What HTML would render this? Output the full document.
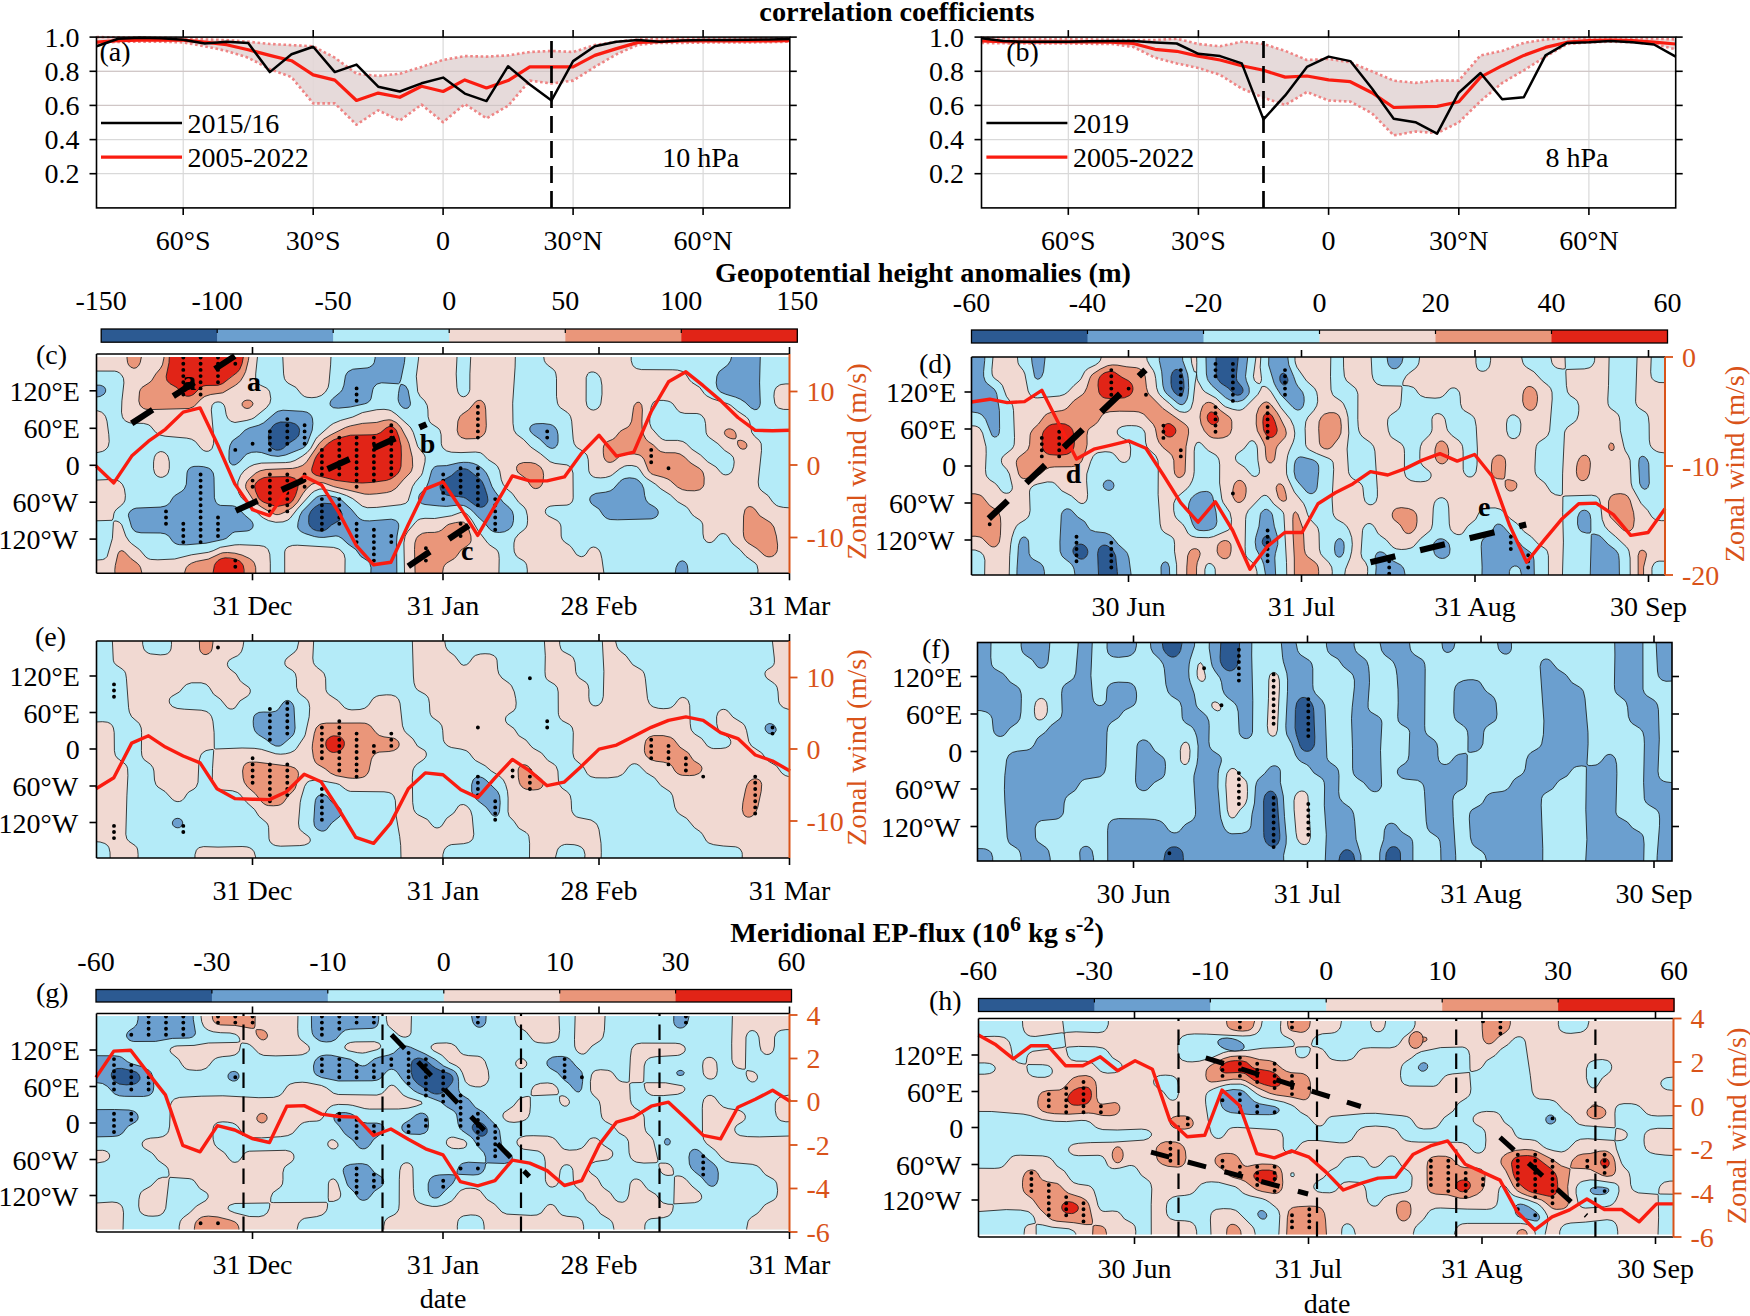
<!DOCTYPE html>
<html><head><meta charset="utf-8"><title>figure</title>
<style>html,body{margin:0;padding:0;background:#fff}svg{display:block}</style></head>
<body>
<svg width="1750" height="1316" viewBox="0 0 1750 1316" font-family="Liberation Serif, serif">
<rect width="1750" height="1316" fill="#fff"/>
<text x="897.0" y="21.3" font-size="28.3" text-anchor="middle" fill="#000" font-weight="bold" >correlation coefficients</text>
<text x="923.0" y="282.2" font-size="28.3" text-anchor="middle" fill="#000" font-weight="bold" >Geopotential height anomalies (m)</text>
<text x="917" y="942.2" font-size="28.3" text-anchor="middle" font-weight="bold">Meridional EP-flux (10<tspan dy="-11" font-size="22">6</tspan><tspan dy="11"> kg s</tspan><tspan dy="-11" font-size="22">-2</tspan><tspan dy="11">)</tspan></text>
<rect x="96.5" y="37.1" width="693.3" height="170.8" fill="#fff"/>
<line x1="96.5" y1="173.7" x2="789.8" y2="173.7" stroke="#d9d9d9" stroke-width="1.2" />
<line x1="96.5" y1="139.6" x2="789.8" y2="139.6" stroke="#d9d9d9" stroke-width="1.2" />
<line x1="96.5" y1="105.4" x2="789.8" y2="105.4" stroke="#d9d9d9" stroke-width="1.2" />
<line x1="96.5" y1="71.3" x2="789.8" y2="71.3" stroke="#d9d9d9" stroke-width="1.2" />
<line x1="183.2" y1="37.1" x2="183.2" y2="207.9" stroke="#d9d9d9" stroke-width="1.2" />
<line x1="313.2" y1="37.1" x2="313.2" y2="207.9" stroke="#d9d9d9" stroke-width="1.2" />
<line x1="443.1" y1="37.1" x2="443.1" y2="207.9" stroke="#d9d9d9" stroke-width="1.2" />
<line x1="573.1" y1="37.1" x2="573.1" y2="207.9" stroke="#d9d9d9" stroke-width="1.2" />
<line x1="703.1" y1="37.1" x2="703.1" y2="207.9" stroke="#d9d9d9" stroke-width="1.2" />
<polygon points="96.5,37.1 118.2,37.4 139.8,37.6 161.5,37.8 183.2,38.3 204.8,39.4 226.5,40.1 248.2,41.7 269.8,44.0 291.5,45.1 313.2,46.3 334.8,57.7 356.5,73.7 378.2,76.0 399.8,73.7 421.5,66.9 443.1,60.0 464.8,56.1 486.5,56.6 508.1,55.4 529.8,52.0 551.5,50.9 573.1,52.0 594.8,45.1 616.5,41.7 638.1,39.4 659.8,38.7 681.5,38.3 703.1,38.3 724.8,38.3 746.5,38.3 768.1,38.3 789.8,38.3 789.8,41.7 768.1,42.2 746.5,42.4 724.8,42.4 703.1,42.6 681.5,42.9 659.8,42.9 638.1,44.7 616.5,54.3 594.8,66.9 573.1,80.6 551.5,83.5 529.8,80.6 508.1,105.7 486.5,118.3 464.8,104.1 443.1,122.2 421.5,104.6 399.8,120.6 378.2,110.3 356.5,124.7 334.8,103.4 313.2,103.4 291.5,77.1 269.8,69.1 248.2,57.7 226.5,50.9 204.8,46.3 183.2,42.4 161.5,41.7 139.8,41.7 118.2,41.9 96.5,42.9" fill="#e3d6d6" fill-opacity="0.9"/>
<line x1="96.5" y1="105.4" x2="789.8" y2="105.4" stroke="#cfc4c4" stroke-width="1.0" />
<line x1="96.5" y1="71.3" x2="789.8" y2="71.3" stroke="#cfc4c4" stroke-width="1.0" />
<polyline points="96.5,37.1 118.2,37.4 139.8,37.6 161.5,37.8 183.2,38.3 204.8,39.4 226.5,40.1 248.2,41.7 269.8,44.0 291.5,45.1 313.2,46.3 334.8,57.7 356.5,73.7 378.2,76.0 399.8,73.7 421.5,66.9 443.1,60.0 464.8,56.1 486.5,56.6 508.1,55.4 529.8,52.0 551.5,50.9 573.1,52.0 594.8,45.1 616.5,41.7 638.1,39.4 659.8,38.7 681.5,38.3 703.1,38.3 724.8,38.3 746.5,38.3 768.1,38.3 789.8,38.3" fill="none" stroke="#ef8585" stroke-width="2.6" stroke-linejoin="round" stroke-dasharray="2.6 2.6"/>
<polyline points="96.5,42.9 118.2,41.9 139.8,41.7 161.5,41.7 183.2,42.4 204.8,46.3 226.5,50.9 248.2,57.7 269.8,69.1 291.5,77.1 313.2,103.4 334.8,103.4 356.5,124.7 378.2,110.3 399.8,120.6 421.5,104.6 443.1,122.2 464.8,104.1 486.5,118.3 508.1,105.7 529.8,80.6 551.5,83.5 573.1,80.6 594.8,66.9 616.5,54.3 638.1,44.7 659.8,42.9 681.5,42.9 703.1,42.6 724.8,42.4 746.5,42.4 768.1,42.2 789.8,41.7" fill="none" stroke="#ef8585" stroke-width="2.6" stroke-linejoin="round" stroke-dasharray="2.6 2.6"/>
<polyline points="96.5,42.2 118.2,40.6 139.8,40.1 161.5,40.1 183.2,40.1 204.8,42.2 226.5,44.7 248.2,49.7 269.8,55.4 291.5,60.7 313.2,74.9 334.8,80.1 356.5,100.5 378.2,93.1 399.8,97.3 421.5,86.3 443.1,91.5 464.8,79.9 486.5,87.9 508.1,80.6 529.8,66.9 551.5,66.9 573.1,66.9 594.8,55.4 616.5,48.6 638.1,42.4 659.8,41.7 681.5,41.0 703.1,40.8 724.8,40.8 746.5,40.8 768.1,40.8 789.8,40.6" fill="none" stroke="#fa1c10" stroke-width="3.2" stroke-linejoin="round" />
<polyline points="96.5,46.3 118.2,38.7 139.8,37.8 161.5,38.3 183.2,39.7 204.8,43.5 226.5,41.7 248.2,43.1 269.8,72.1 291.5,54.3 313.2,46.7 334.8,72.1 356.5,64.6 378.2,86.7 399.8,91.5 421.5,83.3 443.1,77.6 464.8,93.6 486.5,101.1 508.1,66.2 529.8,84.5 551.5,100.5 573.1,61.1 594.8,46.3 616.5,41.7 638.1,40.1 659.8,41.7 681.5,40.6 703.1,40.1 724.8,39.9 746.5,39.7 768.1,39.4 789.8,39.0" fill="none" stroke="#000" stroke-width="2.5" stroke-linejoin="round" />
<line x1="551.5" y1="207.9" x2="551.5" y2="37.1" stroke="#000" stroke-width="2.7" stroke-dasharray="17 8"/>
<rect x="96.5" y="37.1" width="693.3" height="170.8" fill="none" stroke="#000" stroke-width="1.6"/>
<line x1="89.5" y1="173.7" x2="96.5" y2="173.7" stroke="#000" stroke-width="1.6" />
<line x1="789.8" y1="173.7" x2="796.8" y2="173.7" stroke="#000" stroke-width="1.6" />
<text x="79.5" y="183.2" font-size="28" text-anchor="end" fill="#000" >0.2</text>
<line x1="89.5" y1="139.6" x2="96.5" y2="139.6" stroke="#000" stroke-width="1.6" />
<line x1="789.8" y1="139.6" x2="796.8" y2="139.6" stroke="#000" stroke-width="1.6" />
<text x="79.5" y="149.1" font-size="28" text-anchor="end" fill="#000" >0.4</text>
<line x1="89.5" y1="105.4" x2="96.5" y2="105.4" stroke="#000" stroke-width="1.6" />
<line x1="789.8" y1="105.4" x2="796.8" y2="105.4" stroke="#000" stroke-width="1.6" />
<text x="79.5" y="114.9" font-size="28" text-anchor="end" fill="#000" >0.6</text>
<line x1="89.5" y1="71.3" x2="96.5" y2="71.3" stroke="#000" stroke-width="1.6" />
<line x1="789.8" y1="71.3" x2="796.8" y2="71.3" stroke="#000" stroke-width="1.6" />
<text x="79.5" y="80.8" font-size="28" text-anchor="end" fill="#000" >0.8</text>
<line x1="89.5" y1="37.1" x2="96.5" y2="37.1" stroke="#000" stroke-width="1.6" />
<line x1="789.8" y1="37.1" x2="796.8" y2="37.1" stroke="#000" stroke-width="1.6" />
<text x="79.5" y="46.6" font-size="28" text-anchor="end" fill="#000" >1.0</text>
<line x1="183.2" y1="207.9" x2="183.2" y2="214.9" stroke="#000" stroke-width="1.6" />
<line x1="183.2" y1="30.1" x2="183.2" y2="37.1" stroke="#000" stroke-width="1.6" />
<text x="183.2" y="249.9" font-size="28" text-anchor="middle" fill="#000" >60°S</text>
<line x1="313.2" y1="207.9" x2="313.2" y2="214.9" stroke="#000" stroke-width="1.6" />
<line x1="313.2" y1="30.1" x2="313.2" y2="37.1" stroke="#000" stroke-width="1.6" />
<text x="313.2" y="249.9" font-size="28" text-anchor="middle" fill="#000" >30°S</text>
<line x1="443.1" y1="207.9" x2="443.1" y2="214.9" stroke="#000" stroke-width="1.6" />
<line x1="443.1" y1="30.1" x2="443.1" y2="37.1" stroke="#000" stroke-width="1.6" />
<text x="443.1" y="249.9" font-size="28" text-anchor="middle" fill="#000" >0</text>
<line x1="573.1" y1="207.9" x2="573.1" y2="214.9" stroke="#000" stroke-width="1.6" />
<line x1="573.1" y1="30.1" x2="573.1" y2="37.1" stroke="#000" stroke-width="1.6" />
<text x="573.1" y="249.9" font-size="28" text-anchor="middle" fill="#000" >30°N</text>
<line x1="703.1" y1="207.9" x2="703.1" y2="214.9" stroke="#000" stroke-width="1.6" />
<line x1="703.1" y1="30.1" x2="703.1" y2="37.1" stroke="#000" stroke-width="1.6" />
<text x="703.1" y="249.9" font-size="28" text-anchor="middle" fill="#000" >60°N</text>
<line x1="101.0" y1="122.9" x2="182.0" y2="122.9" stroke="#000" stroke-width="2.5" />
<line x1="101.0" y1="157.1" x2="182.0" y2="157.1" stroke="#fa1c10" stroke-width="3.2" />
<text x="187.5" y="132.5" font-size="28" text-anchor="start" fill="#000" >2015/16</text>
<text x="187.5" y="166.5" font-size="28" text-anchor="start" fill="#000" >2005-2022</text>
<text x="99.4" y="61.0" font-size="28" text-anchor="start" fill="#000" >(a)</text>
<text x="662.3" y="166.7" font-size="28" text-anchor="start" fill="#000" >10 hPa</text>
<rect x="981.5" y="37.1" width="694.2" height="170.8" fill="#fff"/>
<line x1="981.5" y1="173.7" x2="1675.7" y2="173.7" stroke="#d9d9d9" stroke-width="1.2" />
<line x1="981.5" y1="139.6" x2="1675.7" y2="139.6" stroke="#d9d9d9" stroke-width="1.2" />
<line x1="981.5" y1="105.4" x2="1675.7" y2="105.4" stroke="#d9d9d9" stroke-width="1.2" />
<line x1="981.5" y1="71.3" x2="1675.7" y2="71.3" stroke="#d9d9d9" stroke-width="1.2" />
<line x1="1068.3" y1="37.1" x2="1068.3" y2="207.9" stroke="#d9d9d9" stroke-width="1.2" />
<line x1="1198.4" y1="37.1" x2="1198.4" y2="207.9" stroke="#d9d9d9" stroke-width="1.2" />
<line x1="1328.6" y1="37.1" x2="1328.6" y2="207.9" stroke="#d9d9d9" stroke-width="1.2" />
<line x1="1458.8" y1="37.1" x2="1458.8" y2="207.9" stroke="#d9d9d9" stroke-width="1.2" />
<line x1="1588.9" y1="37.1" x2="1588.9" y2="207.9" stroke="#d9d9d9" stroke-width="1.2" />
<polygon points="981.5,37.8 1003.2,38.3 1024.9,38.7 1046.6,39.0 1068.3,39.2 1090.0,39.4 1111.7,39.7 1133.4,40.1 1155.0,40.1 1176.7,38.7 1198.4,44.0 1220.1,46.3 1241.8,41.7 1263.5,44.0 1285.2,50.9 1306.9,60.0 1328.6,58.9 1350.3,62.3 1372.0,71.4 1393.7,80.6 1415.4,82.9 1437.1,80.6 1458.8,80.6 1480.5,55.4 1502.2,50.9 1523.8,42.9 1545.5,39.4 1567.2,38.3 1588.9,38.1 1610.6,38.1 1632.3,38.3 1654.0,38.7 1675.7,39.4 1675.7,49.3 1654.0,44.0 1632.3,42.2 1610.6,41.7 1588.9,42.4 1567.2,44.0 1545.5,56.6 1523.8,70.3 1502.2,82.9 1480.5,101.1 1458.8,122.4 1437.1,133.1 1415.4,131.5 1393.7,135.4 1372.0,113.3 1350.3,101.6 1328.6,100.5 1306.9,92.0 1285.2,105.0 1263.5,97.7 1241.8,88.6 1220.1,74.9 1198.4,68.0 1176.7,63.4 1155.0,57.7 1133.4,47.0 1111.7,44.0 1090.0,43.8 1068.3,43.5 1046.6,43.5 1024.9,43.5 1003.2,43.3 981.5,42.9" fill="#e3d6d6" fill-opacity="0.9"/>
<line x1="981.5" y1="105.4" x2="1675.7" y2="105.4" stroke="#cfc4c4" stroke-width="1.0" />
<line x1="981.5" y1="71.3" x2="1675.7" y2="71.3" stroke="#cfc4c4" stroke-width="1.0" />
<polyline points="981.5,37.8 1003.2,38.3 1024.9,38.7 1046.6,39.0 1068.3,39.2 1090.0,39.4 1111.7,39.7 1133.4,40.1 1155.0,40.1 1176.7,38.7 1198.4,44.0 1220.1,46.3 1241.8,41.7 1263.5,44.0 1285.2,50.9 1306.9,60.0 1328.6,58.9 1350.3,62.3 1372.0,71.4 1393.7,80.6 1415.4,82.9 1437.1,80.6 1458.8,80.6 1480.5,55.4 1502.2,50.9 1523.8,42.9 1545.5,39.4 1567.2,38.3 1588.9,38.1 1610.6,38.1 1632.3,38.3 1654.0,38.7 1675.7,39.4" fill="none" stroke="#ef8585" stroke-width="2.6" stroke-linejoin="round" stroke-dasharray="2.6 2.6"/>
<polyline points="981.5,42.9 1003.2,43.3 1024.9,43.5 1046.6,43.5 1068.3,43.5 1090.0,43.8 1111.7,44.0 1133.4,47.0 1155.0,57.7 1176.7,63.4 1198.4,68.0 1220.1,74.9 1241.8,88.6 1263.5,97.7 1285.2,105.0 1306.9,92.0 1328.6,100.5 1350.3,101.6 1372.0,113.3 1393.7,135.4 1415.4,131.5 1437.1,133.1 1458.8,122.4 1480.5,101.1 1502.2,82.9 1523.8,70.3 1545.5,56.6 1567.2,44.0 1588.9,42.4 1610.6,41.7 1632.3,42.2 1654.0,44.0 1675.7,49.3" fill="none" stroke="#ef8585" stroke-width="2.6" stroke-linejoin="round" stroke-dasharray="2.6 2.6"/>
<polyline points="981.5,41.0 1003.2,41.7 1024.9,41.9 1046.6,41.9 1068.3,41.9 1090.0,41.9 1111.7,42.2 1133.4,43.5 1155.0,49.3 1176.7,51.3 1198.4,56.1 1220.1,60.0 1241.8,65.7 1263.5,70.3 1285.2,77.1 1306.9,76.0 1328.6,79.9 1350.3,81.7 1372.0,92.7 1393.7,107.5 1415.4,106.9 1437.1,106.4 1458.8,101.8 1480.5,77.1 1502.2,65.7 1523.8,55.4 1545.5,47.4 1567.2,42.2 1588.9,40.6 1610.6,40.1 1632.3,40.6 1654.0,42.2 1675.7,44.0" fill="none" stroke="#fa1c10" stroke-width="3.2" stroke-linejoin="round" />
<polyline points="981.5,38.3 1003.2,41.0 1024.9,41.7 1046.6,41.7 1068.3,41.7 1090.0,41.3 1111.7,41.0 1133.4,41.0 1155.0,42.4 1176.7,43.5 1198.4,53.8 1220.1,56.1 1241.8,63.4 1263.5,119.4 1285.2,95.4 1306.9,66.9 1328.6,56.6 1350.3,61.1 1372.0,88.6 1393.7,118.7 1415.4,122.2 1437.1,133.6 1458.8,92.7 1480.5,73.0 1502.2,99.3 1523.8,97.3 1545.5,55.4 1567.2,42.9 1588.9,42.2 1610.6,41.0 1632.3,42.2 1654.0,44.5 1675.7,56.6" fill="none" stroke="#000" stroke-width="2.5" stroke-linejoin="round" />
<line x1="1263.5" y1="207.9" x2="1263.5" y2="37.1" stroke="#000" stroke-width="2.7" stroke-dasharray="17 8"/>
<rect x="981.5" y="37.1" width="694.2" height="170.8" fill="none" stroke="#000" stroke-width="1.6"/>
<line x1="974.5" y1="173.7" x2="981.5" y2="173.7" stroke="#000" stroke-width="1.6" />
<line x1="1675.7" y1="173.7" x2="1682.7" y2="173.7" stroke="#000" stroke-width="1.6" />
<text x="964.0" y="183.2" font-size="28" text-anchor="end" fill="#000" >0.2</text>
<line x1="974.5" y1="139.6" x2="981.5" y2="139.6" stroke="#000" stroke-width="1.6" />
<line x1="1675.7" y1="139.6" x2="1682.7" y2="139.6" stroke="#000" stroke-width="1.6" />
<text x="964.0" y="149.1" font-size="28" text-anchor="end" fill="#000" >0.4</text>
<line x1="974.5" y1="105.4" x2="981.5" y2="105.4" stroke="#000" stroke-width="1.6" />
<line x1="1675.7" y1="105.4" x2="1682.7" y2="105.4" stroke="#000" stroke-width="1.6" />
<text x="964.0" y="114.9" font-size="28" text-anchor="end" fill="#000" >0.6</text>
<line x1="974.5" y1="71.3" x2="981.5" y2="71.3" stroke="#000" stroke-width="1.6" />
<line x1="1675.7" y1="71.3" x2="1682.7" y2="71.3" stroke="#000" stroke-width="1.6" />
<text x="964.0" y="80.8" font-size="28" text-anchor="end" fill="#000" >0.8</text>
<line x1="974.5" y1="37.1" x2="981.5" y2="37.1" stroke="#000" stroke-width="1.6" />
<line x1="1675.7" y1="37.1" x2="1682.7" y2="37.1" stroke="#000" stroke-width="1.6" />
<text x="964.0" y="46.6" font-size="28" text-anchor="end" fill="#000" >1.0</text>
<line x1="1068.3" y1="207.9" x2="1068.3" y2="214.9" stroke="#000" stroke-width="1.6" />
<line x1="1068.3" y1="30.1" x2="1068.3" y2="37.1" stroke="#000" stroke-width="1.6" />
<text x="1068.3" y="249.9" font-size="28" text-anchor="middle" fill="#000" >60°S</text>
<line x1="1198.4" y1="207.9" x2="1198.4" y2="214.9" stroke="#000" stroke-width="1.6" />
<line x1="1198.4" y1="30.1" x2="1198.4" y2="37.1" stroke="#000" stroke-width="1.6" />
<text x="1198.4" y="249.9" font-size="28" text-anchor="middle" fill="#000" >30°S</text>
<line x1="1328.6" y1="207.9" x2="1328.6" y2="214.9" stroke="#000" stroke-width="1.6" />
<line x1="1328.6" y1="30.1" x2="1328.6" y2="37.1" stroke="#000" stroke-width="1.6" />
<text x="1328.6" y="249.9" font-size="28" text-anchor="middle" fill="#000" >0</text>
<line x1="1458.8" y1="207.9" x2="1458.8" y2="214.9" stroke="#000" stroke-width="1.6" />
<line x1="1458.8" y1="30.1" x2="1458.8" y2="37.1" stroke="#000" stroke-width="1.6" />
<text x="1458.8" y="249.9" font-size="28" text-anchor="middle" fill="#000" >30°N</text>
<line x1="1588.9" y1="207.9" x2="1588.9" y2="214.9" stroke="#000" stroke-width="1.6" />
<line x1="1588.9" y1="30.1" x2="1588.9" y2="37.1" stroke="#000" stroke-width="1.6" />
<text x="1588.9" y="249.9" font-size="28" text-anchor="middle" fill="#000" >60°N</text>
<line x1="986.4" y1="122.9" x2="1067.4" y2="122.9" stroke="#000" stroke-width="2.5" />
<line x1="986.4" y1="157.1" x2="1067.4" y2="157.1" stroke="#fa1c10" stroke-width="3.2" />
<text x="1072.9" y="132.5" font-size="28" text-anchor="start" fill="#000" >2019</text>
<text x="1072.9" y="166.5" font-size="28" text-anchor="start" fill="#000" >2005-2022</text>
<text x="1006.3" y="61.0" font-size="28" text-anchor="start" fill="#000" >(b)</text>
<text x="1545.5" y="166.7" font-size="28" text-anchor="start" fill="#000" >8 hPa</text>
<rect x="101.2" y="329" width="116.5" height="13.2" fill="#2c5a92"/>
<rect x="217.2" y="329" width="116.5" height="13.2" fill="#6b9fcf"/>
<rect x="333.2" y="329" width="116.5" height="13.2" fill="#b4ebf8"/>
<rect x="449.2" y="329" width="116.5" height="13.2" fill="#f1d9d2"/>
<rect x="565.3" y="329" width="116.5" height="13.2" fill="#ea967a"/>
<rect x="681.3" y="329" width="116.5" height="13.2" fill="#e12417"/>
<rect x="101.2" y="329" width="696.1" height="13.2" fill="none" stroke="#000" stroke-width="1.3"/>
<text x="101.2" y="310.2" font-size="28" text-anchor="middle" fill="#000" >-150</text>
<line x1="217.2" y1="329.0" x2="217.2" y2="333.0" stroke="#000" stroke-width="1.2" />
<text x="217.2" y="310.2" font-size="28" text-anchor="middle" fill="#000" >-100</text>
<line x1="333.2" y1="329.0" x2="333.2" y2="333.0" stroke="#000" stroke-width="1.2" />
<text x="333.2" y="310.2" font-size="28" text-anchor="middle" fill="#000" >-50</text>
<line x1="449.2" y1="329.0" x2="449.2" y2="333.0" stroke="#000" stroke-width="1.2" />
<text x="449.2" y="310.2" font-size="28" text-anchor="middle" fill="#000" >0</text>
<line x1="565.3" y1="329.0" x2="565.3" y2="333.0" stroke="#000" stroke-width="1.2" />
<text x="565.3" y="310.2" font-size="28" text-anchor="middle" fill="#000" >50</text>
<line x1="681.3" y1="329.0" x2="681.3" y2="333.0" stroke="#000" stroke-width="1.2" />
<text x="681.3" y="310.2" font-size="28" text-anchor="middle" fill="#000" >100</text>
<text x="797.3" y="310.2" font-size="28" text-anchor="middle" fill="#000" >150</text>
<rect x="971.5" y="330" width="116.5" height="13.0" fill="#2c5a92"/>
<rect x="1087.5" y="330" width="116.5" height="13.0" fill="#6b9fcf"/>
<rect x="1203.5" y="330" width="116.5" height="13.0" fill="#b4ebf8"/>
<rect x="1319.5" y="330" width="116.5" height="13.0" fill="#f1d9d2"/>
<rect x="1435.5" y="330" width="116.5" height="13.0" fill="#ea967a"/>
<rect x="1551.5" y="330" width="116.5" height="13.0" fill="#e12417"/>
<rect x="971.5" y="330" width="696.0" height="13.0" fill="none" stroke="#000" stroke-width="1.3"/>
<text x="971.5" y="311.7" font-size="28" text-anchor="middle" fill="#000" >-60</text>
<line x1="1087.5" y1="330.0" x2="1087.5" y2="334.0" stroke="#000" stroke-width="1.2" />
<text x="1087.5" y="311.7" font-size="28" text-anchor="middle" fill="#000" >-40</text>
<line x1="1203.5" y1="330.0" x2="1203.5" y2="334.0" stroke="#000" stroke-width="1.2" />
<text x="1203.5" y="311.7" font-size="28" text-anchor="middle" fill="#000" >-20</text>
<line x1="1319.5" y1="330.0" x2="1319.5" y2="334.0" stroke="#000" stroke-width="1.2" />
<text x="1319.5" y="311.7" font-size="28" text-anchor="middle" fill="#000" >0</text>
<line x1="1435.5" y1="330.0" x2="1435.5" y2="334.0" stroke="#000" stroke-width="1.2" />
<text x="1435.5" y="311.7" font-size="28" text-anchor="middle" fill="#000" >20</text>
<line x1="1551.5" y1="330.0" x2="1551.5" y2="334.0" stroke="#000" stroke-width="1.2" />
<text x="1551.5" y="311.7" font-size="28" text-anchor="middle" fill="#000" >40</text>
<text x="1667.5" y="311.7" font-size="28" text-anchor="middle" fill="#000" >60</text>
<rect x="96.0" y="989.5" width="116.4" height="12.5" fill="#2c5a92"/>
<rect x="211.9" y="989.5" width="116.4" height="12.5" fill="#6b9fcf"/>
<rect x="327.8" y="989.5" width="116.4" height="12.5" fill="#b4ebf8"/>
<rect x="443.8" y="989.5" width="116.4" height="12.5" fill="#f1d9d2"/>
<rect x="559.7" y="989.5" width="116.4" height="12.5" fill="#ea967a"/>
<rect x="675.6" y="989.5" width="116.4" height="12.5" fill="#e12417"/>
<rect x="96" y="989.5" width="695.5" height="12.5" fill="none" stroke="#000" stroke-width="1.3"/>
<text x="96.0" y="971.2" font-size="28" text-anchor="middle" fill="#000" >-60</text>
<line x1="211.9" y1="989.5" x2="211.9" y2="993.5" stroke="#000" stroke-width="1.2" />
<text x="211.9" y="971.2" font-size="28" text-anchor="middle" fill="#000" >-30</text>
<line x1="327.8" y1="989.5" x2="327.8" y2="993.5" stroke="#000" stroke-width="1.2" />
<text x="327.8" y="971.2" font-size="28" text-anchor="middle" fill="#000" >-10</text>
<line x1="443.8" y1="989.5" x2="443.8" y2="993.5" stroke="#000" stroke-width="1.2" />
<text x="443.8" y="971.2" font-size="28" text-anchor="middle" fill="#000" >0</text>
<line x1="559.7" y1="989.5" x2="559.7" y2="993.5" stroke="#000" stroke-width="1.2" />
<text x="559.7" y="971.2" font-size="28" text-anchor="middle" fill="#000" >10</text>
<line x1="675.6" y1="989.5" x2="675.6" y2="993.5" stroke="#000" stroke-width="1.2" />
<text x="675.6" y="971.2" font-size="28" text-anchor="middle" fill="#000" >30</text>
<text x="791.5" y="971.2" font-size="28" text-anchor="middle" fill="#000" >60</text>
<rect x="978.5" y="998.5" width="116.4" height="13.0" fill="#2c5a92"/>
<rect x="1094.4" y="998.5" width="116.4" height="13.0" fill="#6b9fcf"/>
<rect x="1210.3" y="998.5" width="116.4" height="13.0" fill="#b4ebf8"/>
<rect x="1326.2" y="998.5" width="116.4" height="13.0" fill="#f1d9d2"/>
<rect x="1442.2" y="998.5" width="116.4" height="13.0" fill="#ea967a"/>
<rect x="1558.1" y="998.5" width="116.4" height="13.0" fill="#e12417"/>
<rect x="978.5" y="998.5" width="695.5" height="13.0" fill="none" stroke="#000" stroke-width="1.3"/>
<text x="978.5" y="979.7" font-size="28" text-anchor="middle" fill="#000" >-60</text>
<line x1="1094.4" y1="998.5" x2="1094.4" y2="1002.5" stroke="#000" stroke-width="1.2" />
<text x="1094.4" y="979.7" font-size="28" text-anchor="middle" fill="#000" >-30</text>
<line x1="1210.3" y1="998.5" x2="1210.3" y2="1002.5" stroke="#000" stroke-width="1.2" />
<text x="1210.3" y="979.7" font-size="28" text-anchor="middle" fill="#000" >-10</text>
<line x1="1326.2" y1="998.5" x2="1326.2" y2="1002.5" stroke="#000" stroke-width="1.2" />
<text x="1326.2" y="979.7" font-size="28" text-anchor="middle" fill="#000" >0</text>
<line x1="1442.2" y1="998.5" x2="1442.2" y2="1002.5" stroke="#000" stroke-width="1.2" />
<text x="1442.2" y="979.7" font-size="28" text-anchor="middle" fill="#000" >10</text>
<line x1="1558.1" y1="998.5" x2="1558.1" y2="1002.5" stroke="#000" stroke-width="1.2" />
<text x="1558.1" y="979.7" font-size="28" text-anchor="middle" fill="#000" >30</text>
<text x="1674.0" y="979.7" font-size="28" text-anchor="middle" fill="#000" >60</text>
<clipPath id="clipc"><rect x="96.5" y="357" width="693.0" height="216.3"/></clipPath>
<rect x="96.5" y="354" width="693.0" height="219.3" fill="#fff"/>
<g clip-path="url(#clipc)">
<rect x="96.5" y="357" width="693.0" height="216.3" fill="#b4ebf8"/>
<path d="M295 423.8l2.6 1.9l1.4 2.3l0.6 2.2l-0.6 4.5l-1.6 2.5l-2.3 2l-6.9 4.5l-4.9 4.6l-2.7 1.4l-2.4 0.5l-2.4-0.1l-3.8-1.8l-2-2.3l-1-2.3l-0.7-6.7l0.7-4.5l0.8-2.3l3.3-4.5l2.7-2.1l4.8-1.6l9.6 0.3zM441.4 482l2.4-2.2l7.6-4.2l4.8-4.2l2.4-1.5l4.9-1.2l2.4 0.3l2.4 0.9l12 9.5l2 2.6l2.1 4.6l2.9 9l0.6 4.5l-0.4 2.2l-2.4 3.4l-2.4 1.3l-2.4 0.3l-4.8-1.8l-9.6-7.1l-2.4-1l-4.9-0.9l-7.2-0.4l-4.8-1.1l-3.1-1.7l-2.1-2.2l-1-2.3l-0.3-2.2l0.3-2.3zM335.9 505.5l4 3.6l2.1 4.5l0.1 2.2l-0.7 2.3l-1.9 2.3l-7.8 4.5l-5.2 4.5l-2.6 1.2l-2.4 0.6l-4.8-0.5l-3.4-1.3l-2.7-2.3l-1.3-2.2l-0.7-2.3l0.2-6.8l2-4.5l3.5-3.8l4.8-3.1l4.8-1.1l7.2 0.4z" fill="#2c5a92" fill-rule="evenodd"/>
<path d="M405.7 344.6l-0.4 9l-0.9 9l-3.5 16.9l-1.3 3.4l-1.1 0.9l-16.9-1l-4.8 1.3l-3.1 3.3l-0.9 2.3l-1.8 9l-1.3 2.2l-2.5 2l-2.4 0.9l-16.8 3.7l-7.3 0.6l-7.2-0.3l-3.2-2.4l-0.3-2.2l0.8-2.3l2.7-3l7.2-6l1.6-2.2l1.6-4.5l1.5-9l1-2.3l1.8-2.3l2.2-1.4l4.8-1.5l12-0.8l2.5-0.8l3.1-2.2l1.4-2.3l0.9-4.5l0.3-13.5zM732.3 344.6l28.3 0l-1 38.3l0.7 20.3l-0.9 3.6l-2.4 2.6l-2.4 0.3l-2.4-1l-7.2-6.5l-4.8-3.1l-4.8-2l-9.8-2.9l-4.7-2l-2.7-2.5l-1.2-2.3l-0.8-4.5l0.7-6.7l2.3-4.6l8.6-6.7l2.7-4.2l1.3-4.8zM83.3 384.8l14.4 0.1l4.8 1.1l2.4 1.8l0.8 1.9l-0.2 2.2l-1.5 2.3l-3.9 2.3l-4.8 0.7l-12 0zM400.9 384.3l2.4 0.5l2.4 1.3l2.4 4.1l2.4 13l-0.4 2.2l-2 2.6l-2.4 0.5l-2.4-0.6l-2.9-2.5l-1.9-3.8l-0.4-2.9l0.4-5.3l1-6zM311.8 416.7l0.7 2.3l0.4 4.5l-0.7 6.7l-5 13.5l-2.6 3.2l-2 1.4l-16.9 6.7l-7.5 1.4l-7.2-0.8l-9.7-3.1l-4.8-0.5l-4.8 0.3l-4.8 1.7l-2.4 2.1l-4.8 5.6l-3.1 2.3l-1.7 0.9l-2.4 0l-2.5-1.9l-1.1-3.5l0.2-9l0.9-5.2l2.5-4.5l7.2-5.3l5.3-5.3l4.3-2.3l9.6-2.7l4.8-2.4l12.1-10.3l2.4-1.3l4.8-1l19.2 1.1l4.8 0.9l3.4 2.3zM295 423.8l-4.8-1.5l-9.6-0.3l-4.8 1.6l-2.7 2.1l-3.3 4.5l-0.8 2.3l-0.7 4.5l0.7 6.7l1 2.3l2 2.3l3.8 1.8l2.4 0.1l2.4-0.5l2.7-1.4l4.9-4.6l6.9-4.5l2.3-2l1.6-2.5l0.6-4.5l-0.6-2.2l-1.4-2.3zM531.2 425.7l2-1.2l2.4-0.7l7.3-0.3l7.2 0.9l2.4 0.9l2.4 1.7l2.1 3.2l1 4.5l0.1 6.8l-0.4 2.2l-1.1 2.3l-1.7 1.6l-2.4 0.8l-2.4-0.4l-3.3-2l-6.9-6.8l-6.3-4.5l-2.4-2.2l-1.3-2.3l-0.1-2.2zM433 468.5l1.6-1.5l2.4-1l9.6-0.4l12-2.8l4.9-0.5l4.8 0.1l4.8 0.9l4.8 2l4.8 3.5l3.6 4.2l2.3 4.5l3.4 9.1l2.7 4.5l8.5 11.2l6 5.2l3.1 3.8l1.2 4.5l0 4.6l-1 4.5l-1.3 2.2l-2.1 2.3l-4.7 2.4l-4.9 0.7l-4.8-0.4l-2.4-1l-2.4-1.7l-5.6-6.8l-6.4-5.8l-5.1-5.5l-2.6-2.2l-4.3-2.7l-2.4-0.9l-4.9-0.5l-12 1.4l-7.2-0.4l-14.4-1.5l-2.5-0.7l-2.4-1.4l-1.2-2.3l-0.3-2.3l0.5-2.2l1.3-2.3l4.6-4.4l1.6-2.3l1.9-4.6l3.1-11.2zM441.4 482l-1 2.3l-0.3 2.3l0.3 2.2l1 2.3l2.1 2.2l3.1 1.7l4.8 1.1l7.2 0.4l4.9 0.9l2.4 1l9.6 7.1l4.8 1.8l2.4-0.3l2.4-1.3l2.4-3.4l0.4-2.2l-0.6-4.5l-2.9-9l-2.1-4.6l-2-2.6l-12-9.5l-2.4-0.9l-2.4-0.3l-4.9 1.2l-2.4 1.5l-4.8 4.2l-7.6 4.2zM253.2 524.9l-0.3 2.2l-1.2 1.8l-2.4 1.5l-2.4 0.6l-12 0.9l-2.4 1l-6.3 5.5l-3.4 1.2l-16.8 3.6l-19.3 1.6l-7.2-0.1l-2.4-0.5l-2.8-1.3l-2-2l-3.4-4.8l-3.8-2.3l-4.8-0.8l-19.3-0.2l-4.8-0.9l-2.4-1.6l-2.2-3.2l-3.2-11.3l0.3-2.2l1.4-2.3l3-2.2l3.1-1l24.1-1l4.8-1l2.4-1.2l2.4-2.4l2.9-4.7l1.9-2.1l7.2-4.5l2.5-2.4l1.9-4.5l0.7-11.3l0.6-2.2l1.5-2.2l2.4-1.5l2.5-0.7l4.9-0.1l4.7 0.4l4.8 1.3l2.4 1.5l2.4 3.5l0.8 4.5l0.4 20.3l1.5 4.5l2.1 2.1l2.4 1l12.1 0.4l2.4 0.6l2.4 1.3l2.4 2l4.8 5.2l6.5 5.5l1.5 2.2zM590 497.8l1.5-2.2l4.3-2.2l9.6-1.2l4.8-1.3l3.2-2.1l6.5-7.3l2.4-1.9l2.4-1.1l4.8-0.7l4.8 0.6l2.4 0.9l2.4 1.8l2.8 3.2l1.9 4.5l0.9 6.8l1.3 4.5l2.7 3.4l5.7 3.3l2.7 2.3l1.1 2.2l0 2.3l-1 2.2l-1.2 1.2l-2.5 1.3l-2.4 0.6l-33.6 0.9l-7.3-0.3l-2.4-0.7l-2.4-1.3l-2.4-2.5l-3.9-5.9l-6.6-4.5l-1.5-1.6l-1.3-2.9zM302.3 511.3l12-12.2l2.4-1.9l4.8-1.8l4.8 0l9.6 1.8l5.7 2.9l9.6 9l6.4 7.7l2.4 2.1l2.4 1.2l2.4 0.6l4.8 0.2l21.7-1.7l2.4 0.4l2.4 1l1.9 2l0.7 2.3l-2 15.7l0.3 45.1l-26.5 0l0.5-18l-1.2-4.5l-2-2.3l-7-4.5l-4.9-6.8l-7.9-5.6l-7.3-6.6l-2.4-1.1l-2.4-0.4l-12 1.5l-7.2-0.5l-9.7-2.5l-5.9-2.8l-2.4-2.2l-1-2.3l-0.1-2.2l2.2-9.1zM335.9 505.5l-4.8-1.8l-7.2-0.4l-4.8 1.1l-4.8 3.1l-3.5 3.8l-2 4.5l-0.2 6.8l0.7 2.3l1.3 2.2l2.7 2.3l3.4 1.3l4.8 0.5l2.4-0.6l2.6-1.2l5.2-4.5l7.8-4.5l1.9-2.3l0.7-2.3l-0.1-2.2l-2.1-4.5zM684.8 561.7l2.4 3.5l0.5 2.5l-0.3 18l-12.6 0l0.5-13.5l1.4-6.8l1.4-2.2l1.9-1.7l2.4-0.7z" fill="#6b9fcf" fill-rule="evenodd"/>
<path d="M83.3 344.6l44.1 0l-0.4 13.5l0.6 4.5l1 2.3l2.1 2.2l3.1 1.2l2.4-0.5l2.4-2.1l1.6-3.1l1.4-6.7l0.8-11.3l22.2 0l-0.7 13.5l-1.5 6.8l-2.1 3.7l-4.5 5.3l-4.2 6.8l-2.6 2.2l-7 4.5l-1.7 2.3l-0.8 2.2l-0.7 9l1.3 4.5l3.3 3l2.4 0.8l4.8 0.4l38.5-1.1l4.9-2l7.5-7.8l4.5-2.8l4.8-1.4l9.6-1l4.8-1.8l13.3-8.8l2.1-2.2l2.8-4.5l2.9-6.8l1.7-6.8l1.4-9l0.6-9l8.2 0l-0.4 9l-2.1 20.3l0 4.5l0.4 2.3l1.3 2.2l3.1 2.3l5.6 2.6l2.3 1.9l1.3 2.2l1.1 6.8l-0.9 4.5l-3.4 4.5l-12.4 10.1l-2.4 1.2l-4.8 1.4l-12 2.1l-4.2-1.3l-3.1-3.1l-1.4-3.6l-1.2-6.8l-0.8-2.3l-1.4-1.8l-2.4-1.4l-2.4-0.3l-2.4 0.4l-1.8 0.9l-1.7 2.2l-0.8 4.5l2.4 27.1l-0.1 6.7l-0.4 2.3l-2.4 3.9l-2.4 1.3l-2.4 0.1l-2.4-0.8l-2.4-1.9l-4.8-6.2l-2.4-2l-2.5-1.2l-4.8-1.1l-21.6-1.9l-4.8-1.1l-4.5-2.6l-5.2-6.3l-2.4-1.6l-4.8-1.2l-12-0.3l-2.4-0.5l-3.1-1.4l-2.4-2.2l-1.1-2.3l-0.9-4.5l0.4-11.3l2-18l-0.4-4.5l-1-2.2l-3.1-3.3l-2.4-1.3l-2.5-0.5l-31.2-0.1zM242.2 403.2l0 2.2l1.9 2.3l2.8 0.8l2.4-0.4l3.2-2.7l0.5-2.2l-1.8-2.3l-1.9-0.7l-2.4-0.1l-2.7 0.8zM282.2 344.6l49.3 0l-0.5 15.8l-2.3 24.6l-1.6 4.7l-3.2 3.8l-2.4 1.9l-4.8 1.8l-7.2 0.4l-4.9-1l-3.2-2.4l-5.5-6.8l-8.1-4.4l-2.3-2.3l-1.1-2.3l-0.8-4.5zM419.3 344.6l38.3 0l-1.4 29.3l0.7 13.5l1 4.5l1.1 2.3l2 1.9l2.5 0.7l2.4-0.8l2-1.8l1.3-2.3l0.6-2.2l0.1-15.8l1.4-29.3l44.3 0l-0.5 22.5l-2.4 36.1l0.3 20.3l1 6.7l2.4 3.9l7.2 5.4l7.2 7.5l9.7 6.7l9.6 8l4.8 1.7l12 1.5l2.6 1.4l2 2.2l1.5 4.5l0.2 24.8l-0.4 2.3l-1 2.2l-2.5 2l-2.4 0.8l-12 0.5l-4.8 0.6l-2.4 1.1l-1.8 1.8l-0.6 2.5l0.6 2l2.1 2.2l9 4.6l2.4 2.2l1.2 2.3l0.4 2.2l0.2 9l0.9 3l2.4 2.9l4.8 3.2l2.3 2.2l4.9 7.2l3.4 1.8l1.5 0.3l2.4-0.6l2.4-2.1l2.6-4.4l2.2-1.9l2.4-0.7l2.4 0.5l2.9 2.1l1.9 3.4l1.3 5.7l2.2 15.7l0.6 11.3l-77.6 0l0.2-15.8l-0.6-4.5l-0.9-2.2l-2-2.3l-5-2.9l-2.4-1.9l-2.1-4.2l-0.4-4.5l0.1-4.5l1.2-4.5l3.6-4.5l5.7-4.5l1.8-2.3l0.9-2.2l0.4-4.5l-0.2-4.6l-1.4-5.9l-2.1-3.1l-5.2-4.5l-6.5-9l-5.5-4.5l-3.6-4.5l-1.8-4.5l-1.6-9l-2.2-4.5l-2.4-2.3l-7-4.5l-5.4-5.4l-2.4-1.4l-4.8-0.7l-14.5 0.6l-9.6-0.4l-4.8-1.3l-3.4-2.6l-1.3-2.3l-0.6-2.3l-0.2-9l-1.2-4.5l-1.9-2.2l-6.8-4.5l-1.8-2.3l-1.3-4.5l-0.2-6.8l-0.7-4.5l-2.5-4.5l-4.6-4.6l-2.4-4.6l-1.4-15.5l2.3-18.1zM481.8 400.9l-1.5-0.6l-2.4 0.2l-2.4 1.3l-7 8.1l-6.7 4.6l-2 2.2l-1.9 4.5l-0.7 9l1.2 4.5l2.6 2.7l4.9 1.5l9.6-0.3l5.4-1.6l2.8-2.3l1.4-2.2l0.7-2.3l0.5-4.5l-0.6-15.8l-0.7-4.5l-1-2.2zM518.8 464l-1.9 2.3l-0.4 2.2l0.5 2.3l1.5 2.2l7.5 5.5l4.8 7.3l2.4 2.2l2.4 0.6l2.4-0.4l2.5-1.5l1.6-2.4l0.9-2.3l0.6-6.7l-0.7-4.5l-2.4-3.9l-4.9-3.2l-4.8-1.1l-7.2-0.1zM543.5 344.6l87.7 0l0 15.8l1.3 4.5l1.8 2.2l2.4 1.5l4.8 1l31.3 0.2l4.8 0.3l4.8 1.3l3.2 2.5l4 6.2l2.4 2.4l7.7 4.9l4.4 6l2.4 2.4l5.6 2.9l16 5.2l2.8 1.5l6.9 5.8l8.2 5.5l2.2 2.3l1.3 2.2l2.3 11.3l2.8 3.8l4.8 4.2l1.8 3.2l0.3 6.8l-3.3 31.5l0.6 4.6l1.1 2.2l2.1 2.3l6.1 4.5l4.8 6.7l3.4 3l2.4 1.1l4.8 1l19.2 1.4l0 76.9l-45.5 0l0.8-15.8l-1-4.5l-1.7-2.2l-9.3-6.8l-6.1-6.8l-6.9-5.6l-2.5-3.1l-2.4-4.3l-2.4-2.3l-2.4-0.8l-2.5 0.4l-2.3 1.5l-4.8 5.6l-2.4 1.4l-2.4 0.2l-2.4-0.8l-2.7-3.4l-0.8-4.5l-0.2-9l-0.8-2.3l-1.6-2.2l-5.9-3.9l-2.5-2.1l-3.5-5.3l-2.1-2.3l-8.8-5.1l-7.2-6.8l-9.6-6.1l-5.1-4.5l-9.4-6.1l-2.8-2.9l-4.4-6.7l-2.4-2l-4.8-1.1l-4.8 0.1l-2.4 0.5l-4.8 2.6l-7.3 5.9l-2.4 1.5l-4.8 1.4l-4.8 0.4l-4.8-0.3l-2.4-0.8l-2.2-1.5l-1.6-2.3l-0.8-2.2l-0.6-11.3l-1.3-4.5l-3.1-3.2l-7.3-4.6l-2.3-3.5l-1-4.5l-1.5-18l-1.1-4.5l-1.3-2.2l-2.3-2.3l-6.7-4.5l-1.8-2.3l-1-2.2l-1-6.8l0-18l-0.6-4.5l-0.8-2.3l-1.7-2.2l-6-4.5l-2-2.3l-1.1-2.2l-0.7-4.5zM591 372l-2.4 1l-0.9 0.9l-1.5 3.7l-0.1 23.3l0.8 4.5l1.3 2.3l2.8 1.9l2.4 0.5l2.4-0.6l2.4-1.5l1.8-2.6l0.9-2.2l1.1-9l-0.1-9l-1.2-6.8l-2.5-3.8l-2.4-1.8l-2.4-0.8zM636.7 402.5l-2.4 2.8l-0.8 2.4l-1.9 13.5l-2.1 4.3l-2.4 2.1l-4.8 2.4l-2.4 1.7l-4.9 6l-2.4 1.7l-5 2.1l-2.8 2.2l-1.1 2.3l-0.4 2.3l0 4.5l0.6 4.5l1.5 3l2.4 1.8l2.4 0.3l2.4-0.6l2.4-1.5l4.9-4.3l4.8-1.9l9.6-0.2l4.8 1l2.4 1.4l2.4 2.8l4.6 11.7l2.6 2.8l2.4 1.1l9.7 2.6l4.8 1.8l2.4 1.6l7.2 6.4l4.8 2.5l4.8 1l7.3 0.2l4.8-0.9l1.8-1.1l2-2.2l0.9-2.3l0.2-6.8l-1-4.5l-1.3-2.2l-2.3-2.3l-7.6-4.7l-2.7-2l-4.5-4.6l-4.8-3.2l-4.8-1.2l-9.6-0.1l-4.8-1.1l-2.4-1.7l-4.9-4.8l-5.2-3.6l-2.4-2.3l-2.3-4.5l-1.5-6.7l-0.2-6.8l0.5-11.3l-0.6-4.5l-1.4-2.2l-1.3-1zM653.5 402.2l-1.8 3.2l-0.7 2.3l-1.3 11.3l0.1 4.5l1.6 4.5l8 9l2.9 2.2l3.3 1.2l12 0l5.3 1.1l3.4 2.2l5.7 5.6l8.6 5.7l7.1 6.8l8.4 5.2l4.8 5.6l2.4 1.8l2.4 0.5l2.4-0.4l2.5-1.5l1.6-2.2l1.5-4.5l0.5-4.5l-0.9-4.5l-2.8-3.1l-5.7-3.7l-6.9-6.8l-9.3-6.7l-1.7-2.3l-0.8-2.2l-0.6-9l-1-4.5l-2.8-3.6l-2.4-1.3l-2.4-0.6l-12.1-0.1l-4.8-1.2l-2.7-2.3l-4.5-6.2l-2.4-1.7l-2.4-0.9l-4.8-0.7l-4.8 0l-2.4 0.4zM725.4 430.2l-1 2.3l0.6 2.2l2.3 2.3l3.2 1.4l2.5 0.5l2.4-0.2l0.8-1.7l-0.1-2.3l-0.7-2.2l-1.8-2.3l-3.1-1.3l-2.4 0zM737.8 440.7l-0.3 3l0.9 2.3l1.8 2.3l2.4 0.9l2.4-0.3l0.8-0.6l1.2-2.3l-0.5-2.3l-1.5-1.7l-2.4-1.3l-2.4-0.5zM747.4 507.1l-2.4 2.7l-1.4 6l-0.3 15.8l0.4 4.5l0.7 2.3l1.3 2.2l2.3 2.3l9 5.7l7.2 6.6l2.4 1.3l2.4 0.4l2.5-0.3l2.4-1.1l1.4-1.4l1.5-2.2l0.6-2.3l0.2-4.5l-1.2-9l-2.5-9.1l-3.3-4.4l-10.8-6.8l-5-6.7l-2.6-2l-2.4-0.6zM776.3 387.4l2.4-1.9l4.8-1.4l19.2 0l0 25.6l-19.2-0.3l-2.4-0.4l-3-1.3l-2.3-2.3l-1-2.2l-0.8-4.5l0.3-6.8zM425.2 457.3l-0.2 4.5l-2.5 10.9l-1.2 2.6l-6 6.9l-2.8 4.4l-4.4 14.2l-2.4 2.5l-4.8 1.4l-24.1 2.7l-9.6 0.3l-4.8-1.5l-9.6-7.5l-6.2-3.1l-8.3-2.9l-12-2.9l-4.8-0.8l-2.4 0.2l-4.6 1.9l-3 2.2l-14.2 15.8l-7.1 9l-2.4 2l-4.8 1.8l-7.2 0.4l-7.3-1.7l-4.8-2.4l-2.4-1.7l-19.8-18.7l-2.6-4.5l-1.2-4.5l0.2-6.8l2.7-6.7l3.5-4.5l5.2-4l4.8-2.2l7.2-1.5l24.1-0.5l4.8-0.5l4.8-1.6l7.2-4.3l4.8-3.6l3.8-4.3l4.9-9.1l1.7-2.2l12.7-11.3l3.2-2.2l7.4-3.1l12.1-3.4l9.6-4.4l14.4-2.9l7.2-0.4l4.9 0.7l2.4 0.9l4.8 3.3l12.8 11.5l2 2.3l2.4 4.5l4.4 14l6.8 8.5zM412.3 457.3l-3.3-13.6l-1.8-4.5l-6-11.2l-2.7-3.4l-2.4-2.2l-4.8-2.3l-2.4-0.3l-4.9 0.6l-7.2 2l-14.4 1l-12 2.5l-4.9 1.6l-14.4 7.2l-7.2 4.3l-4.8 4.6l-12.1 17.7l-2.4 2.6l-2.4 1.7l-4.8 1.8l-4.8 1l-26.5 1.1l-6 1.3l-4.2 2.2l-6.6 5.7l-2.6 3.3l-0.9 2.3l-0.2 2.3l0.5 2.2l7.2 11.3l3.2 3.4l4.8 3.5l9.7 5.7l4.8 1.9l2.4 0l2.4-0.6l4.8-2.1l7.2-4.5l4.9-5.1l5.6-9l3.9-5l4.9-4.1l4.8-1.6l2.4-0.2l4.8 0.6l9.8 3.6l31.1 7.5l4.8 0.2l7.2-0.5l9.7-1.2l4.8-1.3l4.8-3.1l7.2-8.4l6.7-6.8l1.5-2.2l1.2-4.5zM83.3 410.3l12 0.2l4.8 1l2.4 1.3l1.7 1.7l1.4 2.2l2.1 9l1.5 15.8l-0.9 4.5l-1.3 2.3l-2.7 2.2l-6.6 2.1l-14.4 1.4zM160.3 451.6l2.4 0.2l2.2 1l2.3 2.2l1.1 2.3l1 4.5l0 6.7l-1.2 4.5l-1.7 2.3l-3.7 1.9l-2.4 0.1l-2.4-0.8l-1.7-1.2l-1.6-2.3l-1.1-4.5l0.1-6.7l0.8-4.5l1.1-2.4l2-2.1zM121.8 483.5l1.8 3.1l1.3 4.5l0.5 4.5l-0.4 4.5l-1 2.2l-1.8 2.3l-5.5 4.5l-1.8 2.2l-1 2.3l-0.7 4.5l-1.1 2.2l-28.8 0.9l0-40.5l28.8-1.1l4.9 0.7l2.4 1.1zM498.1 551.9l0.7 2.2l0.4 4.6l-0.5 27l-56.1 0l0.1-13.5l0.7-4.5l1.1-2.3l2.1-2.3l7.5-4.4l2.3-2.3l4.6-6.3l7.3-4.9l2-2.3l0.8-2.3l0.1-2.2l-2.9-10.7l-2.4-3.8l-2.4-1.7l-2.5-0.3l-9.6 1.6l-3.8 1.4l-5.8 5l-3.2 1.7l-4 0.8l-7.2 0.1l-4.9 0.8l-2.4 1.2l-2.4 2l-2.3 4.1l-0.5 2.3l-0.4 13.5l0.9 29.3l-10.6 0l-0.9-33.8l0-9l0.5-4.5l1.3-3.8l2.4-3.5l7.2-8.6l2.4-2.3l2.4-1.2l4.9-0.7l9.6 0.2l16.8-2.7l9.6-3.5l2.5 0.2l2.4 0.9l2.4 2l2.4 2.9l7.2 12l9.6 12.5l2.4 2.3l6.7 4.5zM83.3 559.7l14.4 0.3l4.8-0.4l2.4-0.9l2.3-2.3l5.2-18l1-15.8l1.1-1.7l2.5 0.3l2.4 1.1l2.4 2.5l4 11.3l3.2 5l2.4 2.4l8.1 6.1l6.3 7.4l2.4 1.6l2.4 0.8l7.3 0.4l16.8-0.8l16.8-4.2l16.9-2.5l4.8-1.6l7.2-3.4l14.5-2.4l4.8-0.2l19.2 0.8l4.8 0.8l2.4 1.2l2 2.1l1.7 4.5l0.5 9.1l0 22.5l-14.2 0l-0.2-15.8l-0.6-4.5l-1.2-2.6l-2.4-2.7l-6.5-3.7l-5.5-2l-7.2-1.5l-4.9-0.4l-4.8 0.3l-2.4 0.7l-12 5.6l-12 2.3l-4.9 1.8l-2.4 1.5l-2.9 3l-1 2.2l-0.7 4.5l-0.2 11.3l-42.4 0l-0.2-13.5l-1.1-4.5l-1.3-2.3l-2.1-2.2l-6.1-4.5l-6.9-7.1l-2.4-1l-2.4 0.9l-1.5 2.6l-2.6 11.3l-0.5 4.5l0.7 15.8l-32.2 0zM285.4 549.6l1.8-2.2l3-1.5l7.2-0.7l33.7 1.9l4.8 0.8l3.9 1.7l2.6 2.3l1.6 2.2l1.1 4.6l-0.3 27l-60.1 0l-0.2-31.6z" fill="#f1d9d2" fill-rule="evenodd"/>
<path d="M127.4 344.6l15 0l-0.5 9l-1 6.8l-1.7 4.5l-3 2.9l-2.4 0.5l-2.4-0.7l-2.4-2.2l-1.4-2.8l-0.6-4.5zM139.2 403.2l-0.4-6.8l0.7-4.5l0.8-2.2l3.1-3.5l5.6-3.3l2.6-2.2l4.2-6.8l4.5-5.3l2.4-4.4l1.2-6.1l0.7-13.5l5.3 0l-0.9 18l-2.8 13.6l0.2 2.2l0.7 2.3l2.8 2.9l7.2 4.1l4.8 5.8l2.4 1.8l2.4 0.9l2.4 0l2.4-0.7l2.5-1.5l6.6-6.6l3-1.4l2.4-0.5l12-0.2l4.8-1.8l14.5-11.2l2.4-2.9l2.4-5.8l1.9-10l0.8-9l5.2 0l-0.6 9l-1.4 9l-1.7 6.8l-2.9 6.8l-2.8 4.5l-2.1 2.2l-13.3 8.8l-4.8 1.8l-9.6 1l-4.8 1.4l-4.5 2.8l-7.5 7.8l-4.9 2l-40.9 1.1l-2.4-0.4l-3.6-1.5l-2.1-2.3zM242.2 403.2l2-2.3l2.7-0.8l2.4 0.1l1.9 0.7l1.8 2.3l-0.5 2.2l-3.2 2.7l-2.4 0.4l-2.8-0.8l-1.9-2.3zM481.8 400.9l2.2 2.3l1 2.2l0.7 4.5l0.6 15.8l-0.5 4.5l-0.7 2.3l-1.4 2.2l-2.8 2.3l-5.4 1.6l-9.6 0.3l-4.9-1.5l-2.6-2.7l-1.2-4.5l0.7-9l1.9-4.5l2-2.2l6.7-4.6l7-8.1l2.4-1.3l2.4-0.2zM636.7 402.5l2.4-0.3l1.3 1l1.4 2.2l0.6 4.5l-0.5 11.3l0.2 6.8l1.5 6.7l2.3 4.5l2.4 2.3l5.2 3.6l4.9 4.8l2.4 1.7l4.8 1.1l9.6 0.1l4.8 1.2l4.8 3.2l4.5 4.6l2.7 2l7.6 4.7l2.3 2.3l1.3 2.2l1 4.5l-0.2 6.8l-0.9 2.3l-2 2.2l-1.8 1.1l-4.8 0.9l-7.3-0.2l-4.8-1l-4.8-2.5l-7.2-6.4l-2.4-1.6l-4.8-1.8l-9.7-2.6l-2.4-1.1l-2.6-2.8l-4.6-11.7l-2.4-2.8l-2.4-1.4l-4.8-1l-9.6 0.2l-4.8 1.9l-4.9 4.3l-2.4 1.5l-2.4 0.6l-2.4-0.3l-2.4-1.8l-1.5-3l-0.6-4.5l0-4.5l0.4-2.3l1.1-2.3l2.8-2.2l5-2.1l2.4-1.7l4.9-6l2.4-1.7l4.8-2.4l2.4-2.1l2.1-4.3l1.9-13.5l0.8-2.4zM412.3 457.3l0.4 9l-1.2 4.5l-1.5 2.2l-6.7 6.8l-7.2 8.4l-4.8 3.1l-4.8 1.3l-9.7 1.2l-7.2 0.5l-4.8-0.2l-31.1-7.5l-9.8-3.6l-4.8-0.6l-2.4 0.2l-4.8 1.6l-4.9 4.1l-3.9 5l-5.6 9l-4.9 5.1l-7.2 4.5l-4.8 2.1l-2.4 0.6l-2.4 0l-4.8-1.9l-9.7-5.7l-4.8-3.5l-3.2-3.4l-7.2-11.3l-0.5-2.2l0.2-2.3l0.9-2.3l2.6-3.3l6.6-5.7l4.2-2.2l6-1.3l26.5-1.1l4.8-1l4.8-1.8l2.4-1.7l2.4-2.6l12.1-17.7l4.8-4.6l7.2-4.3l14.4-7.2l4.9-1.6l12-2.5l14.4-1l7.2-2l4.9-0.6l2.4 0.3l4.8 2.3l2.4 2.2l2.7 3.4l6 11.2l1.8 4.5zM396.3 430.2l-2.6-2.8l-2.4-0.9l-2.4 0.1l-2.9 1.4l-5.3 4.5l-3.9 1.8l-4.8 0.5l-21.6 0.4l-12.1 3l-4.8 1.7l-5.8 3.8l-8.6 8.8l-2.4 3.2l-2 3.8l-2.9 9l-0.1 2.3l0.9 2.2l3.5 2.3l19.8 5.1l16.9 2.2l9.6 0.4l9.6-0.6l14.5-2l4.8-1.7l4.8-3.4l2.1-2.3l1.4-2.2l1.4-4.5l0.4-11.3l-0.3-9l-2.2-9zM255.1 484.3l-0.5 2.3l0.9 4.5l2.9 6.7l2 2.3l3.3 2.1l7.3 2.7l4.8 1.3l2.4 0.1l9.6-2.1l2.4-1.2l2.4-2.1l2.9-5.3l2.1-6.8l0.7-4.5l-0.9-3.4l-2.4-2.5l-4.8-1.6l-4.8-0.2l-16.9 0.4l-4.8 0.7l-4.8 2.3l-2.3 2zM725.4 430.2l2.7-1.3l2.4 0l3.1 1.3l1.8 2.3l0.7 2.2l0.1 2.3l-0.8 1.7l-2.4 0.2l-2.5-0.5l-3.2-1.4l-2.3-2.3l-0.6-2.2zM737.8 440.7l2.4-0.5l2.4 0.5l2.4 1.3l1.5 1.7l0.5 2.3l-1.2 2.3l-0.8 0.6l-2.4 0.3l-2.4-0.9l-1.8-2.3l-0.9-2.3zM518.8 464l4.8-1.5l7.2 0.1l4.8 1.1l4.9 3.2l2.4 3.9l0.7 4.5l-0.6 6.7l-0.9 2.3l-1.6 2.4l-2.5 1.5l-2.4 0.4l-2.4-0.6l-2.4-2.2l-4.8-7.3l-7.5-5.5l-1.5-2.2l-0.5-2.3l0.4-2.2zM747.4 507.1l2.4-0.6l2.4 0.6l2.6 2l5 6.7l10.8 6.8l3.3 4.4l2.5 9.1l1.2 9l-0.2 4.5l-0.6 2.3l-1.5 2.2l-1.4 1.4l-2.4 1.1l-2.5 0.3l-2.4-0.4l-2.4-1.3l-7.2-6.6l-9-5.7l-2.3-2.3l-1.3-2.2l-0.7-2.3l-0.4-4.5l0.3-15.8l1.4-6zM465.9 523.9l2.4 3.8l2.4 7.7l0.5 3l-0.5 3.6l-2.4 3.1l-7.3 5l-4.6 6.3l-2.3 2.3l-7.5 4.4l-2.1 2.3l-1.1 2.3l-0.7 4.5l-0.1 13.5l-27.2 0l-0.9-27l0.1-11.3l0.8-6.8l2.3-4.1l3.6-2.6l3.7-1.2l9.6-0.3l4.8-1l2.4-1.5l5.8-5l3.8-1.4l9.6-1.6l2.5 0.3zM119.4 551.5l2.4-0.9l2.4 1l6.9 7.1l5.1 3.6l3.1 3.1l1.3 2.3l1.1 4.5l0.2 13.5l-26.4 0l-0.5-18l2.1-11.3zM185.2 569.9l1-2.2l1.9-2.3l3.4-2.2l4.9-1.8l12-2.3l12-5.6l2.4-0.7l4.8-0.3l9.7 1.2l4.8 1.4l7.6 3.6l3 2.2l1.7 2.3l0.9 2.2l0.6 4.5l0.2 15.8l-12.1 0l0.1-15.8l-0.9-4.5l-1.4-2.2l-2.4-2.3l-5.3-2.2l-6.5-0.9l-4.8 0.3l-2.4 0.9l-2.4 1.5l-2.4 2.7l-1.2 2.2l-1 4.5l-1.2 15.8l-27.9 0l0.2-11.3z" fill="#ea967a" fill-rule="evenodd"/>
<path d="M167.1 380.7l-0.7-2.3l-0.2-2.2l2.8-13.6l0.9-18l74.9 0l-0.5 6.8l-1.5 9l-1.1 4.5l-2 4.5l-2.4 2.9l-7.3 5.2l-6.3 5.4l-3.3 1.8l-4.8 0.9l-7.2-0.2l-4.8 0.6l-3 1.4l-6.8 6.8l-2.3 1.3l-2.4 0.7l-2.4 0l-2.4-0.9l-1.6-1.1l-5.6-6.5l-7.2-4.1zM396.3 430.2l2.6 6.8l2.2 9l0.3 9l-0.4 11.3l-1.4 4.5l-1.4 2.2l-2.1 2.3l-4.8 3.4l-4.8 1.7l-14.5 2l-9.6 0.6l-9.6-0.4l-16.9-2.2l-19.8-5.1l-3.5-2.3l-0.9-2.2l0.1-2.3l2.9-9l2-3.8l2.4-3.2l8.6-8.8l5.8-3.8l4.8-1.7l12.1-3l21.6-0.4l4.8-0.5l3.9-1.8l5.3-4.5l2.9-1.4l2.4-0.1l2.4 0.9zM255.1 484.3l1.5-2.3l2.3-2l4.8-2.3l4.8-0.7l16.9-0.4l4.8 0.2l4.8 1.6l2.4 2.5l0.9 3.4l-0.7 4.5l-2.1 6.8l-2.9 5.3l-2.4 2.1l-2.4 1.2l-9.6 2.1l-2.4-0.1l-4.8-1.3l-7.3-2.7l-3.3-2.1l-2-2.3l-2.9-6.7l-0.9-4.5zM215.6 563.2l1.9-2.3l2.9-1.9l4.8-1.2l8.9 0.9l5.6 2.4l2.1 2.1l1.4 2.2l0.6 2.3l0.2 18l-31.8 0l1.2-15.8l1-4.5z" fill="#e12417" fill-rule="evenodd"/>
<path d="M295 423.8l-4.8-1.5l-9.6-0.3l-4.8 1.6l-2.7 2.1l-3.3 4.5l-0.8 2.3l-0.7 4.5l0.7 6.7l1 2.3l2 2.3l3.8 1.8l2.4 0.1l2.4-0.5l2.7-1.4l4.9-4.6l6.9-4.5l2.3-2l1.6-2.5l0.6-4.5l-0.6-2.2l-1.4-2.3zM441.4 482l-1 2.3l-0.3 2.3l0.3 2.2l1 2.3l2.1 2.2l3.1 1.7l4.8 1.1l7.2 0.4l4.9 0.9l2.4 1l9.6 7.1l4.8 1.8l2.4-0.3l2.4-1.3l2.4-3.4l0.4-2.2l-0.6-4.5l-2.9-9l-2.1-4.6l-2-2.6l-12-9.5l-2.4-0.9l-2.4-0.3l-4.9 1.2l-2.4 1.5l-4.8 4.2l-7.6 4.2zM335.9 505.5l-4.8-1.8l-7.2-0.4l-4.8 1.1l-4.8 3.1l-3.5 3.8l-2 4.5l-0.2 6.8l0.7 2.3l1.3 2.2l2.7 2.3l3.4 1.3l4.8 0.5l2.4-0.6l2.6-1.2l5.2-4.5l7.8-4.5l1.9-2.3l0.7-2.3l-0.1-2.2l-2.1-4.5zM375.4 344.6l-0.3 13.5l-0.9 4.5l-1.4 2.3l-3.1 2.2l-2.5 0.8l-14.4 1.3l-4.6 2.4l-1.8 2.3l-1 2.3l-1.5 9l-1.6 4.5l-1.6 2.2l-8.1 6.8l-1.8 2.2l-0.8 2.3l0.3 2.2l3 2.3l5 0.5l12.1-1.2l14.4-3.2l2.4-0.9l2.5-2l1.3-2.2l1.8-9l0.9-2.3l3.1-3.3l4.8-1.3l16.9 1l1.1-0.9l1.3-3.4l3.5-16.9l0.9-9l0.4-9M732.3 344.6l-0.5 11.3l-1.3 4.8l-2.7 4.2l-8.6 6.7l-2.3 4.6l-0.7 6.7l0.8 4.5l1.2 2.3l2.7 2.5l4.7 2l9.8 2.9l4.8 2l4.8 3.1l5.8 5.5l3.8 2l2.4-0.3l1.9-1.7l1-2.3l0.4-2.2l-0.7-20.3l1-38.3M400.9 384.3l-1.4 3.1l-1 6l-0.4 5.3l0.4 2.9l1.9 3.8l2.9 2.5l2.4 0.6l2.4-0.5l2-2.6l0.4-2.2l-2.4-13l-2.4-4.1l-2.4-1.3zM83.3 397.2l12 0l4.8-0.7l3.9-2.3l1.5-2.3l0.2-2.2l-1-2.3l-2.2-1.4l-2.4-0.8l-16.8-0.4M311.8 416.7l-1.4-2.2l-3.4-2.3l-4.8-0.9l-19.2-1.1l-4.8 1l-2.4 1.3l-12.1 10.3l-4.8 2.4l-9.6 2.7l-4.3 2.3l-5.3 5.3l-7.2 5.3l-2.5 4.5l-0.9 5.2l-0.2 9l1.1 3.5l2.5 1.9l2.4 0l1.7-0.9l3.1-2.3l4.8-5.6l2.4-2.1l4.8-1.7l4.8-0.3l4.8 0.5l9.7 3.1l7.2 0.8l7.5-1.4l16.9-6.7l2-1.4l2.6-3.2l5-13.5l0.7-6.7l-0.4-4.5zM531.2 425.7l-1.4 2.3l0.1 2.2l1.3 2.3l2.4 2.2l6.3 4.5l6.9 6.8l3.3 2l2.4 0.4l2.4-0.8l1.7-1.6l1.1-2.3l0.4-2.2l-0.1-6.8l-1-4.5l-2.1-3.2l-2.4-1.7l-2.4-0.9l-7.2-0.9l-7.3 0.3l-2.4 0.7zM433 468.5l-1.4 2.3l-3.1 11.2l-1.9 4.6l-1.6 2.3l-4.6 4.4l-1.3 2.3l-0.5 2.2l0.3 2.3l1.2 2.3l2.4 1.4l2.5 0.7l14.4 1.5l7.2 0.4l12-1.4l4.9 0.5l2.4 0.9l4.3 2.7l2.6 2.2l5.1 5.5l6.4 5.8l5.6 6.8l2.4 1.7l2.4 1l4.8 0.4l4.9-0.7l4.7-2.4l2.1-2.3l1.3-2.2l1-4.5l0-4.6l-1.2-4.5l-3.1-3.8l-6-5.2l-8.5-11.2l-2.7-4.5l-3.4-9.1l-2.3-4.5l-3.6-4.2l-4.8-3.5l-4.8-2l-4.8-0.9l-4.8-0.1l-4.9 0.5l-12 2.8l-9.6 0.4l-2.4 1zM253.2 524.9l-0.7-2.3l-1.5-2.2l-6.5-5.5l-4.8-5.2l-2.4-2l-2.4-1.3l-2.4-0.6l-12.1-0.4l-2.4-1l-2.1-2.1l-1.5-4.5l-0.4-20.3l-0.8-4.5l-2.4-3.5l-2.4-1.5l-4.8-1.3l-4.7-0.4l-4.9 0.1l-2.5 0.7l-2.4 1.5l-1.5 2.2l-0.6 2.2l-0.7 11.3l-1.9 4.5l-2.5 2.4l-7.2 4.5l-1.9 2.1l-2.9 4.7l-2.4 2.4l-2.4 1.2l-4.8 1l-24.1 1l-3.1 1l-3 2.2l-1.4 2.3l-0.3 2.2l3.2 11.3l2.2 3.2l2.4 1.6l4.8 0.9l19.3 0.2l4.8 0.8l3.8 2.3l3.4 4.8l2 2l2.8 1.3l2.4 0.5l7.2 0.1l19.3-1.6l16.8-3.6l3.4-1.2l6.3-5.5l2.4-1l12-0.9l2.4-0.6l2.4-1.5l1.2-1.8zM590 497.8l-0.3 2.3l1.3 2.9l1.5 1.6l6.6 4.5l3.9 5.9l2.4 2.5l2.4 1.3l2.4 0.7l7.3 0.3l33.6-0.9l2.4-0.6l2.5-1.3l1.2-1.2l1-2.2l0-2.3l-1.1-2.2l-2.7-2.3l-5.7-3.3l-2.7-3.4l-1.3-4.5l-0.9-6.8l-1.9-4.5l-2.8-3.2l-2.4-1.8l-2.4-0.9l-4.8-0.6l-4.8 0.7l-2.4 1.1l-2.4 1.9l-6.5 7.3l-3.2 2.1l-4.8 1.3l-9.6 1.2l-4.3 2.2zM397 585.7l-0.4-42.8l0.4-6.8l1.7-9l0-2.2l-0.7-2.3l-2.4-2.2l-4.3-1.2l-21.7 1.7l-4.8-0.2l-2.4-0.6l-2.4-1.2l-2.4-2.1l-6.4-7.7l-9.6-9l-5.7-2.9l-7.2-1.5l-4.8-0.4l-4.8 0.7l-2.4 1.2l-2.4 1.9l-12 12.2l-2.5 4.5l-1.8 6.8l-0.3 4.5l1 2.3l2.4 2.2l3.5 1.8l9.7 3.1l4.8 0.8l4.8 0.1l12-1.5l2.4 0.4l3.7 2.1l6 5.6l7.9 5.6l4.9 6.8l7 4.5l2 2.3l1.2 4.5l-0.5 18M687.4 585.7l0.5-15.8l-0.6-4.5l-1.1-2.2l-1.4-1.5l-2.4-0.9l-2.4 0.7l-1.9 1.7l-2.1 4.5l-0.9 6.7l-0.3 11.3M258.2 344.6l-0.4 9l-2.1 20.3l0 4.5l0.4 2.3l1.3 2.2l3.1 2.3l5.6 2.6l2.3 1.9l1.3 2.2l1.1 6.8l-0.9 4.5l-3.4 4.5l-12.4 10.1l-2.4 1.2l-4.8 1.4l-12 2.1l-4.2-1.3l-3.1-3.1l-1.4-3.6l-1.2-6.8l-0.8-2.3l-1.4-1.8l-2.4-1.4l-2.4-0.3l-2.4 0.4l-1.8 0.9l-1.7 2.2l-0.8 4.5l2.4 27.1l-0.1 6.7l-1.5 4.6l-1.3 1.6l-2.4 1.3l-2.4 0.1l-2.4-0.8l-2.4-1.9l-5.8-7.1l-3.9-2.3l-4.8-1.1l-21.6-1.9l-4.8-1.1l-4.5-2.6l-5.2-6.3l-2.4-1.6l-4.8-1.2l-12-0.3l-2.4-0.5l-3.1-1.4l-2.4-2.2l-1.1-2.3l-0.9-4.5l0.4-11.3l2-18l-0.4-4.5l-1.7-3.2l-2.4-2.3l-2.4-1.3l-2.5-0.5l-31.2-0.1M331.5 344.6l-0.9 20.3l-1.6 18l-0.9 4.5l-2.6 4.5l-4 3.5l-4.8 1.8l-4.8 0.5l-4.9-0.4l-2.7-0.9l-2.9-2.2l-5.5-6.8l-8.1-4.4l-2.4-2.6l-1-2l-0.8-4.5l-1.4-29.3M457.6 344.6l-1.4 29.3l0.7 13.5l1 4.5l1.1 2.3l2 1.9l2.5 0.7l2.4-0.8l2-1.8l1.3-2.3l0.6-2.2l0.1-15.8l1.4-29.3M515.6 344.6l-0.5 22.5l-2.4 36.1l0.3 20.3l1 6.7l2.4 3.9l7.2 5.4l7.2 7.5l9.7 6.7l9.6 8l4.8 1.7l12 1.5l2.6 1.4l2 2.2l1.5 4.5l0.2 24.8l-0.4 2.3l-1 2.2l-2.5 2l-2.4 0.8l-12 0.5l-4.8 0.6l-2.4 1.1l-1.8 1.8l-0.6 2.5l0.6 2l2.1 2.2l9 4.6l2.4 2.2l1.2 2.3l0.4 2.2l0.2 9l0.9 3l2.4 2.9l4.8 3.2l2.3 2.2l4.9 7.2l3.4 1.8l1.5 0.3l2.4-0.6l2.4-2.1l2.6-4.4l2.2-1.9l2.4-0.7l2.4 0.5l2.9 2.1l1.9 3.4l1.3 5.7l2.2 15.7l0.6 11.3M631.2 344.6l0 15.8l1.3 4.5l1.8 2.2l2.4 1.5l4.8 1l31.3 0.2l4.8 0.3l4.8 1.3l3.2 2.5l4 6.2l2.4 2.4l7.7 4.9l4.4 6l2.4 2.4l5.6 2.9l16 5.2l2.8 1.5l6.9 5.8l8.2 5.5l2.2 2.3l1.3 2.2l2.3 11.3l2.8 3.8l4.8 4.2l1.8 3.2l0.3 6.8l-3.3 31.5l0.6 4.6l1.1 2.2l2.1 2.3l6.1 4.5l4.8 6.7l3.4 3l2.4 1.1l4.8 1l19.2 1.4M591 372l-2.4 1l-0.9 0.9l-1.5 3.7l-0.1 23.3l0.8 4.5l1.3 2.3l2.8 1.9l2.4 0.5l2.4-0.6l2.4-1.5l1.8-2.6l0.9-2.2l1.1-9l-0.1-9l-1.2-6.8l-2.5-3.8l-2.4-1.8l-2.4-0.8zM653.5 402.2l-1.8 3.2l-0.7 2.3l-1.3 11.3l0.1 4.5l1.6 4.5l8 9l2.9 2.2l3.3 1.2l12 0l5.3 1.1l3.4 2.2l5.7 5.6l8.6 5.7l7.1 6.8l8.4 5.2l4.8 5.6l2.4 1.8l2.4 0.5l2.4-0.4l2.5-1.5l1.6-2.2l1.5-4.5l0.5-4.5l-0.9-4.5l-2.8-3.1l-5.7-3.7l-6.9-6.8l-9.3-6.7l-1.7-2.3l-0.8-2.2l-0.6-9l-1-4.5l-2.8-3.6l-2.4-1.3l-2.4-0.6l-12.1-0.1l-4.8-1.2l-2.7-2.3l-4.5-6.2l-2.4-1.7l-2.4-0.9l-4.8-0.7l-4.8 0l-2.4 0.4zM425.2 457.3l-0.2 4.5l-2.5 10.9l-1.2 2.6l-6 6.9l-2.8 4.4l-4.4 14.2l-2.4 2.5l-4.8 1.4l-24.1 2.7l-9.6 0.3l-4.8-1.5l-9.6-7.5l-6.2-3.1l-8.3-2.9l-12-2.9l-4.8-0.8l-2.4 0.2l-4.6 1.9l-3 2.2l-14.2 15.8l-7.1 9l-2.4 2l-4.8 1.8l-7.2 0.4l-7.3-1.7l-4.8-2.4l-2.4-1.7l-19.8-18.7l-2.6-4.5l-1.2-4.5l0.2-6.8l2.7-6.7l3.5-4.5l5.2-4l4.8-2.2l7.2-1.5l24.1-0.5l4.8-0.5l4.8-1.6l7.2-4.3l4.8-3.6l3.8-4.3l4.9-9.1l1.7-2.2l12.7-11.3l3.2-2.2l7.4-3.1l12.1-3.4l9.6-4.4l14.4-2.9l7.2-0.4l4.9 0.7l2.4 0.9l4.8 3.3l12.8 11.5l2 2.3l2.4 4.5l4.4 14l6.8 8.5zM802.7 409.7l-19.2-0.3l-4.8-1.3l-2.4-2.1l-1.5-2.8l-0.9-6.8l0.4-4.5l0.7-2.2l1.3-2.3l3.1-2.2l1.7-0.7l4.8-0.6l16.8 0.2M83.3 410.3l14.4 0.5l3.9 1.4l2.6 2.3l1.4 2.2l1.4 4.5l1.8 13.5l0.4 6.8l-0.9 4.5l-1 1.8l-2.4 2.3l-2.4 1.3l-7.2 1.6l-12 1M160.3 451.6l2.4 0.2l2.2 1l2.3 2.2l1.1 2.3l1 4.5l0 6.7l-1.2 4.5l-1.7 2.3l-3.7 1.9l-2.4 0.1l-2.4-0.8l-1.7-1.2l-1.6-2.3l-1.1-4.5l0.1-6.7l0.8-4.5l1.1-2.4l2-2.1zM83.3 480.7l26.4-1.2l7.3 0.8l2.4 1.1l3 2.9l2 4.5l1 6.8l-0.4 4.5l-1 2.2l-2.2 2.7l-5.1 4.1l-1.8 2.2l-1 2.3l-0.7 4.5l-1.1 2.2l-28.8 0.9M83.3 559.7l14.4 0.3l4.8-0.4l2.4-0.9l2.3-2.3l5.2-18l1-15.8l1.1-1.7l2.5 0.3l2.4 1.1l2.4 2.5l4 11.3l3.2 5l2.4 2.4l8.1 6.1l6.3 7.4l2.4 1.6l2.4 0.8l7.3 0.4l16.8-0.8l16.8-4.2l16.9-2.5l4.8-1.6l7.2-3.4l14.5-2.4l4.8-0.2l19.2 0.8l4.8 0.8l2.4 1.2l2 2.1l1.7 4.5l0.5 9.1l0 22.5M284.7 585.7l0-33.8l0.7-2.3l2.4-2.6l4.8-1.6l4.8-0.2l36.1 2.2l4.8 1.4l2.4 1.5l3.3 3.8l1.1 4.6l-0.3 27M404.8 585.7l-0.9-42.8l1.2-6.8l2.6-4.5l7.6-9.1l2.4-2.3l2.4-1.2l4.9-0.7l9.6 0.2l16.8-2.7l9.6-3.5l2.5 0.2l2.4 0.9l2.4 2l3.8 5l5.8 9.9l9.6 12.5l2.4 2.3l6.7 4.5l1.5 2.3l0.7 2.2l0.4 4.6l-0.5 27M527.1 585.7l0.2-15.8l-0.6-4.5l-0.9-2.2l-2-2.3l-5-2.9l-2.4-1.9l-2.1-4.2l-0.4-4.5l0.1-4.5l1.2-4.5l3.6-4.5l5.7-4.5l1.8-2.3l0.9-2.2l0.4-4.5l-0.2-4.6l-1.4-5.9l-2.1-3.1l-5.2-4.5l-6.5-9l-5.5-4.5l-3.6-4.5l-1.8-4.5l-1.6-9l-2.2-4.5l-2.4-2.3l-7-4.5l-5.4-5.4l-2.4-1.4l-4.8-0.7l-14.5 0.6l-9.6-0.4l-4.8-1.3l-3.4-2.6l-1.3-2.3l-0.6-2.3l-0.2-9l-1.2-4.5l-1.9-2.2l-6.8-4.5l-1.8-2.3l-1.3-4.5l-0.2-6.8l-0.7-4.5l-2.5-4.5l-4.6-4.6l-2.4-4.6l-1.4-15.5l2.3-18.1l0.7-13.5M757.2 585.7l0.8-15.8l-1-4.5l-1.7-2.2l-9.3-6.8l-6.1-6.8l-6.9-5.6l-2.5-3.1l-2.4-4.3l-2.4-2.3l-2.4-0.8l-2.5 0.4l-2.3 1.5l-4.8 5.6l-2.4 1.4l-2.4 0.2l-2.4-0.8l-2.7-3.4l-0.8-4.5l-0.2-9l-0.8-2.3l-1.6-2.2l-5.9-3.9l-2.5-2.1l-3.5-5.3l-2.1-2.3l-8.8-5.1l-7.2-6.8l-9.6-6.1l-5.1-4.5l-9.4-6.1l-2.8-2.9l-4.4-6.7l-2.4-2l-4.8-1.1l-4.8 0.1l-2.4 0.5l-4.8 2.6l-7.3 5.9l-2.4 1.5l-4.8 1.4l-4.8 0.4l-4.8-0.3l-2.4-0.8l-2.4-1.7l-1.4-2.1l-0.8-2.2l-0.6-11.3l-1.3-4.5l-3.1-3.2l-7.3-4.6l-2.3-3.5l-1-4.5l-1.5-18l-1.1-4.5l-1.3-2.2l-2.3-2.3l-6.7-4.5l-1.8-2.3l-1-2.2l-1-6.8l0-18l-0.6-4.5l-0.8-2.3l-1.7-2.2l-6-4.5l-2-2.3l-1.1-2.2l-0.7-4.5l-0.1-11.3M142.4 344.6l-0.8 11.3l-1.4 6.7l-1.6 3.1l-2.4 2.1l-2.4 0.5l-3.1-1.2l-2.1-2.2l-1-2.3l-0.6-4.5l0.4-13.5M250 344.6l-0.4 6.8l-1.2 9l-2.8 11.2l-2.2 4.6l-2.8 4.5l-2.1 2.2l-3 2.3l-12.7 7.6l-12 1.7l-6 1.9l-3.6 2.6l-7.2 7.5l-4.9 2l-38.5 1.1l-4.8-0.4l-2.4-0.8l-3.3-3l-1.3-4.5l0.7-9l0.8-2.2l1.7-2.3l7-4.5l2.6-2.2l4.2-6.8l4.5-5.3l2.1-3.7l1.5-6.8l0.7-13.5M242.2 403.2l2-2.3l2.7-0.8l2.4 0.1l1.9 0.7l1.8 2.3l-0.5 2.2l-3.2 2.7l-2.4 0.4l-2.8-0.8l-1.9-2.3zM481.8 400.9l2.2 2.3l1 2.2l0.7 4.5l0.6 15.8l-0.5 4.5l-0.7 2.3l-1.4 2.2l-2.8 2.3l-5.4 1.6l-9.6 0.3l-4.9-1.5l-2.6-2.7l-1.2-4.5l0.7-9l1.9-4.5l2-2.2l6.7-4.6l7-8.1l2.4-1.3l2.4-0.2zM636.7 402.5l2.4-0.3l1.3 1l1.4 2.2l0.6 4.5l-0.5 11.3l0.2 6.8l1.5 6.7l2.3 4.5l2.4 2.3l5.2 3.6l4.9 4.8l2.4 1.7l4.8 1.1l9.6 0.1l4.8 1.2l4.8 3.2l4.5 4.6l2.7 2l7.6 4.7l2.3 2.3l1.3 2.2l1 4.5l-0.2 6.8l-0.9 2.3l-2 2.2l-1.8 1.1l-4.8 0.9l-7.3-0.2l-4.8-1l-4.8-2.5l-7.2-6.4l-2.4-1.6l-4.8-1.8l-9.7-2.6l-2.4-1.1l-2.6-2.8l-4.6-11.7l-2.4-2.8l-2.4-1.4l-4.8-1l-9.6 0.2l-4.8 1.9l-4.9 4.3l-2.4 1.5l-2.4 0.6l-2.4-0.3l-2.4-1.8l-1.5-3l-0.6-4.5l0-4.5l0.4-2.3l1.1-2.3l2.8-2.2l5-2.1l2.4-1.7l4.9-6l2.4-1.7l4.8-2.4l2.4-2.1l2.1-4.3l1.9-13.5l0.8-2.4zM412.3 457.3l0.4 9l-1.2 4.5l-1.5 2.2l-6.7 6.8l-7.2 8.4l-4.8 3.1l-4.8 1.3l-9.7 1.2l-7.2 0.5l-4.8-0.2l-31.1-7.5l-9.8-3.6l-4.8-0.6l-2.4 0.2l-4.8 1.6l-4.9 4.1l-3.9 5l-5.6 9l-4.9 5.1l-7.2 4.5l-4.8 2.1l-2.4 0.6l-2.4 0l-4.8-1.9l-9.7-5.7l-4.8-3.5l-3.2-3.4l-7.2-11.3l-0.5-2.2l0.2-2.3l0.9-2.3l2.6-3.3l6.6-5.7l4.2-2.2l6-1.3l26.5-1.1l4.8-1l4.8-1.8l2.4-1.7l2.4-2.6l12.1-17.7l4.8-4.6l7.2-4.3l14.4-7.2l4.9-1.6l12-2.5l14.4-1l7.2-2l4.9-0.6l2.4 0.3l4.8 2.3l2.4 2.2l2.7 3.4l6 11.2l1.8 4.5zM725.4 430.2l2.7-1.3l2.4 0l3.1 1.3l1.8 2.3l0.7 2.2l0.1 2.3l-0.8 1.7l-2.4 0.2l-2.5-0.5l-3.2-1.4l-2.3-2.3l-0.6-2.2zM737.8 440.7l2.4-0.5l2.4 0.5l2.4 1.3l1.5 1.7l0.5 2.3l-1.2 2.3l-0.8 0.6l-2.4 0.3l-2.4-0.9l-1.8-2.3l-0.9-2.3zM518.8 464l4.8-1.5l7.2 0.1l4.8 1.1l4.9 3.2l2.4 3.9l0.7 4.5l-0.6 6.7l-0.9 2.3l-1.6 2.4l-2.5 1.5l-2.4 0.4l-2.4-0.6l-2.4-2.2l-4.8-7.3l-7.5-5.5l-1.5-2.2l-0.5-2.3l0.4-2.2zM747.4 507.1l2.4-0.6l2.4 0.6l2.6 2l5 6.7l10.8 6.8l3.3 4.4l2.5 9.1l1.2 9l-0.2 4.5l-0.6 2.3l-1.5 2.2l-1.4 1.4l-2.4 1.1l-2.5 0.3l-2.4-0.4l-2.4-1.3l-7.2-6.6l-9-5.7l-2.3-2.3l-1.3-2.2l-0.7-2.3l-0.4-4.5l0.3-15.8l1.4-6zM115.5 585.7l-0.7-15.8l0.5-4.5l2.6-11.3l1.5-2.6l2.4-0.9l2.4 1l6.9 7.1l6.1 4.5l2.1 2.2l1.3 2.3l1.1 4.5l0.2 13.5M184.3 585.7l0.4-13.5l1.5-4.5l1.9-2.3l3.4-2.2l4.9-1.8l12-2.3l12-5.6l2.4-0.7l4.8-0.3l7.3 0.7l7.2 1.9l7.2 3.3l3.4 2.5l1.7 2.3l1.3 4.5l0.4 18M415.4 585.7l-0.9-36.1l0.4-6.7l1.5-4.5l1.7-2.3l4.4-2.8l4.9-0.8l7.2-0.1l4-0.8l3.2-1.7l4.8-4.3l2.4-1.4l6.5-1.6l5.5-0.7l2.5 0.3l2.4 1.7l2.1 3.2l2.9 9l0.2 4.5l-0.8 2.3l-2 2.2l-7.3 5l-4.6 6.3l-2.3 2.3l-7.5 4.4l-2.1 2.3l-1.1 2.3l-0.7 4.5l-0.1 13.5M244.8 344.6l-0.8 9l-1.9 10l-2.4 5.8l-2.4 2.9l-14.5 11.2l-4.8 1.8l-12 0.2l-2.4 0.5l-3 1.4l-6.6 6.6l-2.5 1.5l-2.4 0.7l-2.4 0l-2.4-0.9l-2.4-1.8l-4.8-5.8l-7.2-4.1l-2.8-2.9l-0.7-2.3l-0.2-2.2l2.8-13.6l0.9-18M396.3 430.2l2.6 6.8l2.2 9l0.3 9l-0.4 11.3l-1.4 4.5l-1.4 2.2l-2.1 2.3l-4.8 3.4l-4.8 1.7l-14.5 2l-9.6 0.6l-9.6-0.4l-16.9-2.2l-19.8-5.1l-3.5-2.3l-0.9-2.2l0.1-2.3l2.9-9l2-3.8l2.4-3.2l8.6-8.8l5.8-3.8l4.8-1.7l12.1-3l21.6-0.4l4.8-0.5l3.9-1.8l5.3-4.5l2.9-1.4l2.4-0.1l2.4 0.9zM255.1 484.3l1.5-2.3l2.3-2l4.8-2.3l4.8-0.7l16.9-0.4l4.8 0.2l4.8 1.6l2.4 2.5l0.9 3.4l-0.7 4.5l-2.1 6.8l-2.9 5.3l-2.4 2.1l-2.4 1.2l-9.6 2.1l-2.4-0.1l-4.8-1.3l-7.3-2.7l-3.3-2.1l-2-2.3l-2.9-6.7l-0.9-4.5zM212.2 585.7l0.6-11.3l1.6-9l1.2-2.2l2.4-2.7l3.2-1.8l4-0.9l4.8 0.2l4.9 0.9l4.5 2l2.4 2.3l1.4 2.2l0.9 4.5l-0.1 15.8" fill="none" stroke="#111" stroke-width="0.8"/>
<path d="M166.0 511.4h0M166.0 517.5h0M166.0 523.7h0M183.3 357.6h0M183.3 363.8h0M183.3 369.9h0M183.3 376.1h0M183.3 382.2h0M183.3 388.4h0M183.3 394.5h0M183.3 523.7h0M183.3 529.8h0M183.3 536.0h0M183.3 542.1h0M200.6 357.6h0M200.6 363.8h0M200.6 369.9h0M200.6 376.1h0M200.6 382.2h0M200.6 388.4h0M200.6 394.5h0M200.6 474.5h0M200.6 480.6h0M200.6 486.8h0M200.6 492.9h0M200.6 499.1h0M200.6 505.2h0M200.6 511.4h0M200.6 517.5h0M200.6 523.7h0M200.6 529.8h0M200.6 536.0h0M200.6 542.1h0M218.0 357.6h0M218.0 363.8h0M218.0 369.9h0M218.0 376.1h0M218.0 382.2h0M218.0 517.5h0M218.0 523.7h0M218.0 529.8h0M218.0 536.0h0M235.3 363.8h0M235.3 449.9h0M235.3 560.6h0M235.3 566.7h0M252.6 443.7h0M252.6 480.6h0M252.6 486.8h0M269.9 431.4h0M269.9 437.6h0M269.9 443.7h0M269.9 449.9h0M269.9 474.5h0M269.9 480.6h0M269.9 486.8h0M269.9 492.9h0M269.9 499.1h0M269.9 505.2h0M269.9 511.4h0M287.3 419.1h0M287.3 425.2h0M287.3 431.4h0M287.3 437.6h0M287.3 443.7h0M287.3 474.5h0M287.3 480.6h0M287.3 486.8h0M287.3 492.9h0M287.3 499.1h0M287.3 505.2h0M287.3 511.4h0M304.6 425.2h0M304.6 431.4h0M304.6 437.6h0M304.6 443.7h0M304.6 474.5h0M304.6 480.6h0M304.6 486.8h0M321.9 449.9h0M321.9 456.0h0M321.9 462.2h0M321.9 468.3h0M321.9 474.5h0M321.9 499.1h0M321.9 505.2h0M321.9 511.4h0M321.9 517.5h0M321.9 523.7h0M321.9 529.8h0M339.3 437.6h0M339.3 443.7h0M339.3 449.9h0M339.3 456.0h0M339.3 462.2h0M339.3 468.3h0M339.3 474.5h0M339.3 499.1h0M339.3 505.2h0M339.3 511.4h0M339.3 517.5h0M339.3 523.7h0M356.6 388.4h0M356.6 394.5h0M356.6 400.7h0M356.6 437.6h0M356.6 443.7h0M356.6 449.9h0M356.6 456.0h0M356.6 462.2h0M356.6 468.3h0M356.6 474.5h0M356.6 480.6h0M356.6 486.8h0M356.6 523.7h0M356.6 529.8h0M356.6 536.0h0M356.6 542.1h0M373.9 437.6h0M373.9 443.7h0M373.9 449.9h0M373.9 456.0h0M373.9 462.2h0M373.9 468.3h0M373.9 474.5h0M373.9 480.6h0M373.9 529.8h0M373.9 536.0h0M373.9 542.1h0M373.9 548.2h0M373.9 554.4h0M373.9 560.6h0M391.3 425.2h0M391.3 431.4h0M391.3 437.6h0M391.3 443.7h0M391.3 449.9h0M391.3 456.0h0M391.3 462.2h0M391.3 468.3h0M391.3 474.5h0M391.3 536.0h0M391.3 542.1h0M425.9 548.2h0M425.9 554.4h0M425.9 560.6h0M443.2 474.5h0M443.2 480.6h0M443.2 486.8h0M443.2 492.9h0M443.2 499.1h0M460.6 468.3h0M460.6 474.5h0M460.6 480.6h0M460.6 486.8h0M460.6 492.9h0M460.6 523.7h0M460.6 536.0h0M477.9 406.8h0M477.9 413.0h0M477.9 419.1h0M477.9 425.2h0M477.9 431.4h0M477.9 437.6h0M477.9 468.3h0M477.9 474.5h0M477.9 480.6h0M477.9 486.8h0M477.9 492.9h0M477.9 499.1h0M477.9 505.2h0M495.2 499.1h0M495.2 505.2h0M495.2 511.4h0M495.2 517.5h0M495.2 523.7h0M495.2 529.8h0M547.2 431.4h0M547.2 437.6h0M651.2 449.9h0M651.2 456.0h0M651.2 462.2h0M668.5 468.3h0" stroke="#000" stroke-width="3.9" stroke-linecap="round" fill="none"/>
</g>
<polyline points="96.0,466.0 113.8,482.9 131.7,456.1 148.5,441.2 165.4,429.3 183.2,412.1 200.1,407.9 217.9,445.2 234.8,483.9 252.6,509.7 269.5,515.6 286.4,490.8 304.2,476.3 321.5,484.9 338.9,512.6 356.2,545.3 373.6,564.8 390.9,562.2 408.3,524.5 425.6,488.8 443.0,481.9 460.3,507.7 477.7,535.4 495.0,505.7 512.4,475.9 529.7,480.9 547.1,480.9 564.4,476.9 581.8,453.1 599.1,435.3 616.5,456.1 633.8,452.2 651.2,411.5 668.5,381.8 685.9,371.8 703.2,385.7 720.6,400.6 737.9,417.5 755.3,430.3 772.6,430.7 790.0,430.3" fill="none" stroke="#fa1c10" stroke-width="3.4" stroke-linejoin="round" />
<line x1="131.7" y1="423.4" x2="234.8" y2="356.0" stroke="#000" stroke-width="6.2" stroke-dasharray="25 24.7"/>
<line x1="235.8" y1="510.7" x2="426.5" y2="424.2" stroke="#000" stroke-width="6.2" stroke-dasharray="24 26.4"/>
<line x1="408.3" y1="566.2" x2="468.8" y2="525.5" stroke="#000" stroke-width="6.2" stroke-dasharray="26 22.9"/>
<text x="189.0" y="389.7" font-size="28" text-anchor="middle" fill="#000" font-weight="bold" >a</text>
<text x="254.0" y="390.7" font-size="28" text-anchor="middle" fill="#000" font-weight="bold" >a</text>
<text x="427.5" y="453.1" font-size="28" text-anchor="middle" fill="#000" font-weight="bold" >b</text>
<text x="467.2" y="560.2" font-size="28" text-anchor="middle" fill="#000" font-weight="bold" >c</text>
<line x1="96.5" y1="354.0" x2="96.5" y2="573.3" stroke="#000" stroke-width="1.6" />
<line x1="96.5" y1="354.0" x2="789.5" y2="354.0" stroke="#000" stroke-width="1.6" />
<line x1="96.5" y1="573.3" x2="789.5" y2="573.3" stroke="#000" stroke-width="1.6" />
<line x1="789.5" y1="354.0" x2="789.5" y2="573.3" stroke="#d95319" stroke-width="2.0" />
<line x1="789.5" y1="391.5" x2="797.5" y2="391.5" stroke="#d95319" stroke-width="1.8" />
<text x="806.5" y="401.0" font-size="28" text-anchor="start" fill="#d95319" >10</text>
<line x1="789.5" y1="465.0" x2="797.5" y2="465.0" stroke="#d95319" stroke-width="1.8" />
<text x="806.5" y="474.5" font-size="28" text-anchor="start" fill="#d95319" >0</text>
<line x1="789.5" y1="537.5" x2="797.5" y2="537.5" stroke="#d95319" stroke-width="1.8" />
<text x="806.5" y="547.0" font-size="28" text-anchor="start" fill="#d95319" >-10</text>
<text transform="translate(866.2,461.6) rotate(-90)" font-size="28.3" text-anchor="middle" fill="#d95319">Zonal wind (m/s)</text>
<line x1="252.5" y1="573.3" x2="252.5" y2="580.3" stroke="#000" stroke-width="1.6" />
<line x1="252.5" y1="347.0" x2="252.5" y2="354.0" stroke="#000" stroke-width="1.6" />
<text x="252.5" y="615.2" font-size="28" text-anchor="middle" fill="#000" >31 Dec</text>
<line x1="443.0" y1="573.3" x2="443.0" y2="580.3" stroke="#000" stroke-width="1.6" />
<line x1="443.0" y1="347.0" x2="443.0" y2="354.0" stroke="#000" stroke-width="1.6" />
<text x="443.0" y="615.2" font-size="28" text-anchor="middle" fill="#000" >31 Jan</text>
<line x1="599.0" y1="573.3" x2="599.0" y2="580.3" stroke="#000" stroke-width="1.6" />
<line x1="599.0" y1="347.0" x2="599.0" y2="354.0" stroke="#000" stroke-width="1.6" />
<text x="599.0" y="615.2" font-size="28" text-anchor="middle" fill="#000" >28 Feb</text>
<line x1="789.5" y1="573.3" x2="789.5" y2="580.3" stroke="#000" stroke-width="1.6" />
<line x1="789.5" y1="347.0" x2="789.5" y2="354.0" stroke="#000" stroke-width="1.6" />
<text x="789.5" y="615.2" font-size="28" text-anchor="middle" fill="#000" >31 Mar</text>
<line x1="89.5" y1="390.8" x2="96.5" y2="390.8" stroke="#000" stroke-width="1.6" />
<text x="79.9" y="400.8" font-size="28" text-anchor="end" fill="#000" >120°E</text>
<line x1="89.5" y1="428.3" x2="96.5" y2="428.3" stroke="#000" stroke-width="1.6" />
<text x="79.9" y="438.3" font-size="28" text-anchor="end" fill="#000" >60°E</text>
<line x1="89.5" y1="465.3" x2="96.5" y2="465.3" stroke="#000" stroke-width="1.6" />
<text x="79.8" y="475.3" font-size="28" text-anchor="end" fill="#000" >0</text>
<line x1="89.5" y1="502.2" x2="96.5" y2="502.2" stroke="#000" stroke-width="1.6" />
<text x="78.1" y="512.2" font-size="28" text-anchor="end" fill="#000" >60°W</text>
<line x1="89.5" y1="539.1" x2="96.5" y2="539.1" stroke="#000" stroke-width="1.6" />
<text x="78.1" y="549.1" font-size="28" text-anchor="end" fill="#000" >120°W</text>
<text x="36.0" y="364.0" font-size="28" text-anchor="start" fill="#000" >(c)</text>
<clipPath id="clipd"><rect x="971.5" y="357" width="693.5" height="218.0"/></clipPath>
<rect x="971.5" y="357" width="693.5" height="218.0" fill="#fff"/>
<g clip-path="url(#clipd)">
<rect x="971.5" y="357" width="693.5" height="218.0" fill="#f1d9d2"/>
<path d="M1216 344.5l22.8 0l-0.4 11.4l-1.9 18.1l0 4.6l0.5 2.2l5.4 6.8l0.6 2.3l-0.6 2.9l-2.4 2.1l-2.4 0.4l-2.8-0.8l-6.8-6.7l-7.3-4.8l-3.4-4.4l-0.8-2.3l-0.5-4.5zM1177.4 369.4l2.4 1.2l2.4 3.1l1.5 7.1l0.3 6.9l-0.8 4.5l-1 2.4l-2.4 1.2l-2.4-0.7l-3.3-2.9l-2.4-4.5l-0.7-4.6l0.1-6.8l1.5-4.4l2.4-2.1zM1283.3 373.1l2.4 1.3l2 4.2l0.2 2.2l-0.7 2.3l-1.5 1.7l-2.4 0l-2.4-2.1l-0.8-1.9l-0.4-2.2l0.3-2.3l0.9-2zM1266.5 535.7l2.4 0.9l0.8 0.9l1 2.3l0 2.3l-1.8 3.6l-2.4 1.2l-2.4-0.8l-1.3-1.8l-0.6-2.2l0.4-2.3l1.1-2.3zM1076.2 545.3l2.5-1l2.4-0.2l2.4 0.7l2.3 1.8l1.4 2.3l0.6 2.3l-0.1 2.2l-0.9 2.3l-0.9 1.3l-2.4 1.8l-2.4 0.3l-2.4-0.6l-3.7-2.8l-1.6-2.3l-0.5-2.2l0.3-2.3l1.4-2.3zM1102.7 545.3l2.4-0.2l2.5 0.7l2.4 1.5l3.4 3.9l2.2 4.5l1.7 15.9l0.8 15.9l-19 0l-1.5-34.1l1.1-4.5l1.6-2.2z" fill="#2c5a92" fill-rule="evenodd"/>
<path d="M958.3 344.5l27.1 0l-0.7 15.9l-1.1 11.4l0.6 6.8l2.5 4.5l7.7 6.2l1.7 2.9l3.1 15.9l0.3 22.7l-0.3 2.3l-1.1 2.2l-1.3 1.3l-2.4 0.5l-2.4-1.5l-6.4-16.2l-1.4-2.2l-2.3-2.3l-2-1.2l-4.8-1.4l-16.8-0.6zM1045.7 344.5l-0.7 13.6l-1.5 13.7l-1.7 4.5l-1.7 2.1l-2.4 0.9l-2.4-1.3l-0.8-1.7l-2.5-13.6l-0.4-4.6l0.5-13.6zM1159.1 344.5l22.8 0l0.8 15.9l4.9 13.6l0.7 4.6l0.4 9.1l-0.5 6.8l-1.2 4.7l-2.4 4.2l-2.4 1.3l-2.4-0.3l-2.4-1.4l-10-8.5l-2-2.3l-1.3-2.3l-1.2-4.5l-1.2-13.6l-2.4-11.4zM1177.4 369.4l-2.4 0.4l-2.4 2.1l-1.5 4.4l-0.1 6.8l0.7 4.6l2.4 4.5l3.3 2.9l2.4 0.7l2.4-1.2l1-2.4l0.8-4.5l-0.3-6.9l-1.5-7.1l-2.4-3.1zM1205.6 344.5l10.4 0l0 27.3l0.5 4.5l0.8 2.3l3.5 4.5l7.2 4.7l6.8 6.7l2.8 0.8l3.2-0.8l2-2.3l0.2-2.3l-0.6-2.3l-5.4-6.8l-0.5-2.2l0-4.6l1.9-18.1l0.4-11.4l9.6 0l-0.5 11.4l-2.4 20.4l0.9 4.5l2.7 6.9l0.2 4.5l-2.1 4.1l-2.7 2.7l-2.1 1.4l-4.8 1.3l-2.4-0.1l-4.8-1.2l-5.9-3.7l-10.4-9l-4.3-4.6l-2.5-4.5l-0.9-4.6zM1269.1 344.5l18.8 0l0 13.6l0.9 6.8l4.8 11.4l2.4 6.8l1.8 3.1l4.8 6l1.4 4.5l0.2 4.6l-0.9 4.5l-1.5 2.3l-1.6 1.4l-2.4 0.6l-2.4-0.8l-2.4-1.9l-12.1-12.6l-5.8-9.4l-1.8-4.6l-4.7-15.9zM1283.3 373.1l-2.4 1.2l-0.9 2l-0.3 2.3l0.4 2.2l0.8 1.9l2.4 2.1l2.4 0l1.5-1.7l0.7-2.3l-0.2-2.2l-2-4.2zM1386.9 344.5l16.1 0l0 11.4l-0.4 4.5l-1.9 4.5l-1.8 2l-2.4 1.5l-2.4 0.4l-2.4-0.6l-1.4-1l-1.7-2.3l-0.8-2.2l-0.6-4.6zM1297.8 457.7l2.4-0.8l2.4 0.2l9.6 2.5l2.4 1.1l2.4 1.9l1.3 2.3l0.4 2.2l0 4.6l-1.6 15.9l-0.8 2.2l-1.5 2.3l-2.6 1.5l-2.4 0l-2.9-1.5l-9.1-10.4l-2.4-3.7l-1.3-6.3l0.3-6.8l1-4.1zM1642.1 456.2l2.4 0.6l2.4 2.2l1.6 3.6l0.3 2.3l0.5 18.5l-1.5 4.2l-0.9 0.9l-2.4 0.8l-2.8-1.7l-2-4.2l-1-18.5l0.3-4.6l0.7-2.5zM1105.1 481.3l2.5-1.1l2.4 0.1l2.4 1.5l0.9 1.2l0.7 2.3l-0.5 2.3l-1.1 1.5l-2.4 1.2l-2.4 0l-2.5-1.2l-1.2-1.5l-0.7-2.3l0.6-2.3zM1201.5 491.8l4.8-0.4l2.4 0.5l2.4 1.6l1.6 3.2l3.4 15.9l0.8 9l-1 4.2l-2.4 2.7l-4.8 1.8l-4.8 0.4l-4.8-0.3l-2.5-0.9l-1.5-1.1l-2.6-4.5l-3.6-11.3l-0.4-4.6l0.4-4.5l1.9-4.6l1.9-2.2l2.8-2.3l3.6-1.9zM1064.2 509.8l2.4-1l2.4 0.2l2.4 1.2l6.4 6.9l6.9 4.5l4.3 6.8l1.7 1.6l4.8 1.7l9.6 1.1l4.9 2.1l2.4 2.2l5.8 7.2l7.6 6.9l1.6 2.2l1.5 4.6l2.4 18.1l0.9 11.4l-14.1 0l-0.8-15.9l-1.7-15.9l-2.2-4.5l-1.8-2.3l-4-3.1l-2.5-0.7l-2.4 0.2l-2.4 1.4l-1.6 2.2l-1.1 4.5l1.5 34.1l-23.9 0l-0.4-13.6l-0.7-4.6l-0.8-2.2l-1.4-2.3l-2.2-2.3l-5.8-4.5l-2.1-2.3l-1.7-4.5l-0.3-6.9l1.2-27.2l1.1-4.5zM1076.2 545.3l-1.6 1.3l-1.4 2.3l-0.3 2.3l0.5 2.2l1.6 2.3l3.7 2.8l2.4 0.6l2.4-0.3l2.4-1.8l0.9-1.3l0.9-2.3l0.1-2.2l-0.6-2.3l-1.4-2.3l-2.3-1.8l-2.4-0.7l-2.4 0.2zM1266.5 509.3l2.4 1l2.3 2.3l1.2 2.2l1.9 11.4l3.4 11.3l0.1 6.8l-2.4 9.1l-0.6 4.6l1.5 29.5l-10.1 0l-0.8-13.6l-1.6-9.1l-1.6-4.6l-5.4-9.5l-1.6-6.4l0.5-6.8l3.3-11.3l1.3-11.4l0.9-2.2l2.9-2.9zM1266.5 535.7l-2.8 1.8l-1.1 2.3l-0.4 2.3l0.6 2.2l1.3 1.8l2.4 0.8l2.4-1.2l1.8-3.6l0-2.3l-1-2.3l-0.8-0.9zM1581.9 510.7l2.4-0.5l2.4 0.5l2.3 1.9l1.1 2.2l0.7 4.6l0.1 11.3l-0.8 2.3l-3.4 0.1l-4.8-1.3l-1.6-1.1l-1.7-2.3l-1.1-4.5l0.2-6.8l1.8-4.5zM1495.2 525.4l2.4-1.3l2.5 0.2l2.4 1.4l7.2 8.1l7.4 6l5.5 6.8l9 6.8l1.5 2.3l0.9 4.5l0.6 27.3l-12.9 0l-0.4-13.6l-1.1-4.6l-0.9-1.4l-2.4-1.7l-2.4-0.2l-2.6 1.1l-1.7 2.2l-0.8 2.3l-0.4 15.9l-27.3 0l0.4-20.4l-0.9-20.5l0.4-4.5l1.6-3.1l7.6-6zM1591.6 534.4l2.4-0.4l2.4 0.4l2.4 0.9l2.4 1.6l7 7.4l7.4 5.7l2.4 3.4l0.7 2.3l0.5 4.5l0.4 27.3l-29.7 0l1.2-50zM1023.3 537l2.4 0.3l2.3 2.5l0.6 2.3l0.5 11.3l1.4 3.3l2.4 2.4l7.2 3.9l1.9 1.8l1.4 2.3l1 4.5l0.3 15.9l-28.1 0l0.4-18.2l1.5-23.9l1.7-5.6l0.7-1.2zM1341.1 538.9l2.6 3.2l0.5 4.5l-0.4 4.6l-0.5 2.2l-2.2 3.3l-2.4 0.5l-2.4-1.5l-1.2-2.3l-0.6-4.5l0.4-4.6l0.6-2.2l1.6-2.3l1.6-1.1zM1437.4 539.5l2.5-0.7l2.4 0.1l2.4 0.9l2.9 2.3l1.5 2.2l0.9 4.6l-0.4 4.5l-1.2 2.3l-3.3 2.3l-2.8 0.5l-3-0.5l-3.5-2.3l-1.4-2.3l-1-4.5l0.1-4.6l1-2.2zM1377.2 552.8l2.5-1l2.4 0.3l2.4 1.2l7.2 6.9l8.8 4.6l2.3 2.3l1.2 2.2l0.9 4.6l0.3 13.6l-30.5 0l1.5-20.4l-1-9.1l0.2-2.3zM1165.3 561.8l2.5 1.1l1.6 4.2l0.7 20.4l-8.7 0l-0.4-20.4l0.7-2.3l1.2-1.9z" fill="#6b9fcf" fill-rule="evenodd"/>
<path d="M985.4 344.5l8.1 0l-0.4 11.4l-1.2 13.6l0.2 4.5l0.8 2.3l1.5 2l4.8 3.5l3.2 3.6l4 10.9l5.3 7.3l1.5 4.5l1.3 27.2l-0.3 9.1l-0.8 2.3l-1.5 2.3l-8.4 6.8l-1.6 2.3l-0.5 2.2l0.2 2.3l1.1 2.3l3.7 4l2.4 3.6l3.3 12.8l0.3 2.3l-1.2 3.4l-2.4 1.9l-2.4 0.4l-2.4-0.4l-2.4-1.6l-4.8-6.4l-2.4-2.1l-4.8-3.1l-3-3.5l-0.7-2.3l-0.4-4.5l0.7-15.9l-0.2-6.8l-3.4-13.6l-2.6-4.6l-2.5-1.7l-2.4-0.8l-16.8-1l0-13.3l16.8 0.6l4.8 1.4l2.4 1.5l2.4 2.8l3 6l1.9 6l2.4 5.6l2.4 1.5l2.4-0.5l1.3-1.3l1.1-2.2l0.4-4.6l-0.2-18.1l-2.6-16.1l-0.7-2.1l-1.7-2.9l-7.7-6.2l-1.6-2.3l-1.4-4.5l-0.1-4.5l1.1-11.4zM1017.8 344.5l14.3 0l-0.5 13.6l0.4 4.6l2.5 13.6l0.8 1.7l2.4 1.3l2.4-0.9l1.7-2.1l1.7-4.5l1.5-13.7l0.7-13.6l56.6 0l-0.6 11.4l-1.4 4.5l-1.8 2.3l-3 2.2l-7.2 3.5l-2.4 1.9l-2.4 3.4l-2.4 4.9l-2.4 2.9l-4.9 4.1l-6.2 6.6l-3.4 2.3l-2.4 0.9l-4.8 0.9l-16.9 1.6l-4.8-0.1l-2.4-0.8l-2.4-1.7l-1.9-3.1l-1.4-4.5l-2.3-13.7l-1.6-3.5l-4.4-5.6l-0.9-2.2l-0.5-4.6zM1146.6 344.5l12.5 0l0.2 15.9l2.4 11.4l1.2 13.6l1.2 4.5l1.3 2.3l2 2.3l10 8.5l2.4 1.4l2.4 0.3l2.4-1.3l2.4-4.2l1.2-4.7l0.5-6.8l-0.4-9.1l-0.7-4.6l-4.9-13.6l-0.8-15.9l8.6 0l0.4 11.4l0.9 7.8l2.4 7.9l1.6 0.2l0.8 2l0.2-11.1l-0.5-18.2l9.3 0l0.8 29.5l0.9 4.6l1 2.2l3.5 4.6l13.7 12.2l4.9 2.8l4.8 1.2l2.4 0.1l4.8-1.3l2.4-1.6l3.7-4.3l0.8-2.3l-0.2-4.5l-2.7-6.9l-0.9-4.5l2.4-20.4l0.5-11.4l8.2 0l-0.5 11.4l-2.7 20.4l1 4l2.4 2.5l2.5 0.9l1-0.6l1-2.3l0.2-2.2l-1.3-11.4l1.4-22.7l7.5 0l-0.5 20.4l5.5 18.2l2.3 4.6l4.5 7.1l12.1 12.6l2.4 1.9l2.4 0.8l2.4-0.6l1.6-1.4l1.5-2.3l0.9-4.5l-0.2-4.6l-1.4-4.5l-5.4-6.8l-1.8-3.7l-1.8-5.4l-4.8-11.4l-0.9-6.8l0-13.6l7 0l0.1 15.9l0.4 2.6l1.5 4.2l9.5 13.6l8.2 7.4l2.1 4l0.8 4.5l0.2 4.6l-1 4.5l-2.8 4.6l-6 6.8l-2.1 4.5l-0.7 6.8l0.5 15.9l0.8 2.3l1.8 2.3l1.6 1.1l6.9 3.4l12.4 5l2.6 1.8l1.4 2.3l0.6 6.8l-1.6 29.5l0.8 13.7l1 3.2l2.4 3.3l7.2 4.1l3.3 3l2.6 4.5l2.3 6.8l0.6 6.8l-0.6 6.9l-1.6 6.8l-4.6 11.3l-1 6.8l-0.7 11.4l-12.2 0l0.7-15.9l-0.6-4.5l-2.8-4.6l-6.9-6.8l-1.5-2.3l-1.1-4.5l-0.4-15.9l-1-4.6l-1.3-2.2l-6.9-7.3l-2.1-4.1l-2.1-6.8l-2-4.5l-9.2-11.4l-7.3-15.9l-0.8-6.8l0.8-11.3l2-6.9l4.8-11.3l0.8-4.6l-0.5-6.8l-1.4-4.5l-2.3-4.6l-9.6-11.8l-9.6-15.4l-2.4-3l-2.4-1.9l-2.4-1l-2.4 0.5l-1.2 3.1l-2.7 4.6l-13 13.2l-2.4 1.7l-2.4 0.8l-4.8-0.3l-6.9-1.8l-2.8-1.3l-2.4-1.7l-7.2-7.1l-10.5-5.8l-1.5-1.3l-2.6-3.2l-3.5-6.9l-0.7-2.2l-0.5-4.5l-1.5 9l-2 18.2l-2 6.8l-1.7 2.3l-2.4 1.5l-2.4 0.5l-4.8-0.7l-4.8-3l-5.4-5.1l-6.7-5.5l-3.4-3.6l-1.4-2.3l-1.5-4.5l-0.9-9.1l-0.9-4.6l-1.5-3.6l-3.8-5.5l-2.3-4.5l-0.7-4.5zM1297.8 457.7l-2.4 3.1l-1 4.1l-0.3 6.8l1.3 6.3l2.4 3.7l9.1 10.4l2.9 1.5l2.4 0l2.6-1.5l1.5-2.3l0.8-2.2l1.6-15.9l0-4.6l-0.4-2.2l-1.3-2.3l-2.4-1.9l-2.4-1.1l-9.6-2.5l-2.4-0.2zM1341.1 538.9l-2.4-0.2l-1.6 1.1l-1.6 2.3l-0.6 2.2l-0.4 4.6l0.6 4.5l1.2 2.3l2.4 1.5l2.4-0.5l2.2-3.3l0.5-2.2l0.4-4.6l-0.5-4.5zM1331 344.5l12.3 0l0.3 22.7l0.8 9.1l2.1 4.5l9.1 7.5l1.8 3.9l0.5 2.3l-0.1 24.9l0.4 6.9l0.7 4.5l2.3 4.5l2.1 2.3l6.6 4.6l2.3 2.2l2.3 4.6l0.9 6.8l2.1 38.6l-0.5 4.5l-0.9 2.3l-1.3 1.7l-2.4 1.6l-2.4 0.3l-2.4-0.8l-2.4-2.4l-1.1-2.7l-0.8-9.1l-1.3-4.5l-1.8-2.3l-7.6-4.5l-2.4-2.3l-1.1-2.3l-0.9-4.5l-1.1-20.4l1.7-15.9l-0.8-15.9l-1.6-6.8l-2.9-6.6l-2.4-2.7l-7.2-4.9l-1.3-1.7l-1.6-4.6l-0.5-13.6zM1370.5 344.5l16.4 0l0.3 13.6l0.6 4.6l0.8 2.2l1.7 2.3l1.4 1l2.4 0.6l2.4-0.4l2.4-1.5l3-4.2l1-4.6l0.1-13.6l16.5 0l0 13.6l-0.6 4.6l-0.8 2.2l-2.3 3.2l-7.3 5.6l-2.5 2.6l-2.6 4.5l-0.6 2.3l0.1 2.3l5.6 0.5l4.9 1.5l2.4 2.2l2.4 3.6l2.4 2.4l4.8 1.9l4.8 0.5l7.2 0.1l4.7-1.4l2.6-2.1l3.9-4.7l3.3-1.9l2.4-0.1l2.4 0.9l1.2 1.1l1.5 2.3l0.6 2.3l0.5 9.1l1.4 4.5l2 2.3l7.6 4.5l2.2 2.3l1.9 4.5l1.7 20.5l-0.1 18.1l-0.4 6.8l-0.8 4.6l-2.4 3.9l-2.4 1.3l-2.5 0l-2.4-1.1l-1.6-1.9l-1.5-4.5l-0.1-18.2l-0.5-4.5l-0.8-2.3l-2.7-3.6l-7.4-5.5l-3.9-4.5l-0.9-2.3l-1.8-9.1l-1.2-2.2l-2.1-2.3l-1.9-1l-2.5-0.4l-2.4 0.7l-2.6 3l-0.5 2.2l0.2 9.1l-0.3 2.3l-1 2.3l-1.6 2.2l-6.9 6.9l-1.2 2.2l-1 4.6l-0.3 9.1l0.8 4.5l2.4 3.5l6.7 5.6l1.3 2.2l0.1 2.3l-0.9 2.1l-2.4 2.1l-2.4 0.9l-7.2 0.5l-7.2-1.2l-2.5-1.3l-2.4-2.3l-1.3-3.1l-0.4-2.2l0.1-18.2l-0.3-4.5l-0.7-2.3l-2.2-3.1l-7.2-4.2l-2.3-1.8l-1.7-2.3l-1.7-4.5l-0.9-6.8l0.3-4.6l1-2.2l2-2.3l6.5-4.5l1.9-2.3l1.1-2.3l0.8-4.5l0.9-13.6l-0.7-1.6l-19.2-0.4l-4.9-1.7l-2.4-2.2l-1.8-3.2l-1-4.6zM1476 344.5l14.7 0l-0.3 18.2l-1.4 4.5l-1.9 2.3l-1.5 1.1l-2.4 0.7l-2.4-0.2l-2.4-1.2l-1.7-2.7l-0.8-4.5zM1521.2 344.5l28.9 0l0.5 11.4l1.3 6.8l1.2 2.2l2.3 2.3l2.4 1.1l4.9 0.8l2.4-0.3l0.3-1.6l-0.9-22.7l30.7 0l-0.6 15.9l-0.6 2.5l-2.4 3.5l-2.5 1.5l-4.8 1l-18 0.6l-0.5 2.3l0.6 13.6l1.1 6.5l2.4 3.5l5.4 3.6l2.1 2.3l1.4 4.5l0 4.6l-0.5 4.5l-1.5 4.5l-2.1 2.6l-7.2 5.2l-2.4 3.6l-0.6 2.3l-1.9 40.8l-0.2 20.5l-2.1 1.2l-4.9-0.9l-4.4-2.6l-6.1-9.1l-6.3-5l-1.7-1.8l-1.2-2.3l-0.6-2.2l-0.2-4.6l0.7-15.9l0.6-4.5l0.9-2.3l1.7-2.2l6.8-4.6l2.2-2.3l1.8-4.5l2.6-31.8l-0.2-6.8l-1.4-3.9l-2.4-2.8l-5.9-4.7l-8.4-9l-7.4-4.5l-2.4-2.4l-1.2-2.2l-1.1-4.6zM1609.4 344.5l28.1 0l-1.9 56.8l0.4 2.3l1.3 2.7l1.8 1.8l7 4.5l1.5 2.3l0.8 2.3l0.7 6.8l0.2 15.9l0.7 4.5l1.1 2.3l1.9 2.3l3.3 2.2l2.7 1l4.8 0.6l14.4 0.3l0 67.3l-16.8 0.3l-4.8-0.7l-2.4-1.1l-2.4-2.1l-4.1-6.5l-6.5-6.8l-8.9-15.9l-1.2-4.6l-1-22.7l-1.7-4.5l-3.1-5l-1.4-4.1l-3.5-15.9l-0.4-9.1l-0.7-4.5l-1-2.3l-2-2.3l-6.1-4.5l-1.5-2.3l-0.7-2.2l-0.2-4.6l0.7-13.6zM1642.1 456.2l-2.4 1.6l-0.7 2.5l-0.3 4.6l1 18.5l2 4.2l2.8 1.7l2.4-0.8l0.9-0.9l1.5-4.2l-0.5-18.5l-0.3-2.3l-1.6-3.6l-2.4-2.2zM1651.7 344.5l26.5 0l0 38.5l-19.2-0.5l-4.6-1.7l-2.2-2.2l-1-2.3l-0.5-4.5zM1512.1 414.9l2.4 0.1l3.6 2.2l1.7 2.2l1.1 4.6l-0.3 6.8l-1.3 4.2l-2.3 2.6l-2.5 1l-2.4-0.1l-2.4-1.1l-1.6-2.1l-1.4-4.5l-0.2-6.8l0.8-4.6l2.4-3.3zM1142.2 428.5l2 2.3l0.9 2.3l0.5 9.1l1.2 4.5l1.7 2.3l7.2 6.6l2.2 4.7l0.4 4.6l-0.2 29.5l2 29.5l1.1 4.5l1.3 2.3l2.6 2.3l5.1 2.7l2.4 1.8l1.4 2.3l0.6 4.5l-0.1 6.9l2.1 13.6l0.2 22.7l-6.7 0l-0.7-20.4l-1.6-4.2l-2.5-1.1l-2.4 1.1l-1.2 1.9l-0.7 2.3l0.4 20.4l-29.2 0l-0.9-11.4l-2.4-18.1l-1.5-4.6l-1.6-2.2l-7.6-6.9l-5.8-7.2l-2.4-2.2l-4.9-2.1l-9.6-1.1l-4.8-1.7l-1.7-1.6l-4.3-6.8l-6.9-4.5l-6.4-6.9l-2.4-1.2l-2.4-0.2l-2.9 1.5l-1.6 2.3l-0.8 2.2l-1.4 27.3l0.2 9.1l1.7 4.5l2.1 2.3l5.8 4.5l2.2 2.3l1.4 2.3l0.8 2.2l0.7 4.6l0.4 13.6l-30.5 0l-0.3-15.9l-1-4.5l-1.4-2.3l-1.9-1.8l-7.2-3.9l-2.4-2.4l-1.4-3.3l-0.5-11.3l-0.6-2.3l-2.3-2.5l-2.4-0.3l-2.4 1.6l-0.7 1.2l-1.7 5.6l-1.5 23.9l-0.4 18.2l-7.7 0l0.8-31.8l1-11.4l1.2-6.8l2.2-6.8l2.3-4.5l2.1-2.3l7.3-4.5l2.3-2.3l1.2-2.3l0.8-4.5l-0.6-18.2l0.4-2.3l1.3-2.2l2.8-2.3l3.7-1.3l9.7-2.1l4.8 0.2l2.4 1.2l2.2 2l5 5.5l9.6 5.1l7.3 6.4l2.4 1.2l2.4-0.1l2.4-1.7l1.3-2.8l0.4-4.5l-1-13.6l0.2-6.9l3.9-12.4l2.4-5.1l2.4-2.5l2.4-1.2l7.2-1l4.9 0.4l2.4 0.9l2.4 1.9l4.8 6l2.4 1.3l2.4 0.3l2.4-0.8l2.4-2.6l1.1-3.3l0.4-6.8l-0.7-4.6l-1.2-2.2l-2-1.9l-5.1-2.7l-3.2-2.3l-1.2-2.2l0-2.3l2.3-3l2.4-1.2l4.8-0.9l9.6 0.2l2.5 0.7zM1107.6 480.2l-2.5 1.1l-1.3 1.7l-0.6 2.3l0.7 2.3l1.2 1.5l2.5 1.2l2.4 0l2.4-1.2l1.1-1.5l0.5-2.3l-0.7-2.3l-0.9-1.2l-2.4-1.5zM1252 440.6l2.4 1l2.4 3.9l0.6 3.5l0.5 11.3l1.5 9.1l0.1 2.3l-0.6 2.2l-2.1 2.2l-2.4 0.4l-2.4-1l-1.7-1.6l-5.5-6.6l-7.1-4.7l-1.7-2.3l-0.6-2.2l0.4-2.3l1.6-2.3l6.3-4.5l5.9-7.5zM1199.1 442.2l2.4 1.4l4.8 5.3l2.4 2l7.2 4.1l2.4 3.1l0.8 2.2l0.6 4.6l-0.1 18.1l2.2 15.9l1.3 3.6l6.9 10.1l1.5 6.8l-0.4 6.8l-1.1 2.2l-2 1.9l-14.5 6.3l-4.8 1.1l-12.1-0.3l-4.8-1.2l-2.4-1.5l-1.6-1.7l-3.2-6.1l-2.1-3l-5.1-4.5l-1.8-2.3l-1-2.3l-0.9-4.5l0-6.8l1.9-4.6l2-2.2l9.4-8l2.8-3.4l2.4-4.5l1.4-4.6l0.6-4.5l0-20.5l0.6-4.5l1.8-3.8zM1201.5 491.8l-2.4 0.7l-3.6 1.9l-2.8 2.3l-1.9 2.2l-1.9 4.6l-0.4 4.5l0.4 4.6l3.6 11.3l2.6 4.5l1.5 1.1l2.5 0.9l4.8 0.3l4.8-0.4l4.8-1.8l2.4-2.7l1-4.2l-0.8-9l-3.4-15.9l-1.6-3.2l-2.4-1.6l-2.4-0.5zM1264.1 495.3l2.4 0.3l2.4 1.9l4.8 6.4l7.7 6.4l1.8 2.3l0.7 2.2l2.6 47.7l0.5 25l-10.7 0l-1.5-29.5l0.6-4.6l2-6.8l0.6-6.8l-0.8-4.5l-2.9-9.1l-1.9-11.4l-1.2-2.2l-2.3-2.3l-2.4-1l-2.4 0.4l-2.9 2.9l-1.4 4.5l-0.8 9.1l-3.3 11.3l-0.5 4.6l0.9 6.8l6.1 11.3l1.6 4.6l1.6 9.1l0.8 13.6l-8.2 0l-1.1-15.9l-1.2-4.5l-1.3-2.5l-1.9-2.1l-5.2-4.5l-1.3-2.3l-0.6-2.3l-0.3-6.8l0.5-27.2l0.6-4.6l2.2-4.5l13.3-13.9zM1562.9 496.7l2.2-0.7l26.5-0.8l4.8 0.9l2.4 2l1.7 5.4l1.7 15.9l2.6 6.8l3.6 4.3l7.2 6.1l10.6 10l1.8 2.3l1 2.3l1.1 6.8l0.2 29.5l-10.7 0l-0.5-29.5l-1.1-4.6l-1.4-2.2l-3.4-3.3l-5-3.6l-7-7.4l-2.4-1.6l-4.8-1.3l-2.4 0.4l-0.3 0.9l-1.4 52.2l-27.8 0l1.3-45.4l-0.7-29.5zM1581.9 510.7l-2.4 1.9l-1.8 4.5l-0.2 6.8l1.1 4.5l1.7 2.3l1.6 1.1l4.8 1.3l3.4-0.1l0.8-2.3l-0.1-11.3l-0.7-4.6l-1.1-2.2l-2.3-1.9l-2.4-0.5zM1363.1 528.4l2.1-3.3l1.9-1.2l2.9-0.4l2.4 1.1l1.5 1.6l3.3 6.1l2.5 2.8l6.5 4.7l6.1 6.8l4.2 2.3l2.4 0.5l7.2-0.2l4.9-1.2l2.5-1.4l7.1-8l9.5-7.9l1.4-2.3l1-4.5l1.1-18.2l1.4-4l2.6-2.8l2.3-1l2.4-0.2l2.4 0.9l2.5 2.6l1.3 4.5l0.8 18.2l0.9 4.5l1.2 2.3l2.4 2.3l2.9 1.4l2.4 0.3l2.4-0.7l1.4-1l4.7-6.8l8-6.8l3.5-6.8l1.9-2.3l2.2-1.3l4.8-1l4.8-0.2l4.8 0.5l2.5 0.9l2.4 1.6l7.2 7.4l7.7 5.7l6.7 7.7l7.3 5.2l7.1 7.5l7.1 4.6l1.7 2.3l1.1 4.5l0.1 31.8l-13.9 0l-0.6-27.3l-0.9-4.5l-1.7-2.6l-8.8-6.5l-5.5-6.8l-7.4-6l-6.7-7.6l-2.9-1.9l-2.5-0.2l-2.4 1.3l-4.4 7.6l-7.6 6l-1.6 3.1l-0.4 4.5l0.9 20.5l-0.4 20.4l-76.5 0l-0.3-13.6l-0.9-4.6l-1.2-2.2l-2.3-2.3l-8.8-4.6l-7.2-6.9l-2.4-1.2l-2.4-0.3l-2.5 1l-1.8 2.9l-0.2 2.3l1 9.1l-1.5 20.4l-8.4 0l1.4-15.9l-0.1-4.5l-2-4.6l-3.6-4.5l-1-4.6l1.2-20.4zM1437.4 539.5l-2.9 2.6l-1 2.2l-0.1 4.6l1 4.5l1.4 2.3l3.5 2.3l3 0.5l2.8-0.5l3.3-2.3l1.2-2.3l0.4-4.5l-0.9-4.6l-1.5-2.2l-2.9-2.3l-2.4-0.9l-2.4-0.1zM958.3 549.7l16.8 0.3l4.8 1.8l2.1 1.6l1.7 2.3l1.2 4.5l-0.5 27.3l-26.1 0zM1654.2 563.3l2.4-1.6l2.4-0.6l19.2 0.3l0 26.1l-26 0l-0.3-18.2l0.3-2.2zM1208.7 563.4l2.4 0.4l1.5 1l1.8 2.3l0.8 2.2l0.5 18.2l-11 0l0.2-18.2l1.4-4.4zM1512.1 566.9l2.4-0.9l2.4 0.2l2.4 1.7l0.9 1.4l1.1 4.6l0.4 13.6l-12.7 0l0.4-15.9l0.8-2.3z" fill="#b4ebf8" fill-rule="evenodd"/>
<path d="M1188.4 428.5l0.2 4.6l-2.6 13.6l-0.9 25l-0.8 2.2l-1.7 2.3l-2.8 1.4l-2.4-0.4l-2.6-3.3l-0.7-4.5l-0.3-9.1l-1.7-4.5l-1.9-2.4l-7.3-6l-4-5.2l-1.8-4.6l-1.7-9.1l-2.1-4.2l-9.6-10.3l-4.8-2l-4.9-0.6l-14.4-0.2l-9.6 0.5l-4.9 1.2l-2.8 2l-4.4 6.8l-2.4 2.5l-6.1 4.3l-1.6 2.3l-0.8 4.5l0.1 9.1l-0.9 4.6l-4.1 11.3l-1.4 2.3l-2.7 2.3l-1.8 0.9l-4.8 0.9l-16.8 0.2l-4.8 0.5l-4.3 2l-5.1 4.5l-2.7 1.5l-12 3.2l-2.4 0l-2.4-1.1l-2.3-3.6l-2.1-9l-0.2-2.3l0.4-2.3l1.8-2.8l7.9-6.3l1.8-2.2l1.4-4.6l0.5-9.1l0.5-2.2l2.3-3.8l5.6-5.3l6.4-8.5l2.5-1.8l4.8-1.7l9.6-1.4l2.4-0.7l3-1.8l6.6-7.3l8.8-6.3l2-2.3l2.2-4.5l2.9-9.1l1.1-2.3l2-2.3l7.5-4.9l7.3-3.4l4.8-0.8l4.8 0.2l9.6 1.7l9.6 0.9l2.5 0.8l2.4 1.6l2.4 2.9l1.5 3.3l1.3 11.4l1.3 4.5l1.4 2.3l13.7 13.9l22 15.6l2.3 2.3zM1167.8 423.5l-2.5 1l-1.3 1.8l-0.7 2.2l-0.1 2.3l0.7 2.3l1.4 2.3l2.5 1.4l2.4 0.2l2.4-0.7l1.2-1l1.6-2.2l0.5-2.3l-0.5-2.3l-1.6-2.2l-3.6-2.5zM1047.4 426.8l-3.5 4l-1.1 2.3l-0.9 4.5l0.4 9.1l0.6 2.3l2 3.2l2.5 1.6l2.4 0.8l9.6 0.7l7.2-0.9l2.4-1l2.4-1.9l1.8-2.5l0.8-2.3l0.5-4.5l-0.2-4.6l-1.4-6.8l-1.2-2.3l-2-2.2l-4.6-2.3l-5.7-0.6l-7.2 0.9l-2.4 0.9zM1099 378.6l-0.7 2.2l-0.3 4.6l0.9 6.8l1.4 2.7l2.4 2.2l2.4 1l7.3 0.6l12-0.9l4.8-2.1l1.5-1.2l1.5-2.3l0.7-2.3l0-2.2l-0.5-2.3l-1.3-2.3l-2.5-2.3l-6.6-3.5l-7.2-5l-2.4-0.8l-2.4-0.2l-4.9 1.3l-2.5 1.4l-2.3 2.3zM1528.9 386.4l2.5 0.4l2.4 1.4l1.5 1.7l1.3 2.3l0.9 4.5l-0.2 4.6l-1 4.5l-2.5 3.4l-2.4 1.1l-2.5-0.1l-3.3-2.1l-1.7-2.3l-1.2-4.5l0.2-6.8l1.2-4.3l2.4-2.9zM1205 403.6l1.3-0.8l2.4-0.5l2.4 0.4l2.4 1.3l7.2 6.6l9 6.6l1.5 2.2l0.6 2.3l0 6.8l-1.4 4.6l-2.4 2.7l-4.9 2l-4.8 0.5l-4.8-0.3l-2.4-0.8l-2.4-1.5l-4.4-4.9l-3.2-6.8l-1.1-6.8l0.5-4.6l1.4-4.5l1-2.3zM1211.1 411.9l-2.4 1.3l-1 1.7l-0.5 2.3l0.3 2.2l1.2 2.7l2.1 1.9l2.7 0.7l2.4-0.8l2.1-2.2l0.6-2.3l-0.5-2.2l-2.2-3l-2.4-1.8zM1266.5 401.9l2.4 0.9l2.4 2.2l5.8 7.6l2.7 4.6l5.6 11.3l0.9 4.6l-0.4 2.2l-1.1 2.3l-6.3 6.8l-1.5 2.3l-0.9 2.3l-1.3 9.1l-0.7 2.2l-2.8 2.6l-2.4-0.2l-2.4-3.1l-0.7-3.8l-0.6-9.1l-1.7-4.5l-6.1-11.4l-1.2-6.8l0.2-9.1l2.3-6.8l3-3.9l2.4-1.7zM1266.5 413.2l-2.2 1.7l-1 2.3l-0.5 4.5l0.6 6.8l0.7 2.7l2.4 4.2l2.4 1.8l2.4 0.3l2.4-0.9l2.4-2.5l1.1-3.3l-0.2-2.3l-2-6.8l-2-4.5l-1.7-2.4l-2.4-1.5zM1333.9 412.7l2.4 0.8l2.4 1.8l1.9 4.1l0.7 6.9l-0.4 6.8l-2.2 4.9l-7.2 9.2l-2.4 1.4l-1.7 0.4l-3.1-0.4l-3-1.9l-1.3-2.3l-0.6-2.2l-0.7-13.7l0.4-6.8l2.1-4.5l3.1-3l4.8-1.5zM1442.3 441l2.4 1.2l2.4 2.8l1.3 4l0.3 4.5l-0.6 4.6l-1 2.4l-2.4 2.6l-2.4 0.8l-2.4-0.4l-2.5-1.8l-1-1.4l-0.9-2.2l-0.6-4.6l0.2-4.5l1.4-4.6l0.9-1.4l2.5-1.8zM1610.8 442.9l2.4 0.9l1 2.9l-0.3 2.3l-0.7 1.1l-2.4 0.4l-1.5-1.5l-0.7-2.3l0.6-2.3zM1497.6 455.2l2.5-0.1l2.4 0.9l2 2.1l0.9 2.2l0.3 4.6l-0.8 11.1l-0.7 2.5l-1.7 0.6l-4.9-0.4l-2.4-0.9l-2.4-2.2l-1.4-3.9l0.1-6.8l0.8-4.6l1.2-2.2l1.7-1.8zM1584.3 455.2l2.4 0.5l2.5 2.4l1.2 4.5l-0.2 4.5l-0.9 6.8l-2.1 4.6l-2.9 1.9l-2.4 0.3l-2.4-1l-2.4-3.5l-0.7-4.5l0.2-4.6l0.8-4.5l2.1-4.5l2.4-2.2zM1240 480.3l2.4 1l2.4 2.7l1.3 3.6l0 4.5l-0.8 4.6l-1.1 2.2l-1.8 2.2l-2.4 1.3l-2.4 0l-2.4-1.6l-2.3-4.1l0-6.9l1-4.5l1.3-2.6l2.4-2zM1505.2 480.8l2.1-1.1l2.4 0.1l4.8 1.3l1.9 1.9l0.5 1.7l-0.4 2.9l-2 2.4l-2.4 1l-2.4 0l-2.3-1.2l-1.6-2.2l-0.6-2.3zM1278.5 484l2.4 0l2.4 2.1l1.5 3.7l1.2 4.6l0.5 4.5l-0.8 1.7l-2.4 0.7l-2.4-0.9l-1.5-1.5l-1.3-2.2l-1.8-6.9l-0.1-2.2l0.9-2.3zM958.3 493.6l16.8 0.2l4.8 1.2l2.6 1.7l5.1 6.8l2 2l7.1 4.8l2 2.3l1.1 2.2l0.9 4.6l-0.1 13.6l-1.3 9.1l-2.5 3.7l-2.4 1.1l-2.8-0.3l-3.4-2.3l-5.9-6.1l-2.4-1.2l-2.4-0.6l-19.2 0.2zM1613.2 494.8l2.4-0.7l4.9-0.5l4.3 0.8l2.9 1.9l2.4 3.9l3.5 12.4l0.7 6.8l-0.8 6.8l-1 2.4l-2.4 2.3l-2.4 0.6l-2.4-0.4l-2.4-1.4l-12.5-12.6l-1-2.3l-0.9-4.5l0.1-9.1l1.9-4.5zM1396.5 508.4l4.8-0.8l7.2 0.9l4.5 1.8l2.4 2.3l1.1 2.2l0.4 2.3l0.1 4.5l-0.7 4.6l-0.9 2.2l-1.6 2.3l-2.8 2.3l-2.5 0.6l-2.6-0.6l-2.2-2.1l-2.6-4.7l-1.9-2.3l-5.5-4.5l-1.2-2.3l-0.3-2.3l0.4-2.2l1.5-2.6zM1295.4 511.8l2.4 2.2l5.1 14.4l0.6 4.6l0.8 15.9l1 4.5l2.1 3.1l8 6l1.8 2.3l1 2.3l0.5 4.5l-0.5 15.9l-23.8 0l-0.1-29.5l-1.3-24.7l-0.2-13.9l0.4-4.6l1.1-2.2zM1223.1 540.8l2.4-0.3l2.5 0.7l1.3 0.9l1.4 2.2l0.4 2.3l-0.1 4.6l-1.2 4.5l-1.8 2.1l-2.5 0.9l-2.4-0.2l-2.4-1.2l-2.4-2.5l-1.2-3.6l0.3-4.6l0.9-2.3l2-2.2zM1196.6 548.9l3 2.3l0.6 2.2l-0.4 2.3l-2.5 6.8l-0.7 4.6l-0.3 20.4l-9.7 0l0.2-20.4l0.9-11.4l1.7-4.2l2.4-2.1l2.4-0.7zM1642.1 550.1l2.8 1.1l1.4 2.2l0.1 2.3l-2.8 11.4l-0.1 20.4l-5.3 0l-0.1-31.8l1.5-4.5z" fill="#ea967a" fill-rule="evenodd"/>
<path d="M1099 378.6l1.3-2.3l2.3-2.3l2.5-1.4l4.9-1.3l2.4 0.2l2.4 0.8l7.2 5l6.6 3.5l2.5 2.3l1.3 2.3l0.5 2.3l0 2.2l-0.7 2.3l-1.5 2.3l-1.5 1.2l-4.8 2.1l-12 0.9l-7.3-0.6l-2.4-1l-2.4-2.2l-1.4-2.7l-0.9-6.8l0.3-4.6zM1209.5 412.6l1.6-0.7l2.4 0.5l3.1 2.5l1.5 2.3l0.5 2.2l-0.6 2.3l-2.1 2.2l-2.4 0.8l-2.4-0.5l-2.7-2.5l-0.9-2.3l-0.3-2.2l0.5-2.3zM1266.5 413.2l2.4 0.1l2.4 1.5l1.7 2.4l2 4.5l2 6.8l0.2 2.3l-1.1 3.3l-2.4 2.5l-2.4 0.9l-2.4-0.3l-2.4-1.8l-2.4-4.2l-0.7-2.7l-0.6-6.8l0.5-4.5l1-2.3zM1047.4 426.8l2.4-1.6l2.4-0.9l7.2-0.9l5.7 0.6l4.6 2.3l2 2.2l1.2 2.3l1.4 6.8l0.2 4.6l-0.5 4.5l-0.8 2.3l-1.8 2.5l-2.4 1.9l-2.4 1l-7.2 0.9l-9.6-0.7l-2.4-0.8l-2.5-1.6l-2-3.2l-0.6-2.3l-0.4-9.1l0.9-4.5l1.1-2.3zM1165.3 424.5l2.5-1l2.4 0.3l3.6 2.5l1.6 2.2l0.5 2.3l-0.5 2.3l-2.8 3.2l-2.4 0.7l-2.4-0.2l-2.5-1.4l-1.4-2.3l-0.7-2.3l0.1-2.3l0.7-2.2z" fill="#e12417" fill-rule="evenodd"/>
<path d="M1216 344.5l0 27.3l0.5 4.5l0.8 2.3l3.5 4.5l7.2 4.7l6.8 6.7l2.8 0.8l3.2-0.8l2-2.3l0.2-2.3l-0.6-2.3l-5.4-6.8l-0.5-2.2l0-4.6l1.9-18.1l0.4-11.4M1177.4 369.4l-2.4 0.4l-2.4 2.1l-1.5 4.4l-0.1 6.8l0.7 4.6l2.4 4.5l3.3 2.9l2.4 0.7l2.4-1.2l1-2.4l0.8-4.5l-0.3-6.9l-1.5-7.1l-2.4-3.1zM1283.3 373.1l-2.4 1.2l-0.9 2l-0.3 2.3l0.4 2.2l0.8 1.9l2.4 2.1l2.4 0l1.5-1.7l0.7-2.3l-0.2-2.2l-2-4.2zM1266.5 535.7l-2.8 1.8l-1.1 2.3l-0.4 2.3l0.6 2.2l1.3 1.8l2.4 0.8l2.4-1.2l1.8-3.6l0-2.3l-1-2.3l-0.8-0.9zM1076.2 545.3l-1.6 1.3l-1.4 2.3l-0.3 2.3l0.5 2.2l1.6 2.3l3.7 2.8l2.4 0.6l2.4-0.3l2.4-1.8l0.9-1.3l0.9-2.3l0.1-2.2l-0.6-2.3l-1.4-2.3l-2.3-1.8l-2.4-0.7l-2.4 0.2zM1118.1 587.5l-0.8-15.9l-1.7-15.9l-2.2-4.5l-1.8-2.3l-4-3.1l-2.5-0.7l-2.4 0.2l-2.4 1.4l-1.6 2.2l-1.1 4.5l1.5 34.1M1032.1 344.5l-0.5 13.6l0.4 4.6l2.5 13.6l0.8 1.7l2.4 1.3l2.4-0.9l1.7-2.1l1.7-4.5l1.5-13.7l0.7-13.6M1159.1 344.5l0.2 15.9l2.4 11.4l1.2 13.6l1.2 4.5l1.3 2.3l2 2.3l10 8.5l2.4 1.4l2.4 0.3l2.4-1.3l2.4-4.2l1.2-4.7l0.5-6.8l-0.4-9.1l-0.7-4.6l-4.9-13.6l-0.8-15.9M1205.6 344.5l0.8 29.5l0.9 4.6l1 2.2l3.5 4.6l13.7 12.2l4.9 2.8l4.8 1.2l2.4 0.1l4.8-1.3l2.4-1.6l3.7-4.3l0.8-2.3l-0.2-4.5l-2.7-6.9l-0.9-4.5l2.4-20.4l0.5-11.4M1269.1 344.5l-0.5 20.4l5.5 18.2l2.3 4.6l4.5 7.1l12.1 12.6l2.4 1.9l2.4 0.8l2.4-0.6l1.6-1.4l1.5-2.3l0.9-4.5l-0.2-4.6l-1.4-4.5l-4.8-6l-1.8-3.1l-2.4-6.8l-4.8-11.4l-0.9-6.8l0-13.6M1386.9 344.5l0.3 13.6l0.6 4.6l0.8 2.2l1.7 2.3l1.4 1l2.4 0.6l2.4-0.4l2.4-1.5l3-4.2l1-4.6l0.1-13.6M958.3 411.7l14.4 0.4l4.8 0.7l2.4 0.9l2.4 1.5l3.3 4.2l6.4 16.2l2.4 1.5l2.4-0.5l1.3-1.3l1.1-2.2l0.4-4.6l-0.2-18.1l-2.6-16.1l-0.7-2.1l-1.7-2.9l-7.7-6.2l-1.6-2.3l-1.4-4.5l-0.1-4.5l1.1-11.4l0.7-15.9M1297.8 457.7l-2.4 3.1l-1 4.1l-0.3 6.8l1.3 6.3l2.4 3.7l9.1 10.4l2.9 1.5l2.4 0l2.6-1.5l1.5-2.3l0.8-2.2l1.6-15.9l0-4.6l-0.4-2.2l-1.3-2.3l-2.4-1.9l-2.4-1.1l-9.6-2.5l-2.4-0.2zM1642.1 456.2l-2.4 1.6l-0.7 2.5l-0.3 4.6l1 18.5l2 4.2l2.8 1.7l2.4-0.8l0.9-0.9l1.5-4.2l-0.5-18.5l-0.3-2.3l-1.6-3.6l-2.4-2.2zM1107.6 480.2l-2.5 1.1l-1.3 1.7l-0.6 2.3l0.7 2.3l1.2 1.5l2.5 1.2l2.4 0l2.4-1.2l1.1-1.5l0.5-2.3l-0.7-2.3l-0.9-1.2l-2.4-1.5zM1201.5 491.8l-2.4 0.7l-3.6 1.9l-2.8 2.3l-1.9 2.2l-1.9 4.6l-0.4 4.5l0.4 4.6l3.6 11.3l2.6 4.5l1.5 1.1l2.5 0.9l4.8 0.3l4.8-0.4l4.8-1.8l2.4-2.7l1-4.2l-0.8-9l-3.4-15.9l-1.6-3.2l-2.4-1.6l-2.4-0.5zM1581.9 510.7l-2.4 1.9l-1.8 4.5l-0.2 6.8l1.1 4.5l1.7 2.3l1.6 1.1l4.8 1.3l3.4-0.1l0.8-2.3l-0.1-11.3l-0.7-4.6l-1.1-2.2l-2.3-1.9l-2.4-0.5zM1341.1 538.9l-2.4-0.2l-1.6 1.1l-1.6 2.3l-0.6 2.2l-0.4 4.6l0.6 4.5l1.2 2.3l2.4 1.5l2.4-0.5l2.2-3.3l0.5-2.2l0.4-4.6l-0.5-4.5zM1437.4 539.5l-2.9 2.6l-1 2.2l-0.1 4.6l1 4.5l1.4 2.3l3.5 2.3l3 0.5l2.8-0.5l3.3-2.3l1.2-2.3l0.4-4.5l-0.9-4.6l-1.5-2.2l-2.9-2.3l-2.4-0.9l-2.4-0.1zM1044.7 587.5l-0.3-15.9l-1-4.5l-1.4-2.3l-1.9-1.8l-7.2-3.9l-2.4-2.4l-1.4-3.3l-0.5-11.3l-0.6-2.3l-2.3-2.5l-2.4-0.3l-2.4 1.6l-0.7 1.2l-1.7 5.6l-1.5 23.9l-0.4 18.2M1132.2 587.5l-0.9-11.4l-2.4-18.1l-1.5-4.6l-1.6-2.2l-7.6-6.9l-5.8-7.2l-2.4-2.2l-4.9-2.1l-9.6-1.1l-4.8-1.7l-1.7-1.6l-4.3-6.8l-6.9-4.5l-6.4-6.9l-2.4-1.2l-2.4-0.2l-2.9 1.5l-1.6 2.3l-0.8 2.2l-1.4 27.3l0.2 9.1l1.7 4.5l2.1 2.3l5.8 4.5l2.2 2.3l1.4 2.3l0.8 2.2l0.7 4.6l0.4 13.6M1170.1 587.5l-0.7-20.4l-1.6-4.2l-2.5-1.1l-2.4 1.1l-1.2 1.9l-0.7 2.3l0.4 20.4M1276.3 587.5l-1.5-29.5l0.6-4.6l2.4-9.1l-0.1-6.8l-3.4-11.3l-1.9-11.4l-1.2-2.2l-2.3-2.3l-2.4-1l-2.4 0.4l-2.9 2.9l-0.9 2.2l-1.3 11.4l-3.3 11.3l-0.5 4.6l0.9 6.8l6.1 11.3l1.6 4.6l1.6 9.1l0.8 13.6M1405.2 587.5l-0.3-13.6l-0.9-4.6l-1.2-2.2l-2.3-2.3l-8.8-4.6l-7.2-6.9l-2.4-1.2l-2.4-0.3l-2.5 1l-1.8 2.9l-0.2 2.3l1 9.1l-1.5 20.4M1509 587.5l0.4-15.9l0.8-2.3l1.7-2.2l2.6-1.1l2.4 0.2l2.4 1.7l0.9 1.4l1.1 4.6l0.4 13.6M1534.6 587.5l-0.6-27.3l-0.9-4.5l-1.7-2.6l-8.8-6.5l-5.5-6.8l-7.4-6l-6.7-7.6l-2.9-1.9l-2.5-0.2l-2.4 1.3l-4.4 7.6l-7.6 6l-1.6 3.1l-0.4 4.5l0.9 20.5l-0.4 20.4M1619.6 587.5l-0.4-27.3l-0.5-4.5l-0.7-2.3l-2.4-3.4l-7.4-5.7l-7-7.4l-2.4-1.6l-4.8-1.3l-2.4 0.4l-0.3 0.9l-1.4 52.2M1017.8 344.5l-0.3 13.6l0.5 4.6l0.9 2.2l4.4 5.6l1.6 3.5l3.2 16.9l1.7 3.6l2.6 2.2l2.9 1.1l2.4 0.1l21.7-1.9l4.8-1.5l3.4-2.3l6.2-6.6l5.5-4.8l1.8-2.2l3.5-6.8l1.3-1.5l2.4-1.9l7.2-3.5l3-2.2l1.8-2.3l1.4-4.5l0.6-11.4M1146.6 344.5l-0.1 11.4l0.7 4.5l2.3 4.5l3.8 5.5l1.5 3.6l0.9 4.6l0.9 9.1l1.5 4.5l1.4 2.3l3.4 3.6l6.7 5.5l5.4 5.1l4.8 3l4.8 0.7l2.4-0.5l2.4-1.5l1.7-2.3l2-6.8l2-18.2l1.5-9l0.5 4.5l0.7 2.2l5.1 9.1l2.5 2.3l10.5 5.8l7.2 7.1l2.4 1.7l7.3 2.5l4.8 0.9l2.4 0l2.4-0.8l2.4-1.7l13-13.2l2.7-4.6l1.2-3.1l2.4-0.5l2.4 1l2.4 1.9l2.4 3l9.6 15.4l9.6 11.8l3.2 6.9l1.1 6.8l-0.4 4.5l-1.3 4.6l-4 9l-1.5 4.6l-1.2 9.1l0.2 9l1.4 4.6l6.4 13.6l9.2 11.4l2 4.5l2.1 6.8l2.1 4.1l6.9 7.3l1.3 2.2l1 4.6l0.4 15.9l1.1 4.5l1.5 2.3l6.9 6.8l2.8 4.6l0.6 4.5l-0.7 15.9M1196.3 344.5l0.5 18.2l-0.2 11.1l-0.8-2l-1.6-0.2l-2.4-7.9l-0.9-7.8l-0.4-11.4M1261.6 344.5l-1.4 22.7l1.3 11.4l-0.2 2.2l-1 2.3l-1 0.6l-2.5-0.9l-2.4-2.5l-1-4l2.7-20.4l0.5-11.4M1331 344.5l-0.5 31.8l0.5 13.6l1.6 4.6l1.3 1.7l7.2 4.9l2.4 2.7l2.9 6.6l1.6 6.8l0.8 15.9l-1.7 15.9l1.4 22.7l0.6 2.2l1.7 2.9l2.4 2.1l7 4.1l1.8 2.3l0.9 2.3l0.9 9.1l1.2 4.5l2.6 2.8l2.4 0.8l2.4-0.3l2.4-1.6l1.3-1.7l1.3-4.5l0-6.9l-2.5-38.6l-1.2-4.5l-1.5-2.3l-2.3-2.2l-7.1-5.1l-2.4-2.9l-1.5-3.4l-0.7-4.5l-0.4-6.9l0.1-24.9l-0.5-2.3l-1.8-3.9l-9.1-7.5l-2.1-4.5l-0.8-9.1l-0.3-22.7M1370.5 344.5l1.5 29.5l1 4.6l1.8 3.2l2.4 2.2l4.9 1.7l19.2 0.4l0.7 1.6l-0.9 13.6l-0.8 4.5l-1.1 2.3l-1.9 2.3l-6.5 4.5l-1.5 1.6l-1.5 2.9l-0.3 4.6l0.9 6.8l1.7 4.5l1.6 2.2l9.6 6.1l2.2 3.1l0.7 2.3l0.3 4.5l-0.1 18.2l1.2 4.5l1.9 2.3l3.5 2.1l4.8 1l4.8 0.2l4.8-0.5l2.4-0.9l2.3-1.9l1-2.3l-0.1-2.3l-1.3-2.2l-6.7-5.6l-2.4-3.5l-0.8-4.5l0.1-6.9l0.5-4.5l1.9-4.5l6.9-6.9l1.6-2.2l1-2.3l0.3-2.3l-0.2-9.1l0.7-2.7l2.4-2.5l2.4-0.7l2.5 0.4l2.4 1.3l1.6 2l1.2 2.2l1.8 9.1l0.9 2.3l3.9 4.5l7.4 5.5l2.7 3.6l0.8 2.3l0.5 4.5l0.1 18.2l0.7 3l2.4 3.4l2.4 1.1l2.5 0l2.4-1.3l2.4-3.8l1-6.9l0.4-15.9l-1.2-22.7l-1.3-6.9l-1.2-2.2l-2.2-2.3l-7.6-4.5l-2-2.3l-1.4-4.5l-0.3-6.9l-0.8-4.5l-2.7-3.4l-2.4-0.9l-2.4 0.1l-2.4 1.1l-4.8 5.5l-2.4 2l-2.4 1.1l-4.9 0.5l-9.6-0.7l-4.8-1.9l-2.4-2.4l-2.4-3.6l-2.4-2.2l-4.9-1.5l-5.6-0.5l-0.1-2.3l0.6-2.3l2.6-4.5l2.5-2.6l7.3-5.6l2.3-3.2l0.8-2.2l0.6-4.6l0-13.6M1476 344.5l-0.1 18.2l0.8 4.5l1.7 2.7l2.4 1.2l2.4 0.2l2.4-0.7l1.5-1.1l1.9-2.3l0.9-2.3l0.7-4.5l0.1-15.9M1521.2 344.5l0.6 13.6l1.1 4.6l1.2 2.2l2.4 2.4l7.4 4.5l8.4 9l5.9 4.7l2.4 2.8l1.4 3.9l0.2 6.8l-2.6 31.8l-1.8 4.5l-2.2 2.3l-6.8 4.6l-1.7 2.2l-0.9 2.3l-0.6 4.5l-0.7 15.9l0.2 4.6l0.6 2.2l1.2 2.3l1.7 1.8l6.3 5l6.1 9.1l4.4 2.6l4.9 0.9l2.1-1.2l0.2-20.5l1.9-40.8l0.6-2.3l2.4-3.6l7.2-5.2l2.1-2.6l1.5-4.5l0.5-4.5l0-4.6l-1.4-4.5l-2.1-2.3l-5.4-3.6l-2.4-3.5l-1.1-6.5l-0.6-13.6l0.5-2.3l18-0.6l4.8-1l2.5-1.5l2.4-3.5l0.6-2.5l0.6-15.9M1564.5 344.5l0.9 22.7l-0.3 1.6l-2.4 0.3l-4.9-0.8l-2.4-1.1l-2.3-2.3l-1.2-2.2l-1.3-6.8l-0.5-11.4M1609.4 344.5l-0.9 40.9l-0.7 13.6l0.2 4.6l0.7 2.2l1.5 2.3l6.1 4.5l2 2.3l1 2.3l0.7 4.5l0.4 9.1l3.5 15.9l1.4 4.1l3.1 5l1.7 4.5l1 22.7l1.2 4.6l8.9 15.9l6.5 6.8l4.1 6.5l2.4 2.1l2.4 1.1l4.8 0.7l16.8-0.3M1651.7 344.5l-1 27.3l0.5 4.5l1 2.3l2.2 2.2l4.6 1.7l19.2 0.5M1512.1 414.9l-2.4 1.2l-2.4 3.3l-0.8 4.6l0.2 6.8l1.4 4.5l1.6 2.1l2.4 1.1l2.4 0.1l2.5-1l2.3-2.6l1.3-4.2l0.3-6.8l-1.1-4.6l-1.7-2.2l-3.6-2.2zM958.3 425l16.8 1l2.4 0.8l2.5 1.7l2.6 4.6l3.4 13.6l0.2 6.8l-0.7 15.9l0.4 4.5l0.7 2.3l3 3.5l4.8 3.1l2.4 2.1l4.8 6.4l2.4 1.6l2.4 0.4l2.4-0.4l1.3-0.8l1.8-2.3l0.5-2.2l-0.3-2.3l-2.7-11.4l-2.6-4.5l-4.1-4.5l-1.1-2.3l-0.2-2.3l0.5-2.2l1.6-2.3l8.4-6.8l1.5-2.3l0.8-2.3l0.3-6.8l-1-27.2l-0.8-4.6l-1-2.2l-5.3-7.3l-4-10.9l-3.2-3.6l-4.8-3.5l-1.5-2l-0.8-2.3l-0.2-4.5l1.2-13.6l0.4-11.4M1252 440.6l-2.4 0.9l-5.9 7.5l-6.3 4.5l-1.6 2.3l-0.4 2.3l0.6 2.2l1.7 2.3l7.1 4.7l5.5 6.6l1.7 1.6l2.4 1l2.4-0.4l2.1-2.2l0.6-2.2l-0.1-2.3l-1.5-9.1l-0.5-11.3l-0.6-3.5l-2.4-3.9zM1199.1 442.2l-2.5 0.7l-1.8 3.8l-0.6 4.5l0 20.5l-0.6 4.5l-1.4 4.6l-2.4 4.5l-2.8 3.4l-9.4 8l-2 2.2l-1.9 4.6l0 6.8l0.9 4.5l1 2.3l1.8 2.3l5.1 4.5l2.1 3l3.2 6.1l1.6 1.7l2.4 1.5l4.8 1.2l12.1 0.3l4.8-1.1l14.5-6.3l2-1.9l1.1-2.2l0.4-6.8l-1.5-6.8l-6.9-10.1l-1.3-3.6l-2.2-15.9l0.1-18.1l-0.6-4.6l-0.8-2.2l-2.4-3.1l-7.2-4.1l-2.4-2l-4.8-5.3zM1678.2 453.1l-14.4-0.3l-4.8-0.6l-2.7-1l-3.3-2.2l-1.9-2.3l-1.1-2.3l-0.7-4.5l-0.2-15.9l-0.7-6.8l-0.8-2.3l-1.5-2.3l-7-4.5l-1.8-1.8l-1.3-2.7l-0.4-2.3l1.9-56.8M1678.2 561.4l-19.2-0.3l-2.4 0.6l-2.4 1.6l-2 3.8l-0.3 2.2l0.3 18.2M984.4 587.5l0.5-27.3l-1.2-4.5l-1.7-2.3l-2.1-1.6l-4.8-1.8l-16.8-0.3M1176.8 587.5l-0.2-22.7l-2.1-13.6l0.1-6.9l-0.6-4.5l-1.4-2.3l-2.4-1.8l-5.1-2.7l-2.6-2.3l-1.3-2.3l-1.1-4.5l-2-29.5l0.2-29.5l-0.4-4.6l-2.2-4.7l-7.2-6.6l-1.7-2.3l-1.2-4.5l-0.5-9.1l-1.4-3l-2.4-2.3l-2.4-1.2l-2.5-0.7l-4.8-0.3l-4.8 0.1l-4.8 0.9l-3.3 1.9l-1.4 2.3l0 2.3l1.2 2.2l3.2 2.3l5.1 2.7l2 1.9l1.2 2.2l0.7 4.6l-0.4 6.8l-1.1 3.3l-2.4 2.6l-2.4 0.8l-2.4-0.3l-2.4-1.3l-4.8-6l-2.4-1.9l-2.4-0.9l-4.9-0.4l-7.2 1l-2.4 1.2l-2.4 2.5l-2.4 5.1l-3.9 12.4l-0.2 6.9l1 13.6l-0.4 4.5l-1.3 2.8l-2.4 1.7l-2.4 0.1l-2.4-1.2l-7.3-6.4l-9.6-5.1l-5-5.5l-2.2-2l-2.4-1.2l-4.8-0.2l-9.7 2.1l-3.7 1.3l-2.8 2.3l-1.3 2.2l-0.4 2.3l0.6 18.2l-0.8 4.5l-1.2 2.3l-2.3 2.3l-7.3 4.5l-2.1 2.3l-2.3 4.5l-2.2 6.8l-1.2 6.8l-1 11.4l-0.8 31.8M1215.7 587.5l-0.5-18.2l-0.8-2.2l-1.8-2.3l-1.5-1l-2.4-0.4l-2.4 1.5l-1.4 4.4l-0.2 18.2M1287 587.5l-0.5-25l-2.6-47.7l-0.7-2.2l-1.8-2.3l-7.7-6.4l-4.8-6.4l-2.4-1.9l-2.4-0.3l-2.7 1.4l-13 13.6l-2.2 4.5l-0.6 4.6l-0.5 27.2l0.3 6.8l0.6 2.3l1.3 2.3l5.2 4.5l1.9 2.1l1.3 2.5l1.2 4.5l1.1 15.9M1343.8 587.5l0.7-11.4l1-6.8l4.6-11.3l1.6-6.8l0.6-6.9l-0.6-6.8l-2.3-6.8l-2.6-4.5l-3.3-3l-7.2-4.1l-2.4-3.3l-1-3.2l-0.8-13.7l1.6-29.5l-0.6-6.8l-1.4-2.3l-2.6-1.8l-12.4-5l-6.9-3.4l-1.6-1.1l-1.8-2.3l-0.8-2.3l-0.5-15.9l0.7-6.8l2.1-4.5l6-6.8l2.8-4.6l1-4.5l-0.2-4.6l-0.8-4.5l-2.1-4l-8.2-7.4l-9.5-13.6l-1.5-4.2l-0.4-2.6l-0.1-15.9M1548.5 587.5l-0.1-31.8l-1.1-4.5l-1.7-2.3l-7.1-4.6l-7.1-7.5l-7.3-5.2l-6.7-7.7l-7.7-5.7l-7.2-7.4l-2.4-1.6l-4.9-1.3l-7.2 0.1l-4.8 1l-2.4 1.4l-1.7 2.2l-3.5 6.8l-8 6.8l-4.7 6.8l-1.4 1l-2.4 0.7l-2.4-0.3l-2.9-1.4l-2.4-2.3l-1.2-2.3l-0.9-4.5l-0.6-15.9l-0.7-4.5l-0.9-2.4l-2-2.2l-2.8-1.2l-2.4 0.2l-2.5 1.1l-2.1 2.2l-1.1 2.3l-0.9 4.5l-0.8 15.9l-1 4.5l-1.4 2.3l-9.5 7.9l-7.1 8l-2.5 1.4l-4.9 1.2l-4.8 0.3l-4.8-0.6l-2.4-1l-2.4-1.8l-5.5-6.3l-6.5-4.7l-2-2.1l-2.9-5.4l-2.4-3l-2.4-1.1l-2.4 0.2l-2.4 1.4l-2.1 3.3l-0.6 2.3l-1.5 22.7l1 4.6l3.6 4.5l2 4.6l0.1 4.5l-1.4 15.9M1630.3 587.5l-0.2-29.5l-1.1-6.8l-1-2.3l-1.8-2.3l-10.6-10l-7.2-6.1l-3.6-4.3l-2.6-6.8l-1.7-15.9l-1.3-4.6l-2.8-2.8l-4.8-0.9l-26.5 0.8l-2.2 0.7l-0.2 15.9l0.7 29.5l-1.3 45.4M1188.4 428.5l0.2 4.6l-2.6 13.6l-0.9 25l-0.8 2.2l-1.7 2.3l-2.8 1.4l-2.4-0.4l-2.6-3.3l-0.7-4.5l-0.3-9.1l-1.7-4.5l-1.9-2.4l-7.3-6l-4-5.2l-1.8-4.6l-1.7-9.1l-2.1-4.2l-9.6-10.3l-4.8-2l-4.9-0.6l-14.4-0.2l-9.6 0.5l-4.9 1.2l-2.8 2l-4.4 6.8l-2.4 2.5l-6.1 4.3l-1.6 2.3l-0.8 4.5l0.1 9.1l-0.9 4.6l-4.1 11.3l-1.4 2.3l-2.7 2.3l-1.8 0.9l-4.8 0.9l-16.8 0.2l-4.8 0.5l-4.3 2l-5.1 4.5l-2.7 1.5l-12 3.2l-2.4 0l-2.4-1.1l-2.3-3.6l-2.1-9l-0.2-2.3l0.4-2.3l1.8-2.8l7.9-6.3l1.8-2.2l1.4-4.6l0.5-9.1l0.5-2.2l2.3-3.8l5.6-5.3l6.4-8.5l2.5-1.8l4.8-1.7l9.6-1.4l2.4-0.7l3-1.8l6.6-7.3l8.8-6.3l2-2.3l2.2-4.5l2.9-9.1l1.1-2.3l2-2.3l7.5-4.9l7.3-3.4l4.8-0.8l4.8 0.2l9.6 1.7l9.6 0.9l2.5 0.8l2.4 1.6l2.4 2.9l1.5 3.3l1.3 11.4l1.3 4.5l1.4 2.3l13.7 13.9l22 15.6l2.3 2.3zM1528.9 386.4l2.5 0.4l2.4 1.4l1.5 1.7l1.3 2.3l0.9 4.5l-0.2 4.6l-1 4.5l-2.5 3.4l-2.4 1.1l-2.5-0.1l-3.3-2.1l-1.7-2.3l-1.2-4.5l0.2-6.8l1.2-4.3l2.4-2.9zM1205 403.6l1.3-0.8l2.4-0.5l2.4 0.4l2.4 1.3l7.2 6.6l9 6.6l1.5 2.2l0.6 2.3l0 6.8l-1.4 4.6l-2.4 2.7l-4.9 2l-4.8 0.5l-4.8-0.3l-2.4-0.8l-2.4-1.5l-4.4-4.9l-3.2-6.8l-1.1-6.8l0.5-4.6l1.4-4.5l1-2.3zM1266.5 401.9l2.4 0.9l2.4 2.2l5.8 7.6l2.7 4.6l5.6 11.3l0.9 4.6l-0.4 2.2l-1.1 2.3l-6.3 6.8l-1.5 2.3l-0.9 2.3l-1.3 9.1l-0.7 2.2l-2.8 2.6l-2.4-0.2l-2.4-3.1l-0.7-3.8l-0.6-9.1l-1.7-4.5l-6.1-11.4l-1.2-6.8l0.2-9.1l2.3-6.8l3-3.9l2.4-1.7zM1333.9 412.7l2.4 0.8l2.4 1.8l1.9 4.1l0.7 6.9l-0.4 6.8l-2.2 4.9l-7.2 9.2l-2.4 1.4l-1.7 0.4l-3.1-0.4l-3-1.9l-1.3-2.3l-0.6-2.2l-0.7-13.7l0.4-6.8l2.1-4.5l3.1-3l4.8-1.5zM1442.3 441l2.4 1.2l2.4 2.8l1.3 4l0.3 4.5l-0.6 4.6l-1 2.4l-2.4 2.6l-2.4 0.8l-2.4-0.4l-2.5-1.8l-1-1.4l-0.9-2.2l-0.6-4.6l0.2-4.5l1.4-4.6l0.9-1.4l2.5-1.8zM1610.8 442.9l2.4 0.9l1 2.9l-0.3 2.3l-0.7 1.1l-2.4 0.4l-1.5-1.5l-0.7-2.3l0.6-2.3zM1497.6 455.2l2.5-0.1l2.4 0.9l2 2.1l0.9 2.2l0.3 4.6l-0.8 11.1l-0.7 2.5l-1.7 0.6l-4.9-0.4l-2.4-0.9l-2.4-2.2l-1.4-3.9l0.1-6.8l0.8-4.6l1.2-2.2l1.7-1.8zM1584.3 455.2l2.4 0.5l2.5 2.4l1.2 4.5l-0.2 4.5l-0.9 6.8l-2.1 4.6l-2.9 1.9l-2.4 0.3l-2.4-1l-2.4-3.5l-0.7-4.5l0.2-4.6l0.8-4.5l2.1-4.5l2.4-2.2zM1240 480.3l2.4 1l2.4 2.7l1.3 3.6l0 4.5l-0.8 4.6l-1.1 2.2l-1.8 2.2l-2.4 1.3l-2.4 0l-2.4-1.6l-2.3-4.1l0-6.9l1-4.5l1.3-2.6l2.4-2zM1505.2 480.8l2.1-1.1l2.4 0.1l4.8 1.3l1.9 1.9l0.5 1.7l-0.4 2.9l-2 2.4l-2.4 1l-2.4 0l-2.3-1.2l-1.6-2.2l-0.6-2.3zM1278.5 484l2.4 0l2.4 2.1l1.5 3.7l1.2 4.6l0.5 4.5l-0.8 1.7l-2.4 0.7l-2.4-0.9l-1.5-1.5l-1.3-2.2l-1.8-6.9l-0.1-2.2l0.9-2.3zM958.3 493.6l16.8 0.2l4.8 1.2l2.4 1.5l7.3 9l7.1 4.8l2 2.3l1.7 4.5l0.4 6.8l-0.4 11.4l-1.1 6.8l-2.5 3.7l-2.4 1.1l-2.4-0.1l-2.4-1.3l-7.3-7.3l-2.4-1.2l-4.8-0.8l-16.8 0.4M1613.2 494.8l2.4-0.7l4.9-0.5l4.3 0.8l2.9 1.9l2.4 3.9l3.5 12.4l0.7 6.8l-0.8 6.8l-1 2.4l-2.4 2.3l-2.4 0.6l-2.4-0.4l-2.4-1.4l-12.5-12.6l-1-2.3l-0.9-4.5l0.1-9.1l1.9-4.5zM1396.5 508.4l4.8-0.8l7.2 0.9l4.5 1.8l2.4 2.3l1.1 2.2l0.4 2.3l0.1 4.5l-0.7 4.6l-0.9 2.2l-1.6 2.3l-2.8 2.3l-2.5 0.6l-2.6-0.6l-2.2-2.1l-2.6-4.7l-1.9-2.3l-5.5-4.5l-1.2-2.3l-0.3-2.3l0.4-2.2l1.5-2.6zM1223.1 540.8l2.4-0.3l2.5 0.7l1.3 0.9l1.4 2.2l0.4 2.3l-0.1 4.6l-1.2 4.5l-1.8 2.1l-2.5 0.9l-2.4-0.2l-2.4-1.2l-2.4-2.5l-1.2-3.6l0.3-4.6l0.9-2.3l2-2.2zM1186.6 587.5l0.2-20.4l0.9-11.4l2-4.5l2.1-1.8l2.4-0.7l2.4 0.2l2.5 1.6l1.1 2.9l-0.4 2.3l-2.5 6.8l-0.7 4.6l-0.3 20.4M1294.4 587.5l-0.1-29.5l-1.3-24.7l-0.2-13.9l0.4-4.6l1.1-2.2l1.1-0.8l2.4 2.2l5.1 14.4l0.6 4.6l0.8 15.9l1 4.5l2.1 3.1l8 6l1.8 2.3l1 2.3l0.5 4.5l-0.5 15.9M1638.2 587.5l-0.1-31.8l1.5-4.5l2.5-1.1l2.8 1.1l1.4 2.2l0.1 2.3l-2.8 11.4l-0.1 20.4M1099 378.6l1.3-2.3l2.3-2.3l2.5-1.4l4.9-1.3l2.4 0.2l2.4 0.8l7.2 5l6.6 3.5l2.5 2.3l1.3 2.3l0.5 2.3l0 2.2l-0.7 2.3l-1.5 2.3l-1.5 1.2l-4.8 2.1l-12 0.9l-7.3-0.6l-2.4-1l-2.4-2.2l-1.4-2.7l-0.9-6.8l0.3-4.6zM1209.5 412.6l1.6-0.7l2.4 0.5l3.1 2.5l1.5 2.3l0.5 2.2l-0.6 2.3l-2.1 2.2l-2.4 0.8l-2.4-0.5l-2.7-2.5l-0.9-2.3l-0.3-2.2l0.5-2.3zM1266.5 413.2l2.4 0.1l2.4 1.5l1.7 2.4l2 4.5l2 6.8l0.2 2.3l-1.1 3.3l-2.4 2.5l-2.4 0.9l-2.4-0.3l-2.4-1.8l-2.4-4.2l-0.7-2.7l-0.6-6.8l0.5-4.5l1-2.3zM1047.4 426.8l2.4-1.6l2.4-0.9l7.2-0.9l5.7 0.6l4.6 2.3l2 2.2l1.2 2.3l1.4 6.8l0.2 4.6l-0.5 4.5l-0.8 2.3l-1.8 2.5l-2.4 1.9l-2.4 1l-7.2 0.9l-9.6-0.7l-2.4-0.8l-2.5-1.6l-2-3.2l-0.6-2.3l-0.4-9.1l0.9-4.5l1.1-2.3zM1165.3 424.5l2.5-1l2.4 0.3l3.6 2.5l1.6 2.2l0.5 2.3l-0.5 2.3l-2.8 3.2l-2.4 0.7l-2.4-0.2l-2.5-1.4l-1.4-2.3l-0.7-2.3l0.1-2.3l0.7-2.2z" fill="none" stroke="#111" stroke-width="0.8"/>
<path d="M989.7 524.3h0M1041.8 437.9h0M1041.8 444.1h0M1041.8 450.3h0M1041.8 456.4h0M1059.2 431.8h0M1059.2 437.9h0M1059.2 444.1h0M1059.2 450.3h0M1059.2 456.4h0M1076.5 536.7h0M1076.5 542.8h0M1076.5 549.0h0M1076.5 555.2h0M1076.5 561.3h0M1111.3 370.1h0M1111.3 376.2h0M1111.3 382.4h0M1111.3 388.6h0M1111.3 394.8h0M1111.3 542.8h0M1111.3 549.0h0M1111.3 555.2h0M1111.3 561.3h0M1111.3 567.5h0M1128.6 388.6h0M1146.0 394.8h0M1163.4 425.6h0M1163.4 431.8h0M1163.4 437.9h0M1180.8 370.1h0M1180.8 376.2h0M1180.8 382.4h0M1180.8 388.6h0M1180.8 394.8h0M1180.8 450.3h0M1180.8 456.4h0M1215.5 363.9h0M1215.5 370.1h0M1215.5 376.2h0M1215.5 407.1h0M1215.5 413.3h0M1215.5 419.4h0M1215.5 425.6h0M1215.5 431.8h0M1232.9 363.9h0M1232.9 370.1h0M1232.9 376.2h0M1232.9 382.4h0M1232.9 388.6h0M1232.9 394.8h0M1232.9 400.9h0M1232.9 493.5h0M1267.6 407.1h0M1267.6 413.3h0M1267.6 419.4h0M1267.6 425.6h0M1267.6 431.8h0M1267.6 437.9h0M1267.6 530.5h0M1267.6 536.7h0M1267.6 542.8h0M1267.6 549.0h0M1267.6 555.2h0M1267.6 561.3h0M1285.0 370.1h0M1285.0 376.2h0M1285.0 382.4h0M1285.0 388.6h0M1285.0 394.8h0M1389.2 561.3h0M1389.2 567.5h0M1389.2 573.7h0M1510.8 536.7h0M1510.8 542.8h0M1510.8 549.0h0M1528.2 555.2h0M1528.2 561.3h0M1528.2 567.5h0" stroke="#000" stroke-width="3.9" stroke-linecap="round" fill="none"/>
</g>
<polyline points="971.4,402.0 989.8,399.2 1007.1,402.6 1024.5,401.6 1041.8,390.3 1059.2,424.4 1076.5,459.1 1093.9,449.2 1111.2,445.2 1128.6,440.9 1145.9,448.2 1163.3,475.0 1180.6,502.7 1198.0,522.2 1215.3,501.7 1232.7,530.5 1250.0,569.2 1267.4,546.4 1284.7,532.5 1302.1,532.5 1318.0,503.7 1335.3,492.8 1352.7,483.9 1370.5,471.6 1387.8,475.0 1405.2,468.6 1422.5,460.1 1439.9,453.6 1457.2,461.1 1474.6,454.5 1491.9,476.0 1509.3,524.5 1526.6,562.2 1544.0,540.4 1561.3,519.6 1578.7,503.7 1596.0,503.1 1613.4,514.6 1630.7,535.4 1648.1,532.5 1665.0,508.7" fill="none" stroke="#fa1c10" stroke-width="3.4" stroke-linejoin="round" />
<line x1="988.8" y1="518.6" x2="1145.5" y2="369.9" stroke="#000" stroke-width="6.4" stroke-dasharray="26 25.7"/>
<line x1="1370.5" y1="562.2" x2="1526.2" y2="524.6" stroke="#000" stroke-width="6.2" stroke-dasharray="25.5 25.5"/>
<text x="1073.5" y="482.9" font-size="28" text-anchor="middle" fill="#000" font-weight="bold" >d</text>
<text x="1484.2" y="515.6" font-size="28" text-anchor="middle" fill="#000" font-weight="bold" >e</text>
<line x1="971.5" y1="357.0" x2="971.5" y2="575.0" stroke="#000" stroke-width="1.6" />
<line x1="971.5" y1="357.0" x2="1665.0" y2="357.0" stroke="#000" stroke-width="1.6" />
<line x1="971.5" y1="575.0" x2="1665.0" y2="575.0" stroke="#000" stroke-width="1.6" />
<line x1="1665.0" y1="357.0" x2="1665.0" y2="575.0" stroke="#d95319" stroke-width="2.0" />
<line x1="1665.0" y1="357.0" x2="1673.0" y2="357.0" stroke="#d95319" stroke-width="1.8" />
<text x="1682.0" y="366.5" font-size="28" text-anchor="start" fill="#d95319" >0</text>
<line x1="1665.0" y1="466.0" x2="1673.0" y2="466.0" stroke="#d95319" stroke-width="1.8" />
<text x="1682.0" y="475.5" font-size="28" text-anchor="start" fill="#d95319" >-10</text>
<line x1="1665.0" y1="575.0" x2="1673.0" y2="575.0" stroke="#d95319" stroke-width="1.8" />
<text x="1682.0" y="584.5" font-size="28" text-anchor="start" fill="#d95319" >-20</text>
<text transform="translate(1743.5,464.0) rotate(-90)" font-size="28.3" text-anchor="middle" fill="#d95319">Zonal wind (m/s)</text>
<line x1="1128.5" y1="575.0" x2="1128.5" y2="582.0" stroke="#000" stroke-width="1.6" />
<line x1="1128.5" y1="350.0" x2="1128.5" y2="357.0" stroke="#000" stroke-width="1.6" />
<text x="1128.5" y="616.2" font-size="28" text-anchor="middle" fill="#000" >30 Jun</text>
<line x1="1301.5" y1="575.0" x2="1301.5" y2="582.0" stroke="#000" stroke-width="1.6" />
<line x1="1301.5" y1="350.0" x2="1301.5" y2="357.0" stroke="#000" stroke-width="1.6" />
<text x="1301.5" y="616.2" font-size="28" text-anchor="middle" fill="#000" >31 Jul</text>
<line x1="1475.0" y1="575.0" x2="1475.0" y2="582.0" stroke="#000" stroke-width="1.6" />
<line x1="1475.0" y1="350.0" x2="1475.0" y2="357.0" stroke="#000" stroke-width="1.6" />
<text x="1475.0" y="616.2" font-size="28" text-anchor="middle" fill="#000" >31 Aug</text>
<line x1="1648.5" y1="575.0" x2="1648.5" y2="582.0" stroke="#000" stroke-width="1.6" />
<line x1="1648.5" y1="350.0" x2="1648.5" y2="357.0" stroke="#000" stroke-width="1.6" />
<text x="1648.5" y="616.2" font-size="28" text-anchor="middle" fill="#000" >30 Sep</text>
<line x1="964.5" y1="392.0" x2="971.5" y2="392.0" stroke="#000" stroke-width="1.6" />
<text x="956.3" y="402.0" font-size="28" text-anchor="end" fill="#000" >120°E</text>
<line x1="964.5" y1="429.0" x2="971.5" y2="429.0" stroke="#000" stroke-width="1.6" />
<text x="956.3" y="439.0" font-size="28" text-anchor="end" fill="#000" >60°E</text>
<line x1="964.5" y1="466.0" x2="971.5" y2="466.0" stroke="#000" stroke-width="1.6" />
<text x="956.2" y="476.0" font-size="28" text-anchor="end" fill="#000" >0</text>
<line x1="964.5" y1="503.0" x2="971.5" y2="503.0" stroke="#000" stroke-width="1.6" />
<text x="954.5" y="513.0" font-size="28" text-anchor="end" fill="#000" >60°W</text>
<line x1="964.5" y1="540.0" x2="971.5" y2="540.0" stroke="#000" stroke-width="1.6" />
<text x="954.5" y="550.0" font-size="28" text-anchor="end" fill="#000" >120°W</text>
<text x="919.0" y="373.0" font-size="28" text-anchor="start" fill="#000" >(d)</text>
<clipPath id="clipe"><rect x="96.5" y="641" width="693.0" height="217.0"/></clipPath>
<rect x="96.5" y="641" width="693.0" height="217.0" fill="#fff"/>
<g clip-path="url(#clipe)">
<rect x="96.5" y="641" width="693.0" height="217.0" fill="#b4ebf8"/>
<path d="M287.8 700.4l2.4 0.9l2 1.9l1.2 2.2l0.6 2.3l1.1 20.3l-0.8 4.5l-1.1 2.3l-2.1 2.3l-8.1 7l-2.4 1.6l-1.6 0.4l-3.2-0.1l-4.5-2.2l-5.2-4.3l-7.5-4.7l-2.6-2.3l-1.4-2.2l-1.2-4.5l-0.2-4.6l0.6-4.5l1.4-2.2l3.7-2.1l4.8-0.4l7.3 0.2l4.8-1l2.4-1.7l4.8-6.7l2.4-1.9zM765.7 725.8l0.9-1.1l2.4-1.1l2.5 0.2l2.4 1.3l2 2.9l0.3 2.3l-1.2 2.2l-1.1 0.9l-2.4 0.6l-2.5-0.4l-1.7-1.1l-1.8-2.2l-0.5-2.3zM475.5 777.6l2.4-0.8l2.4 0.2l2.4 0.8l3.2 2.2l11.6 11.3l2.1 4.5l0.6 6.8l-0.7 8.9l-1 2.4l-1.4 2l-2.4 0.4l-2.4-1.2l-6.2-8l-8.6-6.7l-4.2-4.6l-1.6-4.5l0-6.8l1.4-4.5zM321.5 794.5l2.4 0.1l2.8 1.2l5.6 6.8l6.6 4.5l1.9 2.3l0.5 2.3l-0.2 2.2l-1.1 2.3l-8.3 6.8l-5.2 6.7l-2.6 1.3l-2.4 0.1l-3.6-1.4l-2.4-2.2l-1.2-2.3l-0.5-4.5l1-15.8l0.6-4.5l0.9-2.3l2-2.3zM174.7 819.1l2.4-0.8l2.4 0.3l2.4 1.7l0.9 2.7l-0.9 2.8l-2.4 1.8l-2.4 0.2l-2.4-0.8l-1.8-1.8l-0.6-2.2l0.7-2.3z" fill="#6b9fcf" fill-rule="evenodd"/>
<path d="M111.8 628.6l30.4 0l0.5 15.8l1.1 4.5l1.6 2.3l2.8 1.9l2.4 0.8l9.7 1l4.8-0.4l2.4-0.8l2.4-2.2l1.1-2.6l0.5-4.5l-0.5-15.8l28 0l0.6 20.3l0.7 2.3l1.8 2.2l1.5 0.9l2.4 0.3l3.1-1.2l2.1-2.2l0.9-2.3l0.9-6.8l0.4-13.5l31.6 0l-1.3 13.5l-0.7 4.6l-1.4 4.5l-1.4 2.2l-2.6 2.3l-5.1 2.4l-3.4 2.1l-1.4 2.3l-0.3 2.2l0.8 2.3l1.8 2.1l6 4.7l4.1 6.8l2.2 2.2l6.5 4.5l1.4 2.3l0.1 2.3l-1 2.4l-2.2 2.1l-7.1 4.5l-5.1 7l-2.4 1.1l-2.5 0l-2.6-1.3l-7-8.5l-6.9-5.1l-4.2-6.8l-3.3-3.1l-4.8-1.4l-9.7 0l-4.8 1.6l-2.4 1.9l-4.8 5.6l-7.8 4.5l-2 2.2l-0.5 2.3l0.4 2.3l2.7 3.3l4.8 1.9l7.2 0.8l16.9 1l4.8 1.1l2.4 1.4l1.8 1.8l1.4 2.2l1.3 4.5l1.2 11.3l0.2 15.9l1.3 0.6l26.5-1l12 0.3l7.2 1l14.5 4.5l4.8 0.4l4.8-0.4l4.8-1.1l4.2-2.1l2.1-2.2l7.6-11.3l1.1-2.3l4-18.1l0.5-4.5l-0.2-6.8l-1.5-4.5l-1.8-2.3l-6.4-4.8l-2.7-4.2l-0.7-4.5l0-6.8l-1-4.5l-1.6-2.3l-6-3.7l-2.4-2.6l-0.6-2.7l0.6-2.2l2.4-3l7.2-5.5l2.1-2.9l1.6-6.8l1-13.5l14.6 0l-1.5 29.4l0.6 4.5l1.1 2.2l2 2.3l5.8 4.5l1.9 2.3l1.4 4.5l0.3 11.3l0.8 2.3l2 2.5l9.6 6.4l6.3 6.9l3.4 1.6l3.9 0.6l8.1-0.4l4.8-1.3l3.6-2.8l4.6-6.8l3.3-2.2l2.9-0.9l7.3-0.7l4.8 0.2l4.3 1.4l2.9 2.8l1.5 4l2.5 22.6l1.7 4.5l1.5 2.2l7.2 6.3l4.6 7.3l7.4 4.5l1.3 2.3l0.2 2.3l-0.9 2.2l-2.1 2.3l-5.7 3.9l-2.4 2.2l-1.8 2.9l-0.7 2.3l-0.5 6.8l0.4 24.8l0.4 4.5l1.6 4.6l3 2.9l9.7 4.9l4.8 5.9l2.4 2l2.4 0.6l2.4-0.5l2.4-1.7l4.8-7.4l7.2-5.4l4.8-7l2.4-1.5l2.5 0l2.4 1l2.4 1.9l1.6 2l1.9 4.5l2 18.1l-0.2 4.5l-0.8 2.3l-1.8 2.2l-2.7 1.6l-4.8 1.1l-12.1 0.9l-2.7 1l-3 2.2l-1.5 2.3l-1.3 4.5l-0.4 15.8l-41.2 0l-0.1-15.8l-0.7-11.3l-4.3-27.1l-0.9-15.8l-1.6-4.6l-2.4-2.3l-4.8-1.5l-36.1-0.6l-2.4-0.7l-2.5-1.4l-4.8-4l-2.4-1.2l-16.8-3.5l-7.2-0.4l-4.8 0.8l-2.2 1.3l-2.7 4.1l-4.1 14l-1.9 20.3l0 4.5l0.5 2.3l1.1 2.2l2.3 2.3l6.1 4.5l1.5 2.3l0.2 2.2l-1.7 2.3l-1.6 0.9l-4.8 1.2l-19.2 0.8l-7.3-0.6l-4.3-2.3l-1.7-2.3l-1-4.5l-0.1-9l-0.5-2.3l-1.2-2.2l-8-6.8l-4.4-6.8l-7.6-6.8l-5.3-6.8l-2.6-2.2l-4.1-2.3l-2.4-0.5l-9.7-0.6l-4.4-1.1l-2.8-1.9l-1.9-2.7l-1.2-4.5l-0.2-4.5l1.4-24.9l-0.5-1.1l-2.4 0.1l-4.8 1l-3.5 2.3l-1.7 2.3l-1.4 4.5l-0.6 4.5l-0.8 18.1l-1.7 4.5l-2.3 2.2l-4.9 2.8l-1.9 1.8l-2.9 4.6l-2.4 2.4l-2.4 0.9l-2.4 0.1l-3.3-1.2l-2.8-2.3l-5.9-6.5l-7.2-4.6l-2-2.5l-1.4-4.5l-0.6-9l-0.9-3.3l-2.4-3.3l-6.5-4.7l-1.5-2.3l-0.8-2.2l-0.4-4.6l0.2-18.1l-0.4-4.5l-1.9-4.5l-7.7-6.8l-2.2-4.5l-0.8-4.5l-2.2-29.4l-0.7-4.5l-1-2.3l-2.1-2.2l-6.8-4.6l-1.7-2.2l-0.8-2.3zM245.1 764.2l-1.6 2.3l-0.9 4.5l0.5 6.8l1.2 4.5l3.1 4.5l7.8 6.8l6.1 7.8l2.4 2.2l2.4 1.4l2.4 0.6l4.9 0.2l4.8-0.4l2.4-0.8l2.8-2l4.8-6.8l4.4-4.1l2.4-3.1l1.5-4.1l1.9-9l0-2.3l-0.7-2.2l-2.7-2.9l-4.8-1.8l-33.7-4.2l-7.2 0.1l-2.4 0.8zM312.2 748.4l1.2 9l1.8 4.5l2.1 2.3l7.8 4.5l5.6 4.5l5.2 2.4l12.1 2.3l4.8 0.4l4.8-0.1l4.8-0.8l2.4-1l2.4-2.2l1.7-3.2l2.4-11.3l1-2.3l2.1-2.9l2.4-1.6l2.4-0.8l9.7-0.6l4.8-0.9l3.7-2.2l1.5-2.3l0.3-2.3l-0.8-2.2l-2.3-2.3l-2.4-1.1l-9.7-1.3l-4.8-1.5l-3.4-2.9l-5.3-6.7l-3.3-1.9l-2.4-0.7l-4.8-0.2l-33.7 0.1l-4.8 0.7l-2.4 1.1l-3 3.1l-1.8 5.4l-1.8 10.4zM412 628.6l32.8 0l0.1 13.5l0.8 4.6l0.9 1.9l2.4 2.9l5.6 4.2l6.4 8.4l2.5 1.2l2.4-0.2l2.4-1.4l4.8-6.5l2.4-1.8l2.4-0.9l7.2-0.8l4.8 0.3l4.2 1.7l2.1 2.3l0.8 2.2l0.7 9.1l1.1 4.5l3.2 4.3l7.2 5.2l2.4 2.6l2.7 6l1.4 6.7l0.5 4.6l-0.5 4.5l-1.7 2.9l-5.8 3.9l-2.1 2.2l-0.7 2.3l0.3 2.2l1.4 2.3l6.9 5l4.8 7.2l7.2 4.4l4.9 6l2.3 2.1l8.3 4.7l6.2 7.4l6.3 3.9l2.2 2.3l1.7 4.5l0.5 9l0.9 4.5l2.8 3.7l4.8 3.3l2.1 2.1l1.3 2.2l0.9 4.6l0.4 9l0.5 2.3l2 3.3l2.4 1.8l2.5 0.8l12 2.4l4.7 3l1.6 2.2l1.7 4.5l2 13.6l0.3 9l-0.5 18.1l-17 0l1.2-15.8l-1.2-4.7l-2.4-2.7l-3.4-1.6l-3.9-0.9l-7.2-0.4l-2.4 0.2l-3 1.1l-2.8 2.2l-1.3 2.3l-1.8 6.8l-1.2 13.5l-25 0l0.2-27.1l-0.7-6.8l-1-2.2l-1.9-1.9l-7.2-4.2l-4.8-6.9l-4.9-5.1l-1.1-4.5l0.1-13.6l-0.6-6.8l-1.9-6.8l-2.2-4.5l-3.9-3.9l-8.2-5.1l-6.2-5.3l-9.6-5.2l-2.4-2.4l-3.9-5.2l-3.1-2.3l-5.1-1.5l-9.6-1.6l-3.3-1.4l-2.7-2.3l-1.4-2.2l-0.7-2.3l-0.6-9l-0.9-4.5l-2.4-3.4l-7.2-5.2l-1.7-2.7l-0.6-2.3l-0.5-9l-0.8-4.6l-1.2-2.2l-2.4-2.2l-7.3-4l-2.3-2.9l-1.4-4.5l-0.6-6.8zM519.7 766.5l-1.3 2.2l-0.3 2.3l0.3 6.8l0.9 4.5l0.9 2.2l1.7 2.3l1.7 1.3l2.4 1.1l7.2 0.8l4.8-0.5l2.5-1.1l1.7-1.6l1-2.3l0-2.2l-1-2.3l-1.7-1.8l-6.7-5l-5.3-6.7l-2.5-1.4l-2.4-0.4l-2.4 0.6zM543.6 628.6l15.7 0l0.4 15.8l1.2 4.5l1.7 2.3l8.5 4.5l2.3 2.3l1.6 4.5l1.3 11.3l1.1 2.2l1.6 1.8l7.2 4.7l1.8 2.6l0.9 4.5l-0.1 6.8l0.5 4.5l1.7 3.1l2 1.4l2.8 0.5l1.9-0.5l2.9-2l1.6-2.5l1.1-4.5l0.6-24.9l-1.5-29.4l-0.2-13.5l13.1 0l0.5 13.5l1.2 4.6l1.2 2.2l2.1 2.3l5.7 4.5l6.7 9l8.8 5.2l1.5 1.6l1.3 2.3l1 4.5l2.2 20.3l1.7 4.6l1.9 2.3l2.4 1.5l4.9 1.3l4.8 0.4l4.8-0.3l2.4-0.6l2.4-1.4l2.4-2.5l2.4-3.4l2.4-2.3l2.4-0.8l2.4 0.4l1.5 0.8l2 2.3l1.4 4.5l0.5 18.1l0.6 4.5l0.7 2.3l3 3.6l7.2 4.6l5.8 7.6l3.8 2l2.4 0.5l7.2-0.1l4.8-0.7l3.3-1.7l1.6-2.3l0.2-2.2l-0.7-2.3l-2-2.3l-7-4.5l-2.2-2.2l-1.2-2.3l-1-4.5l-0.1-6.8l1.5-4.5l2.8-2.3l2.4-0.6l2.4 0.4l2.4 1.6l4.9 5.9l9.6 6l2.2 2.6l1.7 4.5l2.3 11.3l2.8 4.5l10.1 6.8l4.9 6.6l2.4 2l7.3 4.2l5.6 7.5l3.3 2.3l3.1 1l14.4 0.7l0 93.2l-60.9 0l0.5-15.8l-0.3-2.3l-1.8-3.2l-2.4-1.6l-2.4-0.7l-12.1-0.8l-9.6-1.3l-4.8-1.6l-2.4-1.9l-4-6.9l-1.9-2.3l-6.3-4.5l-7.6-9.1l-6.7-4l-3-2.7l-2.2-4.6l-2.2-11.3l-2.2-3.8l-2.4-2l-5.7-3.2l-2.4-2.3l-5.3-6.7l-8.3-5.1l-6.1-6.2l-3.5-2.4l-2.4-0.4l-2.4 0.5l-3.1 2.3l-4.1 5.6l-2.4 2.4l-4.8 2.3l-7.3 1l-12 0.1l-4.8-0.5l-2.4-0.7l-2.4-1.5l-1.7-2l-3.7-6.7l-1.8-2l-4.9-3.5l-2.7-3.6l-0.9-4.5l0.4-20.4l-0.9-4.5l-1.5-2.2l-1.6-1.4l-7.2-3.8l-2.4-2.8l-1.2-3.3l-0.2-2.3l-0.1-20.3l-0.9-4.2l-2.4-3.1l-7.2-4.4l-1.5-1.9l-0.9-2.3l-0.3-4.5l0.3-15.8zM646.3 739.8l-0.8 1.8l-0.9 4.5l-0.2 4.5l0.4 2.3l1 2.3l1.9 2.2l3.2 2.3l5.1 1.5l7.2 0.9l4.8 1.2l2.4 1.3l1.9 1.9l2.7 4.5l2.1 2.2l2.9 1.5l2.4 0.6l7.2 0.3l4.9-0.4l4.8-1.9l2-2.3l0.7-2.3l-0.5-2.2l-2-2.3l-5-3.1l-1.6-1.4l-4.5-6.8l-8.4-5.7l-6.3-7.9l-3.3-2.1l-7.2-1.6l-9.7 0l-4.4 1.5zM757 778.9l-2.4-0.2l-2.4 0.7l-2.4 1.6l-2.6 3.5l-1.5 4.6l-2.8 13.5l-0.6 6.8l1.1 4.5l1.6 2.1l2.4 1.1l2.4 0l2.1-0.9l2.7-2.3l1.4-2.2l1.8-4.6l3.4-15.8l0.5-6.8l-0.6-2.2l-1.6-2.3zM772.1 628.6l30.6 0l0 81.9l-14.4-1.2l-4.7-1.6l-2.5-2l-1.8-2.5l-0.7-2.3l-0.6-9l-0.9-4.6l-1.3-2.2l-1.9-1.9l-7-4.9l-1.5-2.3l-0.5-2.2l0.6-2.3l2.3-2.2l4-2.3l1.9-2.3l0.7-2.2l-0.1-4.5l-1.8-15.9zM83.3 722.5l19.2-0.8l4.8 0.5l3 1.3l2.1 2.3l1 2.2l0.8 4.5l0.2 18.1l0.9 4.6l1.7 2.6l8.4 6.4l1.5 2.3l0.7 2.2l0.3 6.8l-1 20.3l-1.1 38.5l1 4.5l2.2 2.6l6.2 4.2l1.8 2.2l0.7 2.3l0.4 4.5l-0.4 15.8l-27.2 0l-0.5-18.1l-1-4.5l-1.3-2.2l-2.8-2.1l-4.8-1.5l-16.8-1.3zM195.5 852.3l0.9-2.2l2.2-2.3l2.6-0.9l2.4-0.3l14.4 0.5l24.1-0.6l4.8 0.4l2.4 0.7l3.6 2.5l1.5 2.2l0.8 2.3l0.9 6.8l0.5 9l-62 0l0.2-13.5z" fill="#f1d9d2" fill-rule="evenodd"/>
<path d="M199 628.6l14.4 0l-0.8 18.1l-1.4 4.5l-2.8 2.7l-2.4 0.7l-2.4-0.3l-2.4-1.7l-0.9-1.4l-1-4.5zM312.2 748.4l0.3-4.6l1.8-10.4l1.8-5.4l3-3.1l2.4-1.1l4.8-0.7l33.7-0.1l4.8 0.2l2.4 0.7l3.3 1.9l5.3 6.7l3.4 2.9l4.8 1.5l9.7 1.3l2.4 1.1l2.3 2.3l0.8 2.2l-0.3 2.3l-1.5 2.3l-3.7 2.2l-4.8 0.9l-9.7 0.6l-2.4 0.8l-2.4 1.6l-2.1 2.9l-1 2.3l-2.4 11.3l-1.7 3.2l-2.4 2.2l-2.4 1l-4.8 0.8l-4.8 0.1l-4.8-0.4l-12.1-2.3l-5.2-2.4l-5.6-4.5l-7.8-4.5l-2.1-2.3l-1.8-4.5zM327.3 739.3l-1.2 2.3l-0.4 2.2l0.3 2.3l0.9 2.3l1.8 2.2l2.4 1.4l2.4 0.5l4.8-0.7l2.4-1.3l2.1-2.1l1.2-2.3l0.4-2.3l-0.2-2.2l-1.1-2.2l-2.4-2.2l-2.4-1l-4.8-0.4l-2.4 0.7l-2.4 1.4zM646.3 739.8l2.8-2.7l4.4-1.5l9.7 0l7.2 1.6l3.3 2.1l6.3 7.9l8.4 5.7l4.5 6.8l1.6 1.4l5 3.1l2 2.3l0.5 2.2l-0.7 2.3l-2 2.3l-4.8 1.9l-4.9 0.4l-7.2-0.3l-2.4-0.6l-2.9-1.5l-2.1-2.2l-2.7-4.5l-1.9-1.9l-2.4-1.3l-4.8-1.2l-7.2-0.9l-5.1-1.5l-3.2-2.3l-1.9-2.2l-1-2.3l-0.4-2.3l0.2-4.5l0.9-4.5zM245.1 764.2l1.8-1.2l2.4-0.8l7.2-0.1l33.7 4.2l4.8 1.8l2.7 2.9l0.7 2.2l0 2.3l-1.9 9l-1.5 4.1l-2.4 3.1l-4.4 4.1l-4.8 6.8l-2.8 2l-2.4 0.8l-4.8 0.4l-4.9-0.2l-2.4-0.6l-2.4-1.4l-2.4-2.2l-6.1-7.8l-7.8-6.8l-3.1-4.5l-1.2-4.5l-0.5-6.8l0.9-4.5zM519.7 766.5l1.5-1.2l2.4-0.6l2.4 0.4l2.5 1.4l5.3 6.7l6.7 5l1.7 1.8l1 2.3l0 2.2l-1 2.3l-1.7 1.6l-2.5 1.1l-4.8 0.5l-7.2-0.8l-2.4-1.1l-1.7-1.3l-1.7-2.3l-0.9-2.2l-0.9-4.5l-0.3-6.8l0.3-2.3zM757 778.9l2.5 1.1l1.6 2.3l0.6 2.2l-0.5 6.8l-3.4 15.8l-1.8 4.6l-1.4 2.2l-2.7 2.3l-2.1 0.9l-2.4 0l-2.4-1.1l-1.6-2.1l-1.1-4.5l0.6-6.8l2.8-13.5l1.5-4.6l2.6-3.5l2.4-1.6l2.4-0.7z" fill="#ea967a" fill-rule="evenodd"/>
<path d="M327.3 739.3l1.4-1.4l2.4-1.4l2.4-0.7l4.8 0.4l2.4 1l2.4 2.2l1.1 2.2l0.2 2.2l-0.4 2.3l-1.2 2.3l-2.1 2.1l-2.4 1.3l-4.8 0.7l-2.4-0.5l-2.4-1.4l-1.8-2.2l-0.9-2.3l-0.3-2.3l0.4-2.2z" fill="#e12417" fill-rule="evenodd"/>
<path d="M287.8 700.4l-2.4 0.5l-2.4 1.9l-4.8 6.7l-2.4 1.7l-4.8 1l-7.3-0.2l-4.8 0.4l-3.7 2.1l-1.4 2.2l-0.6 4.5l0.2 4.6l1.2 4.5l1.4 2.2l2.6 2.3l7.5 4.7l5.2 4.3l4.5 2.2l3.2 0.1l1.6-0.4l2.4-1.6l8.1-7l2.1-2.3l1.1-2.3l0.8-4.5l-1.1-20.3l-0.6-2.3l-1.2-2.2l-2-1.9zM765.7 725.8l-0.7 2.2l0.5 2.3l1.8 2.2l1.7 1.1l2.5 0.4l2.4-0.6l1.1-0.9l1.2-2.2l-0.3-2.3l-2-2.9l-2.4-1.3l-2.5-0.2l-2.4 1.1zM475.5 777.6l-2.4 2.4l-1.4 4.5l0 6.8l1.6 4.5l4.2 4.6l8.6 6.7l6.2 8l2.4 1.2l2.4-0.4l1.4-2l1-2.4l0.7-8.9l-0.6-6.8l-2.1-4.5l-11.6-11.3l-3.2-2.2l-2.4-0.8l-2.4-0.2zM321.5 794.5l-3.2 1.3l-2 2.3l-0.9 2.3l-0.6 4.5l-1 15.8l0.5 4.5l1.2 2.3l2.4 2.2l3.6 1.4l2.4-0.1l2.6-1.3l5.2-6.7l8.3-6.8l1.1-2.3l0.2-2.2l-0.5-2.3l-1.9-2.3l-6.6-4.5l-5.6-6.8l-2.8-1.2zM174.7 819.1l-1.7 1.6l-0.7 2.3l0.6 2.2l1.8 1.8l2.4 0.8l2.4-0.2l2.4-1.8l0.9-2.8l-0.9-2.7l-2.4-1.7l-2.4-0.3zM142.2 628.6l0.5 15.8l1.1 4.5l1.6 2.3l2.8 1.9l2.4 0.8l9.7 1l4.8-0.4l2.4-0.8l2.4-2.2l1.1-2.6l0.5-4.5l-0.5-15.8M245 628.6l-1.3 13.5l-0.7 4.6l-1.4 4.5l-1.4 2.2l-2.6 2.3l-5.1 2.4l-3.4 2.1l-1.4 2.3l-0.3 2.2l0.8 2.3l1.8 2.1l6 4.7l4.1 6.8l2.2 2.2l6.5 4.5l1.4 2.3l0.1 2.3l-1 2.4l-2.2 2.1l-7.1 4.5l-5.1 7l-2.4 1.1l-2.5 0l-2.6-1.3l-7-8.5l-6.9-5.1l-4.2-6.8l-3.3-3.1l-4.8-1.4l-9.7 0l-4.8 1.6l-2.4 1.9l-4.8 5.6l-7.8 4.5l-2 2.2l-0.5 2.3l0.4 2.3l2.7 3.3l4.8 1.9l7.2 0.8l16.9 1l4.8 1.1l2.4 1.4l1.8 1.8l1.4 2.2l1.3 4.5l1.2 11.3l0.2 15.9l1.3 0.6l26.5-1l12 0.3l7.2 1l14.5 4.5l4.8 0.4l4.8-0.4l4.8-1.1l4.2-2.1l2.1-2.2l7.6-11.3l1.1-2.3l4-18.1l0.5-9l-0.7-4.5l-1-2.3l-1.8-2.3l-6-4.5l-2-2.2l-1.6-4.6l-0.2-9l-1-4.5l-2.8-3.3l-5.8-3.5l-1.7-2.3l-0.3-2.2l0.6-2.3l1.7-2.2l7.9-6.2l2.1-2.9l1.6-6.8l1-13.5M314.3 628.6l-1.5 29.4l0.6 4.5l1.1 2.2l2 2.3l5.8 4.5l1.9 2.3l1.4 4.5l0.3 11.3l0.8 2.3l2 2.5l9.6 6.4l6.3 6.9l3.4 1.6l3.9 0.6l8.1-0.4l4.8-1.3l3.6-2.8l4.6-6.8l3.3-2.2l2.9-0.9l7.3-0.7l4.8 0.2l4.3 1.4l2.9 2.8l1.5 4l2.5 22.6l1.7 4.5l1.5 2.2l7.2 6.3l4.6 7.3l7.4 4.5l1.3 2.3l0.2 2.3l-0.9 2.2l-2.1 2.3l-5.7 3.9l-2.4 2.2l-1.8 2.9l-0.7 2.3l-0.5 6.8l0.4 24.8l1 6.8l1.6 3l2.4 2.2l9.7 4.9l4.8 5.9l2.4 2l2.4 0.6l2.4-0.5l2.4-1.7l4.8-7.4l7.2-5.4l4.8-7l1.7-1.1l3.2-0.4l2.4 1l2.4 1.9l2.4 3.4l1.5 5.4l1.6 18.1l-1 4.5l-1.8 2.2l-2.7 1.6l-4.8 1.1l-12.1 0.9l-2.7 1l-3 2.2l-1.5 2.3l-1.3 4.5l-0.4 15.8M444.8 628.6l0.1 13.5l0.8 4.6l1.1 2.2l1.8 2.3l6 4.5l6.4 8.4l2.5 1.2l3.1-0.6l2.7-2.2l3.8-5.3l2.4-1.8l4.8-1.4l4.8-0.3l4.8 0.3l4.2 1.7l2.1 2.3l0.8 2.2l0.7 9.1l1.1 4.5l3.2 4.3l7.2 5.2l2.4 2.6l2.7 6l1.4 6.7l0.5 4.6l-0.5 4.5l-1.7 2.9l-5.8 3.9l-2.1 2.2l-0.7 2.3l0.3 2.2l1.4 2.3l6.9 5l4.8 7.2l7.2 4.4l4.9 6l2.3 2.1l8.3 4.7l6.2 7.4l6.3 3.9l2.2 2.3l1.7 4.5l0.5 9l0.9 4.5l2.8 3.7l4.8 3.3l2.1 2.1l1.3 2.2l0.9 4.6l0.4 9l0.5 2.3l2 3.3l2.4 1.8l2.5 0.8l12 2.4l4.7 3l1.6 2.2l1.7 4.5l2 13.6l0.3 9l-0.5 18.1M559.3 628.6l0.4 15.8l1.2 4.5l1.7 2.3l8.5 4.5l2.3 2.3l1.6 4.5l0.7 9l0.8 2.9l2.5 3.4l7.2 4.7l1.8 2.6l0.9 4.5l-0.1 6.8l0.5 4.5l1.7 3.1l2.4 1.6l2.4 0.3l2.4-0.6l2.6-2.1l1.4-2.3l1.1-4.5l0.6-24.9l-1.5-29.4l-0.2-13.5M615.3 628.6l0.5 13.5l1.2 4.6l1.2 2.2l2.1 2.3l5.7 4.5l6.7 9l8.8 5.2l1.5 1.6l1.3 2.3l1 4.5l2.2 20.3l1.7 4.6l1.9 2.3l2.4 1.5l4.9 1.3l4.8 0.4l4.8-0.3l2.4-0.6l2.4-1.4l2.4-2.5l2.4-3.4l2.4-2.3l2.4-0.8l2.4 0.4l1.5 0.8l2 2.3l1.4 4.5l0.5 18.1l0.6 4.5l0.7 2.3l3 3.6l7.2 4.6l5.8 7.6l3.8 2l2.4 0.5l7.2-0.1l4.8-0.7l3.3-1.7l1.6-2.3l0.2-2.2l-0.7-2.3l-2-2.3l-7-4.5l-2.2-2.2l-1.2-2.3l-1-4.5l-0.1-6.8l1.5-4.5l2.8-2.3l2.4-0.6l2.4 0.4l2.4 1.6l4.9 5.9l9.6 6l2.2 2.6l1.7 4.5l2.3 11.3l2.8 4.5l10.1 6.8l4.9 6.6l2.4 2l7.3 4.2l5.6 7.5l3.3 2.3l3.1 1l14.4 0.7M802.7 710.5l-14.4-1.2l-4.7-1.6l-2.5-2l-1.8-2.5l-0.7-2.3l-0.6-9l-0.9-4.6l-1.3-2.2l-1.9-1.9l-7-4.9l-1.5-2.3l-0.5-2.2l0.6-2.3l2.3-2.2l4-2.3l1.9-2.3l0.7-2.2l-0.1-4.5l-1.8-15.9l-0.4-13.5M83.3 722.5l19.2-0.8l4.8 0.5l3 1.3l2.1 2.3l1 2.2l0.8 4.5l0.2 18.1l0.9 4.6l1.7 2.6l8.4 6.4l1.5 2.3l0.7 2.2l0.3 6.8l-1 20.3l-1.1 38.5l1 4.5l2.2 2.6l6.2 4.2l1.8 2.2l0.7 2.3l0.4 4.5l-0.4 15.8M110.5 870.4l-0.5-18.1l-1-4.5l-1.3-2.2l-2.8-2.1l-4.8-1.5l-16.8-1.3M194.6 870.4l0.4-15.8l1.4-4.4l2.4-2.5l4.8-1.1l14.4 0.5l24.1-0.6l4.8 0.4l2.4 0.7l2.4 1.3l2.4 2.9l1.5 5.1l1 13.5M401.3 870.4l-0.6-24.8l-1-9.1l-3.5-20.3l-0.9-15.8l-1.6-4.6l-2.4-2.2l-2.4-1.1l-4.9-0.7l-33.6-0.4l-2.4-0.7l-2.5-1.4l-6.1-4.8l-3.5-1.1l-16.8-3.1l-4.8-0.1l-4.8 0.8l-2.5 1.5l-2.4 3.9l-3.5 11.7l-0.9 4.5l-1.7 20.4l0.6 4.5l1.1 2.2l2.3 2.3l6.1 4.5l1.5 2.3l0.2 2.2l-1.7 2.3l-4 1.7l-4.8 0.6l-19.2 0.6l-4.8-0.6l-2.4-0.9l-2.4-1.8l-1.3-1.9l-0.7-2.2l-0.4-11.3l-0.5-2.3l-1.2-2.2l-8-6.8l-4.4-6.8l-7.6-6.8l-7.2-8.6l-2.4-1.6l-4.8-1.6l-12.1-1l-2.4-0.9l-2.8-2.1l-1.5-2.3l-0.8-2.2l-0.6-4.5l0.2-9.1l1.2-18.1l-0.5-1.1l-2.4 0.1l-4.8 1l-3.5 2.3l-1.7 2.3l-1.4 4.5l-0.6 4.5l-0.8 18.1l-1.7 4.5l-2.3 2.2l-4.9 2.8l-1.9 1.8l-2.9 4.6l-2.4 2.4l-2.4 0.9l-2.4 0.1l-2.4-0.7l-2.4-1.6l-7.2-7.7l-7.2-4.6l-2-2.5l-1.4-4.5l-0.6-9l-0.9-3.3l-2.4-3.3l-6.5-4.7l-1.5-2.3l-0.8-2.2l-0.4-4.6l0.2-18.1l-0.4-4.5l-1.9-4.5l-7.7-6.8l-2.2-4.5l-0.8-4.5l-2.2-29.4l-0.7-4.5l-1-2.3l-2.1-2.2l-6.8-4.6l-1.7-2.2l-0.8-2.3l-1.5-31.6M529.4 870.4l0.2-27.1l-0.7-6.8l-1-2.2l-1.9-1.9l-7.2-4.2l-4.8-6.9l-4.9-5.1l-1.1-4.5l0.1-13.6l-0.6-6.8l-1.9-6.8l-2.2-4.5l-3.9-3.9l-8.2-5.1l-6.2-5.3l-9.6-5.2l-2.4-2.4l-3.9-5.2l-3.1-2.3l-5.1-1.5l-9.6-1.6l-3.3-1.4l-2.7-2.3l-1.4-2.2l-0.7-2.3l-0.6-9l-0.9-4.5l-2.4-3.4l-7.2-5.2l-1.7-2.7l-0.6-2.3l-0.5-9l-0.8-4.6l-1.2-2.2l-2.4-2.2l-7.3-4l-2.3-2.9l-1.4-4.5l-0.6-6.8l-1.4-47.4M583.8 870.4l1.2-15.8l-1.2-4.7l-2.4-2.7l-3.4-1.6l-3.9-0.9l-7.2-0.4l-2.4 0.2l-3 1.1l-2.8 2.2l-1.3 2.3l-1.8 6.8l-1.2 13.5M741.8 870.4l0.5-15.8l-0.3-2.3l-1.8-3.2l-2.4-1.6l-2.4-0.7l-12.1-0.8l-9.6-1.3l-4.8-1.6l-2.4-1.9l-4-6.9l-1.9-2.3l-6.3-4.5l-7.6-9.1l-6.7-4l-3-2.7l-2.2-4.6l-2.2-11.3l-2.2-3.8l-9.6-6.5l-6.2-7.7l-8.3-5.1l-7.2-7.2l-2.4-1.4l-2.4-0.4l-2.4 0.5l-3.1 2.3l-4.1 5.6l-2.4 2.4l-4.8 2.3l-9.7 1.1l-12-0.1l-4.8-1.1l-2.4-1.5l-1.7-2l-3.7-6.7l-8-6.8l-1.4-2.3l-0.9-4.5l0.4-20.4l-0.9-4.5l-1.5-2.2l-1.6-1.4l-7.2-3.8l-2.4-2.8l-1.2-3.3l-0.2-2.3l-0.1-20.3l-0.9-4.2l-2.4-3.1l-7.2-4.4l-1.5-1.9l-0.9-2.3l-0.3-4.5l0.3-15.8l-1.7-27.1M213.4 628.6l-0.4 13.5l-0.9 6.8l-0.9 2.3l-2.1 2.2l-3.1 1.2l-2.4-0.3l-1.5-0.9l-1.8-2.2l-0.7-2.3l-0.6-20.3M312.2 748.4l0.3-4.6l1.8-10.4l1.8-5.4l3-3.1l2.4-1.1l4.8-0.7l33.7-0.1l4.8 0.2l2.4 0.7l3.3 1.9l5.3 6.7l3.4 2.9l4.8 1.5l9.7 1.3l2.4 1.1l2.3 2.3l0.8 2.2l-0.3 2.3l-1.5 2.3l-3.7 2.2l-4.8 0.9l-9.7 0.6l-2.4 0.8l-2.4 1.6l-2.1 2.9l-1 2.3l-2.4 11.3l-1.7 3.2l-2.4 2.2l-2.4 1l-4.8 0.8l-4.8 0.1l-4.8-0.4l-12.1-2.3l-5.2-2.4l-5.6-4.5l-7.8-4.5l-2.1-2.3l-1.8-4.5zM646.3 739.8l2.8-2.7l4.4-1.5l9.7 0l7.2 1.6l3.3 2.1l6.3 7.9l8.4 5.7l4.5 6.8l1.6 1.4l5 3.1l2 2.3l0.5 2.2l-0.7 2.3l-2 2.3l-4.8 1.9l-4.9 0.4l-7.2-0.3l-2.4-0.6l-2.9-1.5l-2.1-2.2l-2.7-4.5l-1.9-1.9l-2.4-1.3l-4.8-1.2l-7.2-0.9l-5.1-1.5l-3.2-2.3l-1.9-2.2l-1-2.3l-0.4-2.3l0.2-4.5l0.9-4.5zM245.1 764.2l1.8-1.2l2.4-0.8l7.2-0.1l33.7 4.2l4.8 1.8l2.7 2.9l0.7 2.2l0 2.3l-1.9 9l-1.5 4.1l-2.4 3.1l-4.4 4.1l-4.8 6.8l-2.8 2l-2.4 0.8l-4.8 0.4l-4.9-0.2l-2.4-0.6l-2.4-1.4l-2.4-2.2l-6.1-7.8l-7.8-6.8l-3.1-4.5l-1.2-4.5l-0.5-6.8l0.9-4.5zM519.7 766.5l1.5-1.2l2.4-0.6l2.4 0.4l2.5 1.4l5.3 6.7l6.7 5l1.7 1.8l1 2.3l0 2.2l-1 2.3l-1.7 1.6l-2.5 1.1l-4.8 0.5l-7.2-0.8l-2.4-1.1l-1.7-1.3l-1.7-2.3l-0.9-2.2l-0.9-4.5l-0.3-6.8l0.3-2.3zM757 778.9l2.5 1.1l1.6 2.3l0.6 2.2l-0.5 6.8l-3.4 15.8l-1.8 4.6l-1.4 2.2l-2.7 2.3l-2.1 0.9l-2.4 0l-2.4-1.1l-1.6-2.1l-1.1-4.5l0.6-6.8l2.8-13.5l1.5-4.6l2.6-3.5l2.4-1.6l2.4-0.7zM327.3 739.3l1.4-1.4l2.4-1.4l2.4-0.7l4.8 0.4l2.4 1l2.4 2.2l1.1 2.2l0.2 2.2l-0.4 2.3l-1.2 2.3l-2.1 2.1l-2.4 1.3l-4.8 0.7l-2.4-0.5l-2.4-1.4l-1.8-2.2l-0.9-2.3l-0.3-2.3l0.4-2.2z" fill="none" stroke="#111" stroke-width="0.8"/>
<path d="M114.0 684.4h0M114.0 690.5h0M114.0 696.7h0M114.0 825.9h0M114.0 832.0h0M114.0 838.1h0M183.3 825.9h0M183.3 832.0h0M218.0 647.5h0M252.6 758.2h0M252.6 764.4h0M252.6 770.5h0M252.6 776.6h0M252.6 782.8h0M269.9 709.0h0M269.9 715.1h0M269.9 721.3h0M269.9 727.5h0M269.9 733.6h0M269.9 739.8h0M269.9 764.4h0M269.9 770.5h0M269.9 776.6h0M269.9 782.8h0M269.9 789.0h0M269.9 795.1h0M269.9 801.2h0M287.3 702.9h0M287.3 709.0h0M287.3 715.1h0M287.3 721.3h0M287.3 727.5h0M287.3 733.6h0M287.3 764.4h0M287.3 770.5h0M287.3 776.6h0M287.3 782.8h0M287.3 789.0h0M287.3 795.1h0M321.9 727.5h0M321.9 733.6h0M321.9 739.8h0M321.9 745.9h0M321.9 752.0h0M321.9 758.2h0M321.9 789.0h0M321.9 795.1h0M321.9 801.2h0M321.9 807.4h0M321.9 813.5h0M321.9 819.7h0M339.3 721.3h0M339.3 727.5h0M339.3 733.6h0M339.3 739.8h0M339.3 745.9h0M339.3 752.0h0M339.3 758.2h0M339.3 764.4h0M339.3 770.5h0M356.6 733.6h0M356.6 739.8h0M356.6 745.9h0M356.6 752.0h0M356.6 758.2h0M356.6 764.4h0M356.6 770.5h0M356.6 776.6h0M373.9 745.9h0M373.9 752.0h0M391.3 733.6h0M391.3 739.8h0M391.3 745.9h0M477.9 776.6h0M477.9 782.8h0M477.9 789.0h0M477.9 795.1h0M477.9 727.5h0M495.2 801.2h0M495.2 807.4h0M495.2 813.5h0M495.2 819.7h0M512.6 770.5h0M512.6 776.6h0M529.9 770.5h0M529.9 776.6h0M529.9 782.8h0M529.9 789.0h0M529.9 678.2h0M547.2 721.3h0M547.2 727.5h0M651.2 739.8h0M651.2 745.9h0M651.2 752.0h0M651.2 758.2h0M668.5 745.9h0M668.5 752.0h0M668.5 758.2h0M668.5 764.4h0M685.9 758.2h0M685.9 764.4h0M685.9 770.5h0M703.2 776.6h0M755.2 776.6h0M755.2 782.8h0M755.2 789.0h0M755.2 795.1h0M755.2 801.2h0M755.2 807.4h0M755.2 813.5h0M772.5 727.5h0M772.5 733.6h0" stroke="#000" stroke-width="3.9" stroke-linecap="round" fill="none"/>
</g>
<polyline points="96.0,788.7 113.8,777.8 131.7,743.1 148.5,735.8 165.4,747.1 183.2,756.0 200.1,762.9 217.0,788.7 234.8,798.6 252.6,799.2 269.5,799.6 286.4,791.7 304.2,774.2 321.1,781.8 338.9,809.5 355.8,837.3 373.6,843.3 390.5,823.4 408.3,788.7 425.2,772.9 443.0,774.8 460.8,789.7 477.7,797.6 495.0,777.8 512.4,759.4 529.7,770.9 547.1,785.7 564.0,782.2 581.8,765.9 599.1,749.1 616.5,745.1 633.8,736.2 651.2,727.3 668.5,720.3 685.9,716.9 703.2,720.3 720.6,732.6 737.9,738.6 755.3,755.0 772.6,761.0 790.0,770.9" fill="none" stroke="#fa1c10" stroke-width="3.4" stroke-linejoin="round" />
<line x1="96.5" y1="641.0" x2="96.5" y2="858.0" stroke="#000" stroke-width="1.6" />
<line x1="96.5" y1="641.0" x2="789.5" y2="641.0" stroke="#000" stroke-width="1.6" />
<line x1="96.5" y1="858.0" x2="789.5" y2="858.0" stroke="#000" stroke-width="1.6" />
<line x1="789.5" y1="641.0" x2="789.5" y2="858.0" stroke="#d95319" stroke-width="2.0" />
<line x1="789.5" y1="677.5" x2="797.5" y2="677.5" stroke="#d95319" stroke-width="1.8" />
<text x="806.5" y="687.0" font-size="28" text-anchor="start" fill="#d95319" >10</text>
<line x1="789.5" y1="749.0" x2="797.5" y2="749.0" stroke="#d95319" stroke-width="1.8" />
<text x="806.5" y="758.5" font-size="28" text-anchor="start" fill="#d95319" >0</text>
<line x1="789.5" y1="821.0" x2="797.5" y2="821.0" stroke="#d95319" stroke-width="1.8" />
<text x="806.5" y="830.5" font-size="28" text-anchor="start" fill="#d95319" >-10</text>
<text transform="translate(866.2,747.5) rotate(-90)" font-size="28.3" text-anchor="middle" fill="#d95319">Zonal wind (m/s)</text>
<line x1="252.5" y1="858.0" x2="252.5" y2="865.0" stroke="#000" stroke-width="1.6" />
<line x1="252.5" y1="634.0" x2="252.5" y2="641.0" stroke="#000" stroke-width="1.6" />
<text x="252.5" y="900.2" font-size="28" text-anchor="middle" fill="#000" >31 Dec</text>
<line x1="443.0" y1="858.0" x2="443.0" y2="865.0" stroke="#000" stroke-width="1.6" />
<line x1="443.0" y1="634.0" x2="443.0" y2="641.0" stroke="#000" stroke-width="1.6" />
<text x="443.0" y="900.2" font-size="28" text-anchor="middle" fill="#000" >31 Jan</text>
<line x1="599.0" y1="858.0" x2="599.0" y2="865.0" stroke="#000" stroke-width="1.6" />
<line x1="599.0" y1="634.0" x2="599.0" y2="641.0" stroke="#000" stroke-width="1.6" />
<text x="599.0" y="900.2" font-size="28" text-anchor="middle" fill="#000" >28 Feb</text>
<line x1="789.5" y1="858.0" x2="789.5" y2="865.0" stroke="#000" stroke-width="1.6" />
<line x1="789.5" y1="634.0" x2="789.5" y2="641.0" stroke="#000" stroke-width="1.6" />
<text x="789.5" y="900.2" font-size="28" text-anchor="middle" fill="#000" >31 Mar</text>
<line x1="89.5" y1="676.0" x2="96.5" y2="676.0" stroke="#000" stroke-width="1.6" />
<text x="79.9" y="686.0" font-size="28" text-anchor="end" fill="#000" >120°E</text>
<line x1="89.5" y1="712.5" x2="96.5" y2="712.5" stroke="#000" stroke-width="1.6" />
<text x="79.9" y="722.5" font-size="28" text-anchor="end" fill="#000" >60°E</text>
<line x1="89.5" y1="749.0" x2="96.5" y2="749.0" stroke="#000" stroke-width="1.6" />
<text x="79.8" y="759.0" font-size="28" text-anchor="end" fill="#000" >0</text>
<line x1="89.5" y1="786.0" x2="96.5" y2="786.0" stroke="#000" stroke-width="1.6" />
<text x="78.1" y="796.0" font-size="28" text-anchor="end" fill="#000" >60°W</text>
<line x1="89.5" y1="822.5" x2="96.5" y2="822.5" stroke="#000" stroke-width="1.6" />
<text x="78.1" y="832.5" font-size="28" text-anchor="end" fill="#000" >120°W</text>
<text x="35.0" y="645.7" font-size="28" text-anchor="start" fill="#000" >(e)</text>
<clipPath id="clipf"><rect x="977.5" y="642.5" width="694.5" height="218.5"/></clipPath>
<rect x="977.5" y="642.5" width="694.5" height="218.5" fill="#fff"/>
<g clip-path="url(#clipf)">
<rect x="977.5" y="642.5" width="694.5" height="218.5" fill="#b4ebf8"/>
<path d="M1162.5 630l19.8 0l-0.3 11.4l-0.8 6.8l-1.7 4.5l-3.1 3.3l-2.4 1l-2.4 0l-2.4-0.9l-2.4-1.8l-2.9-3.8l-0.9-2.3l-0.6-4.6zM1221.4 630l18.7 0l-1 25l-0.7 6.8l-1.7 4.7l-2.4 2.8l-2.4 1.3l-2.4 0.3l-2.4-0.6l-2.4-1.4l-2.4-2.7l-1.9-4.4l-0.3-4.5zM1301.8 697.6l2.5-0.2l2.4 0.8l2.4 1.7l2.4 2.9l1.2 2.3l1 4.5l1.1 27.4l-0.2 6.8l-0.7 2.6l-2.4 3.4l-2.4 1.3l-2.4 0.3l-2.4-0.6l-2.5-1.8l-1.8-2.9l-3.7-11.4l-1-4.6l-0.2-13.6l0.9-11.4l1.9-4.6l1.5-1.6zM1270.5 791.1l2.4 0.5l2.4 2.3l1.8 4.5l2.7 36.4l-0.1 4.6l-1.8 4.5l-2.6 2.1l-2.4 0.5l-2.4-0.4l-2.4-1.3l-2.4-2.8l-1.7-4.9l-0.3-4.6l-0.1-31.8l1-4.6l1.1-2l2.4-2.3zM1169.2 848l2.4-0.9l4.8-0.1l3.2 1.5l2.2 2.3l1 2.2l0.6 4.6l-0.3 15.9l-19.5 0l0.2-11.4l0.7-6.8l1.9-4.5zM1391.1 847.1l2.4-0.5l2.4 0.4l2.2 1.5l1.6 2.3l1 4.5l0 18.2l-15.1 0l0.1-15.9l0.5-4.2l2.5-4.6zM1345.2 849.9l2.5-0.2l2.4 0.8l2.4 2.2l1.3 2.6l1.1 5.2l0.2 13l-16.7 0l0.2-11.4l0.7-4.5l2-4.6l1.5-1.7z" fill="#2c5a92" fill-rule="evenodd"/>
<path d="M964.2 630l27 0l-0.3 29.6l0.6 4.5l1 2.3l3.1 3.1l7.2 4l2.1 2l5.2 6.5l7.7 4.9l1.9 2.2l1 2.3l0.7 4.6l-0.6 18.2l-0.9 4.5l-2.6 4l-7.2 5.2l-4.9 6.2l-2.4 1.8l-2.4 0.6l-2.4-0.4l-2.4-1.5l-1.5-2.2l-0.9-3.3l-1-10.4l-1.4-3.1l-2.4-2.4l-2.5-1.3l-4.8-1.2l-16.9-1.3zM1021.2 630l29.3 0l-0.6 13.6l-1.4 16l-1.4 4.5l-1.7 2.3l-1.6 1.1l-2.4 0.7l-2.4-0.5l-1.9-1.3l-5-6.8l-6.9-4.6l-2.2-2.3l-1.1-2.2l-0.8-4.6zM1092.8 630l-1.9 45.5l1.6 20.5l1 4.5l1 2.1l2.4 2.2l2.4 0.8l2.4-0.2l2.4-1.4l2.1-3.5l0.8-11.3l0.8-2.3l1.9-2.3l1.6-1l2.4-0.9l4.9-0.6l9.6 0.4l2.4 0.7l2.4 1.4l1.9 2.3l1.4 4.5l0.3 4.6l-0.4 4.5l-0.7 2.3l-1.5 2.3l-3.4 2.2l-4.8 2.3l-2.4 1.8l-4.8 6.2l-7.3 4.8l-2.7 3.2l-0.9 2.3l-0.7 4.5l-1.1 34.1l-1 4.6l-1.1 2.3l-2.1 2.2l-2.4 1.3l-14.5 2.4l-2.4 1.2l-2.1 2l-5.1 7.8l-7.3 5.1l-2.4 3l-1.3 4.6l-0.7 9.1l-0.7 2.2l-2.1 2.7l-2.4 1.5l-2.4 0.7l-14.5 1.4l-2.4 1.1l-2.4 2.2l-1.4 4.1l0.3 9.1l0.7 2.3l1.5 2.3l8.5 5.9l2.4 3.2l1.5 6.8l1 15.9l-30 0l-0.1-15.9l-0.8-4.6l-1-2.2l-1.9-2.2l-7.3-4.7l-1.5-2.2l-1.3-4.6l-2.3-34.1l-0.5-13.7l0.4-13.7l1.8-15.9l2.1-4.5l3.8-2.8l4.8-1.2l9.6-1.1l2.4-0.8l2.5-1.6l2.4-3.1l2.7-5.4l2-2.2l6.2-4.6l5.9-7l7.3-5.3l2.4-2.6l1.3-3.3l0.2-2.3l-0.6-18.2l0.6-4.5l0.9-2.3l1.8-2.3l6.7-4.5l2.2-2.3l1.9-4.6l2.3-27.3l0.7-15.9zM1107.2 630l29.6 0l-0.4 15.9l-1.1 4.6l-1.3 2.2l-3.4 2.7l-2.4 0.9l-4.8 0.8l-7.5 0.2l-4.6-1.2l-1.6-1.1l-1.8-2.3l-0.9-4.5zM1150.7 630l11.8 0l-0.1 13.6l0.6 4.6l1.4 3.1l2.4 3l2.4 1.8l2.4 0.9l2.4 0l2.4-1l2.5-2.3l1.7-3.2l1.3-6.9l0.4-13.6l13 0l-0.8 15.9l-4.4 13.7l-0.9 4.5l-0.5 6.9l0.4 6.8l1.1 4.5l4 11.4l2 11.4l1.2 2.3l2 2.2l5.4 4.6l2 2.3l2 4.5l0.4 4.6l-0.3 15.9l0.6 4.6l1.1 2.2l1.9 2.3l6.8 4.6l1.6 2.2l0.5 2.3l-0.2 2.3l-2.2 6.8l-1 6.8l-0.1 11.4l0.7 11.4l2.4 20.5l3.2 9.1l2.9 3.8l2.4 1.4l2.4 0.6l7.2-0.1l5.9-1.2l3.8-2.4l1.4-2.1l0.7-2.3l1.1-11.4l2.5-11.3l1-16l1-4.5l1.9-3.3l6.4-5.8l3.3-4.2l2.4-2.2l2.4-1.1l2.4-0.1l2.4 0.9l1.9 2.1l0.9 4.6l-0.1 9.1l2.9 13.6l1.2 20.5l1.8 20.5l-0.2 6.8l-2.5 11.4l0.5 18.2l-101 0l0.3-15.9l-0.6-4.6l-1-2.2l-2.2-2.3l-3.2-1.5l-2.4-0.2l-2.4 0.3l-3.1 1.4l-2.1 2.3l-1.2 2.2l-1.3 6.9l-0.3 13.6l-55.8 0l-0.2-43.2l0.6-4.6l0.7-2.1l2.4-3l2.4-1.2l4.9-0.8l26.5 0.3l9.6 0.6l4.9 1.3l2.4 1.4l2.4 2.2l4.3 5.9l2.9 2l2.4 0.6l2.4-0.2l2.5-1.1l1.4-1.3l3.4-4.2l2.4-2.1l4.8-2.7l2.4-1.9l1.6-2.8l0.6-2.3l0.1-4.5l-1.8-29.6l0.2-4.6l2.9-11.3l0.9-6.9l0.3-11.3l-1.3-9.1l-1.5-4.6l-2-3.9l-2.4-2.4l-4.8-2.8l-2.4-2.2l-1.2-2.4l-0.4-2.2l-0.4-9.1l-1.4-4.6l-1.8-2.3l-7-4.5l-2.3-2.3l-1.4-2.3l-1.9-6.8l-1.6-15.9l-1.2-4.6l-3-4.5l-7.2-6.9l-2-4.5l-0.4-4.6zM1270.5 791.1l-2.4 0.7l-2.4 2.3l-1.1 2l-1 4.6l0.1 31.8l0.3 4.6l1.7 4.9l2.4 2.8l2.4 1.3l2.4 0.4l2.4-0.5l2.6-2.1l1.8-4.5l0.1-4.6l-2.7-36.4l-1.8-4.5l-2.4-2.3zM1209.5 630l11.9 0l-1.3 27.3l0.3 4.5l1.9 4.4l2.2 2.5l2.6 1.6l2.4 0.6l2.4-0.3l3.1-1.9l1.8-2.3l1.6-4.6l0.7-6.8l1-25l11.9 0l-0.3 25l1.1 45.5l-0.1 29.6l-0.8 4.6l-1.6 2.3l-1.5 1l-2.4 0.6l-2.4-0.3l-2.4-1.4l-1.6-2.2l-1.1-4.6l-0.7-18.2l-0.9-4.5l-1.1-2.3l-1.9-2.3l-7.2-5.7l-2.8-3.4l-1.8-4.5l-1-6.9l-1.6-4.5l-5-6.8l-2.6-4.6l-1.1-4.6l-2-13.6zM1280.9 630l14.7 0l0.6 13.6l1.4 6.9l1.2 2.2l2 2.3l8.3 5.3l1.5 1.5l1.3 2.3l0.9 4.6l0 15.9l0.4 4.6l2.3 4.5l6.6 6.8l1.4 2.2l1.4 4.7l2 50l0.8 2.3l1.8 2.3l6.3 4.5l1.8 2.3l0.9 2.3l0.5 4.5l-0.3 16l0.5 4.5l0.7 2.3l2.9 4l7.3 5.3l2.4 3.3l1.2 3.3l1 6.9l1.4 18.2l4.8 15.9l0.5 18.2l-6.3 0l-0.2-13l-1.1-5.2l-1.3-2.6l-2.1-1.9l-2.7-1.1l-2.5 0.2l-2.4 1.4l-2.8 4l-1.4 6.8l-0.2 11.4l-13.7 0l1.6-38.7l-2-29.6l0.3-18.2l-0.4-4.5l-0.9-2.3l-1.8-2.3l-7.6-5l-4.8-6.4l-2.4-1.9l-5.2-2.6l-2.9-2.3l-3-4.5l-4-11.4l-4.8-9.1l-0.8-4.6l-0.2-4.5l1.7-34.2l0.1-11.3l-0.8-6.9l-3.4-11.4l-0.8-4.5l-1.2-13.7zM1304.3 697.4l-2.5 0.2l-2.4 1.3l-2.7 3.9l-1.3 6.8l-0.3 18.3l1.2 6.8l3.7 11.4l1.8 2.9l2.5 1.8l2.4 0.6l2.4-0.3l2.4-1.3l2.4-3.4l0.7-2.6l0.2-6.8l-1-25.1l-0.4-4.5l-1.9-4.6l-2.4-2.9l-2.4-1.7zM1325.8 630l27.9 0l0.5 15.9l1.3 4.6l1.8 2.6l8.2 6.5l2.4 4.5l1.2 6.9l0.4 9.1l-0.2 9.1l-1.2 13.6l0 4.6l0.8 2.2l1.7 2.3l7.8 4.6l2.2 2.2l1 2.3l0.3 2.3l-1.4 27.3l1.1 34.2l-0.4 2.2l-1.2 2.3l-1 1.1l-2.4 1.2l-2.9 0l-1.9-0.6l-2.4-1.7l-5.8-6.8l-6.3-4.2l-2.4-2.3l-1.5-2.6l-0.8-4.6l-0.1-20.5l-1-29.6l0.7-11.3l2.2-20.5l0-6.8l-1.3-4.6l-1.6-2.3l-8.2-6.8l-5.3-7.4l-7.2-4.2l-2.4-2.6l-0.9-1.7l-1-4.6zM1379.7 630l29.9 0l0 13.6l0.6 4.6l0.7 2.3l1.5 2.2l2.5 2.3l7.4 4.6l1.6 2.2l0.9 2.6l0.4 4.3l-0.5 56.9l0.3 4.5l0.7 2.3l1.4 2.3l7.4 5.6l2.4 3.5l0.9 4.5l0.3 9.1l0.5 2.3l1.2 2.3l1.9 1.7l1.5 0.6l3.3 0.1l2.4-1l2.5-2.3l2.8-3.7l2-1.7l2.4-1.3l7.2-1.2l1.5 2l-0.3 25l-0.7 4.6l-1.2 2.2l-1.7 1.6l-5.6 3l-2.8 2.3l-1.4 2.2l-0.9 4.6l0.5 15.9l2.5 38.7l0.3 18.2l-14.8 0l-0.5-25l-0.7-6.8l-0.9-2.3l-1.6-2.3l-7.9-5.4l-2.3-3.7l-1.1-6.8l-1.7-29.6l-0.6-4.6l-0.8-2.2l-1.7-2.3l-3.8-2.2l-12.1-1.2l-3.8-1.2l-2.9-2.3l-1.3-2.2l-0.1-2.3l0.9-2.5l2-2.1l5.2-3.4l2.5-3.4l0.9-4.5l0.8-22.8l-0.7-2.3l-1.7-2.2l-6.6-3.8l-2.4-3.1l-0.6-4.5l0.5-13.7l-0.2-13.6l-1-13.7l-1-6.8l-1.6-4.6l-1.4-2.3l-1.9-2l-6.4-4.8l-3.1-4.5l-1.4-6.9zM1442.1 630l13 0l-0.1 11.4l-0.5 4.5l-0.8 2.3l-1.7 2.3l-3.1 1.8l-2.4 0.1l-2.4-1.4l-1.5-2.8l-0.6-4.6zM1497.4 630l13.7 0l0.4 18.2l-0.6 2.3l-1.7 2.5l-2.4 1.1l-2.4-0.1l-2.4-1l-2.6-2.5l-1-2.3l-0.8-4.6zM1614.5 630l28.4 0l0.1 59.2l1.3 3.6l2.4 2.9l7.2 4.4l2.4 2.6l1.2 2.4l0.9 4.5l0.9 29.6l-1.3 31.9l0.6 4.5l1 2.3l1.5 1.8l2.5 1.5l2.4 0.7l4.8 0.6l14.5 0.4l0 90.6l-28.8 0l0.7-18.2l2.3-29.6l0.1-6.8l-0.4-4.6l-0.8-2.2l-2.1-2.7l-7.2-4.3l-2.7-2.1l-1.4-2.3l-0.7-2.3l-0.7-15.9l0.8-38.7l-0.4-6.8l-1.1-4.6l-1.4-2.3l-2.1-2l-7.2-4.6l-2.1-2.5l-1.7-4.5l-0.8-9.1l-1.2-4.6l-1.4-2.3l-8.4-6.8l-1.3-2.3l-0.6-2.2l-0.3-4.6l0.5-29.6zM1655.5 630l29.8 0l0 50.5l-19.3 0.8l-4-1.2l-2.5-2.3l-1.2-2.3l-0.8-4.5zM1543 659.9l2.4-0.9l2.4 0.2l2.4 1.2l7.3 8.7l7.2 4.7l1.9 1.7l5.3 7.1l7.3 4.3l2.8 2.3l1.4 2.2l1.6 6.9l3 34.1l0.1 11.4l-1.1 20.5l1.8 1.3l2.4 0l4.8-0.6l1.6-0.7l3.3-2.5l4.8-6.1l2.4-1.2l2.4-0.1l2.4 1.1l2.4 3.1l1.3 5.7l0.3 9.1l-1 38.7l0.6 2.2l1.5 2.3l9.4 5.4l5.1 6l7.7 4.5l2.2 2.3l1 2.3l0.7 6.8l-0.6 29.6l-58.5 0l1.9-34.1l-1.1-29.6l0.6-41l-0.3-2.3l-2.1-0.6l-4.8 0.1l-4.9 1.5l-2.4 2.1l-4.8 6.3l-7.5 4.3l-2.4 2.3l-4.6 6.3l-7.2 4.3l-2.9 3l-0.9 2.3l-0.4 4.6l1.6 45.5l-0.1 25l-56.1 0l-0.3-13.6l-1.2-4.6l-2.4-3.3l-7.2-4.7l-3-3.4l-1.7-4.5l-1.1-11.4l-0.4-11.4l0.3-2.3l1-2.8l2.5-2.7l7.2-3.7l2.4-2.4l3.8-6.6l2.8-2.2l3-1.2l9.7-1.2l2.4-0.7l2.8-1.5l2.2-2.3l4.2-6.8l2.7-2.3l5-3l2.4-2.6l1.5-3.5l1.3-9.1l1.9-4.5l2.5-2.6l7.4-4.3l2.2-2.2l1.2-2.3l1.7-9.1l0.5-13.7l-3.8-54.6l1.2-4.6zM1473.1 679.7l4.8 1.1l2.2 1.5l5 7.8l2.4 2.3l4.8 3.4l2.1 2.5l1.7 4.5l0.9 11.4l-0.7 4.5l-1.4 2.3l-7.4 4.9l-2 2l-1.2 2.2l-0.6 2.3l-0.8 11.4l-2.2 4.5l-3 2.3l-2.2 0.9l-4.9 0.9l-2.4-0.4l-0.3-1.4l0.1-13.6l-0.4-4.6l-0.7-2.3l-1.4-2.2l-2.1-2.1l-6.8-4.8l-1.5-2.3l-0.8-2.2l-0.6-4.6l0.5-20.5l1.1-4.5l1.4-2.3l1.9-1.8l4.8-2.2l4.8-0.8zM1142.7 739.9l2.4 0.2l2.9 1.4l2.2 2.3l4.5 7l8.5 6.6l1.4 2.3l0.6 2.3l0.3 4.5l-0.6 6.9l-0.8 2.2l-1.7 2.3l-8.1 4.6l-6.8 7.1l-2.4 1l-2.4 0.1l-3.4-1.4l-2.2-2.3l-1.4-4.5l-0.2-4.6l1.5-31.8l0.7-2.3l1.6-2.3zM1388.7 823.8l2.4-0.6l2.4 0.3l2.4 1.4l4.8 6l2.4 2l7 4.2l1.7 2.3l0.8 2.3l0.3 4.5l0 27.3l-12.2 0l-0.3-20.5l-0.7-2.2l-1.6-2.3l-2.2-1.5l-2.4-0.4l-2.4 0.5l-2.4 1.7l-2.4 4.2l-0.6 4.6l-0.1 15.9l-6.1 0l0-15.9l0.6-6.8l3.6-11.4l0.7-9.1l0.6-2.3l1.2-2.3zM964.2 848.3l19.3 0.4l2.4 0.4l3.4 1.7l2.1 2.2l1.3 4.6l0.2 15.9l-28.7 0zM1084.8 846.4l2.4 0l2.4 1.2l2.5 3.2l1.4 6.8l0.7 15.9l-13.4 0l-1.1-20.5l0.4-2.2l1.2-2.3l1.1-1.1z" fill="#6b9fcf" fill-rule="evenodd"/>
<path d="M1200.6 662.6l2.4 3.2l2.3 9.7l0.1 2.3l-0.9 2.3l-1.5 1.2l-2.4-0.1l-2.5-2.5l-0.9-3.2l-0.1-4.5l1-6.3zM1272.9 672.4l2.4 0.2l2.8 2.9l1.2 4.6l0.2 6.8l-2.1 43.2l-1.5 4.6l-0.6 0.7l-2.4 0.9l-2.4-0.8l-2.4-3.1l-0.8-6.8l1.2-27.3l0.3-18.2l0.9-4.6l0.8-1.3zM1041.4 698.4l2.4 0.7l1.6 1.4l1.3 2.3l0.7 4.6l-0.1 4.5l-1.1 3.4l-2.4 3.1l-2.4 1.3l-2.4 0.3l-2.4-1l-1.5-2.5l-0.7-4.6l0.1-4.5l1-4.6l1.1-1.9l2.4-2zM1212.3 702.8l2.7-1l2.7 1l2.3 2.3l0.9 2.3l-0.5 2.2l-0.5 0.6l-2.5 0.7l-3-1.3l-2.1-2.2l-0.6-2.3zM1186.1 742.1l2.4 1.7l0.8 2.3l0.7 4.5l-0.3 6.8l-1.2 4.7l-2.4 2.3l-2.4 0.1l-2.4-2.4l-0.8-2.4l-0.2-9.1l0.9-4.5l2.5-3.4zM1231.9 768.4l2.8 0.4l2 1.8l3.9 5l5 4.6l1.1 2.3l0.5 2.3l0.3 6.8l-0.3 6.8l-1.4 4.6l-1.8 2.8l-3.9 4l-4.8 6.8l-1 0.9l-2.4 0.5l-2.4-1.5l-1-2.2l-1.2-4.5l-1.5-25l0.4-6.9l0.8-4.5l2.5-3.7zM1301.8 791l2.5 0.4l2.4 1.9l1.2 2.8l2.5 36.4l0 4.6l-1.2 4.6l-2.5 2.4l-2.4 0.5l-2.5-0.5l-2.4-1.6l-2.4-4.2l-1-5.8l-1.9-22.7l-0.1-9.1l1-4.6l2-3l2.4-1.6z" fill="#f1d9d2" fill-rule="evenodd"/>
<path d="M1162.5 630l-0.1 13.6l0.6 4.6l1.4 3.1l2.4 3l2.4 1.8l2.4 0.9l2.4 0l2.4-1l2.5-2.3l1.7-3.2l1.3-6.9l0.4-13.6M1221.4 630l-1.3 27.3l0.3 4.5l1.9 4.4l2.2 2.5l2.6 1.6l2.4 0.6l2.4-0.3l3.1-1.9l1.8-2.3l1.6-4.6l0.7-6.8l1-25M1304.3 697.4l-2.5 0.2l-2.4 1.3l-2.7 3.9l-1.3 6.8l-0.3 18.3l1.2 6.8l3.7 11.4l1.8 2.9l2.5 1.8l2.4 0.6l2.4-0.3l2.4-1.3l2.4-3.4l0.7-2.6l0.2-6.8l-1-25.1l-0.4-4.5l-1.9-4.6l-2.4-2.9l-2.4-1.7zM1270.5 791.1l-2.4 0.7l-2.4 2.3l-1.1 2l-1 4.6l0.1 31.8l0.3 4.6l1.7 4.9l2.4 2.8l2.4 1.3l2.4 0.4l2.4-0.5l2.6-2.1l1.8-4.5l0.1-4.6l-2.7-36.4l-1.8-4.5l-2.4-2.3zM1183.1 873.5l0.3-15.9l-0.6-4.6l-1-2.2l-2.2-2.3l-3.2-1.5l-2.4-0.2l-2.4 0.3l-3.1 1.4l-2.1 2.3l-1.2 2.2l-1.3 6.9l-0.3 13.6M1355.1 873.5l-0.2-13l-1.1-5.2l-1.3-2.6l-2.1-1.9l-2.7-1.1l-2.5 0.2l-2.4 1.4l-2.8 4l-1.4 6.8l-0.2 11.4M1400.7 873.5l-0.3-20.5l-0.7-2.2l-1.6-2.3l-2.2-1.5l-2.4-0.4l-2.4 0.5l-2.4 1.7l-2.4 4.2l-0.6 4.6l-0.1 15.9M1021.2 630l-0.1 15.9l0.8 4.6l1.1 2.2l2.2 2.3l6.9 4.6l5 6.8l1.9 1.3l2.4 0.5l2.4-0.7l1.6-1.1l1.7-2.3l0.9-2.3l1.5-13.6l1-18.2M1078.7 630l-0.7 15.9l-2.3 27.3l-1.9 4.6l-2.2 2.3l-6.7 4.5l-1.8 2.3l-0.9 2.3l-0.6 4.5l0.6 18.2l-0.9 4.6l-1.4 2.2l-9 6.9l-5.8 6.8l-6.2 4.6l-2 2.2l-2.7 5.4l-2.4 3.1l-2.5 1.6l-2.4 0.8l-9.6 1.1l-4.8 1.2l-3.8 2.8l-2.1 4.5l-1.8 15.9l-0.4 13.7l0.5 13.7l2.3 34.1l1.3 4.6l1.5 2.2l7.3 4.7l1.9 2.2l1 2.2l0.8 4.6l0.1 15.9M1107.2 630l-0.2 18.2l0.9 4.5l1.8 2.3l1.6 1.1l2.4 0.8l4.9 0.5l9.6-1.1l3-1.3l2.8-2.3l1.3-2.2l1.1-4.6l0.4-15.9M1150.7 630l-0.2 13.6l0.4 4.6l2 4.5l7.2 6.9l3 4.5l1.2 4.6l1.6 15.9l1.9 6.8l1.4 2.3l2.3 2.3l7 4.5l1.8 2.3l1.4 4.6l0.4 9.1l0.4 2.2l1.2 2.4l2.4 2.2l4.8 2.8l2.4 2.4l2 3.9l1.5 4.6l1.3 9.1l-0.3 11.3l-0.9 6.9l-2.9 11.3l-0.2 4.6l1.8 29.6l-0.1 4.5l-0.6 2.3l-1.6 2.8l-2.4 1.9l-4.8 2.7l-2.4 2.1l-3.4 4.2l-1.4 1.3l-2.5 1.1l-2.4 0.2l-2.4-0.6l-2.9-2l-4.3-5.9l-2.4-2.2l-2.4-1.4l-4.9-1.3l-9.6-0.6l-26.5-0.3l-4.9 0.8l-2.4 1.2l-2.4 3l-0.7 2.1l-0.6 4.6l0.2 43.2M1209.5 630l-0.3 18.2l2 13.6l1.1 4.6l2.6 4.6l5 6.8l1.6 4.5l1 6.9l1.8 4.5l2.8 3.4l7.2 5.7l2.4 3.3l1.5 5.8l1 20.5l0.8 2.3l1.6 2.2l2.4 1.4l2.4 0.3l2.4-0.6l2.4-2.1l1.3-3.5l0.3-31.9l-1.1-45.5l0.3-25M1280.9 630l0.5 13.6l1.2 13.7l0.8 4.5l3.4 11.4l0.8 6.9l-0.1 11.3l-1.7 34.2l0.2 4.5l0.8 4.6l4.8 9.1l4 11.4l3 4.5l2.9 2.3l5.2 2.6l2.4 1.9l4.8 6.4l7.6 5l1.8 2.3l0.9 2.3l0.4 4.5l-0.3 18.2l2 29.6l-1.6 38.7M1325.8 630l0.7 15.9l1 4.6l0.9 1.7l2.4 2.6l7.2 4.2l5.3 7.4l8.2 6.8l1.6 2.3l1.3 4.6l0 6.8l-2.2 20.5l-0.7 11.3l1 29.6l0.1 20.5l0.8 4.6l1.5 2.6l2.4 2.3l6.3 4.2l5.8 6.8l2.4 1.7l2.4 0.7l2.4-0.1l2.4-1.2l2.2-3.4l0.4-2.2l-1.1-34.2l1.4-27.3l-0.3-2.3l-1-2.3l-2.2-2.2l-7.8-4.6l-1.7-2.3l-0.8-2.2l0-4.6l1.4-20.5l-0.3-9.1l-0.7-6.8l-1.5-4.6l-1.5-2.2l-8.2-6.5l-1.8-2.6l-1.3-4.6l-0.5-15.9M1379.7 630l0.5 13.6l1.4 6.9l3.1 4.5l6.4 4.8l1.9 2l1.4 2.3l1.6 4.6l1 6.8l1 13.7l0.2 13.6l-0.5 13.7l0.6 4.5l2.4 3.1l6.6 3.8l1.7 2.2l0.7 2.3l-0.8 22.8l-0.9 4.5l-2.5 3.4l-5.2 3.4l-2 2.1l-0.9 2.5l0.1 2.3l1.3 2.2l2.9 2.3l3.8 1.2l12.1 1.2l3.8 2.2l1.7 2.3l0.8 2.2l0.6 4.6l1.7 29.6l1.1 6.8l2.3 3.7l7.9 5.4l1.6 2.3l0.9 2.3l0.7 6.8l0.5 25M1442.1 630l-0.1 13.6l0.6 4.6l1.5 2.8l2.4 1.4l2.4-0.1l2.5-1.2l2.4-3.2l1-4.3l0.3-13.6M1497.4 630l0.2 13.6l0.8 4.6l1.2 2.5l2.4 2.3l2.4 1l2.4 0.1l2.7-1.4l1.4-2.2l0.6-2.3l-0.4-18.2M1614.5 630l0.4 25l-0.5 29.6l0.3 4.6l0.6 2.2l1.3 2.3l8.4 6.8l1.4 2.3l1.2 4.6l0.8 9.1l1.7 4.5l2.1 2.5l7.2 4.6l2.1 2l1.4 2.3l1.1 4.6l0.4 6.8l-0.8 38.7l0.7 15.9l0.7 2.3l1.4 2.3l2.7 2.1l7.2 4.3l2.1 2.7l0.8 2.2l0.4 4.6l-0.1 6.8l-2.3 29.6l-0.7 18.2M1655.5 630l2 41l0.8 4.5l1.2 2.3l2.5 2.3l4 1.2l19.3-0.8M1473.1 679.7l-4.9 0.1l-4.8 0.8l-4.8 2.2l-1.9 1.8l-1.4 2.3l-1.1 4.5l-0.5 20.5l0.6 4.6l0.8 2.2l1.5 2.3l6.8 4.8l2.1 2.1l1.4 2.2l0.7 2.3l0.4 4.6l-0.1 13.6l0.3 1.4l2.4 0.4l4.9-0.9l2.2-0.9l3-2.3l2.2-4.5l0.8-11.4l0.6-2.3l1.2-2.2l2-2l7.4-4.9l1.4-2.3l0.7-4.5l-0.9-11.4l-1.7-4.5l-2.1-2.5l-4.8-3.4l-2.4-2.3l-5-7.8l-2.2-1.5zM964.2 709.4l16.9 1.3l4.8 1.2l2.5 1.3l2.4 2.4l1.4 3.1l1 10.4l0.9 3.3l1.6 2.3l2.3 1.4l2.4 0.4l2.4-0.6l1.9-1.2l5.4-6.8l7.2-5.2l2.6-4l1.1-6.8l0.4-13.6l-0.2-4.6l-1.5-4.5l-2.4-2.7l-7.2-4.5l-5.2-6.5l-2.1-2l-8.3-4.8l-2-2.3l-1-2.3l-0.7-6.8l0.4-27.3M1142.7 739.9l-3.4 1.6l-1.6 2.3l-0.7 2.3l-1.5 31.8l0.2 4.6l1.4 4.5l2.2 2.3l3.4 1.4l2.4-0.1l2.4-1l6.8-7.1l8.1-4.6l1.7-2.3l0.8-2.2l0.6-6.9l-0.3-4.5l-0.6-2.3l-1.4-2.3l-8.5-6.6l-4.5-7l-2.2-2.3l-2.9-1.4zM1685.3 782.9l-14.5-0.4l-4.8-0.6l-2.4-0.7l-2.5-1.5l-1.5-1.8l-1-2.3l-0.6-4.5l1.3-31.9l-0.9-29.6l-0.9-4.5l-1.2-2.4l-2.4-2.6l-7.2-4.4l-2.4-2.9l-1.3-3.6l-0.1-59.2M992.9 873.5l-0.2-15.9l-1.3-4.6l-2.1-2.2l-3.4-1.7l-2.4-0.4l-19.3-0.4M1051.1 873.5l-1-15.9l-1.5-6.8l-2.4-3.2l-8.5-5.9l-1.5-2.3l-0.7-2.3l-0.3-9.1l1.4-4.1l2.4-2.2l2.4-1.1l14.5-1.4l2.4-0.7l2.4-1.5l2.1-2.7l0.7-2.2l0.7-9.1l1.3-4.6l2.4-3l7.3-5.1l5.1-7.8l2.1-2l2.4-1.2l14.5-2.4l2.4-1.3l2.1-2.2l1.1-2.3l1-4.6l1.1-34.1l0.7-4.5l0.9-2.3l2.7-3.2l7.3-4.8l4.8-6.2l2.4-1.8l4.8-2.3l3.4-2.2l1.5-2.3l0.7-2.3l0.4-4.5l-0.3-4.6l-1.4-4.5l-1.9-2.3l-2.4-1.4l-2.4-0.7l-9.6-0.4l-4.9 0.6l-2.4 0.9l-1.6 1l-1.9 2.3l-0.8 2.3l-0.8 11.3l-2.1 3.5l-2.4 1.4l-2.4 0.2l-2.4-0.8l-2.4-2.2l-1-2.1l-1-4.5l-1.6-20.5l1.9-45.5M1094.2 873.5l-0.7-15.9l-1.4-6.8l-2.5-3.2l-2.4-1.2l-2.4 0l-2.4 1l-1.1 1.1l-1.2 2.3l-0.4 2.2l1.1 20.5M1284.1 873.5l-0.5-18.2l2.5-11.4l0.2-6.8l-1.8-20.5l-1.2-20.5l-2.9-13.6l0-11.4l-0.8-2.3l-1.9-2.1l-2.4-0.9l-2.4 0.1l-2.4 1.1l-2.4 2.2l-3.3 4.2l-6.4 5.8l-1.9 3.3l-1 4.5l-1 16l-2.5 11.3l-1.1 11.4l-0.7 2.3l-1.5 2.3l-2.3 1.6l-4.8 1.5l-9.7 0.4l-2.4-0.6l-2.4-1.4l-2.4-3l-1.5-3.1l-2.2-6.8l-0.8-4.6l-2.3-27.3l0.3-13.6l0.8-4.6l2.2-6.8l0.2-2.3l-0.5-2.3l-1.6-2.2l-6.8-4.6l-1.9-2.3l-1.1-2.2l-0.6-4.6l0.3-15.9l-0.4-4.6l-2-4.5l-2-2.3l-5.4-4.6l-2-2.2l-1.2-2.3l-2-11.4l-4-11.4l-1.1-4.5l-0.4-6.8l0.5-6.9l0.9-4.5l4.4-13.7l0.8-15.9M1361.4 873.5l-0.5-18.2l-4.8-15.9l-1.4-18.2l-1-6.9l-1.2-3.3l-2.4-3.3l-7.3-5.3l-2.9-4l-0.7-2.3l-0.5-4.5l0.3-16l-0.5-4.5l-0.9-2.3l-1.8-2.3l-6.3-4.5l-1.8-2.3l-0.8-2.3l-1.8-47.8l-0.6-4.5l-2.4-4.6l-6.6-6.8l-2.3-4.5l-0.4-4.6l0-15.9l-0.9-4.6l-1.3-2.3l-1.5-1.5l-8.3-5.3l-2-2.3l-1.2-2.2l-1.4-6.9l-0.6-13.6M1412.9 873.5l0-27.3l-0.3-4.5l-0.8-2.3l-1.7-2.3l-7-4.2l-2.4-2l-4.8-6l-2.4-1.4l-2.4-0.3l-2.4 0.6l-2.5 1.9l-1.8 4.6l-0.7 9.1l-3 9.1l-0.9 4.5l-0.3 20.5M1456 873.5l-0.3-18.2l-2.5-38.7l-0.5-15.9l0.9-4.6l1.4-2.2l2.8-2.3l5.6-3l1.7-1.6l1.2-2.2l0.7-4.6l0.3-25l-1.5-2l-7.2 1.2l-2.4 1.3l-2 1.7l-2.8 3.7l-2.5 2.3l-2.4 1l-2.4 0.1l-2.4-0.8l-1.9-1.7l-1.2-2.3l-0.7-4.5l-0.1-6.9l-0.9-4.5l-2.4-3.5l-7.3-5.4l-1.5-2.5l-0.7-2.3l-0.3-4.5l0.5-56.9l-0.4-4.3l-0.9-2.6l-1.6-2.2l-7.4-4.6l-2.5-2.3l-1.5-2.2l-0.7-2.3l-0.6-4.6l0-13.6M1542.7 873.5l0.1-25l-1.6-43.3l0.4-6.8l0.9-2.3l1.8-2.2l8.3-5.1l4.9-6.6l2.4-2.2l7.2-4.1l5.6-7.1l1.6-1.3l2.4-1l4.9-0.6l4.5 0.6l0.3 2.3l-0.6 41l1.1 29.6l-1.9 34.1M1643.5 873.5l0.6-29.6l-0.7-6.8l-1-2.3l-2.2-2.3l-7.7-4.5l-5.1-6l-9.4-5.4l-1.5-2.3l-0.6-2.2l1-38.7l-0.3-9.1l-1.3-5.7l-2.4-3.1l-2.4-1.1l-2.4 0.1l-2.4 1.2l-4.8 6.1l-3.3 2.5l-1.6 0.7l-4.8 0.6l-2.4 0l-1.8-1.3l1.1-20.5l-0.1-11.4l-3-34.1l-1.6-6.9l-1.4-2.2l-2.8-2.3l-7.3-4.3l-5.3-7.1l-1.9-1.7l-7.2-4.7l-7.3-8.7l-2.4-1.2l-2.4-0.2l-2.4 0.9l-1.7 1.9l-1.2 4.6l3.8 54.6l-0.5 13.7l-1.7 9.1l-1.2 2.3l-2.2 2.2l-7.4 4.3l-2.5 2.6l-1.9 4.5l-1.3 9.1l-1.5 3.5l-2.4 2.6l-5 3l-2.7 2.3l-4.2 6.8l-2.2 2.3l-2.8 1.5l-2.4 0.7l-9.7 1.2l-3 1.2l-2.8 2.2l-3.8 6.6l-2.4 2.4l-8.4 4.7l-1.6 2.3l-0.7 2.2l-0.3 4.6l1.1 18.2l1.1 4.6l1 2.2l1.8 2.3l8.4 5.8l2.4 3.3l1.2 4.6l0.3 13.6M1200.6 662.6l2.4 3.2l2.3 9.7l0.1 2.3l-0.9 2.3l-1.5 1.2l-2.4-0.1l-2.5-2.5l-0.9-3.2l-0.1-4.5l1-6.3zM1272.9 672.4l2.4 0.2l2.8 2.9l1.2 4.6l0.2 6.8l-2.1 43.2l-1.5 4.6l-0.6 0.7l-2.4 0.9l-2.4-0.8l-2.4-3.1l-0.8-6.8l1.2-27.3l0.3-18.2l0.9-4.6l0.8-1.3zM1041.4 698.4l2.4 0.7l1.6 1.4l1.3 2.3l0.7 4.6l-0.1 4.5l-1.1 3.4l-2.4 3.1l-2.4 1.3l-2.4 0.3l-2.4-1l-1.5-2.5l-0.7-4.6l0.1-4.5l1-4.6l1.1-1.9l2.4-2zM1212.3 702.8l2.7-1l2.7 1l2.3 2.3l0.9 2.3l-0.5 2.2l-0.5 0.6l-2.5 0.7l-3-1.3l-2.1-2.2l-0.6-2.3zM1186.1 742.1l2.4 1.7l0.8 2.3l0.7 4.5l-0.3 6.8l-1.2 4.7l-2.4 2.3l-2.4 0.1l-2.4-2.4l-0.8-2.4l-0.2-9.1l0.9-4.5l2.5-3.4zM1231.9 768.4l2.8 0.4l2 1.8l3.9 5l5 4.6l1.1 2.3l0.5 2.3l0.3 6.8l-0.3 6.8l-1.4 4.6l-1.8 2.8l-3.9 4l-4.8 6.8l-1 0.9l-2.4 0.5l-2.4-1.5l-1-2.2l-1.2-4.5l-1.5-25l0.4-6.9l0.8-4.5l2.5-3.7zM1301.8 791l2.5 0.4l2.4 1.9l1.2 2.8l2.5 36.4l0 4.6l-1.2 4.6l-2.5 2.4l-2.4 0.5l-2.5-0.5l-2.4-1.6l-2.4-4.2l-1-5.8l-1.9-22.7l-0.1-9.1l1-4.6l2-3l2.4-1.6z" fill="none" stroke="#111" stroke-width="0.8"/>
<path d="M1169.4 853.3h0M1204.1 668.2h0M1221.5 705.2h0M1238.9 649.7h0M1238.9 655.9h0M1238.9 662.0h0M1238.9 668.2h0M1238.9 674.4h0M1238.9 680.6h0M1238.9 773.1h0M1238.9 779.3h0M1238.9 785.4h0M1238.9 791.6h0M1238.9 797.8h0M1238.9 804.0h0M1273.6 674.4h0M1273.6 680.6h0M1273.6 686.7h0M1273.6 692.9h0M1273.6 699.1h0M1273.6 705.2h0M1273.6 711.4h0M1273.6 717.6h0M1273.6 723.7h0M1273.6 797.8h0M1273.6 804.0h0M1273.6 810.1h0M1273.6 816.3h0M1273.6 822.5h0M1273.6 828.6h0M1273.6 834.8h0M1273.6 841.0h0M1273.6 847.1h0M1308.3 699.1h0M1308.3 705.2h0M1308.3 711.4h0M1308.3 717.6h0M1308.3 723.7h0M1308.3 729.9h0M1308.3 736.1h0M1308.3 804.0h0M1308.3 810.1h0M1308.3 816.3h0M1308.3 822.5h0M1308.3 828.6h0M1308.3 834.8h0" stroke="#000" stroke-width="3.9" stroke-linecap="round" fill="none"/>
</g>
<rect x="977.5" y="642.5" width="694.5" height="218.5" fill="none" stroke="#000" stroke-width="1.6"/>
<line x1="1133.5" y1="861.0" x2="1133.5" y2="868.0" stroke="#000" stroke-width="1.6" />
<line x1="1133.5" y1="635.5" x2="1133.5" y2="642.5" stroke="#000" stroke-width="1.6" />
<text x="1133.5" y="902.7" font-size="28" text-anchor="middle" fill="#000" >30 Jun</text>
<line x1="1307.5" y1="861.0" x2="1307.5" y2="868.0" stroke="#000" stroke-width="1.6" />
<line x1="1307.5" y1="635.5" x2="1307.5" y2="642.5" stroke="#000" stroke-width="1.6" />
<text x="1307.5" y="902.7" font-size="28" text-anchor="middle" fill="#000" >31 Jul</text>
<line x1="1481.0" y1="861.0" x2="1481.0" y2="868.0" stroke="#000" stroke-width="1.6" />
<line x1="1481.0" y1="635.5" x2="1481.0" y2="642.5" stroke="#000" stroke-width="1.6" />
<text x="1481.0" y="902.7" font-size="28" text-anchor="middle" fill="#000" >31 Aug</text>
<line x1="1654.0" y1="861.0" x2="1654.0" y2="868.0" stroke="#000" stroke-width="1.6" />
<line x1="1654.0" y1="635.5" x2="1654.0" y2="642.5" stroke="#000" stroke-width="1.6" />
<text x="1654.0" y="902.7" font-size="28" text-anchor="middle" fill="#000" >30 Sep</text>
<line x1="970.5" y1="676.5" x2="977.5" y2="676.5" stroke="#000" stroke-width="1.6" />
<line x1="1672.0" y1="676.5" x2="1679.0" y2="676.5" stroke="#000" stroke-width="1.6" />
<text x="962.3" y="686.5" font-size="28" text-anchor="end" fill="#000" >120°E</text>
<line x1="970.5" y1="714.0" x2="977.5" y2="714.0" stroke="#000" stroke-width="1.6" />
<line x1="1672.0" y1="714.0" x2="1679.0" y2="714.0" stroke="#000" stroke-width="1.6" />
<text x="962.3" y="724.0" font-size="28" text-anchor="end" fill="#000" >60°E</text>
<line x1="970.5" y1="751.5" x2="977.5" y2="751.5" stroke="#000" stroke-width="1.6" />
<line x1="1672.0" y1="751.5" x2="1679.0" y2="751.5" stroke="#000" stroke-width="1.6" />
<text x="962.2" y="761.5" font-size="28" text-anchor="end" fill="#000" >0</text>
<line x1="970.5" y1="789.0" x2="977.5" y2="789.0" stroke="#000" stroke-width="1.6" />
<line x1="1672.0" y1="789.0" x2="1679.0" y2="789.0" stroke="#000" stroke-width="1.6" />
<text x="960.5" y="799.0" font-size="28" text-anchor="end" fill="#000" >60°W</text>
<line x1="970.5" y1="826.5" x2="977.5" y2="826.5" stroke="#000" stroke-width="1.6" />
<line x1="1672.0" y1="826.5" x2="1679.0" y2="826.5" stroke="#000" stroke-width="1.6" />
<text x="960.5" y="836.5" font-size="28" text-anchor="end" fill="#000" >120°W</text>
<text x="922.0" y="658.0" font-size="28" text-anchor="start" fill="#000" >(f)</text>
<clipPath id="clipg"><rect x="96.5" y="1016" width="693.0" height="213.5"/></clipPath>
<rect x="96.5" y="1013.5" width="693.0" height="218.5" fill="#fff"/>
<g clip-path="url(#clipg)">
<rect x="96.5" y="1016" width="693.0" height="213.5" fill="#b4ebf8"/>
<path d="M412 1061.6l1.9-2.2l3.8-1.3l2.4 0.1l3.7 1.2l3.6 2.2l4.8 4.2l3.6 2.5l4.7 2.2l8.5 3l2.3 1.4l1.4 2.3l0.3 2.2l-0.5 2.2l-1.1 2l-6.2 6.9l-2.8 2.2l-3 1.1l-2.4 0.2l-2.4-0.2l-3.4-1.1l-13.5-8.9l-4.1-4.4l-1.1-2.2l-1.2-4.5l-0.2-6.7zM111.7 1072.7l2.8-3.2l2.5-1l4.8-0.1l9.6 2.1l4.8 1.6l2.4 2l1.4 3.1l-0.2 2.2l-1.4 2.2l-2.2 1.7l-2.4 0.9l-7.2 0.7l-7.2-0.8l-4.5-2.5l-2.1-2.2l-1.2-2.2l-0.3-2.3zM473.8 1123.9l1.7-1.1l2.4-0.5l2.4 0.3l2.4 1.1l2.4 2.1l1.6 2.5l0.6 2.2l-0.4 2.3l-1.6 2.2l-2.6 1.2l-2.4-0.1l-2.4-1.1l-2.8-2.2l-1.8-2.3l-1-2.2l0.1-2.2z" fill="#2c5a92" fill-rule="evenodd"/>
<path d="M126.5 1034.9l0.9-2.2l1.6-1.8l4.8-3.3l1.7-1.6l1.5-2.2l1-4.5l0.3-15.5l54.5 0l0.5 15.5l2.2 13.4l-0.6 2.2l-2.6 2.2l-5.6 1.1l-14.4 0.2l-16.8 3l-19.3 0.3l-4.8-0.7l-2.4-1.1l-2.2-2.8zM311.2 1003.8l67.6 0l-0.1 15.5l-0.7 4.5l-1.2 2.4l-2.4 1.6l-2.4 0.6l-21.6 0.8l-4.9 0.9l-2.4 1.3l-7.2 7.9l-2.4 1.5l-4.8 1.1l-7.2-0.5l-4.5-2l-2.5-2.3l-2.3-4.4l-0.7-6.7zM470.9 1003.8l14.9 0l0.3 13.3l-0.3 4.5l-0.7 2.2l-2.4 2.6l-2.4 0.9l-2.4-0.2l-2.4-1.2l-2.4-3.2l-1.5-5.6zM674.1 1003.8l15.7 0l-0.7 11.1l-1 6.7l-0.9 2.2l-1.7 2.2l-3.1 1.8l-2.4 0.3l-2.4-0.6l-2.1-1.5l-1.3-2.2l-0.7-4.5zM314.6 1061.6l2.1-2.9l2.4-1.9l2.4-1.1l4.8-0.7l4.8 0.2l19.3 4.1l9.6 6.1l2.4 0.5l2.4-0.2l2.4-1.1l7.2-5.7l4.8-1.7l9.7-2.2l4.8-2l5.2-4.8l2-1.3l2.4-0.9l3.3 0l3.9 1.2l14.5 6.6l10.1 5.6l8.6 6.6l9.8 4.5l2.6 2.2l2 4.5l0.5 4.4l0 6.7l0.3 2.2l0.9 2.2l2.1 2.3l7 4.4l6.6 8.1l7.2 4.3l2.4 2.1l4.9 5.5l6.8 6.7l2.7 4.4l1.8 13.4l1.1 2.2l1.8 2.2l5 4.1l2.2 2.6l0.9 2.2l-0.2 2.2l-1.7 2.3l-1.2 0.7l-4.8 1.1l-16.9-0.6l-1.8 1l-0.9 4.4l-2.1 3.6l-2.4 1.8l-2.4 0.9l-4.8 0.4l-14.5-0.7l-1.7-1.5l0.3-2.2l2-4.5l2.4-2.2l1.9-0.8l4.8-0.9l16.8 0.8l0.6-1.3l-0.1-4.5l-1.6-4.4l-6.1-6.5l-4.5-6.9l-2.7-2.8l-8.7-6.1l-2.2-2.2l-1.7-4.4l-1.4-8.9l-1.2-2.3l-2.4-2.2l-6.5-3.8l-6.3-5.1l-22.6-8.8l-4-2.3l-7.5-6.7l-3.9-4.4l-4.8-6.7l-1.4-1.6l-2.4-1.5l-2.4-0.4l-2.4 0.6l-2.4 1.8l-4.9 5.7l-2.4 1.9l-2.4 1l-4.8 0.6l-33.7 0.2l-16.8-3.5l-5.3-2.6l-1.7-2.2l-0.7-2.2l-0.3-4.5zM412 1061.6l-0.9 4.4l0.2 6.7l1.2 4.5l1.1 2.2l4.1 4.4l13.5 8.9l3.4 1.1l2.4 0.2l2.4-0.2l3-1.1l2.8-2.2l6.2-6.9l1.1-2l0.5-2.2l-0.3-2.2l-1.4-2.3l-2.3-1.4l-8.5-3l-4.7-2.2l-3.6-2.5l-4.8-4.2l-3.6-2.2l-3.7-1.2l-2.4-0.1l-3.8 1.3zM473.8 1123.9l-1.4 2.2l-0.1 2.2l1 2.2l1.8 2.3l2.8 2.2l2.4 1.1l2.4 0.1l2.6-1.2l1.6-2.2l0.4-2.3l-0.6-2.2l-1.6-2.5l-2.4-2.1l-2.4-1.1l-2.4-0.3l-2.4 0.5zM83.3 1055.6l31.2 0.2l4.9 0.6l2.4 1l5.5 4.2l4.1 2.1l9.6 2.5l4.9 2.1l3.3 2.2l1.4 1.5l1.7 2.9l0.7 2.3l0.8 8.9l-0.5 4.4l-1 2.2l-2.4 2.3l-4.1 1.3l-16.8 0.1l-9.6-0.6l-4.9-1.9l-7.2-7.6l-4.8-2.8l-4.8-0.7l-14.4-0.1zM111.7 1072.7l-0.4 2.2l0.3 2.3l1.2 2.2l2.1 2.2l4.5 2.5l7.2 0.8l7.2-0.7l2.4-0.9l2.2-1.7l1.4-2.2l0.2-2.2l-1.4-3.1l-2.4-2l-4.8-1.6l-9.6-2.1l-4.8 0.1l-2.5 1zM548.6 1059.4l4.1-2.3l4.6-0.6l4.8-0.1l4.8 1l2.4 1.4l2.4 2.2l4.1 5l4.8 4.5l1.4 2.2l0.8 4.5l-0.2 4.4l-0.9 6.7l-1.1 2.2l-1.6 1.5l-2.5-0.4l-2.4-2l-4.8-5.7l-5.7-4.5l-6.3-7l-7.1-4.1l-2.4-2.3l-0.9-2.2l0.2-2.2zM676.6 1072.7l1-1.4l2.4-1l2.4 0.4l1.9 2l-1.1 2.2l-3.2 0.7l-2.5-0.7zM228.1 1074.9l1.9-2.5l2.5-0.9l2.4-0.1l2.7 1.3l1.3 2.2l0.1 2.3l-1.7 2.7l-2.4 1.1l-2.4 0l-3.3-1.6l-1.2-2.2zM83.3 1137.2l0-27.5l31.2-0.2l14.5 0.5l4.8 1.2l2.4 1.5l1.5 2.3l0.5 2.2l-0.5 2.2l-1.5 2.1l-7.7 4.6l-2.3 2.2l-3.3 4.5l-3.5 2.5l-2.4 0.7l-4.9 0.5zM333.9 1117.2l0.9-2.2l1.1-1.1l2.4-1.1l7.2-0.2l4.9 1l3 1.4l6.6 5.9l2.4 1.4l4.8 0.8l9.6 0l3.6 0.8l2.9 2.2l0.7 2.2l-0.4 2.2l-2 2.8l-7.9 6.1l-4.1 5.9l-2.4 2.3l-2.4 1.1l-2.4 0.1l-2.4-0.7l-2.4-2l-4.8-6.1l-6.6-5l-2.1-2.2l-4.8-6.7l-4.1-4.5l-1.1-2.2zM426.3 1115l1.4 2.2l0.5 2.2l0.4 6.7l-1.1 4.4l-2.5 2.5l-4.9 1.4l-9.6-0.3l-4.8-1.1l-3.1-2.5l-0.8-2.2l0.2-2.2l1.4-2.2l7.1-4.5l5.4-4.4l4.2-1.8l2.4 0l2.5 0.8zM665.6 1138.9l2.4-0.3l1.3 0.8l1.1 1.8l-0.6 2.7l-1.8 1.2l-2.4-0.5l-0.6-0.7l-0.6-2.2zM692 1150.1l2.5-0.8l2.4 0.3l2.4 1.2l7.2 7.3l7.2 5.6l2.4 2.8l1.1 1.8l1.1 4.5l-0.2 6.7l-1.6 4.4l-2.7 2.2l-2.5 0.2l-2.4-1l-2.4-2.1l-4.9-6l-7.1-5.6l-3.2-3.3l-1.9-4.4l-0.5-6.7l0.9-4.4zM345.7 1166.1l4.7-1.7l7.2-0.7l4.8 0l4.8 1.1l2.4 1.8l4.8 5.9l7.5 4.7l1.4 2.3l0.4 2.2l-0.5 2.2l-1.6 2.4l-7.2 4.9l-4.9 6.1l-2.3 2l-2.4 0.9l-2.4 0.1l-2.4-0.9l-2.3-2.1l-2.9-4.5l-6.6-6.7l-1.2-2.2l-3.5-11.1l-0.3-2.2l0.5-2.3zM455.1 1175l0.4 2.2l-0.5 2.3l-2.6 4.4l-7.2 6.7l-5.8 6.2l-2.4 1.1l-2.4 0.2l-2.8-0.8l-2-2l-1.6-4.7l0-6.7l1.5-4.4l2.2-2.3l2.7-1.4l4.8-0.9l9.6-0.3z" fill="#6b9fcf" fill-rule="evenodd"/>
<path d="M170 1050.5l0.9-2.3l1.4-0.8l4.8-1.5l16.9-0.5l14.4-2.4l26.5-0.5l4.8-0.7l0-2.4l-0.9-2.3l-2.2-2.2l-1.7-0.8l-4.9-1.1l-9.6-0.3l-7.2-0.9l-4.8-1.6l-3-2l-1.9-2.2l-1.8-4.4l-0.6-4.5l-0.3-13.3l11 0l0.3 11.1l0.6 4.4l1.1 2.3l2.7 2.2l3.9 1.1l14.5 0.5l16.8 3l2.5-0.2l0.8-2.2l0.4-22.2l42.8 0l-0.5 24.4l0.4 6.7l0.8 2.2l1.5 2.3l6.6 5l1.6 1.6l1 2.2l-0.6 2.3l-2 2.2l-4.8 2l-16.8 1l-19.3 0.1l-4.8-1l-2.4-1.3l-7.2-7.4l-2.4-1.6l-2.4-1l-4.8-0.5l-1.2 0.8l-1.5 6.7l-1.4 2.2l-3.1 2.2l-4.9 1.1l-7.2 0.6l-4.8 0.9l-2.4 1l-2.4 1.7l-4.6 5.8l-2.6 2.3l-4.8 1.8l-4.8 0.3l-7.3-0.6l-2.4-0.7l-2.4-1.6l-2.4-3l-3.1-5.1l-7.9-6.7zM256.5 1029.6l-0.5 0.9l0.1 2.2l0.7 2.2l2.1 3l2.4 1.7l2.4 0.3l2.4-1.2l1.1-1.6l0.3-2.2l-1.4-2.8l-2.4-1.7l-2.4-0.7zM386.2 1003.8l25.6 0l-0.5 26.7l-0.3 2.2l-1 2.2l-1.9 1.4l-2.4 0.8l-2.4-0.1l-2.4-0.7l-2.5-1.4l-10-8.9l-1.1-2.2l-0.9-4.5zM514.4 1003.8l44.1 0l1.1 28.9l-0.8 4.4l-1.2 2.3l-2.8 2.2l-2.3 0.9l-4.8 0.6l-9.7-0.5l-2.4-0.7l-2.4-1.4l-2.4-2.6l-3.6-5.2l-2.8-2.2l-5.6-3.5l-2.6-3.2l-0.8-2.2l-0.7-4.5zM605.6 1003.8l-1.2 26.7l-1.4 6.6l-2.4 3.3l-8.6 5.6l-5.8 6.7l-2.4 1.3l-2.4 0l-2.4-1l-2.6-2.5l-1.1-2.3l-0.8-4.4l1-40zM733.1 1063.8l-1.2-4.4l-0.3-6.7l1.1-48.9l70 0l0 25.9l-16.8-0.1l-4.8 0.7l-2.4 1l-2.4 2l-1.7 3.8l-0.2 8.9l-1 4.5l-1.9 2.5l-2.5 1.3l-2.4 0.2l-2.4-0.7l-3.1-3.3l-1.2-4.5l-1-8.9l-1.9-4.2l-2.4-1.8l-2.4-0.6l-2.4 0.6l-2.4 2.3l-1.4 3.7l-0.4 28.9l-0.6 3.1l-2.4 0.1l-4.8-1.2l-2.4-1.5zM380.9 1046l-1.1 2.2l-3 1.5l-11.4 3l-3 0.4l-4.8-0.4l-9.6-2.1l-3.1-2.4l0.1-2.2l2.1-2.2l3.3-1.3l4.8-0.6l19.2-0.2l4.8 1.6zM431.2 1046l3.1-2.2l2.7-0.6l9.6-0.3l4.8 0.8l4.1 2.3l5 6.7l3 1.9l4.8 1l9.6 0.6l2.4 0.7l2.4 1.5l2.5 3.2l3 8.9l0.7 6.7l-0.3 2.2l-1.1 2.7l-2.4 2.8l-4.8 2l-4.8-0.1l-4.8-1.1l-2.4-1.2l-2.9-2.9l-3.1-8.9l-2.6-4.4l-3.5-2.6l-7.2-3.4l-7.2-7.2l-8.6-4.6l-2-2.3zM680 1043.8l4 2.2l1.2 2.2l-0.1 2.3l-1.4 2.2l-3.7 2.1l-2.4 0.6l-21.6 1.3l-4.9 0.8l-2.4 1l-3.1 3.1l-1.4 4.4l-0.5 15.6l-2.2 0.9l-9.6 0.2l-2.3 1.1l0.7 15.6l1.1 4.4l2.9 3.7l7.2 4.7l2 2.8l0.7 2.2l0.4 8.9l0.9 4.4l1.3 2.3l4.7 4.4l2 3.5l4.3 18.7l0 2.3l-1.8 1l-12.1 0.4l-7.2-0.9l-2.4-1l-2.3-1.8l-1.6-2.2l-1.3-4.4l-0.6-11.1l-1.4-3.2l-2.4-2.3l-5.9-3.4l-6.2-7.4l-7.2-3.9l-2.3-2.1l-1.3-2.2l-0.9-4.5l-0.5-6.6l-1.1-4.5l-1.4-2.2l-4.8-4.4l-1.6-2.3l-0.9-2.2l-0.2-8.9l1.1-6.7l1.9-3.1l2.4-1.4l4.8-0.7l7.2 0.6l2.4 0.8l2.4 1.6l4.9 6.5l2.4 1.7l2.4 0.9l4.8 0.6l2.1-0.8l1.2-24.5l0.9-6.6l0.8-2.3l2.2-2.9l2.4-1.4l4.8-0.8l33.7 0.1zM516 1061.6l2.8-2.6l2.4-0.4l2.4 0.5l2.7 2.5l0.5 2.2l-0.6 2.2l-2.6 2.3l-2.4 0.5l-2.4-0.5l-2.5-2.3l-0.7-2.2zM706.5 1057.9l2.4-0.6l2.4 0.2l2.4 1.2l2.4 2.9l0.7 2.2l0.5 6.7l-0.7 4.4l-1.4 2.3l-1.5 1.2l-2.4 0.7l-2.4-0.2l-2.4-1l-2.4-2.7l-0.9-2.5l-0.6-6.7l0.6-4.4l1.3-2.2zM747.1 1070.5l5.1 0.8l2.9 1.4l1.9 2.2l0.5 2.3l-0.5 2.2l-2.3 2.2l-2.5 0.4l-1.5-0.4l-2.8-2.2l-1.6-4.5l-0.1-2.2zM421.3 1101.6l0.7 2.2l-1.9 0.9l-12 3.4l-7.2 0.8l-31.3 0.2l-4.8-0.5l-12-3.2l-4.8-0.7l-9.7-0.3l-4.8 0.8l-2.4 1l-2.7 2.1l-1.8 2.2l-2.7 5.5l-2.6 3.4l-2.2 1.2l-2.4 0.5l-9.7 0.6l-4.8 1.6l-3.3 2.8l-3.9 5l-2.4 2.3l-4.8 2.2l-4.8 0.8l-19.3 1.4l-9.6-0.1l-4.8-0.6l-4.8-2.2l-2.2-2.1l-4.7-6.7l-2.7-2l-2.4-1.1l-4.9-0.9l-4.8-0.3l-4.8 0.6l-2.6 1.5l-1.7 2.2l-1 4.4l0.5 8.9l1.2 4.5l1.4 2.2l2.2 2.1l6.5 4.6l4.9 6.6l3.1 2.5l2.4 0.5l2.8-0.7l2-1.6l4.8-6.7l2.4-1.5l2.4-0.7l36.1-0.9l4.8 1.1l2.4 1.8l1.1 1.8l0.3 2.2l-0.5 2.2l-1.7 2.3l-6.2 4.4l-1.6 2.2l-1.1 4.5l0.1 6.7l-0.5 4.4l-1.9 3.1l-7.8 5.8l-1.9 4.5l-0.3 4.4l0.4 0.5l2.4 0.4l52.9-0.3l1.4 1.6l-0.5 4.5l-0.8 2.2l-1.6 2.2l-2.9 2.2l-5.2 1.6l-12.1 1.7l-2.4 1.2l-2.4 2.1l-1.4 2.3l-1.1 4.5l-0.7 13.3l-57.5 0l-0.2-13.3l-0.5-2.2l-1.2-2.3l-2.3-2l-4.9-1.9l-12-3l-9.6-0.9l-4.8 0.5l-2.4 0.8l-3.1 2.1l-1.9 2.2l-1.1 2.2l-0.7 4.5l0.1 13.3l-15.7 0l0.4-15.5l1-4.5l1.3-2.2l2.1-2.2l6.1-4.5l6.7-6.7l9.6-5.7l2.1-3.1l0-2.3l-1.4-2.2l-7-4.4l-5.7-7.8l-2.5-1.4l-2.4-0.6l-19.2-1.3l-0.9 2.2l-2.8 26.6l-1.3 4.5l-2.2 2.9l-2.4 1.5l-2.4 0.8l-9.7 0.2l-4.8-1.3l-2.4-1.9l-1.4-2.2l-0.9-4.5l0-4.4l0.5-4.4l1.8-4.8l2.4-2.4l7.4-4l7.1-7.2l4.8-1.6l4.8-0.1l1.6-2.2l-0.5-4.4l-1.1-2.7l-2.4-2.6l-7.2-5.1l-3.9-5.2l-2.3-2.2l-7.3-4.5l-1.8-2.2l-0.5-2.2l0.7-2.2l2.7-2.3l2.7-0.9l9.7-0.9l4.8-1l2.4-1.2l2.4-2.4l1.2-2.5l0.9-4.4l0.6-17.8l0.7-4.5l0.9-2.2l2.1-2.2l3.2-1.5l7.2-1l31.3-1.1l16.9 0.3l26.4 1.6l14.5-0.3l4.8-1.2l2.4-1.3l2.1-2.2l4.6-6.6l2.9-2l4.8-1.4l7.2-0.5l4.8 0.4l14.5 2.9l4.8 2.2l7.2 5.5l4.8 1.3l38.5 0.6l4.8-1.4l2.4-2l4.9-5.5l2.4-1l2.4 0.3l2.4 1.7l6.9 7.8l2.7 1.6zM228 1208.4l1.5 2.2l5.3 2.2l14.5 3.7l9.6 0.2l4.8-1.1l3.6-2.8l2-4.4l0.6-4.5l-1.4-0.9l-33.6 0.5l-4.9 1.6l-1.3 1zM258.2 1115l-1.3 2.2l0 2.2l2 2.7l2.4 0.8l2.4-0.3l2.4-1.9l0.8-1.3l0.2-2.2l-1-2.3l-2.4-1.4l-2.4-0.1zM531.1 1095l0.3-4.5l1.8-3.7l2.4-1.9l4.9-1.6l7.2-0.4l4.8 0.8l3.4 2.4l1.6 2.2l0.8 2.2l0.2 2.2l-1.2 1.9l-24.1 1.1zM644.1 1083.8l2.2-1.1l19.3 0.1l16.8 3l2.6 2.5l-0.5 2.2l-2.1 2l-4.8 1.8l-14.4 1.3l-9.7-0.1l-2.5-0.5l-3.6-2.3l-1.7-2.2l-0.8-2.2zM777.3 1099.4l3.8-2.7l4.8-1.2l16.8-1.1l0 26.9l-16.8 0.5l-4.8-1l-2.3-1.4l-1.8-2.2l-0.9-2.2l-1-6.7l0.2-4.5l0.6-2.2zM530.3 1097.2l0.1 8.9l-0.6 6.6l-1.4 4l-2.3 2.7l-4.9 2.2l-7.2 0.8l-4.8-0.5l-2.4-0.9l-2.2-1.6l-1.5-2.2l-0.2-2.2l1-2.3l9.4-6.6l5.4-6.7l2.5-1.5l4.8-1.3l2.4-0.2zM559.7 1096.4l2.4-0.7l2.4 0.6l2.4 1.3l1.6 1.8l1 2.2l-0.4 2.2l-2.2 2.1l-2.4 0.3l-2.4-1.1l-1.2-1.3l-1.1-2.2l-0.3-2.2zM706.5 1096.3l2.4-0.9l2.4 0l2.4 1l2.4 2.3l3.5 5.1l3.7 3.2l4.8 1.6l9.7 1.4l2.4 0.8l3.1 1.9l1.7 2.4l0.4 2.1l-0.6 2.2l-2 2.2l-5 3l-1.8 1.5l-1.1 2.2l-0.1 2.2l1.1 2.3l1.9 1.6l2.4 1.2l7.2 1l12 0.3l43.3-1.3l0 106.1l-56.4 0l0.4-13.3l1.3-6.7l1.2-2.2l2.3-2.2l5.5-3.6l2.4-2.2l4.8-6l2.4-1.7l7.3-3.8l2.4-2.7l0.8-2.3l0.5-4.4l-0.8-6.7l-1-2.2l-1.9-2.2l-8-4.5l-2.3-2.2l-3.4-4.5l-3.2-2.5l-4.8-1.5l-21.7-1.9l-4.8-1.6l-4.7-3.6l-5.6-6.7l-8.7-6.6l-1.9-2.2l-1.2-2.3l-1-4.4l-0.5-13.4l0.2-13.3l0.7-6.7l1.1-2.7zM517.8 1139.4l3.4-2.5l4.8-1l16.9-0.1l7.2 0.8l2.4 0.9l2.4 1.5l5.4 7.1l2.4 2.2l4.2 1.7l4.8 0.2l4.8-0.4l4.9-1.5l2.7-2.2l5.2-6.7l1.7-1l2.4-0.6l2.4 0.2l2.6 1.4l4.6 5.4l8.6 5.7l1.1 2.3l0 2.2l-1.1 2.2l-3.8 2.6l-12 1.7l-4.8 2l-2.2 2.6l-0.4 2.2l0.4 2.3l2.2 2.7l5.4 3.9l1.9 2.3l3.6 6.6l2.4 2.3l5.9 4.2l4.8 6.9l3.1 2.2l4.2 0.6l2.4-0.8l2.3-2l1.7-4.5l1.4-11.1l1.8-3.2l2.4-1.5l2.4-0.2l2.4 0.7l2.4 1.7l5.3 7l1.9 1.7l7.3 4.4l4.8 6.4l2.4 2l4.8 1.3l4.8 0.2l0.5 1.7l-0.3 2.3l-1.4 4.4l-1.8 2.2l-4.2 2.2l-14.5 1.5l-2.4 1l-2.3 2l-1.2 2.2l-0.4 2.3l-0.1 15.5l-30.1 0l-0.8-13.3l-0.9-4.5l-1.1-2.2l-2-2.2l-9.2-5.6l-6-7.8l-6.4-4.4l-1.9-2.2l-3.5-6.7l-7.6-6.7l-1.7-4.4l-0.6-11.1l-0.7-2.3l-1.7-2.2l-1.2-0.8l-2.4-0.6l-2.4 0.4l-2.4 1.7l-1.9 3.8l-0.9 8.9l-1.6 4.4l-2.8 2.6l-2.4 0.6l-2.4-0.3l-2.4-1.6l-1.9-3.5l-0.5-4.5l-0.1-15.5l-0.8-4.5l-1.1-2.2l-2-2.2l-3.3-1.8l-4.8-0.9l-7.2-0.4l-4.8-1.6l-2.5-2l-1.4-2.2l-0.4-2.2zM446.4 1141.7l0.9-2.3l1.7-1.4l2.4-0.8l2.4 0l9.7 2.7l2.4 1.8l0.9 2.2l-0.9 2.8l-2.4 1.4l-4.9 0.6l-4.8-0.2l-2.4-0.5l-3.4-1.9l-1.5-2.2zM328.4 1141.7l2.7-1.9l2.4 0.1l2.9 1.8l1.5 2.2l0.1 2.2l-2.1 2.4l-2.4 0.5l-2.4-0.4l-2.9-2.5l-0.5-2.2zM83.3 1150.7l16.8-0.6l4.8 0.6l3.5 2.1l1.2 2.2l-0.1 2.2l-2.2 3l-4.8 2l-7.2 0.9l-12 0.6zM383.8 1226.2l0.9-4.5l1.3-2.2l2.8-2.2l4.9-2.3l2.4-1.6l2-2.8l0.7-2.2l0.4-4.5l0.1-26.7l0.9-8.9l0.9-2.2l2.2-2.4l2.4-0.9l2.4 0.1l2.4 1.2l1.6 2l0.8 2.2l0.6 22.3l1.1 6.7l1.1 2.2l2 2.2l2.4 1.5l4.9 1.8l7.2 1.4l4.8 0l4.8-0.9l4.8-1.8l4.8-2.6l2.4-2.3l4.5-6l2.7-2.5l4.9-1.9l4.8-0.2l4.8 0.5l4.5 1.9l7.1 8.9l7.6 4.7l7.3 7.9l4.8 2l24 1.3l6.2-0.4l4.4-2.2l3.9-5.3l2.4-2.3l2.4-0.8l2.4 0.3l2.4 1.5l4.4 6.6l2.8 2.3l4.8 1.2l9.6 0.8l2.5 0.9l2.4 1.8l1.2 1.9l1 4.5l0.1 15.5l-99.2 0l-0.4-15.5l-0.7-4.5l-0.7-1.7l-2.1-2.7l-2.7-1.5l-4.8-0.9l-4.8 0.2l-4.8 0.8l-2.8 1.4l-2 2.2l-1.3 4.4l0.2 17.8l-74.2 0zM658.9 1163.9l1.9-0.8l4.8 0.1l2.4 0.5l2.4 1.4l2.4 3.2l0.8 4.5l-0.6 2.2l-5 0.5l-2.4-0.4l-2.4-1l-1.6-1.3l-1.5-2.2l-1.2-4.5zM675.2 1176.3l2.4-0.4l2.4 0.2l2.4 0.7l3.8 2.7l5.8 6.6l8 6.7l1.3 2.2l0.4 2.3l-0.8 2.2l-2.9 2.2l-3.5 1l-20.7 1.2l0.7-26.7zM333.5 1178.9l2.4 1.4l2.1 3.6l2.6 8.9l0.1 2.2l-0.6 2.3l-1.8 2.2l-4.8 1.9l-4.8 0l-0.5-4.1l0.2-13.4l0.6-2.2l1.8-2.2zM83.3 1203.8l28.8-1.8l4.9 0.6l2.7 1.3l2.1 2.2l1 2.3l0.7 4.4l-0.8 28.9l-39.4 0z" fill="#f1d9d2" fill-rule="evenodd"/>
<path d="M211.8 1003.8l43.6 0l-0.4 22.2l-0.8 2.2l-4.9 0l-14.4-2.8l-14.5-0.5l-3.9-1.1l-2.7-2.2l-1.1-2.3l-0.6-4.4zM256.5 1029.6l4.8 0.1l2.4 0.7l2.4 1.7l1.4 2.8l-0.3 2.2l-1.1 1.6l-2.4 1.2l-2.4-0.3l-2.4-1.7l-2.1-3l-0.7-2.2l-0.1-2.2zM256.9 1117.2l2-2.9l2.4-0.9l2.4 0.1l2.5 1.5l0.9 2.2l-0.2 2.2l-1.6 2.2l-1.6 1l-2.4 0.3l-3-1.3l-1.4-2.2zM195.1 1223.9l1.1-2.2l2.6-2.8l2.8-1.6l4.4-1.1l9.6 0.3l16.9 4.3l2.4 1.1l2.3 2l1.2 2.3l0.7 4.4l0 11.1l-44.6 0l-0.1-13.3z" fill="#ea967a" fill-rule="evenodd"/>
<path d="M412 1061.6l-0.9 4.4l0.2 6.7l1.2 4.5l1.1 2.2l4.1 4.4l13.5 8.9l3.4 1.1l2.4 0.2l2.4-0.2l3-1.1l2.8-2.2l6.2-6.9l1.1-2l0.5-2.2l-0.3-2.2l-1.4-2.3l-2.3-1.4l-8.5-3l-4.7-2.2l-3.6-2.5l-4.8-4.2l-3.6-2.2l-3.7-1.2l-2.4-0.1l-3.8 1.3zM111.7 1072.7l-0.4 2.2l0.3 2.3l1.2 2.2l2.1 2.2l4.5 2.5l7.2 0.8l7.2-0.7l2.4-0.9l2.2-1.7l1.4-2.2l0.2-2.2l-1.4-3.1l-2.4-2l-4.8-1.6l-9.6-2.1l-4.8 0.1l-2.5 1zM473.8 1123.9l-1.4 2.2l-0.1 2.2l1 2.2l1.8 2.3l2.8 2.2l2.4 1.1l2.4 0.1l2.6-1.2l1.6-2.2l0.4-2.3l-0.6-2.2l-1.6-2.5l-2.4-2.1l-2.4-1.1l-2.4-0.3l-2.4 0.5zM138.3 1003.8l-0.3 15.5l-1 4.5l-1.5 2.2l-1.7 1.6l-4.8 3.3l-1.6 1.8l-0.9 2.2l0.3 2.2l2.2 2.8l2.4 1.1l2.4 0.5l21.7-0.1l16.8-3l16.8-0.4l3.2-0.9l2.6-2.2l0.6-2.2l-2.2-13.4l-0.5-15.5M311.2 1003.8l0.4 24.4l0.6 4.5l0.8 2.2l1.5 2.2l4.6 3.4l2.4 0.9l4.8 0.6l4.8-0.4l4.7-2.2l5.9-6.7l3.8-2.6l4.9-0.9l21.6-0.8l2.4-0.6l2.4-1.6l1.2-2.4l0.7-4.5l0.1-15.5M470.9 1003.8l0.5 11.1l1.2 6.7l1.1 2.2l1.8 2.1l2.4 1.2l2.4 0.2l2.9-1.3l1.9-2.2l0.7-2.2l0.3-4.5l-0.3-13.3M674.1 1003.8l-0.4 17.8l0.5 2.2l1.3 2.2l2.1 1.5l2.4 0.6l2.4-0.3l2.4-1.2l2.4-2.8l1.7-6.7l0.9-13.3M314.6 1061.6l-1.1 4.4l0.3 4.5l0.7 2.2l1.7 2.2l5.3 2.6l16.8 3.5l33.7-0.2l4.8-0.6l2.4-1l2.4-1.9l4.9-5.7l2.4-1.8l2.4-0.6l2.4 0.4l2.4 1.5l1.4 1.6l4.8 6.7l3.9 4.4l7.5 6.7l4 2.3l22.6 8.8l6.3 5.1l6.5 3.8l2.4 2.2l1.2 2.3l1.4 8.9l1.7 4.4l2.2 2.2l8.7 6.1l2.7 2.8l4.5 6.9l6.1 6.5l1.6 4.4l0.1 4.5l-0.6 1.3l-16.8-0.8l-4.8 0.9l-1.9 0.8l-2.4 2.2l-2 4.5l-0.3 2.2l1.7 1.5l14.5 0.7l4.8-0.4l2.4-0.9l2.4-1.8l2.1-3.6l0.9-4.4l1.8-1l16.9 0.6l4.8-1.1l1.2-0.7l1.7-2.3l0.2-2.2l-0.9-2.2l-2.2-2.6l-5-4.1l-1.8-2.2l-1.1-2.2l-1.8-13.4l-2.7-4.4l-6.8-6.7l-4.9-5.5l-2.4-2.1l-7.2-4.3l-6.6-8.1l-7-4.4l-2.1-2.3l-0.9-2.2l-0.3-2.2l0-6.7l-0.5-4.4l-2-4.5l-2.6-2.2l-9.8-4.5l-8.6-6.6l-10.1-5.6l-14.5-6.6l-3.9-1.2l-3.3 0l-2.4 0.9l-2 1.3l-5.2 4.8l-4.8 2l-9.7 2.2l-4.8 1.7l-7.2 5.7l-2.4 1.1l-2.4 0.2l-2.4-0.5l-9.6-6.1l-19.3-4.1l-4.8-0.2l-4.8 0.7l-2.4 1.1l-2.4 1.9zM548.6 1059.4l-1.5 2.2l-0.2 2.2l0.9 2.2l2.4 2.3l7.1 4.1l6.3 7l5.7 4.5l4.8 5.7l2.4 2l2.5 0.4l1.6-1.5l1.1-2.2l0.9-6.7l0.2-4.4l-0.8-4.5l-1.4-2.2l-4.8-4.5l-4.1-5l-2.4-2.2l-2.4-1.4l-4.8-1l-4.8 0.1l-4.6 0.6zM676.6 1072.7l0.9 2.2l2.5 0.7l3.2-0.7l1.1-2.2l-1.9-2l-2.4-0.4l-2.4 1zM228.1 1074.9l-0.1 2.3l1.2 2.2l3.3 1.6l2.4 0l2.4-1.1l1.7-2.7l-0.1-2.3l-1.3-2.2l-2.7-1.3l-2.4 0.1l-2.5 0.9zM83.3 1082.7l14.4 0.1l4.8 0.7l4.8 2.8l7.2 7.6l4.9 1.9l4.8 0.5l19.2 0.2l4.8-0.8l2.4-1.2l1.7-1.8l1-2.2l0.5-4.4l-0.8-8.9l-1.8-4.5l-2-2.2l-5.8-3.4l-12-3.4l-4.1-2.1l-5.5-4.2l-2.4-1l-4.9-0.6l-31.2-0.2M333.9 1117.2l0.2 2.2l1.1 2.2l4.1 4.5l4.8 6.7l2.1 2.2l6.6 5l4.8 6.1l2.4 2l2.4 0.7l2.4-0.1l2.4-1.1l2.4-2.3l4.1-5.9l7.9-6.1l2-2.8l0.4-2.2l-0.7-2.2l-2.9-2.2l-3.6-0.8l-9.6 0l-4.8-0.8l-2.4-1.4l-6.6-5.9l-3-1.4l-4.9-1l-7.2 0.2l-2.4 1.1l-1.1 1.1zM426.3 1115l-1.3-1l-2.5-0.8l-2.4 0l-4.2 1.8l-5.4 4.4l-7.1 4.5l-1.4 2.2l-0.2 2.2l0.8 2.2l3.1 2.5l4.8 1.1l9.6 0.3l4.9-1.4l2.5-2.5l1.1-4.4l-0.4-6.7l-0.5-2.2zM83.3 1137.2l28.8-0.7l4.9-0.5l2.4-0.7l3.5-2.5l3.3-4.5l2.3-2.2l7.5-4.5l1.7-2.2l0.5-2.2l-0.5-2.2l-1.5-2.3l-2.4-1.5l-4.8-1.2l-14.5-0.5l-31.2 0.2M665.6 1138.9l-1.2 2.8l0.6 2.2l0.6 0.7l2.4 0.5l1.8-1.2l0.6-2.7l-1.1-1.8l-1.3-0.8zM692 1150.1l-2.2 2.7l-0.9 4.4l0.5 6.7l1.9 4.4l3.2 3.3l7.1 5.6l4.9 6l2.4 2.1l2.4 1l2.5-0.2l2.7-2.2l1.6-4.4l0.2-6.7l-1.1-4.5l-1.1-1.8l-2.4-2.8l-7.2-5.6l-7.2-7.3l-2.4-1.2l-2.4-0.3zM345.7 1166.1l-2 2.2l-0.5 2.3l0.3 2.2l3.5 11.1l1.2 2.2l6.6 6.7l2.9 4.5l2.3 2.1l2.4 0.9l2.4-0.1l2.4-0.9l2.3-2l4.9-6.1l7.2-4.9l1.6-2.4l0.5-2.2l-0.4-2.2l-1.4-2.3l-7.5-4.7l-4.8-5.9l-2.4-1.8l-4.8-1.1l-4.8 0l-7.2 0.7zM455.1 1175l-6.1-0.4l-9.6 0.3l-4.8 0.9l-2.7 1.4l-2.2 2.3l-1.5 4.4l0 6.7l1.6 4.7l2 2l2.8 0.8l2.4-0.2l2.4-1.1l5.8-6.2l7.2-6.7l2.6-4.4l0.5-2.3zM298.2 1003.8l-0.5 24.4l0.4 6.7l0.8 2.2l1.5 2.3l8.2 6.6l0.9 2.8l-0.5 1.7l-2 2.2l-4.8 2l-4.8 0.5l-21.6 0.7l-12.1-0.5l-4.8-1.9l-7.2-7.4l-2.4-1.6l-2.4-1l-4.8-0.5l-1.2 0.8l-1.5 6.7l-1.4 2.2l-3.1 2.2l-4.9 1.1l-7.2 0.6l-4.8 0.9l-2.4 1l-2.4 1.7l-4.6 5.8l-2.6 2.3l-4.8 1.8l-4.8 0.3l-7.3-0.6l-2.4-0.7l-2.4-1.6l-2.4-3l-3.1-5.1l-7.9-6.7l-0.9-2.2l0.9-2.3l3.8-1.9l2.4-0.4l16.9-0.5l14.4-2.4l28.9-0.6l2.5-0.8l-0.1-2.2l-0.9-2.3l-2.2-2.2l-1.7-0.8l-4.9-1.1l-9.6-0.3l-7.2-0.9l-4.8-1.6l-3-2l-1.9-2.2l-1.8-4.4l-0.6-4.5l-0.3-13.3M411.8 1003.8l-0.8 28.9l-1 2.2l-1.9 1.4l-2.4 0.8l-2.4-0.1l-2.4-0.7l-2.4-1.4l-10.1-8.9l-1.1-2.2l-0.9-4.5l-0.2-15.5M558.5 1003.8l1.1 26.7l-0.8 6.6l-1.2 2.3l-2.8 2.2l-4.7 1.3l-4.8 0.3l-7.3-0.6l-2.4-0.7l-2.4-1.4l-7.2-8.9l-8.3-5.6l-1.5-2.2l-1.3-4.5l-0.5-15.5M605.6 1003.8l-1.2 26.7l-1.4 6.6l-2.4 3.3l-8.6 5.6l-5.8 6.7l-2.4 1.3l-2.4 0l-2.4-1l-2.5-2.3l-1.2-2.5l-0.6-2.2l-0.2-6.6l1-35.6M802.7 1029.7l-16.8-0.1l-4.8 0.7l-2.4 1l-2.4 2l-1.7 3.8l-0.2 8.9l-1 4.5l-1.9 2.5l-2.5 1.3l-2.4 0.2l-2.4-0.7l-3.1-3.3l-1.2-4.5l-1-8.9l-1.9-4.2l-2.4-1.8l-2.4-0.6l-2.4 0.6l-2.4 2.3l-1.4 3.7l-0.6 31.2l-0.4 0.8l-2.4 0.1l-4.8-1.2l-2.4-1.5l-2.3-2.7l-1.2-4.4l-0.2-15.6l1-40M380.9 1046l-1.1 2.2l-3 1.5l-11.4 3l-3 0.4l-4.8-0.4l-9.6-2.1l-3.1-2.4l0.1-2.2l2.1-2.2l3.3-1.3l4.8-0.6l19.2-0.2l4.8 1.6zM431.2 1046l3.1-2.2l2.7-0.6l9.6-0.3l4.8 0.8l4.1 2.3l5 6.7l3 1.9l4.8 1l9.6 0.6l2.4 0.7l2.4 1.5l2.5 3.2l3 8.9l0.7 6.7l-0.3 2.2l-1.1 2.7l-2.4 2.8l-4.8 2l-4.8-0.1l-4.8-1.1l-2.4-1.2l-2.9-2.9l-3.1-8.9l-2.6-4.4l-3.5-2.6l-7.2-3.4l-7.2-7.2l-8.6-4.6l-2-2.3zM680 1043.8l4 2.2l1.2 2.2l-0.1 2.3l-1.4 2.2l-3.7 2.1l-2.4 0.6l-21.6 1.3l-4.9 0.8l-2.4 1l-3.1 3.1l-1.4 4.4l-0.5 15.6l-2.2 0.9l-9.6 0.2l-2.3 1.1l0.7 15.6l1.1 4.4l2.9 3.7l7.2 4.7l2 2.8l0.7 2.2l0.4 8.9l0.9 4.4l1.3 2.3l4.7 4.4l2 3.5l4.3 18.7l0 2.3l-1.8 1l-12.1 0.4l-7.2-0.9l-2.4-1l-2.3-1.8l-1.6-2.2l-1.3-4.4l-0.6-11.1l-1.4-3.2l-2.4-2.3l-5.9-3.4l-6.2-7.4l-7.2-3.9l-2.3-2.1l-1.3-2.2l-0.9-4.5l-0.5-6.6l-1.1-4.5l-1.4-2.2l-4.8-4.4l-1.6-2.3l-0.9-2.2l-0.2-8.9l1.1-6.7l1.9-3.1l2.4-1.4l4.8-0.7l7.2 0.6l2.4 0.8l2.4 1.6l4.9 6.5l2.4 1.7l2.4 0.9l4.8 0.6l2.1-0.8l1.2-24.5l0.9-6.6l0.8-2.3l2.2-2.9l2.4-1.4l4.8-0.8l33.7 0.1zM516 1061.6l2.8-2.6l2.4-0.4l2.4 0.5l2.7 2.5l0.5 2.2l-0.6 2.2l-2.6 2.3l-2.4 0.5l-2.4-0.5l-2.5-2.3l-0.7-2.2zM706.5 1057.9l2.4-0.6l2.4 0.2l2.4 1.2l2.4 2.9l0.7 2.2l0.5 6.7l-0.7 4.4l-1.4 2.3l-1.5 1.2l-2.4 0.7l-2.4-0.2l-2.4-1l-2.4-2.7l-0.9-2.5l-0.6-6.7l0.6-4.4l1.3-2.2zM747.1 1070.5l5.1 0.8l2.9 1.4l1.9 2.2l0.5 2.3l-0.5 2.2l-2.3 2.2l-2.5 0.4l-1.5-0.4l-2.8-2.2l-1.6-4.5l-0.1-2.2zM531.1 1095l0.3-4.5l1.8-3.7l2.4-1.9l4.9-1.6l7.2-0.4l4.8 0.8l3.4 2.4l1.6 2.2l0.8 2.2l0.2 2.2l-1.2 1.9l-24.1 1.1zM644.1 1083.8l2.2-1.1l19.3 0.1l16.8 3l2.6 2.5l-0.5 2.2l-2.1 2l-4.8 1.8l-14.4 1.3l-9.7-0.1l-2.5-0.5l-3.6-2.3l-1.7-2.2l-0.8-2.2zM530.3 1097.2l0.1 8.9l-0.6 6.6l-1.4 4l-2.3 2.7l-4.9 2.2l-7.2 0.8l-4.8-0.5l-2.4-0.9l-2.2-1.6l-1.5-2.2l-0.2-2.2l1-2.3l9.4-6.6l5.4-6.7l2.5-1.5l4.8-1.3l2.4-0.2zM559.7 1096.4l2.4-0.7l2.4 0.6l2.4 1.3l1.6 1.8l1 2.2l-0.4 2.2l-2.2 2.1l-2.4 0.3l-2.4-1.1l-1.2-1.3l-1.1-2.2l-0.3-2.2zM802.7 1121.3l-16.8 0.5l-4.8-1l-2.4-1.5l-2.4-3.8l-1-5l0-6.7l1-2.9l2.4-2.8l2.4-1.4l7.2-1.5l14.4-0.8M446.4 1141.7l0.9-2.3l1.7-1.4l2.4-0.8l2.4 0l9.7 2.7l2.4 1.8l0.9 2.2l-0.9 2.8l-2.4 1.4l-4.9 0.6l-4.8-0.2l-2.4-0.5l-3.4-1.9l-1.5-2.2zM328.4 1141.7l2.7-1.9l2.4 0.1l2.9 1.8l1.5 2.2l0.1 2.2l-2.1 2.4l-2.4 0.5l-2.4-0.4l-2.9-2.5l-0.5-2.2zM83.3 1150.7l19.2-0.4l2.4 0.4l2.4 1.2l1.1 0.9l1.2 2.2l-0.1 2.2l-1.3 2.2l-3.8 2.3l-6.7 1.2l-14.4 0.8M658.9 1163.9l1.9-0.8l4.8 0.1l2.4 0.5l2.4 1.4l2.4 3.2l0.8 4.5l-0.6 2.2l-5 0.5l-2.4-0.4l-2.4-1l-1.6-1.3l-1.5-2.2l-1.2-4.5zM675.2 1176.3l2.4-0.4l2.4 0.2l2.4 0.7l3.8 2.7l5.8 6.6l8 6.7l1.3 2.2l0.4 2.3l-0.8 2.2l-2.9 2.2l-3.5 1l-20.7 1.2l0.7-26.7zM333.5 1178.9l2.4 1.4l2.1 3.6l2.6 8.9l0.1 2.2l-0.6 2.3l-1.8 2.2l-4.8 1.9l-4.8 0l-0.5-4.1l0.2-13.4l0.6-2.2l1.8-2.2zM83.3 1203.8l28.8-1.8l4.9 0.6l2.7 1.3l2.1 2.2l1 2.3l0.7 4.4l-0.8 28.9M228 1208.4l1.5 2.2l5.3 2.2l14.5 3.7l9.6 0.2l4.8-1.1l3.6-2.8l2-4.4l0.6-4.5l-1.4-0.9l-33.6 0.5l-4.9 1.6l-1.3 1zM178.8 1241.7l0.4-15.5l1-4.5l1.3-2.2l2.1-2.2l6.1-4.5l6.7-6.7l9.6-5.7l2.1-3.1l0-2.3l-1.4-2.2l-7-4.4l-5.7-7.8l-2.5-1.4l-2.4-0.6l-19.2-1.3l-0.9 2.2l-3.3 28.9l-2.4 4.4l-3 2.2l-2.4 0.8l-4.9 0.4l-4.8-0.2l-4-1l-3.2-2.2l-1.4-2.2l-0.9-4.5l0.2-6.6l0.9-4.5l1-2.2l2-2.2l8-4.5l7.1-7.2l4.8-1.6l4.8-0.1l1.6-2.2l-0.5-4.4l-0.8-2.3l-1.7-2.2l-8.2-5.9l-3.9-5.2l-2.3-2.2l-7.3-4.5l-1.8-2.2l-0.5-2.2l0.7-2.2l3-2.4l4.8-1.2l7.3-0.5l4.8-1l2.9-1.6l2.1-2.2l1-2.3l0.9-4.4l0.8-20l0.5-2.3l1.4-2.8l2.4-2.1l4.8-1.5l21.7-1.2l21.6-0.4l36.1 1.9l14.5-0.3l4.8-1.2l2.4-1.3l2.1-2.2l4.6-6.6l2.9-2l4.8-1.4l7.2-0.5l4.8 0.4l14.5 2.9l4.8 2.2l7.2 5.5l4.8 1.3l38.5 0.6l4.8-1.4l2.4-2l4.9-5.5l2.4-1l2.4 0.3l2.4 1.7l7.2 8l4.8 2.4l13.2 4l0.7 2.2l-5.8 2.3l-8.1 2l-9.6 0.9l-28.9 0.1l-4.8-0.5l-12-3.2l-4.8-0.7l-9.7-0.3l-4.8 0.8l-2.4 1l-2.7 2.1l-1.8 2.2l-2.7 5.5l-2.6 3.4l-2.2 1.2l-2.4 0.5l-7.2 0.3l-4.9 0.9l-2.4 1l-2.4 1.8l-7.2 8.3l-4.8 2.2l-7.2 1.1l-19.3 1.2l-7.2-0.2l-4.8-0.6l-4.8-2.2l-2.2-2.1l-4.7-6.7l-2.7-2l-2.4-1.1l-4.9-0.9l-4.8-0.3l-4.8 0.6l-2.6 1.5l-1.7 2.2l-1 4.4l0.5 8.9l1.2 4.5l1.4 2.2l2.2 2.1l6.5 4.6l4.9 6.6l3.1 2.5l2.4 0.5l2.8-0.7l2-1.6l4.8-6.7l2.4-1.5l2.4-0.7l36.1-0.9l4.8 1.1l2.4 1.8l1.1 1.8l0.3 2.2l-0.5 2.2l-1.7 2.3l-6.2 4.4l-1.6 2.2l-1.1 4.5l0.1 6.7l-0.5 4.4l-1.9 3.1l-7.8 5.8l-1.9 4.5l-0.3 4.4l0.4 0.5l2.4 0.4l52.9-0.3l1.4 1.6l-0.5 4.5l-0.8 2.2l-1.6 2.2l-2.9 2.2l-5.2 1.6l-12.1 1.7l-2.4 1.2l-2.4 2.1l-1.4 2.3l-1.1 4.5l-0.7 13.3M383.4 1241.7l0.4-15.5l0.9-4.5l1.3-2.2l2.8-2.2l4.9-2.3l2.4-1.6l2-2.8l0.7-2.2l0.4-4.5l0.1-24.4l0.5-8.9l1.3-4.5l2.2-2.4l2.4-0.9l2.4 0.1l2.4 1.2l1.6 2l0.8 2.2l0.5 20.1l0.6 6.6l1.7 4.5l2 2.2l2.4 1.5l4.9 1.8l7.2 1.4l4.8 0l4.8-0.9l4.8-1.8l4.8-2.6l2.4-2.3l4.5-6l2.7-2.5l4.9-1.9l4.8-0.2l4.8 0.5l4.5 1.9l7.1 8.9l7.6 4.7l7.3 7.9l4.8 2l24 1.3l6.2-0.4l4.4-2.2l3.9-5.3l2.4-2.3l2.4-0.8l2.4 0.3l2.4 1.5l4.4 6.6l2.8 2.3l4.8 1.2l9.6 0.8l2.5 0.9l2.4 1.8l1.2 1.9l1 4.5l0.1 15.5M484.5 1241.7l-0.4-15.5l-0.7-4.5l-1-2.2l-2.1-2.5l-2.4-1.2l-2.4-0.6l-4.8-0.3l-7.2 1l-2.8 1.4l-2.1 2.2l-0.8 2.2l-0.5 4.5l0.3 15.5M614.6 1241.7l-0.8-13.3l-0.9-4.5l-1.1-2.2l-2-2.2l-9.2-5.6l-6-7.8l-6.4-4.4l-1.9-2.2l-3.5-6.7l-7.6-6.7l-1.7-4.4l-0.6-11.1l-0.7-2.3l-1.7-2.2l-1.2-0.8l-2.4-0.6l-2.4 0.4l-2.4 1.7l-1.9 3.8l-1.5 11.1l-1.4 2.8l-1.9 1.6l-2.9 1l-2.4-0.3l-2.4-1.6l-1.9-3.5l-0.4-2.2l-0.2-17.8l-0.8-4.5l-1.1-2.2l-2-2.2l-3.3-1.8l-14.4-1.8l-2.4-1.1l-2.4-1.9l-1.5-2.3l-0.4-2.2l0.9-2.3l2.8-2.2l5.4-1.3l7.2-0.2l14.5 0.5l4.8 1.3l2.8 1.9l6.8 8.5l2.4 1.4l4.8 0.9l7.2-0.4l4.9-1.5l2.7-2.2l5.2-6.7l1.7-1l2.4-0.6l2.4 0.2l2.6 1.4l4.6 5.4l8.6 5.7l1.1 2.3l0 2.2l-1.1 2.2l-3.8 2.6l-12 1.7l-4.8 2l-2.2 2.6l-0.4 2.2l0.4 2.3l2.2 2.7l5.4 3.9l1.9 2.3l3.6 6.6l2.4 2.3l5.9 4.2l4.8 6.9l3.1 2.2l4.2 0.6l2.4-0.8l2.3-2l1.7-4.5l1.4-11.1l1.8-3.2l2.4-1.5l2.4-0.2l2.4 0.7l2.4 1.7l5.3 7l1.9 1.7l7.3 4.4l4.8 6.4l2.4 2l4.8 1.3l4.8 0.2l0.5 1.7l-0.7 4.5l-2.2 3.8l-2.4 1.8l-4.8 1.5l-12.1 1l-2.4 1l-2.3 2l-1.2 2.2l-0.4 2.3l-0.1 15.5M746.3 1241.7l0.4-13.3l1.3-6.7l1.2-2.2l2.3-2.2l5.5-3.6l2.4-2.2l4.8-6l2.4-1.7l7.3-3.8l2.4-2.7l0.8-2.3l0.5-4.4l-0.8-6.7l-1-2.2l-1.9-2.2l-8-4.5l-2.3-2.2l-3.4-4.5l-3.2-2.5l-4.8-1.5l-21.7-1.9l-4.8-1.6l-4.7-3.6l-5.6-6.7l-8.9-6.9l-2.9-4.2l-1.1-6.6l-0.2-24.5l0.3-4.5l1.2-4.4l2.7-3.1l2.4-0.9l2.4 0l3.4 1.8l4.9 6.6l3.7 3.2l4.8 1.6l9.7 1.4l2.4 0.8l3.1 1.9l1.7 2.4l0.4 2.1l-0.6 2.2l-2 2.2l-5 3l-1.8 1.5l-1.1 2.2l-0.1 2.2l1.1 2.3l1.9 1.6l2.4 1.2l7.2 1l12 0.3l43.3-1.3M255.4 1003.8l-0.4 22.2l-0.8 2.2l-2.5 0.2l-16.8-3l-14.5-0.5l-3.9-1.1l-2.7-2.2l-1.1-2.3l-0.6-4.4l-0.3-11.1M256.5 1029.6l4.8 0.1l2.4 0.7l2.4 1.7l1.4 2.8l-0.3 2.2l-1.1 1.6l-2.4 1.2l-2.4-0.3l-2.4-1.7l-2.1-3l-0.7-2.2l-0.1-2.2zM256.9 1117.2l2-2.9l2.4-0.9l2.4 0.1l2.5 1.5l0.9 2.2l-0.2 2.2l-1.6 2.2l-1.6 1l-2.4 0.3l-3-1.3l-1.4-2.2zM194.5 1241.7l-0.1-13.3l0.7-4.5l1.1-2.2l1.9-2.2l3.1-2.1l2.4-0.8l4.8-0.5l9.6 0.9l12 3l4.9 1.9l2.3 2l1.2 2.3l0.5 2.2l0.2 13.3" fill="none" stroke="#111" stroke-width="0.8"/>
<path d="M114.0 1059.1h0M114.0 1065.1h0M114.0 1071.2h0M114.0 1077.3h0M114.0 1083.4h0M114.0 1089.5h0M114.0 1113.8h0M114.0 1119.9h0M114.0 1125.9h0M114.0 1132.0h0M131.3 1034.7h0M131.3 1065.1h0M131.3 1071.2h0M131.3 1077.3h0M131.3 1083.4h0M131.3 1089.5h0M131.3 1113.8h0M131.3 1119.9h0M148.6 1016.5h0M148.6 1022.6h0M148.6 1028.7h0M148.6 1034.7h0M148.6 1077.3h0M148.6 1083.4h0M148.6 1089.5h0M166.0 1016.5h0M166.0 1022.6h0M166.0 1028.7h0M166.0 1034.7h0M183.3 1016.5h0M183.3 1022.6h0M183.3 1028.7h0M183.3 1034.7h0M200.6 1223.2h0M218.0 1016.5h0M218.0 1022.6h0M218.0 1223.2h0M235.3 1016.5h0M235.3 1022.6h0M235.3 1077.3h0M252.6 1016.5h0M252.6 1022.6h0M321.9 1016.5h0M321.9 1022.6h0M321.9 1028.7h0M321.9 1034.7h0M321.9 1059.1h0M321.9 1065.1h0M321.9 1071.2h0M339.3 1016.5h0M339.3 1022.6h0M339.3 1028.7h0M339.3 1059.1h0M339.3 1065.1h0M339.3 1071.2h0M339.3 1077.3h0M339.3 1113.8h0M339.3 1119.9h0M356.6 1016.5h0M356.6 1022.6h0M356.6 1065.1h0M356.6 1071.2h0M356.6 1077.3h0M356.6 1119.9h0M356.6 1125.9h0M356.6 1132.0h0M356.6 1138.1h0M356.6 1168.5h0M356.6 1174.6h0M356.6 1180.7h0M356.6 1186.7h0M356.6 1192.8h0M373.9 1016.5h0M373.9 1022.6h0M373.9 1065.1h0M373.9 1071.2h0M373.9 1077.3h0M373.9 1125.9h0M373.9 1132.0h0M373.9 1174.6h0M373.9 1180.7h0M373.9 1186.7h0M391.3 1059.1h0M391.3 1065.1h0M408.6 1053.0h0M408.6 1059.1h0M408.6 1065.1h0M408.6 1071.2h0M408.6 1077.3h0M408.6 1083.4h0M408.6 1125.9h0M408.6 1132.0h0M425.9 1059.1h0M425.9 1065.1h0M425.9 1071.2h0M425.9 1077.3h0M425.9 1083.4h0M425.9 1089.5h0M425.9 1095.5h0M425.9 1119.9h0M425.9 1125.9h0M443.2 1071.2h0M443.2 1077.3h0M443.2 1083.4h0M443.2 1089.5h0M443.2 1095.5h0M443.2 1101.6h0M443.2 1180.7h0M443.2 1186.7h0M460.6 1095.5h0M460.6 1101.6h0M460.6 1107.7h0M460.6 1113.8h0M460.6 1119.9h0M460.6 1125.9h0M460.6 1168.5h0M477.9 1016.5h0M477.9 1022.6h0M477.9 1113.8h0M477.9 1119.9h0M477.9 1125.9h0M477.9 1132.0h0M477.9 1138.1h0M477.9 1144.2h0M477.9 1168.5h0M495.2 1125.9h0M495.2 1132.0h0M495.2 1138.1h0M495.2 1144.2h0M495.2 1150.3h0M495.2 1156.3h0M564.6 1059.1h0M564.6 1065.1h0M564.6 1071.2h0M564.6 1077.3h0M581.9 1077.3h0M685.9 1016.5h0M685.9 1022.6h0M703.2 1156.3h0M703.2 1162.4h0M703.2 1168.5h0M703.2 1174.6h0" stroke="#000" stroke-width="3.9" stroke-linecap="round" fill="none"/>
</g>
<line x1="243.5" y1="1232.0" x2="243.5" y2="1013.5" stroke="#000" stroke-width="2.2" stroke-dasharray="15.5 8.5"/>
<line x1="382.5" y1="1232.0" x2="382.5" y2="1013.5" stroke="#000" stroke-width="2.2" stroke-dasharray="15.5 8.5"/>
<line x1="521.0" y1="1232.0" x2="521.0" y2="1013.5" stroke="#000" stroke-width="2.2" stroke-dasharray="15.5 8.5"/>
<line x1="659.5" y1="1232.0" x2="659.5" y2="1013.5" stroke="#000" stroke-width="2.2" stroke-dasharray="15.5 8.5"/>
<polyline points="96.0,1077.5 113.8,1051.1 130.7,1050.3 148.0,1072.9 165.4,1094.9 182.7,1145.3 200.1,1151.8 217.4,1125.6 234.8,1130.0 252.1,1138.5 269.5,1142.5 286.8,1106.2 304.2,1105.6 321.5,1114.1 338.9,1116.5 356.2,1117.1 373.6,1135.5 390.9,1129.0 408.3,1139.3 425.6,1148.8 443.0,1154.8 460.3,1181.6 477.7,1185.9 495.0,1180.6 512.4,1160.1 529.7,1163.1 547.1,1170.6 564.4,1185.5 581.8,1180.6 599.1,1144.9 616.5,1122.1 633.8,1117.1 651.2,1106.2 668.5,1102.2 685.9,1118.5 703.2,1135.4 720.6,1138.9 737.9,1107.2 755.3,1099.3 772.6,1090.3 790.0,1101.2" fill="none" stroke="#fa1c10" stroke-width="3.4" stroke-linejoin="round" />
<line x1="391.5" y1="1034.8" x2="529.3" y2="1176.6" stroke="#000" stroke-width="5" stroke-dasharray="19 19"/>
<line x1="96.5" y1="1013.5" x2="96.5" y2="1232.0" stroke="#000" stroke-width="1.6" />
<line x1="96.5" y1="1013.5" x2="789.5" y2="1013.5" stroke="#000" stroke-width="1.6" />
<line x1="96.5" y1="1232.0" x2="789.5" y2="1232.0" stroke="#000" stroke-width="1.6" />
<line x1="789.5" y1="1013.5" x2="789.5" y2="1232.0" stroke="#d95319" stroke-width="2.0" />
<line x1="789.5" y1="1015.0" x2="797.5" y2="1015.0" stroke="#d95319" stroke-width="1.8" />
<text x="806.5" y="1024.5" font-size="28" text-anchor="start" fill="#d95319" >4</text>
<line x1="789.5" y1="1058.5" x2="797.5" y2="1058.5" stroke="#d95319" stroke-width="1.8" />
<text x="806.5" y="1068.0" font-size="28" text-anchor="start" fill="#d95319" >2</text>
<line x1="789.5" y1="1101.0" x2="797.5" y2="1101.0" stroke="#d95319" stroke-width="1.8" />
<text x="806.5" y="1110.5" font-size="28" text-anchor="start" fill="#d95319" >0</text>
<line x1="789.5" y1="1145.0" x2="797.5" y2="1145.0" stroke="#d95319" stroke-width="1.8" />
<text x="806.5" y="1154.5" font-size="28" text-anchor="start" fill="#d95319" >-2</text>
<line x1="789.5" y1="1188.5" x2="797.5" y2="1188.5" stroke="#d95319" stroke-width="1.8" />
<text x="806.5" y="1198.0" font-size="28" text-anchor="start" fill="#d95319" >-4</text>
<line x1="789.5" y1="1232.0" x2="797.5" y2="1232.0" stroke="#d95319" stroke-width="1.8" />
<text x="806.5" y="1241.5" font-size="28" text-anchor="start" fill="#d95319" >-6</text>
<line x1="252.5" y1="1232.0" x2="252.5" y2="1239.0" stroke="#000" stroke-width="1.6" />
<line x1="252.5" y1="1006.5" x2="252.5" y2="1013.5" stroke="#000" stroke-width="1.6" />
<text x="252.5" y="1273.7" font-size="28" text-anchor="middle" fill="#000" >31 Dec</text>
<line x1="443.0" y1="1232.0" x2="443.0" y2="1239.0" stroke="#000" stroke-width="1.6" />
<line x1="443.0" y1="1006.5" x2="443.0" y2="1013.5" stroke="#000" stroke-width="1.6" />
<text x="443.0" y="1273.7" font-size="28" text-anchor="middle" fill="#000" >31 Jan</text>
<line x1="599.0" y1="1232.0" x2="599.0" y2="1239.0" stroke="#000" stroke-width="1.6" />
<line x1="599.0" y1="1006.5" x2="599.0" y2="1013.5" stroke="#000" stroke-width="1.6" />
<text x="599.0" y="1273.7" font-size="28" text-anchor="middle" fill="#000" >28 Feb</text>
<line x1="789.5" y1="1232.0" x2="789.5" y2="1239.0" stroke="#000" stroke-width="1.6" />
<line x1="789.5" y1="1006.5" x2="789.5" y2="1013.5" stroke="#000" stroke-width="1.6" />
<text x="789.5" y="1273.7" font-size="28" text-anchor="middle" fill="#000" >31 Mar</text>
<line x1="89.5" y1="1050.0" x2="96.5" y2="1050.0" stroke="#000" stroke-width="1.6" />
<text x="79.9" y="1060.0" font-size="28" text-anchor="end" fill="#000" >120°E</text>
<line x1="89.5" y1="1086.5" x2="96.5" y2="1086.5" stroke="#000" stroke-width="1.6" />
<text x="79.9" y="1096.5" font-size="28" text-anchor="end" fill="#000" >60°E</text>
<line x1="89.5" y1="1123.0" x2="96.5" y2="1123.0" stroke="#000" stroke-width="1.6" />
<text x="79.8" y="1133.0" font-size="28" text-anchor="end" fill="#000" >0</text>
<line x1="89.5" y1="1159.5" x2="96.5" y2="1159.5" stroke="#000" stroke-width="1.6" />
<text x="78.1" y="1169.5" font-size="28" text-anchor="end" fill="#000" >60°W</text>
<line x1="89.5" y1="1195.5" x2="96.5" y2="1195.5" stroke="#000" stroke-width="1.6" />
<text x="78.1" y="1205.5" font-size="28" text-anchor="end" fill="#000" >120°W</text>
<text x="36.0" y="1002.0" font-size="28" text-anchor="start" fill="#000" >(g)</text>
<text x="443.0" y="1308.0" font-size="28" text-anchor="middle" fill="#000" >date</text>
<clipPath id="cliph"><rect x="978.5" y="1021" width="695.0" height="213.5"/></clipPath>
<rect x="978.5" y="1018.5" width="695.0" height="218.5" fill="#fff"/>
<g clip-path="url(#cliph)">
<rect x="978.5" y="1021" width="695.0" height="213.5" fill="#f1d9d2"/>
<path d="M1418.4 1066.6l1.6-2.2l1.3-1l2.4-0.8l2.4 0.7l1.1 1.1l0.6 2.2l-0.7 2.2l-1 1.1l-2.4 1.3l-2.4-0.1l-2.4-1.7zM1220.6 1095.5l1.4-2.2l3.9-2.5l7.2-1.3l7.2 0.5l2.4 0.8l2.5 1.6l7.2 7.5l2.4 1.8l4.8 2.1l15.3 2.8l3.9 2.2l0.4 2.3l-2.7 2.4l-2.4 0.7l-4.8 0.5l-19.3-0.2l-19.3-1.9l-4.8-1.9l-2.4-1.9l-1.6-2.2l-1.4-4.4l-0.3-4.5zM1546.1 1117.7l2.2-2.2l0.9-0.4l2.4 0l2.4 1.5l1.1 1.1l0.7 2.3l-1 2.2l-0.8 0.6l-2.4 1.1l-2.4 0l-2.8-1.7l-0.7-2.2zM1590.2 1191.1l0.6-2.2l1.9-1.1l4.8-0.9l4.8 0.3l4.8 1l1.4 0.7l0.4 2.2l-2.2 2.3l-2 0.7l-4.8 0.6l-4.8-0.3l-2.4-0.7zM1515.2 1206.7l2.4-2.2l2.7-0.4l3.2 0.4l5.1 2.2l6.1 4.1l2.9 2.6l1.5 2.2l0.5 2.2l-1 2.2l-1.4 0.9l-2.5 0l-14.4-3.3l-3.3-2l-1.4-2.2l-0.8-4.5zM1259 1211.1l3.1-0.6l2.4 1l1.7 1.9l0.8 2.2l-1 2.2l-1.5 1.2l-2.4 0.1l-2.5-1.3l-1.5-2.2l-0.4-2.2z" fill="#6b9fcf" fill-rule="evenodd"/>
<path d="M965.2 1008.8l56.5 0l1.1 17.8l1.3 4.4l1.5 2.3l2.4 1.9l2.4 0.9l4.8 0.4l26.6-3.7l2.3 0.4l1.6 13.4l-3.9 1l-29 3.7l-3.5 1.9l-1.7 2.3l-0.7 2.2l-0.5 4.4l-0.8 2l-7.3-1.4l-2.4-1.4l-2.8-3.6l-2.3-11.1l-1.5-4.5l-1.7-2.2l-3.3-2.2l-2.9-0.9l-4.8-0.5l-31.4 0.8zM1061.8 1008.8l46.8 0l-0.1 13.3l-0.8 4.5l-2.5 3.8l-2.4 1.5l-2.4 0.6l-26.6-0.6l-7.2 0.5l-2.4 0.8l-1.9-15.5zM1294.4 1044.4l-1 2l-2.4 0.4l-28.9 1.5l-14.5 2.1l-19.3 1l-4.9 1.2l-12 5.3l-12.1 3.3l-4.8 0.6l-7.3-0.1l-4.8-1.5l-2.7-2.5l-1.1-2.2l-0.8-4.5l0.1-6.6l1.4-4.5l3.1-3.5l4.8-1.9l7.3-0.6l9.6 0.1l38.6 2l7.3-0.3l4.8-1.3l2-1.2l2.2-2.2l2.2-4.4l1.6-8.9l0.7-8.9l18.3 0l-1.3 17.8l0.3 4.4l0.8 2.2l2.2 2.5l8.3 4.2l1.7 2.2zM1311.4 1044.4l1.4-4.5l1.7-2.2l3.1-2.4l4.8-1.5l8.8-0.6l3.2-0.6l2.5-1.2l2.4-2.4l1.2-2.4l0.8-4.5l0.5-13.3l29 0l-0.1 13.3l0.8 4.5l1.6 2.8l2.4 1.9l2.4 0.5l2.4-0.3l2.4-1.5l2-3.4l0.8-4.5l0.3-13.3l29.1 0l0.2 15.5l-1.6 4.5l-1.8 2.3l-8.3 6.6l-4.8 6.7l-3.8 2.5l-4.9 1l-19.3-0.2l-7.2 0.7l-2.4 1l-2.3 1.6l-4.9 6.5l-2.5 1.7l-4.8 1.4l-4.8 0.2l-4.8-0.3l-4.9-1.1l-2.8-1.7l-4.9-6.7l-1.9-1.8l-4.8-2.1l-4.9-0.7zM1558.9 1008.8l30.3 0l-0.4 13.3l-1.1 4.5l-1.4 2.2l-3.3 2.6l-2.4 0.9l-4.8 0.9l-4.9 0.2l-4.8-0.3l-4.8-2l-2-2.3l-1-4.5zM1686.8 1246.7l-29.2 0l1-28.9l-0.4-22.2l-0.4-1.2l-19.3-1.5l-4.2-1.8l-2.2-2.2l-1.5-4.4l-0.4-6.7l-1-4.5l-1.2-2.2l-4-4.1l-2.4-3.6l-5.2-14.5l-1.2-6.7l-0.8-1.7l-26.6-1.8l-7.2 0.5l-4.8 2l-7.3 7.5l-3.6 2.4l-3.6 0.9l-7.3-1.2l-7.2-2.1l-3.4-2l-6.2-5.2l-2.5-1.1l-4.8-0.8l-7.2-0.4l-4.7-1.4l-2.6-2.8l-3.1-6.1l-1.7-1.9l-6.3-4.8l-4-6.7l-1.8-1.9l-2.4-1.3l-2.4-0.6l-7.2-0.3l-4.8 0.6l-4 1.3l-3.1 2.2l-1.3 2.2l-0.2 2.3l0.7 2.2l2.3 2.2l5.6 3.1l1.5 1.4l1.5 2.2l0.7 2.2l0.5 6.7l-0.5 6.7l-0.7 2.2l-1.6 2.2l-1.4 1.1l-2.5 0.9l-2.4-0.1l-2.4-0.9l-2.4-1.9l-4.8-5.4l-4.9-2.1l-4.8-0.4l-38.6-0.2l-7.2-0.4l-4.9-0.9l-2.4-1.1l-2.4-1.9l-4.7-6.7l-2.9-2.2l-6.9-2l-12-0.9l-9.7 0.7l-4.8 1.6l-3.5 2.8l-6 8.9l-4.1 2.2l-3.3 0.6l-4.8 0l-21.7-2.3l-9.7 0l-5 1.7l-2.6 2.2l-4.5 5.7l-2.4 1.9l-2.4 1l-2.4 0.1l-2.4-0.9l-1.3-1.1l-1.3-2.2l-0.4-2.2l0-8.9l-1.3-4.5l-2.1-2.2l-3.3-1.4l-38.6-2.3l-4.8 0.2l-2.4 0.6l-2.4 1.4l-4.9 6.7l-2.4 1.7l-2.4 0.5l-2.4-0.3l-2.4-1.4l-2.4-3.3l-0.9-2.4l-2.3-11.1l-2.4-15.6l-0.3-4.4l0.4-4.5l1-2.2l2.2-2.2l4.5-2.3l6-2.2l6.3-1.7l4.8-0.7l9.6-0.1l2.4 0.5l4.5 2l10 7.5l4.9 2.7l7.2 2.2l14.5 3.1l7.2 2.7l3.3 1.8l6.4 5.7l7.2 4.1l7.2 8l2.5 1.3l2.4 0.3l2.4-0.6l2.4-2.5l2.4-3.7l2.4-1.9l2.4-0.9l33.8-3l9.7-0.1l26.5 2.4l4.8 0.8l2.5 1.1l2.4 2l4.8 6.8l2.4 1.6l4.8 1l7.3-0.2l4.8-1.3l2.4-1.8l5.9-8l9-6.6l4.5-6.7l2.4-2.2l7-4.5l2.1-2.2l1.2-2.2l0.6-4.5l-1.3-16.4l-16.9 1.5l-4.8 0.9l-2.4 1.2l-2 1.7l-5.3 6.6l-2.4 1.4l-2.4 0.6l-24.1-0.3l-4.9-1.6l-2.2-2.2l-1-2.3l-0.7-4.4l0.2-4.5l0.9-4.4l1.3-2.2l2.3-2.3l6.5-4.3l4.8-3.9l4.8-2.3l19.3-4l21.7-0.6l2.5 0.6l2 1.2l1.8 2.2l1.1 4.5l0.3 13.3l0.4 2.2l1.6 0.6l4.8-1.1l3.4-1.7l2.3-2.2l4-5.8l8.5-5.3l6-6.3l7.2-4.8l4.3-4.5l2.8-2.2l2.5-0.9l2.5 0l2.4 1l1.8 2.1l0.9 2.2l4.9 33.4l1.8 15.6l1.7 4.4l2.5 2.2l3.3 1.3l9.6 0.6l4.8 1.3l2.5 1.6l7.2 7.9l7 5.1l5.4 6.7l3.2 2.2l6.1 1.4l29 2l0.8-1.2l-0.3-13.3l0.5-4.5l1.4-2.6l2.4-1.7l4.8-0.9l7.3 0.1l4.8 0.9l3.8 2l6.4 6.7l1.9 1.1l3.4 1.1l6.2 0.5l29-0.7l0 13.5l-29-0.5l-7.2 1l-3.4 1.8l-1.9 2.2l-0.9 2.2l-0.4 4.5l0.3 4.4l1.4 4.3l2.2 2.4l2.7 1.6l4.8 1.3l9.7 1.1l21.7 1.2l0 24.5l-16.9 0.3l-5.5 1.1l-3.1 2.3l-1.5 2.2l-0.8 2.2l-0.4 4.5l1.6 0.6l26.6 0.4zM1546.8 1116.7l-0.7 1l-0.4 2.3l1.1 2.6l2.4 1.3l2.4 0l3.2-1.7l1-2.2l-0.7-2.3l-1.1-1.1l-2.4-1.5l-2.4 0zM1615.9 1128.9l-1 11.1l1.9 0.8l4.8-0.5l2.4-0.9l2.2-1.6l1-2.3l-0.2-2.2l-1.8-2.2l-3.6-1.8l-4.8-1zM1220.6 1095.5l-0.4 2.2l0.3 4.5l1.4 4.4l1.6 2.2l2.4 1.9l4.8 1.9l19.3 1.9l19.3 0.2l4.8-0.5l2.4-0.7l2.7-2.4l-0.4-2.3l-3.9-2.2l-15.3-2.8l-4.8-2.1l-2.4-1.8l-7.2-7.5l-2.5-1.6l-2.4-0.8l-7.2-0.5l-7.2 1.3l-3.9 2.5zM1423.7 1062.6l-2.4 0.8l-1.3 1l-1.6 2.2l0.1 2.2l2.8 2.3l2.4 0.1l2.4-1.3l1-1.1l0.7-2.2l-0.6-2.2l-1.1-1.1zM1066.1 1048.8l0.5-1.2l2.4-0.6l9.6-0.6l16.9 0.4l7.3 1.2l2.4 1.2l2.2 1.8l5.1 6.7l7.2 4.5l1.9 2.2l0.6 2.2l-0.5 2.2l-2.1 2.2l-4.8 1.7l-7.2 0.5l-4.8-0.9l-2.5-1.3l-7.2-7.2l-2.4-1.5l-4.8-1.1l-9.7-0.1l-4.8-1.3l-2.3-2.1l-1.3-2.2zM1295.8 1053.2l-0.4-4.4l0.4-1.1l2.4-0.8l9.7-0.2l2.4 1.4l-0.3 2.9l-0.8 2.2l-1.5 2.3l-2.2 1.5l-2.4 0.8l-2.5-0.1l-2.4-1l-1.3-1.2zM1607.1 1060.4l2.5 1.5l1.6 2.5l0.5 2.2l-0.2 2.2l-1 2.2l-2.1 2.3l-6.1 4.7l-5.4 8.6l-1.8 1.2l-2.4 0.1l-2.5-1.2l-2.4-3.4l-1.4-5.6l0-8.9l1.6-4.4l2.2-2.4l4.9-2l7.2-0.5zM965.2 1063.1l19.3-0.2l4.9 0.5l2.8 1l2.6 2.2l0.5 2.2l-1.1 2.3l-2.4 1.6l-2.4 0.9l-4.9 0.6l-19.3 0.1zM1026.8 1066.6l1.2-2.1l14.4 0.2l4.9 0.6l2.7 1.3l1.8 2.2l0.6 2.2l-0.4 2.3l-2.3 2.5l-4.8 1.5l-7.3 0l-4.8-0.9l-2.4-1.3l-1.8-1.8l-1.1-2.3zM1155.4 1077.7l2.9-1.7l2.4-0.6l4.8-0.3l5.1 0.4l2.2 0.6l2.7 1.6l1.7 2.2l0.8 2.3l0.7 4.4l-0.1 6.7l-1.3 4.4l-2.1 2l-2.4 0.6l-2.5-0.6l-2.4-1.9l-4.8-6.3l-7.1-4.9l-1.8-2.2l-0.6-2.2l0.3-2.3zM1661 1082.2l1.6-2.5l2.5-1.4l2.4-0.7l19.3-0.3l0 13l-14.5 0l-4.8-0.5l-2.4-0.8l-3.3-2.4l-0.9-2.2zM965.2 1111.4l26.6 0.1l31.3 2.6l7.1 1.4l12.2 4.1l12.1 1.7l12.1 0.3l14.5-1.2l4.8 0.2l4.2 1.6l5.4 4.7l2.5 1.4l4.8 1.3l14.5 0.4l24.1-0.9l4.8 0.6l3.2 1.4l2 2.2l0 2.2l-2.8 2.9l-4.8 1.7l-31.2 2.1l-21.9 0.4l-12.1 0.7l-4.8 0.9l-2.4 1.1l-1.7 1.4l-1.1 2.2l0.2 2.2l1.7 2.2l3.3 1.8l4.8 0.6l19.4-0.4l2.4 0.3l2.4 1.1l2.4 3.1l2.4 5.4l2.4 2.4l2.4 0.9l2.4 0.2l4.9-0.6l9.6-2.6l2.4 0l2.5 0.7l2.4 2l4.8 7.1l6.4 4.7l2.1 2.2l1.1 2.3l0.8 4.4l-0.6 15.6l0.1 42.2l-16 0l0.5-15.5l-0.7-4.5l-1.4-2.2l-2-1.6l-7.2-3.9l-4.4-5.6l-2.8-1.9l-4.9-0.5l-7.2 0.5l-2.4-0.3l-2.4-1.4l-2.4-4.2l-1.8-7.8l-2.1-6.7l-1.2-2.2l-2.1-2.2l-2.5-1.2l-9.7-1.3l-4.8-1.5l-3.1-2.7l-6.3-8.9l-7.5-5.2l-4.5-5.9l-2.7-2.2l-2.4-1l-4.9-0.9l-21.7-0.7l-4.8 0.2l-2.4 0.6l-2.4 1.3l-7.3 8.5l-2.4 1.5l-2.4 0.7l-4.8 0.4l-29-0.3zM1313.7 1186.7l0.6-2.2l1.9-2.3l7.3-4.4l6.1-6.9l7.7-4.2l6.8-7.7l2.4-1.4l4.8-1l7.3-0.3l4.8 1.1l2.4 2.1l3.1 4.9l1.7 1.9l2.5 1l2.4 0l2.4-0.8l2.4-1.6l7.2-7.8l2.4-1l2.5-0.1l2.4 0.8l1.2 1l6 8.7l7.3 5.2l2.4 3.8l0.4 2.3l-0.4 7.7l-1.5 3.4l-2.7 2.2l-3.1 1.1l-12 2.2l-4.9 1.4l-3.6 2l-6 7.3l-2.4 1l-2.4-0.1l-2.5-1.1l-2.4-2.6l-1.5-4.5l-0.7-6.7l-1.3-4.4l-1.8-2.2l-4.3-2.1l-9.7-0.7l-4.8 0.7l-3.2 2.1l-4 5.2l-1.8 1.4l-3.1 1.3l-2.4 0.4l-7.2-0.2l-4.8-0.9l-3.3-2.8zM1291 1173l2.4-0.2l0.6 0.5l0.2 2.3l-0.8 1.1l-2.4-0.5l-0.3-0.6zM1576.7 1186.7l1.5-2.6l2.4-1.9l2.4-1l7.2-1.3l4.9 0.2l19.3 2.9l2.8 1.5l1.5 2.2l0.3 4.4l-1.1 4.5l-1.9 4.4l-1.6 2.4l-2.4 2.2l-2.4 1.2l-4.9 1.1l-19.3 1.2l-2.4-0.4l-2.4-1.2l-2.4-3.2l-2.1-9.9l0-4.5zM1590.2 1191.1l2.5 2.6l2.4 0.7l4.8 0.3l4.8-0.6l2-0.7l2.2-2.3l-0.4-2.2l-1.4-0.7l-4.8-1l-4.8-0.3l-4.8 0.9l-1.9 1.1zM1167.4 1202.3l1.4-2.3l4-2.8l4.8-1.2l9.6-0.9l4.9-1.7l2.4-1.8l6.3-7.1l3.3-1.7l2.3-0.6l7.4-0.4l4.8 0.5l16.6 4.4l3.3 2.2l4.2 3.9l2.5 1.4l4.8 1.7l12.1 2.7l3.7 1.4l6.6 4.5l5 4.4l1.4 2.2l0.7 2.3l0.4 4.4l-1.7 28.9l-23 0l-0.1-13.3l-1.1-4.5l-1.6-2.6l-14.5-14.4l-2.4-1.6l-4.8-1.4l-7.3-0.3l-7.2 0.8l-3.1 1.7l-1.7 2.3l-0.7 2.2l-0.3 4.4l1.1 26.7l-14.2 0l-0.7-15.5l-1.1-4.5l-1-1.8l-2.4-2.2l-2.4-1.2l-4.9-0.7l-9.6-0.4l-2.4-0.6l-3.6-2l-1.7-2.2l-1.1-4.5l0-4.4zM1259.6 1210.8l-1.9 2.6l0.4 2.2l1.6 2.2l2.4 1.3l2.4-0.1l1.5-1.2l0.9-1.9l-0.7-2.5l-2.3-2.3l-1.8-0.6zM1548 1217.8l0 4.5l-2.7 11.1l-0.4 13.3l-9.6 0l0-13.3l-1.4-4.5l-2.2-2.2l-4.2-2.1l-2.4-0.6l-4.8-0.6l-53.1 0l-4.9 0.5l-2.4 1l-2.4 1.8l-2.4 4.4l-1.3 6.7l-0.6 8.9l-39.5 0l-0.3-13.3l1.1-4.5l2-3l7.2-6.8l4.9-7.1l2.4-2.1l4.8-1.7l4.8-0.2l26.6 1.1l19.3 0.3l4.8-0.6l3.8-2.1l1.6-2.2l1.1-4.5l0.5-6.6l0.8-4.5l1.9-3.1l2.4-0.7l2.4 1.5l5 6.8l3.1 2.2l20.7 6.7l4.2 2.2l3.2 3l2.8 3.6l2.5 4.5zM1515.2 1206.7l-0.4 2.2l0.8 4.5l1.4 2.2l3.3 2l14.4 3.3l2.5 0l1.4-0.9l1-2.2l-0.5-2.2l-1.5-2.2l-2.9-2.6l-6.1-4.1l-5.1-2.2l-3.2-0.4l-2.7 0.4zM965.2 1212.5l9.7-0.4l28.9-2.5l9.7 0.1l9.6 0.6l4.9 1.2l2.8 1.9l2.1 2.2l1.3 2.2l1.2 4.5l-0.2 0.9l-7.2 1.7l-2.4 1.8l-1 2.2l-0.5 4.5l0.3 13.3l-59.2 0zM1616.8 1226.1l1 7.3l0.3 13.3l-59.1 0l0.8-15.5l0.7-2.3l1.4-2.2l1.8-1.5l2.4-1.2l4.8-1l14.5-0.9l21.7-2.4l4.9 0.8l2.4 1.5zM1036.5 1224.5l3.5 0l14.5 3l12.1 0.8l4.8 1.3l2.6 1.6l1.6 2.2l0.6 4.4l-0.2 8.9l-39.7 0l-0.2-20zM1344.8 1224.5l1.7-0.7l2.4 0.2l2.4 1.4l2.5 3.2l1.9 7l0.8 11.1l-14.3 0l-0.6-15.5l1.1-4.5z" fill="#b4ebf8" fill-rule="evenodd"/>
<path d="M1227.1 1008.8l28.6 0l-1.2 13.3l-2.1 5.6l-2.4 2l-4.8 1.3l-7.3-0.2l-4.8-0.9l-2.9-1.1l-2.5-2.2l-0.8-2.3zM1288.2 1008.8l21.8 0l0.1 15.5l-0.6 2.3l-1.3 2.2l-2.4 2.2l-2.7 1.1l-4.9 0.1l-5.6-1.2l-3.9-2.2l-0.9-2.2l-0.2-2.3zM1510.5 1008.8l-0.2 15.5l-1.4 4.5l-3.1 3.3l-7.3 4.8l-5.1 5.2l-2.1 1.3l-2.4 0.5l-2.4-0.6l-1.4-1.2l-1.5-2.2l-1-4.4l-0.8-26.7zM1420.4 1039.9l1.4-2.2l1.9-0.8l2.8 0.8l0.5 2.2l-0.9 1l-2.4 1.1l-2.4-0.7zM1206.2 1071l1-2.2l1.9-2.2l3.3-2.2l11-5.8l7.3-2.1l7.2-0.5l7.3 0.2l4.8 0.8l9.6 2.6l9.7 1l5 1.5l8.1 6.7l3.8 2.4l4.8 1.5l9.8 0.6l2.3 0.4l3.5 1.8l2 2.2l1.6 4.5l0.4 6.6l-0.3 4.5l-0.7 2.2l-1.7 2.7l-2.4 1.4l-2.4 0.2l-12.1-2.8l-14.5-2l-6.7-1.7l-12.6-5.7l-12-6.9l-4.9-1.4l-7.2-0.1l-16.9 2.5l-4.8 0.3l-2.4-0.7l-1.9-1.4l-0.6-0.9l-0.7-3.5zM1220 1068.8l1 2.3l2.4 1.4l2.5 0.5l12-0.5l5.9 0.8l1.4 0.4l8.2 6.2l3.8 2.1l7.3 2.7l7.2 1.9l4.8 0l2.4-1.1l1.2-1.1l1-2.2l-0.2-2.3l-1.1-2.2l-2-2.2l-3.7-2.7l-4.8-1.9l-14.5-2.4l-2.4-1.2l-5.9-5.2l-3.8-1.1l-7.2-0.4l-4.8 0.5l-3.9 1l-4.1 2.3l-2 2.2zM1119.8 1108.8l-0.6 2.3l-1.9 2.5l-2.5 1.3l-4.8 0.8l-7.2-0.2l-9.7-2.1l-4.8-0.4l-19.3 1.2l-14.5-0.5l-7.2-1l-4.9-1.6l-2.8-2.3l-1.4-2.2l-0.5-4.4l0.7-4.5l0.8-2.2l1.6-2.2l1.6-1.2l4.9-1.5l12-0.6l2.5-1l2.4-1.6l6.7-7.5l2.9-2.2l4.8-1.6l7.3-0.6l4.8 1.3l2.4 1.7l2.4 3.4l0.9 4.7l0.3 11.1l1.4 4.5l2.3 1.6l2.4 0.4l12-1.7l2.5 0.8l1.2 1.1l1.2 2.2zM1067.8 1097.7l0 2.3l1 2.2l2.7 2.2l2.3 0.7l4.8 0.2l7.3-1.2l2.4-1.4l2.4-3.4l0.8-3.8l-0.4-4.4l-1.4-2.3l-1.4-1.2l-2.4-0.6l-7.3 0.8l-4.8 2.2l-2.4 1.9l-2.8 3.6zM1591 1106.6l1.7-1.4l2.4-0.6l2.4 0.8l1.3 1.2l1 2.2l-0.6 2.3l-1.7 1.4l-2.4 0.4l-2.4-0.8l-1.2-1l-1-2.3zM1169.9 1122.2l0.4-2.3l2.5-2.6l4.8-1.4l7.2 0l4.9 1.5l2.4 2.2l1.1 2.6l-0.1 2.2l-1.1 2.2l-2.3 1.6l-4.9 0.9l-4.8 0l-4.8-0.9l-2.4-1.2l-2.3-2.6zM1157.2 1146.7l3.5-3.3l4.8-1.7l9.7 0.3l4.8 1.5l3.6 3.2l1.8 4.4l0.6 6.7l-1.2 5.1l-2.4 2.8l-2.4 1.1l-2.4 0.4l-9.7-0.9l-5.4-1.9l-3.1-2.2l-1.7-2.2l-0.9-2.2l-0.7-6.7l0.2-2.2zM1502 1157.8l2-2.3l3.4-2.2l8-2.9l9.7-0.9l7.2 0.5l4.9 1.6l14.4 7.4l9.7 6.8l8.8 3.1l-2.4 17.8l0.9 15.6l-0.6 2.2l-1.3 2.2l-3 1.9l-2.4 0.5l-4.8 0.3l-2.5-0.5l-2.4-1.1l-6.5-5.5l-3.5-2.3l-14.1-4.4l-5.6-2.2l-4.1-2.3l-2.4-2.2l-2.4-3.4l-7.2-14.8l-4.3-6.3l-0.6-2.2l0.2-2.2zM1513 1159.5l-1.3 2.7l-0.2 2.2l1.6 8.9l1.6 4.5l3.1 4.8l7.3 6.3l3.6 2.2l3.6 1.4l16.9 3.8l2.4-0.1l1.8-0.6l2.6-2.2l1.6-4.5l0.1-4.4l-0.7-6.7l-1.7-4.5l-4-4.4l-14.1-10.8l-4.9-2l-4.8-0.6l-7.2 0.4l-4.9 1.6zM1615.6 1168.9l-0.2 2.2l-1 2.7l-2.4 1.9l-4.9 0.7l-4.8-1l-12.1-6l-4.8-0.7l-12-0.5l-2.5-0.4l-0.4-1.1l1.1-4.5l1.2-2.2l3-3.1l2.4-1.6l4.8-1.3l7.2-0.5l9.7-2.3l4.8-0.3l2.4 0.5l2.5 1.3l2.8 2.8l1.3 2.3l1.3 4.4zM1602.3 1159.1l-1 0.9l-0.9 2.2l0.7 2.2l1.2 1.5l2.4 1.5l2.4-0.2l2-2.8l0.1-2.2l-1.1-2.2l-1-1l-2.4-0.7zM1215.7 1157.8l2-2.3l3.3-1.5l4.9-0.7l4.8 0.2l2.4 0.4l3.3 1.6l2.1 2.3l4.1 6.6l2.6 1.7l2.4 0.3l7.2-1.6l7.3-0.8l9.6 0.3l4.8 1.1l2.4 1.5l1.7 2l1.5 4.4l0.7 8.9l-0.4 4.5l-0.6 2.2l-1.4 2.2l-1.5 1.3l-2.4 1l-2.4 0.2l-12-2.1l-4.9-1.5l-2.4-1.3l-9.6-7.3l-4.9-2.1l-7.2-1.9l-3.9-1.8l-5.8-5.8l-4.8-3.1l-2.4-2.3l-1-2.2l-0.2-2.2zM1253.7 1175.6l0.6 2.2l2.9 3.2l2.4 1.5l4.9 1.1l4.8 0.1l2.4-0.4l2.4-1.1l1.9-2.2l0.8-2.2l0-2.2l-0.9-2.3l-2.5-2.2l-4.1-1l-7.2 0l-4.6 1l-3 2.2zM1116.8 1157.8l0.5-0.7l2.2 0.7l-2.2 0.7zM1428.6 1160.1l2.4-2.3l2.4-1l4.8-0.7l7.3 0.2l5.1 1.5l2.9 2.2l4 4.6l3.4 2.1l3.9 0.9l12 0.4l4.9 1.5l2.4 2.6l1 3.5l-0.4 6.6l-1.8 6.7l-1.5 2.2l-4.6 3.5l-7.2 2.9l-4.8 0.9l-4.9-0.2l-12-3.3l-12.1-0.8l-4.8-1.5l-1.8-1.5l-1.3-2.2l-0.7-4.4l-0.2-17.8l0.6-4.5zM1459.9 1180.6l-2.6 1.6l-1.4 2.3l-0.2 2.2l1 2.2l3.2 2.4l2.4 0.5l3.7-0.7l3.1-2.2l1.2-2.2l0.1-2.2l-1-2.3l-2.2-1.6l-2.4-0.7l-2.5 0.1zM1024.9 1173.3l2.4-2.2l3.1-1.1l2.4 0l2.4 0.8l2.4 2.3l2.7 4.7l2.3 2.2l4.7 1.8l9.6 1.6l2.4 1.3l6.1 6.4l3.3 2.3l12.4 3.9l4.7 2.7l2.5 3.2l1.3 3.5l2.8 13.3l0.1 2.3l-0.7 2.2l-5.9 0.1l-12.1-1.9l-16.9-1.5l-4.5-1.2l-2.7-1.7l-9.9-9.4l-7-9.6l-7.2-5.5l-2-2.7l-1.1-4.4l0-4.5l0.6-4.8zM1062.5 1204.5l-0.8 2.2l0.2 2.2l1.3 2.2l3.4 2.1l4.8 0.4l2.4-0.4l3.3-2.1l1.2-2.2l-0.1-2.2l-1.5-2.2l-4.1-2.2l-3.6-0.6l-2.4 0.2l-2.4 1zM1404.4 1201l2.4 0.4l2.5 1.5l1 1.6l0.7 4.4l-0.2 4.5l-1.5 3.9l-2.5 2.6l-2.4 1l-2.4-0.1l-2.4-1.5l-1.1-1.5l-1.7-4.4l-0.4-4.5l0.9-4.4l2-2.2l2.7-1.1zM1290.5 1208.9l2.9-1.5l2.4-0.5l16.9-0.7l4.9 0.5l2.4 0.9l2.4 1.9l2.1 3.9l0.8 4.4l2 28.9l-41.2 0l1.5-31.1l1-4.2zM1230.7 1224.5l2.4-0.2l2.4 0.7l2.4 1.6l1.8 2.3l1.4 4.5l0.3 13.3l-14.6 0l-0.2-13.3l0.4-4.5l1.3-2.6zM1093.1 1226l2.4-0.7l4.9 0.5l2.6 0.9l2.4 2.2l1.1 4.5l-0.3 13.3l-14.2 0l0.5-15.5zM1520.3 1229.9l2.4-0.4l2.4 0.8l1 0.9l1 2.2l0.2 13.3l-10.7 0l0.4-13.3l1.1-2.2z" fill="#ea967a" fill-rule="evenodd"/>
<path d="M1220 1068.8l0.7-2.2l2-2.2l4.1-2.3l3.9-1l4.8-0.5l7.2 0.4l3.8 1.1l5.9 5.2l2.4 1.2l14.5 2.4l4.8 1.9l3.7 2.7l2 2.2l1.1 2.2l0.2 2.3l-1 2.2l-1.2 1.1l-2.4 1.1l-4.8 0l-7.2-1.9l-7.3-2.7l-3.8-2.1l-8.2-6.2l-1.4-0.4l-5.9-0.8l-12 0.5l-2.5-0.5l-2.4-1.4zM1067.8 1097.7l0.8-2.2l2.8-3.6l2.4-1.9l4.8-2.2l7.3-0.8l2.4 0.6l1.4 1.2l1.4 2.3l0.4 4.4l-0.8 3.8l-2.4 3.4l-2.4 1.4l-7.3 1.2l-4.8-0.2l-2.3-0.7l-2.7-2.2l-1-2.2zM1513 1159.5l2.4-2l4.9-1.6l7.2-0.4l4.8 0.6l4.9 2l14.1 10.8l4 4.4l1.7 4.5l0.7 6.7l-0.1 4.4l-1.6 4.5l-2.6 2.2l-1.8 0.6l-2.4 0.1l-16.9-3.8l-3.6-1.4l-3.6-2.2l-7.3-6.3l-3.1-4.8l-1.6-4.5l-1.6-8.9l0.2-2.2zM1601.3 1160l1-0.9l2.4-0.8l2.4 0.7l1 1l1.1 2.2l-0.1 2.2l-1.3 2.3l-0.7 0.5l-2.4 0.2l-2.4-1.5l-1.2-1.5l-0.7-2.2zM1253.7 1175.6l0.8-2.3l3-2.2l4.6-1l7.2 0l4.1 1l2.5 2.2l0.9 2.3l0 2.2l-0.8 2.2l-1.9 2.2l-2.4 1.1l-2.4 0.4l-4.8-0.1l-4.9-1.1l-2.4-1.5l-2.9-3.2zM1459.9 1180.6l2.4-0.6l2.5-0.1l2.4 0.7l2.2 1.6l1 2.3l-0.1 2.2l-1.2 2.2l-3.1 2.2l-3.7 0.7l-2.4-0.5l-3.2-2.4l-1-2.2l0.2-2.2l1.4-2.3zM1062.5 1204.5l1.7-1.6l2.4-1l2.4-0.2l3.6 0.6l4.1 2.2l1.5 2.2l0.1 2.2l-1.2 2.2l-3.3 2.1l-2.4 0.4l-4.8-0.4l-3.4-2.1l-1.3-2.2l-0.2-2.2z" fill="#e12417" fill-rule="evenodd"/>
<path d="M1423.7 1062.6l-2.4 0.8l-1.3 1l-1.6 2.2l0.1 2.2l2.8 2.3l2.4 0.1l2.4-1.3l1-1.1l0.7-2.2l-0.6-2.2l-1.1-1.1zM1220.6 1095.5l-0.4 2.2l0.3 4.5l1.4 4.4l1.6 2.2l2.4 1.9l4.8 1.9l19.3 1.9l19.3 0.2l4.8-0.5l2.4-0.7l2.7-2.4l-0.4-2.3l-3.9-2.2l-15.3-2.8l-4.8-2.1l-2.4-1.8l-7.2-7.5l-2.5-1.6l-2.4-0.8l-7.2-0.5l-7.2 1.3l-3.9 2.5zM1546.8 1116.7l-0.7 1l-0.4 2.3l1.1 2.6l2.4 1.3l2.4 0l3.2-1.7l1-2.2l-0.7-2.3l-1.1-1.1l-2.4-1.5l-2.4 0zM1590.2 1191.1l2.5 2.6l2.4 0.7l4.8 0.3l4.8-0.6l2-0.7l2.2-2.3l-0.4-2.2l-1.4-0.7l-4.8-1l-4.8-0.3l-4.8 0.9l-1.9 1.1zM1515.2 1206.7l-0.4 2.2l0.8 4.5l1.4 2.2l3.3 2l14.4 3.3l2.5 0l1.4-0.9l1-2.2l-0.5-2.2l-1.5-2.2l-2.9-2.6l-6.1-4.1l-5.1-2.2l-3.2-0.4l-2.7 0.4zM1259.6 1210.8l-1.9 2.6l0.4 2.2l1.6 2.2l2.4 1.3l2.4-0.1l1.5-1.2l0.9-1.9l-0.7-2.5l-2.3-2.3l-1.8-0.6zM1061.8 1008.8l0.5 8.9l1.9 15.5l2.4-0.8l9.6-0.6l21.8 0.9l4.8-0.8l1.6-0.9l2.2-2.2l1.7-4.5l0.3-15.5M1263.5 1008.8l-0.7 8.9l-1.6 8.9l-2.2 4.4l-2.2 2.2l-2 1.2l-4.8 1.3l-7.3 0.3l-36.2-1.9l-12-0.2l-7.3 0.6l-4.8 1.9l-3.1 3.5l-1.4 4.5l-0.1 6.6l0.8 4.5l1.4 2.6l2.4 2.1l4.8 1.5l4.9 0.2l7.2-0.7l12.1-3.3l12-5.3l4.9-1.2l19.3-1l14.5-2.1l24.1-1.2l7.2-0.7l1-2l-0.6-2.3l-1.7-2.2l-8.3-4.2l-2.2-2.5l-0.8-2.2l-0.3-4.4l1.3-17.8M1341.8 1008.8l-0.5 13.3l-0.8 4.5l-1.2 2.4l-2.4 2.4l-2.5 1.2l-3.2 0.6l-8.8 0.6l-4.8 1.5l-3.1 2.4l-1.7 2.2l-1.4 4.5l1.3 2l4.9 0.7l4.8 2.1l1.9 1.8l4.9 6.7l2.8 1.7l4.9 1.1l4.8 0.3l4.8-0.2l4.8-1.4l2.5-1.7l4.9-6.5l2.3-1.6l2.4-1l7.2-0.7l19.3 0.2l4.9-1l2.4-1.3l2.4-2.4l3.8-5.5l8.3-6.6l2.4-3.5l1-3.3l-0.2-15.5M1385.8 1008.8l-0.3 13.3l-0.8 4.5l-2 3.4l-2.4 1.5l-2.4 0.3l-2.4-0.5l-2.4-1.9l-1.6-2.8l-0.8-4.5l0.1-13.3M1558.9 1008.8l-0.6 15.5l1 4.5l1.8 2.2l2.6 1.4l2.4 0.7l4.8 0.3l9.7-1.1l3-1.3l2.7-2.2l1.4-2.2l1.1-4.5l0.4-13.3M965.2 1037.1l29-0.8l4.8 0.2l4.8 0.9l2.5 1.3l3 3.4l1.5 4.5l1.6 8.9l2.1 4.4l3.8 2.8l4.8 1.2l2.5 0.2l0.8-2l0.5-4.4l0.7-2.2l1.7-2.3l3.5-1.9l29-3.7l3.9-1l-1.6-13.4l-2.3-0.4l-26.6 3.7l-4.8-0.4l-2.4-0.9l-2.4-1.9l-1.5-2.3l-1.3-4.4l-1.1-17.8M1066.1 1048.8l1.7 6.7l1.3 2.2l2.3 2.1l4.8 1.3l9.7 0.1l4.8 1.1l2.4 1.5l7.2 7.2l2.5 1.3l4.8 0.9l7.2-0.5l4.8-1.7l2.1-2.2l0.5-2.2l-0.6-2.2l-1.9-2.2l-7.2-4.5l-5.1-6.7l-2.2-1.8l-2.4-1.2l-7.3-1.2l-16.9-0.4l-9.6 0.6l-2.4 0.6zM1295.8 1053.2l1.1 2.3l1.3 1.2l2.4 1l2.5 0.1l2.4-0.8l2.2-1.5l1.5-2.3l0.8-2.2l0.3-2.9l-2.4-1.4l-9.7 0.2l-2.4 0.8l-0.4 1.1zM1607.1 1060.4l-4.8-0.9l-7.2 0.5l-4.9 2l-2.2 2.4l-1.6 4.4l0 8.9l1.4 5.6l2.4 3.4l2.5 1.2l2.4-0.1l1.8-1.2l5.4-8.6l6.1-4.7l2.1-2.3l1-2.2l0.2-2.2l-0.5-2.2l-1.6-2.5zM1026.8 1066.6l0.7 4.4l1.1 2.3l1.8 1.8l2.4 1.3l4.8 0.9l7.3 0l4.8-1.5l2.3-2.5l0.4-2.3l-0.6-2.2l-1.8-2.2l-2.7-1.3l-4.9-0.6l-14.4-0.2zM965.2 1074.3l19.3-0.1l4.9-0.6l2.4-0.9l2.4-1.6l1.1-2.3l-0.5-2.2l-2.6-2.2l-2.8-1l-4.9-0.5l-19.3 0.2M1155.4 1077.7l-1.5 2.2l-0.3 2.3l0.6 2.2l1.8 2.2l7.1 4.9l4.8 6.3l2.4 1.9l2.5 0.6l2.4-0.6l2.1-2l1.3-4.4l0.1-6.7l-0.7-4.4l-0.8-2.3l-1.7-2.2l-2.7-1.6l-2.2-0.6l-5.1-0.4l-4.8 0.3l-2.4 0.6zM1686.8 1077.3l-14.5-0.1l-5.4 0.5l-1.8 0.6l-2.7 1.6l-1.4 2.3l-0.1 2.2l1.7 3l2.5 1.6l2.4 0.8l4.8 0.5l14.5 0M1686.8 1115.3l-29 0.7l-6.2-0.5l-3.4-1.1l-1.9-1.1l-6.4-6.7l-3.8-2l-4.8-0.9l-7.3-0.1l-4.8 0.9l-2.4 1.7l-1.4 2.6l-0.5 4.5l0.3 13.3l-0.8 1.2l-29-2l-6.1-1.4l-3.2-2.2l-5.4-6.7l-7-5.1l-7.2-7.9l-2.5-1.6l-4.8-1.3l-9.6-0.6l-3.3-1.3l-2.5-2.2l-1.7-4.4l-1.8-15.6l-4.9-33.4l-0.9-2.2l-1.8-2.1l-2.4-1l-2.5 0l-2.5 0.9l-2.8 2.2l-4.3 4.5l-7.2 4.8l-6 6.3l-8.5 5.3l-4 5.8l-2.3 2.2l-3.4 1.7l-4.8 1.1l-1.6-0.6l-0.4-2.2l-0.3-13.3l-1.1-4.5l-1.8-2.2l-2-1.2l-2.5-0.6l-21.7 0.6l-19.3 4l-4.8 2.3l-4.8 3.9l-6.5 4.3l-2.3 2.3l-1.3 2.2l-0.9 4.4l-0.2 4.5l0.7 4.4l1 2.3l2.2 2.2l4.9 1.6l24.1 0.3l2.4-0.6l2.4-1.4l5.3-6.6l2-1.7l2.4-1.2l4.8-0.9l16.9-1.5l1.3 16.4l-0.6 4.5l-1.2 2.2l-2.1 2.2l-7 4.5l-2.4 2.2l-4.5 6.7l-9 6.6l-5.9 8l-2.4 1.8l-4.8 1.3l-7.3 0.2l-4.8-1l-2.4-1.6l-4.8-6.8l-2.4-2l-2.5-1.1l-4.8-0.8l-26.5-2.4l-9.7 0.1l-33.8 3l-2.4 0.9l-2.4 1.9l-2.4 3.7l-2.4 2.5l-2.4 0.6l-2.4-0.3l-2.5-1.3l-7.2-8l-7.2-4.1l-6.4-5.7l-3.3-1.8l-7.2-2.7l-14.5-3.1l-7.2-2.2l-4.9-2.7l-10-7.5l-4.5-2l-2.4-0.5l-9.6 0.1l-4.8 0.7l-6.3 1.7l-6 2.2l-4.5 2.3l-2.2 2.2l-1 2.2l-0.4 4.5l0.3 4.4l2.4 15.6l2.3 11.1l0.9 2.4l2.4 3.3l2.4 1.4l2.4 0.3l2.4-0.5l2.4-1.7l4.9-6.7l2.4-1.4l2.4-0.6l4.8-0.2l38.6 2.3l3.3 1.4l2.1 2.2l1.3 4.5l0 8.9l0.4 2.2l1.3 2.2l1.3 1.1l2.4 0.9l2.4-0.1l2.4-1l2.4-1.9l4.5-5.7l2.6-2.2l5-1.7l9.7 0l21.7 2.3l4.8 0l3.3-0.6l4.1-2.2l6-8.9l3.5-2.8l4.8-1.6l9.7-0.7l12 0.9l6.9 2l2.9 2.2l4.7 6.7l2.4 1.9l2.4 1.1l4.9 0.9l7.2 0.4l38.6 0.2l4.8 0.4l4.9 2.1l4.8 5.4l2.4 1.9l2.4 0.9l2.4 0.1l2.5-0.9l1.4-1.1l1.6-2.2l0.7-2.2l0.5-6.7l-0.5-6.7l-0.7-2.2l-1.5-2.2l-1.5-1.4l-5.6-3.1l-2.3-2.2l-0.7-2.2l0.2-2.3l1.3-2.2l3.1-2.2l4-1.3l4.8-0.6l7.2 0.3l2.4 0.6l2.4 1.3l1.8 1.9l4 6.7l6.3 4.8l1.7 1.9l3.1 6.1l2.6 2.8l4.7 1.4l7.2 0.4l4.8 0.8l2.5 1.1l6.2 5.2l3.4 2l7.2 2.1l7.3 1.2l3.6-0.9l3.6-2.4l7.3-7.5l4.8-2l7.2-0.5l26.6 1.8l0.8 1.7l1.2 6.7l5.2 14.5l2.4 3.6l4 4.1l1.2 2.2l1 4.5l0.4 6.7l1.5 4.4l2.2 2.2l4.2 1.8l19.3 1.5l0.4 1.2l0.4 22.2l-1 28.9M1615.9 1128.9l0.9-0.6l4.8 1l3.6 1.8l1.8 2.2l0.2 2.2l-1 2.3l-2.2 1.6l-2.4 0.9l-4.8 0.5l-1.9-0.8zM1313.7 1186.7l0.6 2.2l3.3 2.8l4.8 0.9l7.2 0.2l2.4-0.4l3.1-1.3l1.8-1.4l4-5.2l3.2-2.1l4.8-0.7l9.7 0.7l4.3 2.1l1.8 2.2l1.3 4.4l0.7 6.7l1.5 4.5l2.4 2.6l2.5 1.1l2.4 0.1l2.4-1l6-7.3l3.6-2l4.9-1.4l12-2.2l3.1-1.1l2.7-2.2l1.5-3.4l0.4-7.7l-0.4-2.3l-2.4-3.8l-7.3-5.2l-6-8.7l-1.2-1l-2.4-0.8l-2.5 0.1l-2.4 1l-7.2 7.8l-2.4 1.6l-2.4 0.8l-2.4 0l-2.5-1l-1.7-1.9l-3.1-4.9l-2.4-2.1l-4.8-1.1l-7.3 0.3l-4.8 1l-2.4 1.4l-6.8 7.7l-7.7 4.2l-6.1 6.9l-7.3 4.4l-1.9 2.3zM1686.8 1156.3l-21.7-1.2l-9.7-1.1l-4.8-1.3l-2.7-1.6l-2.2-2.4l-1.4-4.3l-0.3-4.4l0.4-4.5l0.9-2.2l1.9-2.2l3.4-1.8l7.2-1l29 0.5M965.2 1168.1l29 0.3l4.8-0.4l2.4-0.7l2.4-1.5l7.3-8.5l2.4-1.3l2.4-0.6l4.8-0.2l21.7 0.7l4.9 0.9l2.4 1l2.7 2.2l4.5 5.9l7.5 5.2l6.3 8.9l3.1 2.7l4.8 1.5l9.7 1.3l2.5 1.2l2.1 2.2l1.2 2.2l2.1 6.7l1.8 7.8l2.4 4.2l2.4 1.4l2.4 0.3l7.2-0.5l4.9 0.5l2.8 1.9l4.4 5.6l7.2 3.9l2 1.6l1.4 2.2l0.7 4.5l-0.5 15.5M1291 1173l-0.3 2.6l0.3 0.6l2.4 0.5l0.8-1.1l-0.2-2.3l-0.6-0.5zM1576.7 1186.7l-0.6 2.2l0 4.5l2.1 9.9l2.4 3.2l2.4 1.2l2.4 0.4l19.3-1.2l4.9-1.1l2.4-1.2l2.4-2.2l1.6-2.4l1.9-4.4l1.1-4.5l-0.3-4.4l-1.5-2.2l-2.8-1.5l-19.3-2.9l-4.9-0.2l-7.2 1.3l-2.4 1l-2.4 1.9zM1686.8 1194.4l-26.6-0.4l-1.6-0.6l0.4-4.5l0.8-2.2l1.5-2.2l3.1-2.3l5.5-1.1l16.9-0.3M1024.4 1246.7l-0.3-13.3l0.5-4.5l1-2.2l2.4-1.8l7.2-1.7l0.2-0.9l-1.2-4.5l-1.3-2.2l-2.5-2.6l-2.4-1.5l-7.3-1.4l-14.4-0.5l-41.1 2.9M1076 1246.7l0.1-11.1l-0.5-2.2l-1.8-2.4l-4.8-2.2l-16.9-1.6l-9.7-2.3l-4.8-0.6l-1.1 0.2l-0.4 2.2l0.2 20M1151.3 1246.7l-0.1-42.2l0.6-15.6l-0.8-4.4l-1.1-2.3l-2.1-2.2l-6.4-4.7l-4.8-7.1l-2.4-2l-2.5-0.7l-2.4 0l-9.6 2.6l-4.9 0.6l-2.4-0.2l-2.4-0.9l-2.4-2.4l-2.4-5.4l-2.4-3.1l-2.4-1.1l-2.4-0.3l-19.4 0.4l-4.8-0.6l-3.3-1.8l-1.7-2.2l-0.2-2.2l1.1-2.2l1.7-1.4l2.4-1.1l4.8-0.9l12.1-0.7l21.9-0.4l31.2-2.1l4.8-1.7l2.8-2.9l0-2.2l-2-2.2l-3.2-1.4l-4.8-0.6l-24.1 0.9l-14.5-0.4l-4.8-1.3l-2.5-1.4l-5.4-4.7l-4.2-1.6l-4.8-0.2l-14.5 1.2l-12.1-0.3l-12.1-1.7l-12.2-4.1l-7.1-1.4l-31.3-2.6l-26.6-0.1M1211.5 1246.7l-1.1-26.7l0.3-4.4l0.7-2.2l1.7-2.3l3.1-1.7l7.2-0.8l7.3 0.3l4.8 1.4l2.4 1.6l14.5 14.4l1.6 2.6l1.1 4.5l0.1 13.3M1278.2 1246.7l1.6-31.1l-1-4.5l-2.3-3.2l-7-5.6l-3.7-2.3l-3.7-1.4l-12.1-2.7l-4.8-1.7l-2.5-1.4l-4.2-3.9l-3.3-2.2l-16.6-4.4l-7.2-0.5l-4.9 0.4l-4.8 1.7l-2.4 1.9l-4.8 5.8l-2.4 1.8l-2.4 1.1l-4.9 0.9l-7.2 0.6l-4.8 1.2l-4 2.8l-1.4 2.3l-0.7 2.2l-0.4 4.4l0.4 4.5l1.2 2.9l2.4 2.4l4.9 1.7l9.6 0.4l4.9 0.7l2.4 1.2l2.4 2.2l1 1.8l1.1 4.5l0.7 15.5M1356.5 1246.7l-0.8-11.1l-1.8-6.7l-2.6-3.5l-2.4-1.4l-2.4-0.2l-2.4 1.1l-1.4 1.8l-0.8 2.2l-0.3 4.5l0.6 13.3M1453.2 1246.7l0.6-8.9l1.3-6.6l2.4-4.5l2.4-1.8l2.4-1l4.9-0.5l53.1 0l4.8 0.6l2.4 0.6l4.2 2.1l2.2 2.2l1.4 4.5l0 13.3M1544.9 1246.7l0.4-13.3l2.9-13.4l-0.9-4.4l-2.5-4.5l-3.5-4.4l-4.1-3.2l-9.2-3.5l-12.6-3.7l-2.4-1.2l-2.4-2l-4.8-6.5l-2.4-1.5l-2.4 0.7l-1.9 3.1l-0.8 4.5l-0.5 6.6l-1.1 4.5l-1.6 2.2l-3.8 2.1l-4.8 0.6l-19.3-0.3l-26.6-1.1l-4.8 0.2l-4.8 1.7l-2.4 2.1l-4.9 7.1l-7.2 6.8l-2 3l-1.1 4.5l0.3 13.3M1618.1 1246.7l-0.4-15.5l-0.7-4.5l-0.8-2.2l-1.8-2.5l-2.4-1.5l-4.9-0.8l-21.7 2.4l-14.5 0.9l-4.8 1l-2.4 1.2l-2.4 2.4l-1.5 3.6l-0.8 15.5M1255.7 1008.8l-0.9 11.6l-1.7 6.2l-1.7 2.2l-1.4 0.9l-2.4 0.9l-4.9 0.5l-4.8-0.3l-4.8-0.9l-2.9-1.1l-2.5-2.2l-0.8-2.3l-0.3-2.2l0.5-13.3M1310 1008.8l0.2 13.3l-0.7 4.5l-1.3 2.2l-2.7 2.4l-2.4 0.9l-2.4 0.3l-8.1-1.4l-1.6-0.6l-2.4-1.8l-1-4.3l0.6-15.5M1510.5 1008.8l-0.2 15.5l-1.4 4.5l-3.1 3.3l-7.3 4.8l-4.8 5l-2.4 1.5l-2.4 0.5l-2.4-0.6l-1.4-1.2l-1.5-2.2l-0.7-2.2l-0.7-8.9l-0.4-20M1420.4 1039.9l1.4-2.2l1.9-0.8l2.8 0.8l0.5 2.2l-0.9 1l-2.4 1.1l-2.4-0.7zM1206.2 1071l1-2.2l1.9-2.2l3.3-2.2l11-5.8l7.3-2.1l7.2-0.5l7.3 0.2l4.8 0.8l9.6 2.6l9.7 1l5 1.5l8.1 6.7l3.8 2.4l4.8 1.5l9.8 0.6l2.3 0.4l3.5 1.8l2 2.2l1.6 4.5l0.4 6.6l-0.3 4.5l-0.7 2.2l-1.7 2.7l-2.4 1.4l-2.4 0.2l-12.1-2.8l-14.5-2l-6.7-1.7l-12.6-5.7l-12-6.9l-4.9-1.4l-7.2-0.1l-16.9 2.5l-4.8 0.3l-2.4-0.7l-1.9-1.4l-0.6-0.9l-0.7-3.5zM1119.8 1108.8l-0.6 2.3l-1.9 2.5l-2.5 1.3l-4.8 0.8l-7.2-0.2l-9.7-2.1l-4.8-0.4l-19.3 1.2l-14.5-0.5l-7.2-1l-4.9-1.6l-2.8-2.3l-1.4-2.2l-0.5-4.4l0.7-4.5l0.8-2.2l1.6-2.2l1.6-1.2l4.9-1.5l12-0.6l2.5-1l2.4-1.6l6.7-7.5l2.9-2.2l4.8-1.6l7.3-0.6l4.8 1.3l2.4 1.7l2.4 3.4l0.9 4.7l0.3 11.1l1.4 4.5l2.3 1.6l2.4 0.4l12-1.7l2.5 0.8l1.2 1.1l1.2 2.2zM1591 1106.6l1.7-1.4l2.4-0.6l2.4 0.8l1.3 1.2l1 2.2l-0.6 2.3l-1.7 1.4l-2.4 0.4l-2.4-0.8l-1.2-1l-1-2.3zM1169.9 1122.2l0.4-2.3l2.5-2.6l4.8-1.4l7.2 0l4.9 1.5l2.4 2.2l1.1 2.6l-0.1 2.2l-1.1 2.2l-2.3 1.6l-4.9 0.9l-4.8 0l-4.8-0.9l-2.4-1.2l-2.3-2.6zM1157.2 1146.7l3.5-3.3l4.8-1.7l9.7 0.3l4.8 1.5l3.6 3.2l1.8 4.4l0.6 6.7l-1.2 5.1l-2.4 2.8l-2.4 1.1l-2.4 0.4l-9.7-0.9l-5.4-1.9l-3.1-2.2l-1.7-2.2l-0.9-2.2l-0.7-6.7l0.2-2.2zM1502 1157.8l2-2.3l3.4-2.2l8-2.9l9.7-0.9l7.2 0.5l4.9 1.6l14.4 7.4l9.7 6.8l8.8 3.1l-2.4 17.8l0.9 15.6l-0.6 2.2l-1.3 2.2l-3 1.9l-2.4 0.5l-4.8 0.3l-2.5-0.5l-2.4-1.1l-6.5-5.5l-3.5-2.3l-14.1-4.4l-5.6-2.2l-4.1-2.3l-2.4-2.2l-2.4-3.4l-7.2-14.8l-4.3-6.3l-0.6-2.2l0.2-2.2zM1615.6 1168.9l-0.2 2.2l-1 2.7l-2.4 1.9l-4.9 0.7l-4.8-1l-12.1-6l-4.8-0.7l-12-0.5l-2.5-0.4l-0.4-1.1l1.1-4.5l1.2-2.2l3-3.1l2.4-1.6l4.8-1.3l7.2-0.5l9.7-2.3l4.8-0.3l2.4 0.5l2.5 1.3l2.8 2.8l1.3 2.3l1.3 4.4zM1215.7 1157.8l2-2.3l3.3-1.5l4.9-0.7l4.8 0.2l2.4 0.4l3.3 1.6l2.1 2.3l4.1 6.6l2.6 1.7l2.4 0.3l7.2-1.6l7.3-0.8l9.6 0.3l4.8 1.1l2.4 1.5l1.7 2l1.5 4.4l0.7 8.9l-0.4 4.5l-0.6 2.2l-1.4 2.2l-1.5 1.3l-2.4 1l-2.4 0.2l-12-2.1l-4.9-1.5l-2.4-1.3l-9.6-7.3l-4.9-2.1l-7.2-1.9l-3.9-1.8l-5.8-5.8l-4.8-3.1l-2.4-2.3l-1-2.2l-0.2-2.2zM1116.8 1157.8l0.5-0.7l2.2 0.7l-2.2 0.7zM1428.6 1160.1l2.4-2.3l2.4-1l4.8-0.7l7.3 0.2l5.1 1.5l2.9 2.2l4 4.6l3.4 2.1l3.9 0.9l12 0.4l4.9 1.5l2.4 2.6l1 3.5l-0.4 6.6l-1.8 6.7l-1.5 2.2l-4.6 3.5l-7.2 2.9l-4.8 0.9l-4.9-0.2l-12-3.3l-12.1-0.8l-4.8-1.5l-1.8-1.5l-1.3-2.2l-0.7-4.4l-0.2-17.8l0.6-4.5zM1024.9 1173.3l2.4-2.2l3.1-1.1l2.4 0l2.4 0.8l2.4 2.3l2.7 4.7l2.3 2.2l4.7 1.8l9.6 1.6l2.4 1.3l6.1 6.4l3.3 2.3l12.4 3.9l4.7 2.7l2.5 3.2l1.3 3.5l2.8 13.3l0.1 2.3l-0.7 2.2l-5.9 0.1l-12.1-1.9l-16.9-1.5l-4.5-1.2l-2.7-1.7l-9.9-9.4l-7-9.6l-7.2-5.5l-2-2.7l-1.1-4.4l0-4.5l0.6-4.8zM1404.4 1201l2.4 0.4l2.5 1.5l1 1.6l0.7 4.4l-0.2 4.5l-1.5 3.9l-2.5 2.6l-2.4 1l-2.4-0.1l-2.4-1.5l-1.1-1.5l-1.7-4.4l-0.4-4.5l0.9-4.4l2-2.2l2.7-1.1zM1092 1246.7l1.1-20.7l2.4-0.7l4.9 0.5l2.4 0.8l2.6 2.3l1.1 4.5l-0.3 13.3M1226.8 1246.7l-0.2-13.3l0.4-4.5l1.3-2.6l2.4-1.8l2.4-0.2l2.4 0.7l2.4 1.6l1.8 2.3l1 2.3l0.6 4.4l0.1 11.1M1286.1 1246.7l1.3-28.9l1.3-6.7l2.3-2.6l2.4-1.1l4.8-0.7l12.1-0.6l4.8 0.2l4.9 1.3l2.4 1.9l2.1 3.9l1 6.6l1.8 26.7M1516.6 1246.7l0.4-13.3l1.1-2.2l2.2-1.3l2.4-0.4l2.4 0.8l1 0.9l1 2.2l0.2 13.3M1220 1068.8l0.7-2.2l2-2.2l4.1-2.3l3.9-1l4.8-0.5l7.2 0.4l3.8 1.1l5.9 5.2l2.4 1.2l14.5 2.4l4.8 1.9l3.7 2.7l2 2.2l1.1 2.2l0.2 2.3l-1 2.2l-1.2 1.1l-2.4 1.1l-4.8 0l-7.2-1.9l-7.3-2.7l-3.8-2.1l-8.2-6.2l-1.4-0.4l-5.9-0.8l-12 0.5l-2.5-0.5l-2.4-1.4zM1067.8 1097.7l0.8-2.2l2.8-3.6l2.4-1.9l4.8-2.2l7.3-0.8l2.4 0.6l1.4 1.2l1.4 2.3l0.4 4.4l-0.8 3.8l-2.4 3.4l-2.4 1.4l-7.3 1.2l-4.8-0.2l-2.3-0.7l-2.7-2.2l-1-2.2zM1513 1159.5l2.4-2l4.9-1.6l7.2-0.4l4.8 0.6l4.9 2l14.1 10.8l4 4.4l1.7 4.5l0.7 6.7l-0.1 4.4l-1.6 4.5l-2.6 2.2l-1.8 0.6l-2.4 0.1l-16.9-3.8l-3.6-1.4l-3.6-2.2l-7.3-6.3l-3.1-4.8l-1.6-4.5l-1.6-8.9l0.2-2.2zM1601.3 1160l1-0.9l2.4-0.8l2.4 0.7l1 1l1.1 2.2l-0.1 2.2l-1.3 2.3l-0.7 0.5l-2.4 0.2l-2.4-1.5l-1.2-1.5l-0.7-2.2zM1253.7 1175.6l0.8-2.3l3-2.2l4.6-1l7.2 0l4.1 1l2.5 2.2l0.9 2.3l0 2.2l-0.8 2.2l-1.9 2.2l-2.4 1.1l-2.4 0.4l-4.8-0.1l-4.9-1.1l-2.4-1.5l-2.9-3.2zM1459.9 1180.6l2.4-0.6l2.5-0.1l2.4 0.7l2.2 1.6l1 2.3l-0.1 2.2l-1.2 2.2l-3.1 2.2l-3.7 0.7l-2.4-0.5l-3.2-2.4l-1-2.2l0.2-2.2l1.4-2.3zM1062.5 1204.5l1.7-1.6l2.4-1l2.4-0.2l3.6 0.6l4.1 2.2l1.5 2.2l0.1 2.2l-1.2 2.2l-3.3 2.1l-2.4 0.4l-4.8-0.4l-3.4-2.1l-1.3-2.2l-0.2-2.2z" fill="none" stroke="#111" stroke-width="0.8"/>
<ellipse cx="1231" cy="1044.5" rx="13.5" ry="6" transform="rotate(12 1231 1044.5)" fill="#6b9fcf" stroke="#111" stroke-width="0.8"/>
<ellipse cx="1117.7" cy="1154.8" rx="5.5" ry="8" transform="rotate(0 1117.7 1154.8)" fill="#ea967a" stroke="#111" stroke-width="0.8"/>
<ellipse cx="1416" cy="1040" rx="7" ry="8.5" transform="rotate(15 1416 1040)" fill="#ea967a" stroke="#111" stroke-width="0.8"/>
<ellipse cx="1596.4" cy="1112.5" rx="9.5" ry="6.5" transform="rotate(0 1596.4 1112.5)" fill="#ea967a" stroke="#111" stroke-width="0.8"/>
<path d="M1031.4 1172.9h0M1031.4 1179.0h0M1031.4 1185.0h0M1031.4 1191.1h0M1048.8 1094.1h0M1048.8 1100.2h0M1048.8 1106.2h0M1048.8 1185.0h0M1048.8 1191.1h0M1048.8 1197.1h0M1048.8 1203.2h0M1048.8 1209.3h0M1048.8 1215.3h0M1066.2 1088.1h0M1066.2 1094.1h0M1066.2 1100.2h0M1066.2 1106.2h0M1066.2 1112.3h0M1066.2 1197.1h0M1066.2 1203.2h0M1066.2 1209.3h0M1066.2 1215.3h0M1083.5 1082.0h0M1083.5 1088.1h0M1083.5 1094.1h0M1083.5 1100.2h0M1083.5 1106.2h0M1083.5 1112.3h0M1083.5 1203.2h0M1083.5 1209.3h0M1083.5 1215.3h0M1083.5 1221.4h0M1100.9 1106.2h0M1100.9 1112.3h0M1170.4 1142.6h0M1170.4 1148.7h0M1170.4 1154.7h0M1170.4 1160.8h0M1187.8 1118.4h0M1187.8 1124.4h0M1222.5 1063.8h0M1222.5 1069.9h0M1222.5 1075.9h0M1222.5 1100.2h0M1222.5 1160.8h0M1222.5 1166.8h0M1239.9 1021.4h0M1239.9 1027.5h0M1239.9 1057.8h0M1239.9 1063.8h0M1239.9 1069.9h0M1239.9 1075.9h0M1239.9 1094.1h0M1239.9 1100.2h0M1239.9 1106.2h0M1239.9 1112.3h0M1239.9 1166.8h0M1239.9 1172.9h0M1257.2 1063.8h0M1257.2 1069.9h0M1257.2 1075.9h0M1257.2 1082.0h0M1257.2 1106.2h0M1257.2 1112.3h0M1257.2 1166.8h0M1257.2 1172.9h0M1257.2 1179.0h0M1257.2 1185.0h0M1274.6 1063.8h0M1274.6 1069.9h0M1274.6 1075.9h0M1274.6 1082.0h0M1274.6 1088.1h0M1274.6 1112.3h0M1274.6 1166.8h0M1274.6 1172.9h0M1274.6 1179.0h0M1274.6 1185.0h0M1274.6 1191.1h0M1292.0 1021.4h0M1292.0 1027.5h0M1292.0 1075.9h0M1292.0 1082.0h0M1292.0 1088.1h0M1292.0 1094.1h0M1292.0 1215.3h0M1292.0 1221.4h0M1292.0 1227.4h0M1309.3 1088.1h0M1309.3 1209.3h0M1309.3 1215.3h0M1309.3 1221.4h0M1309.3 1227.4h0M1430.9 1160.8h0M1430.9 1166.8h0M1430.9 1172.9h0M1430.9 1179.0h0M1430.9 1185.0h0M1448.3 1160.8h0M1448.3 1166.8h0M1448.3 1172.9h0M1448.3 1179.0h0M1448.3 1185.0h0M1448.3 1191.1h0M1465.7 1172.9h0M1465.7 1179.0h0M1465.7 1185.0h0M1465.7 1191.1h0M1465.7 1197.1h0M1483.0 1021.4h0M1483.0 1179.0h0M1483.0 1185.0h0M1500.4 1021.4h0M1500.4 1027.5h0M1500.4 1033.5h0M1517.8 1154.7h0M1517.8 1160.8h0M1517.8 1166.8h0M1517.8 1172.9h0M1517.8 1179.0h0M1517.8 1185.0h0M1517.8 1209.3h0M1535.2 1154.7h0M1535.2 1160.8h0M1535.2 1166.8h0M1535.2 1172.9h0M1535.2 1179.0h0M1535.2 1185.0h0M1535.2 1191.1h0M1535.2 1197.1h0M1535.2 1215.3h0M1552.5 1118.4h0M1552.5 1160.8h0M1552.5 1166.8h0M1552.5 1172.9h0M1552.5 1179.0h0M1552.5 1185.0h0M1552.5 1191.1h0M1552.5 1197.1h0M1552.5 1203.2h0M1587.3 1160.8h0M1587.3 1166.8h0M1604.6 1154.7h0M1604.6 1160.8h0M1604.6 1166.8h0M1604.6 1172.9h0M1604.6 1191.1h0" stroke="#000" stroke-width="3.9" stroke-linecap="round" fill="none"/>
</g>
<line x1="1178.5" y1="1237.0" x2="1178.5" y2="1018.5" stroke="#000" stroke-width="2.2" stroke-dasharray="15.5 8.5"/>
<line x1="1317.0" y1="1237.0" x2="1317.0" y2="1018.5" stroke="#000" stroke-width="2.2" stroke-dasharray="15.5 8.5"/>
<line x1="1456.2" y1="1237.0" x2="1456.2" y2="1018.5" stroke="#000" stroke-width="2.2" stroke-dasharray="15.5 8.5"/>
<line x1="1595.4" y1="1237.0" x2="1595.4" y2="1018.5" stroke="#000" stroke-width="2.2" stroke-dasharray="15.5 8.5"/>
<polyline points="978.4,1034.9 995.9,1044.8 1013.4,1058.8 1030.7,1045.8 1048.0,1045.8 1065.5,1065.7 1082.8,1065.7 1100.3,1056.8 1117.6,1070.7 1135.1,1060.8 1152.4,1069.3 1169.9,1120.4 1187.2,1136.7 1204.7,1135.3 1222.0,1090.0 1239.5,1105.5 1256.8,1153.6 1274.3,1157.8 1291.6,1150.8 1309.1,1157.2 1326.0,1172.1 1343.3,1190.0 1360.8,1183.4 1378.1,1178.1 1395.6,1177.1 1412.9,1154.6 1430.4,1145.9 1447.7,1140.9 1465.2,1164.2 1482.5,1172.1 1500.0,1180.1 1517.3,1211.9 1534.8,1229.8 1552.1,1216.9 1569.6,1209.9 1586.9,1199.0 1604.4,1209.5 1621.7,1209.5 1639.2,1221.8 1656.5,1203.9 1673.0,1203.9" fill="none" stroke="#fa1c10" stroke-width="3.4" stroke-linejoin="round" />
<line x1="1205.7" y1="1057.8" x2="1360.8" y2="1106.5" stroke="#000" stroke-width="5" stroke-dasharray="19 18"/>
<line x1="1151.0" y1="1152.2" x2="1308.1" y2="1194.0" stroke="#000" stroke-width="5" stroke-dasharray="19 19"/>
<line x1="1500.0" y1="1137.3" x2="1586.5" y2="1215.9" stroke="#000" stroke-width="5" stroke-dasharray="19 19.5"/>
<line x1="978.5" y1="1018.5" x2="978.5" y2="1237.0" stroke="#000" stroke-width="1.6" />
<line x1="978.5" y1="1018.5" x2="1673.5" y2="1018.5" stroke="#000" stroke-width="1.6" />
<line x1="978.5" y1="1237.0" x2="1673.5" y2="1237.0" stroke="#000" stroke-width="1.6" />
<line x1="1673.5" y1="1018.5" x2="1673.5" y2="1237.0" stroke="#d95319" stroke-width="2.0" />
<line x1="1673.5" y1="1018.5" x2="1681.5" y2="1018.5" stroke="#d95319" stroke-width="1.8" />
<text x="1690.5" y="1028.0" font-size="28" text-anchor="start" fill="#d95319" >4</text>
<line x1="1673.5" y1="1062.0" x2="1681.5" y2="1062.0" stroke="#d95319" stroke-width="1.8" />
<text x="1690.5" y="1071.5" font-size="28" text-anchor="start" fill="#d95319" >2</text>
<line x1="1673.5" y1="1106.0" x2="1681.5" y2="1106.0" stroke="#d95319" stroke-width="1.8" />
<text x="1690.5" y="1115.5" font-size="28" text-anchor="start" fill="#d95319" >0</text>
<line x1="1673.5" y1="1149.5" x2="1681.5" y2="1149.5" stroke="#d95319" stroke-width="1.8" />
<text x="1690.5" y="1159.0" font-size="28" text-anchor="start" fill="#d95319" >-2</text>
<line x1="1673.5" y1="1193.5" x2="1681.5" y2="1193.5" stroke="#d95319" stroke-width="1.8" />
<text x="1690.5" y="1203.0" font-size="28" text-anchor="start" fill="#d95319" >-4</text>
<line x1="1673.5" y1="1237.0" x2="1681.5" y2="1237.0" stroke="#d95319" stroke-width="1.8" />
<text x="1690.5" y="1246.5" font-size="28" text-anchor="start" fill="#d95319" >-6</text>
<text transform="translate(1746.0,1125.8) rotate(-90)" font-size="28.3" text-anchor="middle" fill="#d95319">Zonal wind (m/s)</text>
<line x1="1134.5" y1="1237.0" x2="1134.5" y2="1244.0" stroke="#000" stroke-width="1.6" />
<line x1="1134.5" y1="1011.5" x2="1134.5" y2="1018.5" stroke="#000" stroke-width="1.6" />
<text x="1134.5" y="1277.7" font-size="28" text-anchor="middle" fill="#000" >30 Jun</text>
<line x1="1308.5" y1="1237.0" x2="1308.5" y2="1244.0" stroke="#000" stroke-width="1.6" />
<line x1="1308.5" y1="1011.5" x2="1308.5" y2="1018.5" stroke="#000" stroke-width="1.6" />
<text x="1308.5" y="1277.7" font-size="28" text-anchor="middle" fill="#000" >31 Jul</text>
<line x1="1482.0" y1="1237.0" x2="1482.0" y2="1244.0" stroke="#000" stroke-width="1.6" />
<line x1="1482.0" y1="1011.5" x2="1482.0" y2="1018.5" stroke="#000" stroke-width="1.6" />
<text x="1482.0" y="1277.7" font-size="28" text-anchor="middle" fill="#000" >31 Aug</text>
<line x1="1655.5" y1="1237.0" x2="1655.5" y2="1244.0" stroke="#000" stroke-width="1.6" />
<line x1="1655.5" y1="1011.5" x2="1655.5" y2="1018.5" stroke="#000" stroke-width="1.6" />
<text x="1655.5" y="1277.7" font-size="28" text-anchor="middle" fill="#000" >30 Sep</text>
<line x1="971.5" y1="1055.0" x2="978.5" y2="1055.0" stroke="#000" stroke-width="1.6" />
<text x="963.3" y="1065.0" font-size="28" text-anchor="end" fill="#000" >120°E</text>
<line x1="971.5" y1="1091.5" x2="978.5" y2="1091.5" stroke="#000" stroke-width="1.6" />
<text x="963.3" y="1101.5" font-size="28" text-anchor="end" fill="#000" >60°E</text>
<line x1="971.5" y1="1127.5" x2="978.5" y2="1127.5" stroke="#000" stroke-width="1.6" />
<text x="963.2" y="1137.5" font-size="28" text-anchor="end" fill="#000" >0</text>
<line x1="971.5" y1="1164.5" x2="978.5" y2="1164.5" stroke="#000" stroke-width="1.6" />
<text x="961.5" y="1174.5" font-size="28" text-anchor="end" fill="#000" >60°W</text>
<line x1="971.5" y1="1200.0" x2="978.5" y2="1200.0" stroke="#000" stroke-width="1.6" />
<text x="961.5" y="1210.0" font-size="28" text-anchor="end" fill="#000" >120°W</text>
<text x="929.0" y="1010.0" font-size="28" text-anchor="start" fill="#000" >(h)</text>
<text x="1327.0" y="1313.0" font-size="28" text-anchor="middle" fill="#000" >date</text>
</svg>
</body></html>
